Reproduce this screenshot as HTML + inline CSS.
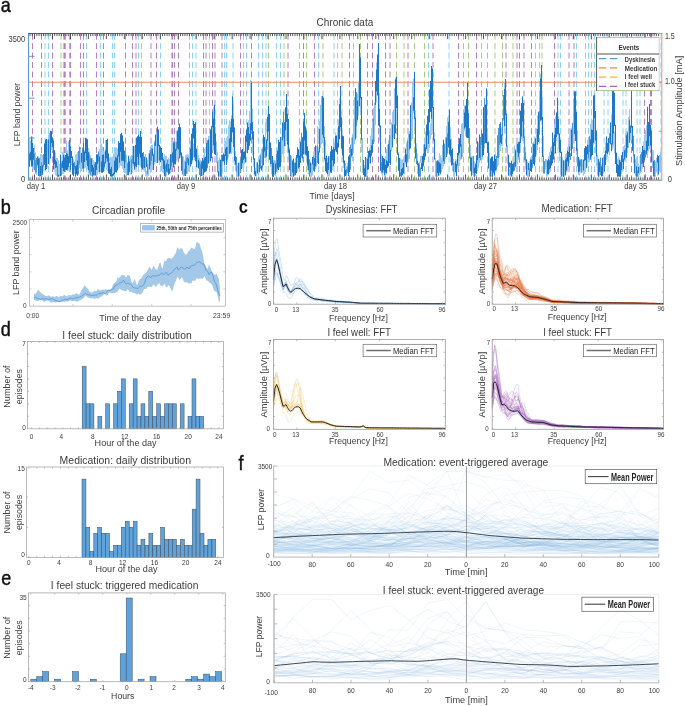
<!DOCTYPE html>
<html lang="en"><head><meta charset="utf-8"><title>Chronic data</title>
<style>
html,body{margin:0;padding:0;background:#fff}
body{width:685px;height:706px;overflow:hidden}
svg{display:block;font-family:"Liberation Sans",Arial,sans-serif;fill:#333}
svg line,svg polyline{stroke-linecap:butt}
</style></head><body>
<svg width="685" height="706" viewBox="0 0 685 706">
<rect width="685" height="706" fill="#fff"/>
<g id="panel-a">
<text transform="translate(0.7 12.3) scale(0.9 1)" font-size="20" fill="#111" stroke="#111" stroke-width="0.45">a</text>
<text transform="translate(344.9 25.5)" font-size="10.6" text-anchor="middle" fill="#3c3c3c" textLength="56.7" lengthAdjust="spacingAndGlyphs">Chronic data</text>
<path d="M61 33.7V180M69.5 33.7V180M189.5 33.7V180M268.5 33.7V180M284 33.7V180M299.5 33.7V180M306.5 33.7V180M323 33.7V180M342 33.7V180M360.5 33.7V180M396.5 33.7V180M404 33.7V180M414.5 33.7V180M424.5 33.7V180M463.5 33.7V180M468.5 33.7V180M481.5 33.7V180M487.5 33.7V180M495 33.7V180M502.5 33.7V180M513 33.7V180M542 33.7V180" stroke="#a9cd80" stroke-width="1" stroke-dasharray="6 3.45" fill="none"/>
<path d="M45 33.7V180M48.5 33.7V180M63.5 33.7V180M86.5 33.7V180M100.5 33.7V180M112.5 33.7V180M114.5 33.7V180M138.5 33.7V180M141.5 33.7V180M160.5 33.7V180M171.5 33.7V180M192.5 33.7V180M196 33.7V180M209.5 33.7V180M224.5 33.7V180M226.5 33.7V180M233 33.7V180M243.5 33.7V180M246.5 33.7V180M258.5 33.7V180M262.5 33.7V180M266 33.7V180M276.5 33.7V180M280.5 33.7V180M318.5 33.7V180M334 33.7V180M337.5 33.7V180M353.5 33.7V180M428.5 33.7V180M449 33.7V180M535.5 33.7V180M539.5 33.7V180M558 33.7V180M560.5 33.7V180M576.5 33.7V180M585.5 33.7V180M588.5 33.7V180M591.5 33.7V180M594.5 33.7V180M604 33.7V180M608 33.7V180M623 33.7V180M626 33.7V180M637 33.7V180M640 33.7V180M661 33.7V180" stroke="#8ed3f6" stroke-width="1" stroke-dasharray="6 3.45" fill="none"/>
<path d="M32.5 33.7V180M41.5 33.7V180M52.5 33.7V180M64.5 33.7V180M70.5 33.7V180M80.5 33.7V180M83.5 33.7V180M96.5 33.7V180M103.5 33.7V180M125.5 33.7V180M132.5 33.7V180M136 33.7V180M151 33.7V180M156.5 33.7V180M172.5 33.7V180M174.5 33.7V180M178.5 33.7V180M203.5 33.7V180M206 33.7V180M212.5 33.7V180M215 33.7V180M222 33.7V180M240.5 33.7V180M251.5 33.7V180M288 33.7V180M303.5 33.7V180M314.5 33.7V180M349.5 33.7V180M367.5 33.7V180M372.5 33.7V180M378.5 33.7V180M385.5 33.7V180M390 33.7V180M408 33.7V180M433 33.7V180M458.5 33.7V180M476.5 33.7V180M506 33.7V180M517 33.7V180M519.5 33.7V180M524 33.7V180M531.5 33.7V180M554.5 33.7V180M569 33.7V180M574 33.7V180M631.5 33.7V180M644.5 33.7V180M650.5 33.7V180M651.5 33.7V180" stroke="#b482c2" stroke-width="1" stroke-dasharray="6 3.45" fill="none"/>
<path d="M65.5 33.7V180" stroke="#e9b04a" stroke-width="1" stroke-dasharray="6 3.45" fill="none"/>
<line x1="28.5" y1="82.3" x2="661.8" y2="82.3" stroke="#ee8a66" stroke-width="1.1"/>
<path d="M29.5 138.7V162.5M30.5 140.4V161.4M31.5 139.4V162.1M32.5 136.6V169.3M33.5 149.4V169.5M34.5 144.8V162.7M35.5 152.2V173.9M36.5 159.5V174.9M37.5 155.9V167.7M38.5 156.5V175.3M39.5 157.5V176.7M40.5 154.1V175.8M41.5 154.2V174.3M42.5 155.1V165.3M43.5 155.6V171.3M44.5 155.2V163.1M45.5 148.9V163.4M46.5 145.5V163.8M47.5 139.8V167.5M48.5 134.6V157.6M49.5 143V165M50.5 143.6V151.8M51.5 131.2V149.7M52.5 137.7V150.7M53.5 138.2V165.9M54.5 157.6V171.4M55.5 152.5V175.2M56.5 158.1V176M57.5 157.9V174.4M58.5 160.2V176.7M59.5 163.7V172.2M60.5 158V175.5M61.5 161V175.5M62.5 151.7V174.1M63.5 152V173.7M64.5 153.8V168.2M65.5 160V167.2M66.5 140.6V166.1M67.5 150.2V170.9M68.5 141.2V170.6M69.5 140V159.2M70.5 142.2V170.4M71.5 152.1V165.1M72.5 158.6V171.1M73.5 159.3V176.1M74.5 164.7V173.9M75.5 154.8V176.6M76.5 154V167.1M77.5 151.9V174.6M78.5 152.1V172.9M79.5 148.4V167.9M80.5 149.3V172.5M81.5 152.7V171M82.5 150.7V168.7M83.5 151.2V165.1M84.5 150V168.3M85.5 137.8V167.8M86.5 146.5V165.4M87.5 146.8V169.5M88.5 148.1V173.7M89.5 151.3V174.5M90.5 155.6V175.9M91.5 157.7V176.3M92.5 158V171.6M93.5 159.9V176.6M94.5 161.8V172.1M95.5 162.1V175.9M96.5 166.5V175.5M97.5 156.7V174.7M98.5 154V172.3M99.5 148.8V173.8M100.5 144.3V165.8M101.5 143.4V166.8M102.5 146.6V155.4M103.5 150.7V171.1M104.5 151.5V170.9M105.5 140.1V157.2M106.5 140V169.8M107.5 151.5V171.3M108.5 154V171.9M109.5 157.4V172.1M110.5 156.7V176.1M111.5 157.3V172.7M112.5 156.9V175.9M113.5 153.5V174.9M114.5 150.3V166.1M115.5 147.6V171.3M116.5 147.5V169.4M117.5 148.5V169.9M118.5 141V168.5M119.5 145.8V167.4M120.5 134.2V165.4M121.5 144V165.9M122.5 153.8V168.4M123.5 158.1V171.9M124.5 157.9V173.1M125.5 157.7V173.6M126.5 154.9V176.4M127.5 162V175M128.5 156.2V173.8M129.5 159V172.2M130.5 156.3V174.7M131.5 155.3V172.2M132.5 145.6V172.7M133.5 156.4V166.2M134.5 146.3V166.5M135.5 146.1V168.1M136.5 136.9V167.8M137.5 142.2V165.1M138.5 145.5V160.3M139.5 147.9V165.8M140.5 131V166.6M141.5 138.2V167.2M142.5 156V168.9M143.5 154.8V170.4M144.5 160.4V171.8M145.5 162.7V175.9M146.5 170.6V176.8M147.5 159.7V176.8M148.5 153.6V174.3M149.5 149.9V167.2M150.5 146.5V172.7M151.5 145V171.2M152.5 144.4V169.8M153.5 153.4V165.6M154.5 140.8V164.8M155.5 144.8V162.5M156.5 136.1V160.5M157.5 134.2V154.7M158.5 129.6V161.5M159.5 153.1V165.3M160.5 152V163.1M161.5 151.2V171M162.5 154.4V172.2M163.5 156.9V173.4M164.5 154.1V176.7M165.5 156V176.8M166.5 156.2V176.5M167.5 160.4V170.5M168.5 157.6V171M169.5 158.7V168.7M170.5 165.9V173M171.5 143.2V167.2M172.5 139.5V168.2M173.5 140.7V163.3M174.5 143.9V165.3M175.5 141.8V162.5M176.5 131.1V161.5M177.5 133V160.6M178.5 141.9V157.6M179.5 123.7V155.4M180.5 143.7V157.8M181.5 154.7V169.3M182.5 156.3V171.7M183.5 156.6V176.5M184.5 160.6V171.1M185.5 155.3V175.9M186.5 154.4V174M187.5 154.5V173.8M188.5 154.4V171.3M189.5 149V166.6M190.5 140.6V163.6M191.5 141.4V163.6M192.5 130.5V159.9M193.5 143.4V157.4M194.5 138.5V160.1M195.5 122.3V159.8M196.5 148.4V162.8M197.5 145.7V168.1M198.5 154.9V164.9M199.5 157.9V174.7M200.5 159.9V176.8M201.5 162.8V173.1M202.5 160.9V176.3M203.5 154.4V170.5M204.5 148.8V166.9M205.5 155.5V169.8M206.5 149.8V169.4M207.5 140.2V158.3M208.5 136V149.9M209.5 135.6V161.7M210.5 148.9V159.2M211.5 127V158.6M212.5 123V150.2M213.5 106.8V150.5M214.5 104.8V143.5M215.5 126.8V149.7M216.5 141.6V160.9M217.5 151.7V169.3M218.5 160.1V175.5M219.5 167.1V173M220.5 163.7V172.6M221.5 163.9V172.3M222.5 157.1V173.5M223.5 152.4V162.1M224.5 144.1V166.8M225.5 141.1V160.6M226.5 139.1V164.7M227.5 135.7V162.1M228.5 125.6V157.5M229.5 120.1V152.3M230.5 121.4V153.9M231.5 115.3V154.1M232.5 93.6V130M233.5 104V132.7M234.5 131.4V164.7M235.5 151.3V171.1M236.5 163.7V176.8M237.5 165.8V175.9M238.5 167.3V174.2M239.5 167.1V176.5M240.5 158.4V170M241.5 151.2V167.9M242.5 149V168.3M243.5 137.3V168M244.5 151.2V164.1M245.5 140.5V159.3M246.5 132.4V152.6M247.5 126.9V147.5M248.5 120.6V145.1M249.5 111.1V144.9M250.5 80.1V140.2M251.5 82.6V113.9M252.5 108.5V155.6M253.5 151.6V166.9M254.5 159V176.8M255.5 168V176.5M256.5 162.2V176.8M257.5 163.7V174M258.5 165.5V174.5M259.5 154.9V169.9M260.5 153.4V169.2M261.5 148.6V164.2M262.5 147.6V166.3M263.5 143.9V163M264.5 144.3V158.1M265.5 122.1V147.2M266.5 118.9V131.7M267.5 114.4V149.8M268.5 106V157.3M269.5 136.8V158.5M270.5 148.1V167M271.5 150.5V174.3M272.5 158.7V176.8M273.5 159.8V176.4M274.5 160V175.2M275.5 160.4V176.3M276.5 151.1V164.7M277.5 147.6V172.7M278.5 153.1V169.8M279.5 151.6V167.8M280.5 142.8V164.9M281.5 136.8V162.6M282.5 133.6V153.9M283.5 135.7V156.7M284.5 126.8V146.8M285.5 122.4V146.2M286.5 95.4V141.1M287.5 107.4V151.9M288.5 132.7V160.7M289.5 147.3V159.9M290.5 158.6V168.1M291.5 156V176.8M292.5 163.6V176.8M293.5 167.4V175.3M294.5 162.3V176M295.5 157.6V173.5M296.5 157.3V173.3M297.5 151.3V171.7M298.5 150.7V160.7M299.5 143.8V164.4M300.5 140.6V159.1M301.5 146.5V157.9M302.5 139.7V160.9M303.5 123.8V146.2M304.5 116.5V154.8M305.5 125.1V155.1M306.5 138V162M307.5 157.6V169.8M308.5 159.4V174.3M309.5 163.2V174M310.5 161.6V176.8M311.5 165.8V176.8M312.5 161.3V175.6M313.5 151.6V166.5M314.5 151.3V171.8M315.5 150V168.9M316.5 146V154.5M317.5 126.1V162.4M318.5 127.7V143.4M319.5 121V144.1M320.5 122.1V144.2M321.5 122.4V144.1M322.5 109.2V143.1M323.5 97.8V146.4M324.5 126V161.6M325.5 140.2V166.5M326.5 158.7V168.9M327.5 158.1V176.8M328.5 161.9V176.5M329.5 156V176.8M330.5 155.7V163.9M331.5 158.3V173.1M332.5 152.1V170.4M333.5 138.9V165.4M334.5 142.6V163M335.5 132.5V151.4M336.5 135.1V152.6M337.5 128.4V140.8M338.5 119.5V144.3M339.5 98.3V138.3M340.5 86V131M341.5 110.8V131M342.5 129.7V159.2M343.5 137.9V167.9M344.5 161.5V176.8M345.5 163.1V172M346.5 166.4V176.8M347.5 163.1V173.1M348.5 156.4V172.3M349.5 154V171.4M350.5 151.6V163.8M351.5 137.5V157.7M352.5 133.8V160.9M353.5 124.2V150.6M354.5 123.7V141.6M355.5 125.6V140.4M356.5 100.2V137.8M357.5 94.1V122.1M358.5 86.1V114.3M359.5 44V87.4M360.5 74.6V114.6M361.5 113.3V152.2M362.5 141.8V169.9M363.5 163V172.7M364.5 165.1V176.8M365.5 158.6V176.8M366.5 157.8V176.8M367.5 154.5V174.5M368.5 155V170M369.5 147.9V163.4M370.5 135.8V158.4M371.5 127.9V156.6M372.5 121V148.9M373.5 108.3V143.2M374.5 105.5V142M375.5 90.9V125.2M376.5 62.3V102.4M377.5 54.9V95.9M378.5 42.9V125.7M379.5 93.3V140.6M380.5 131V155.5M381.5 154.2V174.3M382.5 169.6V176.8M383.5 164.3V173M384.5 167.3V176.8M385.5 156.4V175.4M386.5 149V171.5M387.5 144.6V167.2M388.5 140.3V166.2M389.5 140.4V154.9M390.5 134.3V152.9M391.5 122.3V151.3M392.5 111.5V147.9M393.5 110.4V137.9M394.5 88.2V125.7M395.5 77.4V126.4M396.5 79.5V125.6M397.5 119V153.4M398.5 152V165.9M399.5 157.6V176.7M400.5 158.4V176.8M401.5 159.5V176.8M402.5 159.4V172M403.5 158.8V173.8M404.5 154.8V174.2M405.5 147.7V164.4M406.5 142.5V166.8M407.5 149V163.4M408.5 136.9V159.6M409.5 130.9V159.1M410.5 129.3V148.2M411.5 106.9V141.1M412.5 81.6V108.2M413.5 78.5V113.3M414.5 72V128.7M415.5 110.3V144.6M416.5 143.3V161M417.5 153.4V173.4M418.5 163.2V175.1M419.5 161.6V176.8M420.5 156V162.9M421.5 155.7V168.7M422.5 155.6V168.8M423.5 144.6V166.9M424.5 139.9V158.3M425.5 131.7V148.4M426.5 125V150.7M427.5 127.4V152.9M428.5 130.5V151.1M429.5 130.3V147.9M430.5 123.3V139.4M431.5 94V135.1M432.5 68.5V130.7M433.5 114.1V141.6M434.5 132.4V160.1M435.5 158.8V174.2M436.5 170.8V176.8M437.5 160.3V176.8M438.5 159.8V173.2M439.5 153.2V175.8M440.5 155.4V174.7M441.5 157.5V165.7M442.5 154.9V169M443.5 146.3V166.2M444.5 148.2V163.7M445.5 141V158.1M446.5 125.9V142.3M447.5 117.4V154.8M448.5 115.3V144.7M449.5 109.4V138.6M450.5 127.2V162.6M451.5 138.4V163.8M452.5 153.4V171.3M453.5 159V176.8M454.5 164.3V176.8M455.5 159.2V171M456.5 159.4V173.6M457.5 159.5V168.7M458.5 155.6V168.9M459.5 152.2V165.9M460.5 145.9V160.3M461.5 123.9V147.2M462.5 123.1V152.6M463.5 116V128M464.5 105.5V131.1M465.5 105.8V136M466.5 103V138.2M467.5 82.6V128.6M468.5 120.1V136.9M469.5 132.6V152.7M470.5 144.8V172.1M471.5 156V176.7M472.5 156V175M473.5 162.7V176.8M474.5 161.4V176.8M475.5 166.6V176.1M476.5 155.8V173.9M477.5 147.9V171M478.5 148.1V168.3M479.5 153.2V162.9M480.5 140.3V154.5M481.5 137.7V163.2M482.5 136.6V159.4M483.5 128.1V152M484.5 111V148.7M485.5 111.3V140.9M486.5 88.4V139.6M487.5 130.7V148.3M488.5 140.9V162.4M489.5 152.5V176.4M490.5 166.9V176.8M491.5 157V176.8M492.5 158.5V176.8M493.5 164.3V174.3M494.5 157.1V175.8M495.5 153.2V171.6M496.5 156.9V171.3M497.5 152.4V167.5M498.5 134.8V165.6M499.5 141.6V157M500.5 136.4V151M501.5 127.5V146M502.5 119.7V146.2M503.5 98.7V121M504.5 82.5V133.4M505.5 79V126.7M506.5 114.2V151.6M507.5 148V164.3M508.5 158V173.1M509.5 168.8V176.8M510.5 169.4V176.8M511.5 167.5V176.8M512.5 167.5V175.7M513.5 156.3V168.8M514.5 145.3V170.5M515.5 149.1V167.8M516.5 141.8V165.7M517.5 151.6V164.2M518.5 141.6V159.7M519.5 138.1V157.3M520.5 115.5V152.4M521.5 120.4V138.9M522.5 96.6V141M523.5 107.5V143.1M524.5 129V148.1M525.5 146.8V169.7M526.5 163.4V172.5M527.5 167.4V176.8M528.5 162.9V176.8M529.5 160.9V175.7M530.5 157.3V165.4M531.5 156.2V169.9M532.5 143V168.2M533.5 141.6V154.7M534.5 136.5V153.5M535.5 145.9V157.5M536.5 128.3V155.6M537.5 115.6V149.9M538.5 111.2V140.3M539.5 92.6V112.5M540.5 73.8V122.1M541.5 65V118.9M542.5 96.8V137M543.5 135.7V171.7M544.5 165V173.8M545.5 159.9V169.6M546.5 160.8V176.8M547.5 160.3V176.6M548.5 156.2V174.7M549.5 152.3V173.1M550.5 147.2V171.9M551.5 146.3V157.8M552.5 142.7V163.7M553.5 137.9V154M554.5 123.9V154.5M555.5 116.5V140.7M556.5 112.7V140.9M557.5 97.8V132.9M558.5 116.2V148.9M559.5 136.2V161.2M560.5 156.4V174.7M561.5 159.8V176.3M562.5 165.7V176.8M563.5 163.3V176.8M564.5 161.6V176.8M565.5 154.2V175.4M566.5 152.9V172.6M567.5 147V171.4M568.5 143.6V157.7M569.5 134.3V162.5M570.5 128.6V150.6M571.5 127.7V155.3M572.5 132.5V145.3M573.5 115.7V139.1M574.5 115V136.7M575.5 94.2V136.7M576.5 132V155.2M577.5 130.4V164.7M578.5 162.5V175.3M579.5 158.5V175.4M580.5 165.5V172.6M581.5 160V171.4M582.5 159.6V172.2M583.5 164.7V175.8M584.5 149.1V173.9M585.5 157.3V172M586.5 151V168.5M587.5 139.6V165.7M588.5 137.1V159.8M589.5 135.8V161.9M590.5 124.1V158.5M591.5 119.4V147.1M592.5 119.8V149.7M593.5 117.2V144.6M594.5 97.8V142.7M595.5 127V153.3M596.5 134.6V166.1M597.5 154.7V166.6M598.5 159.4V176.8M599.5 160.9V176.8M600.5 163.4V172.5M601.5 164.5V173.9M602.5 165.7V171.5M603.5 162.1V173.4M604.5 161.3V171.5M605.5 142.7V163M606.5 139.5V160.1M607.5 144.5V157M608.5 137.8V152.7M609.5 142V154.9M610.5 122.8V143.3M611.5 114.5V149.3M612.5 116.5V149.6M613.5 89.6V147.4M614.5 131.7V153.6M615.5 134.8V153.5M616.5 152.2V168.6M617.5 158.7V174.6M618.5 156.3V165.6M619.5 158.2V168.5M620.5 159.7V175.7M621.5 155.7V174.1M622.5 154.4V171.2M623.5 146.2V169.4M624.5 145.2V161.4M625.5 133.6V160.8M626.5 131.1V156M627.5 130.7V152.8M628.5 116.9V147.5M629.5 109V140.3M630.5 125V140.5M631.5 88.4V139.9M632.5 138.6V150.6M633.5 147.1V163.6M634.5 161.9V168.7M635.5 159V170.2M636.5 157.6V173.7M637.5 156V176.8M638.5 163.4V176.7M639.5 165.8V175M640.5 160V173.5M641.5 161.6V171.7M642.5 149V168.7M643.5 141.5V163.7M644.5 135.1V157M645.5 130.2V158M646.5 125.4V155.5M647.5 128.3V158.1M648.5 125.5V151.4M649.5 104V149.5M650.5 129.1V150.3M651.5 128.3V162.5M652.5 149.5V167.9M653.5 150.3V165.6M654.5 164.3V176.8M655.5 162.4V176.8M656.5 163.5V172.6M657.5 157.9V176.2M658.5 158V171.3M659.5 157.3V171.3M660.5 152.1V172.7" stroke="#9ccbef" stroke-width="1.05" fill="none"/>
<path d="M47.5 144.2V151.7M49.5 132.9V163.8M59.5 167.9V176.4M80.5 153.9V169.1M100.5 153.3V167.3M126.5 160.3V176.2M130.5 158.7V168.4M145.5 154V169.9M148.5 168.3V175.7M156.5 132.3V163.2M183.5 165.2V173.3M189.5 146.9V162.9M197.5 152.7V162.7M209.5 145.3V158.5M216.5 148.8V163M219.5 157.5V176.8M228.5 138.5V154M237.5 165.5V176.8M239.5 162.5V175.5M256.5 163.7V172.5M258.5 164.4V175.5M274.5 160.7V173.3M281.5 139.3V161.6M291.5 157.4V176.8M311.5 163.3V176.8M316.5 149V166.7M320.5 104.7V148M321.5 96.1V122.5M329.5 159.1V166.3M353.5 124.2V150.6M354.5 97.1V144.2M358.5 82.6V115.4M362.5 138.1V173.3M366.5 164.8V176.8M374.5 102.7V119.8M391.5 132.5V151M393.5 109.6V125.9M404.5 156.3V174.4M408.5 132.9V158.8M411.5 102.3V112.1M412.5 103V139.1M435.5 157.9V176.8M441.5 160.6V172.1M442.5 145.1V161.9M445.5 137.3V159.5M454.5 162.5V169.6M462.5 148.6V156.8M463.5 127.1V152.2M472.5 156.6V169.6M478.5 142.6V165.6M489.5 160.3V165.5M507.5 145.2V162.7M516.5 150.4V161.9M527.5 161.8V176.8M536.5 134.5V152.8M545.5 159.1V168.5M546.5 159.4V166.8M562.5 157.4V175.4M564.5 160.6V174.9M573.5 98.4V124M582.5 163.1V168.6M597.5 155.3V175.4M603.5 156.2V173.2M628.5 141.5V147.8M635.5 159.7V176.3M639.5 167.1V172.5M652.5 152.6V167.6M655.5 161.5V171.1M656.5 157.7V171.7M659.5 155V170.7M660.5 152.5V165.3" stroke="#8ec4ec" stroke-width="1.05" fill="none"/>
<path d="M34.5 153.5V170.3M35.5 160.1V172.4M36.5 157.9V172.2M39.5 158.2V176.4M41.5 162.2V175.6M43.5 153.9V166.5M57.5 166.1V176.8M61.5 163.1V175.2M74.5 161.7V169.3M78.5 151V174.5M79.5 146.8V164.6M82.5 147.5V168.8M89.5 154.5V172.4M90.5 158.3V174.7M94.5 164V175.5M98.5 151.4V161.8M125.5 153.2V162.5M127.5 163.5V175M131.5 159.3V174.2M132.5 155.8V163.4M143.5 152.1V167.8M147.5 164V174M150.5 150.2V165.5M151.5 148.1V161.1M154.5 142.4V162M165.5 165.1V176.8M167.5 159.5V172.6M171.5 154.2V166.4M176.5 142V150.7M182.5 156.3V174.5M184.5 168.7V175.7M186.5 157.9V173.5M187.5 157.1V163.1M199.5 161.4V175M200.5 164.2V176.8M207.5 140.2V168.3M217.5 161.7V172.5M221.5 154.7V176.7M227.5 146.9V159.8M236.5 157.1V171.8M240.5 158.5V172.9M260.5 155.1V168.4M262.5 148.9V167.7M265.5 146.8V157.8M271.5 147.9V164M276.5 153.9V171.4M283.5 111.7V137.8M290.5 155.1V176.5M294.5 163.2V175.4M301.5 132.8V156.6M309.5 159.2V176.8M313.5 156.5V170.7M317.5 145.4V162.9M346.5 169.1V174.6M347.5 166.4V172.3M350.5 144.5V169.4M352.5 137.3V154.9M356.5 92.2V125.9M373.5 118.5V143.9M381.5 161.9V172.6M389.5 134.7V162.9M400.5 172.2V176M407.5 140.4V161.6M416.5 148.5V164M419.5 164.6V176.8M420.5 167.4V176.8M436.5 160.9V176.8M444.5 143.5V164.1M447.5 133.4V153.3M453.5 163.1V171.7M461.5 144.3V158.7M469.5 127.9V158.5M473.5 156V173M480.5 137V160.2M481.5 130V145.1M484.5 98.2V143.9M496.5 156.1V169.4M497.5 135.3V157.7M498.5 128V158.1M499.5 124.1V145.1M502.5 117.9V135.8M503.5 95.1V119.2M510.5 163.1V175.1M514.5 162V170.6M524.5 136.4V160.1M525.5 152.2V161.3M529.5 168.6V176.8M532.5 154.7V167.5M539.5 110.9V134.6M543.5 155.7V173.4M544.5 161V173.4M570.5 153.2V160.1M572.5 122.7V148.9M577.5 148.2V166.5M580.5 159.5V166.6M581.5 158.9V172.7M588.5 145.1V158.3M589.5 136.2V152M600.5 157.5V175M609.5 133.3V142.9M625.5 148.5V157M633.5 135.8V155.6M637.5 170.6V176.8M640.5 154.2V171.3M641.5 152.2V164.1M645.5 150.3V156.9M654.5 159.9V176.8" stroke="#4a96d6" stroke-width="1.05" fill="none"/>
<path d="M29.5 153.6V166.8M30.5 151.8V160M31.5 136.6V166.4M32.5 143V166.4M33.5 147.9V159.8M37.5 156.8V164.9M38.5 158.4V175.9M40.5 165.9V176.2M42.5 165.2V174.8M44.5 143.5V164.8M45.5 139.5V170.3M46.5 139.1V169M48.5 139.2V164M50.5 130.8V158.4M51.5 131.2V142.9M52.5 137.6V147.2M53.5 140.4V169.4M54.5 150.3V164.3M55.5 159.8V167.9M56.5 161.6V167.4M58.5 174.6V176.7M60.5 154.7V175.9M62.5 160.7V167.9M63.5 154.7V170.9M64.5 157.4V172.1M65.5 154.9V169.6M66.5 153.1V170.2M67.5 153.8V169.4M68.5 155.9V166.9M69.5 140V163.2M70.5 146.2V169.9M71.5 151.1V157.9M72.5 156.6V174.7M73.5 163V176.3M75.5 166.1V176.6M76.5 165.2V174.4M77.5 160.5V175.8M81.5 152.9V162.5M83.5 142.7V168.5M84.5 151.8V162M85.5 137.8V153.3M86.5 138.4V160.4M87.5 139.3V166.1M88.5 151.9V170.3M91.5 158.4V171.8M92.5 165V176.8M93.5 167.5V175.1M95.5 162.2V175.3M96.5 154.2V169.9M97.5 154.2V164.1M99.5 156.6V172M101.5 161.5V172.6M102.5 155.1V172.7M103.5 154.3V171.6M104.5 162.2V167.4M105.5 150.1V163.5M106.5 140V158.2M107.5 138.7V161.5M108.5 153.6V173.6M109.5 163V174.1M110.5 169.1V176.5M111.5 166.8V176.8M112.5 173.9V176.3M113.5 172.7V175.8M114.5 160.7V174.4M115.5 157.3V172.2M116.5 157.8V172.4M117.5 155.2V170.5M118.5 141.3V156.5M119.5 143V162.7M120.5 134.2V151.7M121.5 132.7V160.7M122.5 135.6V160.8M123.5 141.5V161.1M124.5 150.8V168.2M128.5 155.8V175.2M129.5 161.2V171.8M133.5 145.9V164.3M134.5 162V169.7M135.5 144.8V166.3M136.5 137.9V167.1M137.5 136.3V157.1M138.5 134.6V165.3M139.5 136.8V153.8M140.5 131V157.8M141.5 136.8V167.8M142.5 153.1V169.5M144.5 156.7V167.9M146.5 157.5V166.7M149.5 153.6V169.6M152.5 148.6V155.7M153.5 154.4V170.1M155.5 134.4V145.9M157.5 126.7V163.1M158.5 129.6V146M159.5 144.7V160.6M160.5 146.6V162M161.5 148V159.8M162.5 153V160.4M163.5 159.1V168.9M164.5 160.6V176.1M166.5 163.6V171.8M168.5 164.1V174.7M169.5 168.5V173.7M170.5 154.2V169.8M172.5 152.5V162.5M173.5 142.4V167.6M174.5 142.6V163.9M175.5 148.9V164.6M177.5 130.4V148.7M178.5 127.3V149.5M179.5 123.7V158.4M180.5 127.3V155.3M181.5 152.6V170.8M185.5 161.8V175.9M188.5 158.2V165.3M190.5 148.6V166.4M191.5 133.7V164.3M192.5 128.5V160.2M193.5 121V138.6M194.5 124V157.3M195.5 122.3V161.3M196.5 149.1V167.3M198.5 159.7V168.4M201.5 161.4V175.9M202.5 158V168.8M203.5 160.6V175.1M204.5 157.8V172.5M205.5 157.1V171.7M206.5 143.1V170.8M208.5 139.5V163.4M210.5 129.5V161.4M211.5 126.3V158M212.5 111.7V127.6M213.5 118.6V145.3M214.5 104.8V154.2M215.5 133.4V155.1M218.5 171.2V176.8M220.5 159.8V176.8M222.5 154.8V161.2M223.5 153.7V161M224.5 154.8V164.8M225.5 148.6V156.1M226.5 147V164.8M229.5 138.4V153.8M230.5 127.5V152.4M231.5 118.8V142M232.5 96.6V132.2M233.5 119.2V147M234.5 127.5V160.9M235.5 156.3V164.7M238.5 162.8V176.8M241.5 149.7V169.1M242.5 149.1V163.2M243.5 151.9V160.1M244.5 151.4V158.5M245.5 135.5V162.4M246.5 129.8V141.9M247.5 122.4V153.2M248.5 126.9V149.8M249.5 134.1V145.7M250.5 123.3V140.4M251.5 82.6V129.8M252.5 122.1V139.3M253.5 131.2V159.6M254.5 158.3V174.2M255.5 171.2V176.1M257.5 162.2V173.1M259.5 159.4V172.3M261.5 165.4V170.5M263.5 134.7V165.3M264.5 137V151.6M266.5 139.4V156.7M267.5 116.9V140.7M268.5 106V131.4M269.5 114.1V159.8M270.5 142.4V164.1M272.5 156V176.8M273.5 162.8V176.8M275.5 163.6V174.2M277.5 150.8V168.7M278.5 139.7V170M279.5 142.1V166.8M280.5 137.1V166.4M282.5 122.6V140.6M284.5 121.9V145.9M285.5 107.3V130.3M286.5 94.1V122.1M287.5 113.8V144.6M288.5 119.1V152.8M289.5 149.6V170.2M292.5 160.5V172.5M293.5 158.6V176.8M295.5 162.4V175.2M296.5 154.9V173M297.5 147.3V157.8M298.5 149.2V168.4M299.5 155.4V166.9M300.5 142.1V162.8M302.5 137.3V158.2M303.5 122V154.5M304.5 113.1V140.5M305.5 126.5V154.2M306.5 130.5V155.8M307.5 146.6V165.4M308.5 151V170.3M310.5 163V172.5M312.5 157V164.6M314.5 157.9V171.4M315.5 145.6V166.5M318.5 151.3V163.9M319.5 129.1V152.6M322.5 95.9V134.7M323.5 97.8V138M324.5 137.2V159.3M325.5 158.1V171.3M326.5 155.8V172.8M327.5 162.5V174M328.5 156.3V170.1M330.5 151.5V172.4M331.5 146.1V173.1M332.5 149.5V160.3M333.5 147.2V166.2M334.5 149V163.8M335.5 135.9V150.3M336.5 135.7V151.9M337.5 142.7V154.5M338.5 126.1V147.4M339.5 104.1V139.2M340.5 86V127.1M341.5 117.8V148.7M342.5 135.7V155.5M343.5 136.3V162.8M344.5 160.4V176.7M345.5 170V175.9M348.5 156.4V176.2M349.5 154.9V171.9M351.5 148.9V156.2M355.5 88.2V139M357.5 100.6V119.9M359.5 44V106.2M360.5 57.2V98.3M361.5 97V139.4M363.5 160V175.1M364.5 168.2V176.8M365.5 157V176.8M367.5 158.8V169.9M368.5 151V168.9M369.5 150.6V157.6M370.5 150.3V163.5M371.5 145.4V155.8M372.5 139.6V152.4M375.5 81.1V105.1M376.5 69.6V91.3M377.5 54.4V95.3M378.5 42.9V125.4M379.5 108.9V126.7M380.5 125.4V170.7M382.5 156V172.4M383.5 157.9V170.2M384.5 158.8V174.9M385.5 164.7V172.5M386.5 160.3V173.5M387.5 161.2V167.8M388.5 144.3V166.3M390.5 149.7V164.7M392.5 124.6V147.1M394.5 124.6V139M395.5 79.4V133.2M396.5 77V107.9M397.5 95.4V154.7M398.5 153.4V170.8M399.5 158V176.8M401.5 168.9V176.8M402.5 167.7V175.2M403.5 163V173.2M405.5 149.3V162.3M406.5 154.2V167.1M409.5 133.9V149.4M410.5 105.3V148.3M413.5 97.2V110.5M414.5 72V119.1M415.5 117.8V158.4M417.5 160.7V164.9M418.5 163.6V176.8M421.5 163.3V169M422.5 155.9V171M423.5 153.5V165.7M424.5 144.3V159.9M425.5 147.6V156.6M426.5 124.4V148.9M427.5 115.7V135.6M428.5 109.1V143.9M429.5 89.5V122.4M430.5 81.1V111.9M431.5 66.1V118.8M432.5 68.5V108M433.5 106.7V140.3M434.5 139V159.2M437.5 160.6V173M438.5 161.4V175.8M439.5 162.6V172.5M440.5 163.4V173.7M443.5 139.8V161.3M446.5 137.5V156.9M448.5 121.8V147.5M449.5 109.4V154.6M450.5 139.4V156.2M451.5 150.1V165.6M452.5 148.4V164.5M455.5 161.3V172.2M456.5 164.1V176.4M457.5 153V165.4M458.5 143.7V155.5M459.5 138.2V153.1M460.5 134.1V146.8M464.5 112.5V128.4M465.5 105.7V127.3M466.5 99.1V137M467.5 82.6V138M468.5 113.3V138.1M470.5 157.2V171.1M471.5 157.8V175.7M474.5 167.6V176.8M475.5 163.6V173M476.5 155.3V173.8M477.5 141.2V160.3M479.5 134.6V157.9M482.5 133.6V156.5M483.5 107.3V154.9M485.5 104.5V142.9M486.5 88.4V143.3M487.5 142.2V152.7M488.5 142.3V168.4M490.5 158.5V176.8M491.5 156.7V170.7M492.5 156.4V176.8M493.5 161.2V172.6M494.5 154.4V175.5M495.5 158.9V170.4M500.5 122.3V142.8M501.5 134.5V143.9M504.5 89.1V126.1M505.5 79V114.9M506.5 113.6V146.5M508.5 154.8V175.8M509.5 162.5V167.5M511.5 160.8V176.6M512.5 163.8V173.9M513.5 162.7V171.2M515.5 150.6V166.6M517.5 143.7V152.4M518.5 142.3V157.1M519.5 141.7V153.3M520.5 110.8V143M521.5 102.9V136.2M522.5 96.6V121.4M523.5 103V137.7M526.5 159.2V175.5M528.5 163.1V169.9M530.5 159.4V170.9M531.5 159.6V171.4M533.5 143.7V164M534.5 143.9V165.8M535.5 138.6V156.7M537.5 129V144.8M538.5 112.3V142M540.5 78.5V120.5M541.5 65V120.3M542.5 116.9V157M547.5 160.5V174.1M548.5 158.9V174.2M549.5 160.4V169.2M550.5 155.3V168.2M551.5 151.2V165.4M552.5 132.6V163.1M553.5 142.2V159.6M554.5 134.7V146M555.5 128.1V153.4M556.5 112.6V137M557.5 97.8V134.2M558.5 119.1V134.8M559.5 133.5V152.3M560.5 140.1V153.1M561.5 151.8V176.6M563.5 160.2V176.8M565.5 159.5V175.2M566.5 157.5V170.4M567.5 150.7V161.5M568.5 151.9V166.2M569.5 146.6V157.1M571.5 129.8V156M574.5 91.4V133.9M575.5 91.2V141.1M576.5 112.1V150.7M578.5 157.1V172.3M579.5 160.6V171.6M583.5 159.5V170.4M584.5 148.2V160.8M585.5 145.9V160.3M586.5 146.8V167.9M587.5 144.8V154.3M590.5 139.3V159.8M591.5 129.6V156.4M592.5 129.9V155M593.5 95.5V142.7M594.5 94.7V118.3M595.5 111V140.6M596.5 130.6V156.6M598.5 158.7V176.8M599.5 162.3V171.9M601.5 166.6V176.4M602.5 157.7V176.2M604.5 154.6V171.5M605.5 150.8V165M606.5 136.4V153.1M607.5 142.9V153.9M608.5 138V151.6M610.5 122.4V144.3M611.5 143.2V151.2M612.5 87.4V144.5M613.5 89.6V133.5M614.5 92.7V126.1M615.5 124.8V164.1M616.5 153V173M617.5 163.9V176.8M618.5 165V176.5M619.5 160V176.8M620.5 162V176.8M621.5 155.3V170.3M622.5 151.9V162.1M623.5 158.7V168.9M624.5 150.2V159.6M626.5 135.3V157.7M627.5 132.5V147.8M629.5 119.5V142.8M630.5 126.1V133M631.5 88.4V127.4M632.5 126.1V150.8M634.5 154.3V173.2M636.5 166.2V176.8M638.5 167V173M642.5 145.9V163.4M643.5 150.2V166.9M644.5 149.8V160.2M646.5 140.7V154.3M647.5 106.7V150.4M648.5 122.1V146.1M649.5 104V136.2M650.5 125V145.4M651.5 130.4V161.7M653.5 161.1V176.5M657.5 154.7V162.4M658.5 156V174.4" stroke="#1f78c6" stroke-width="1.05" fill="none"/>
<path d="M30 180v-2.6 M30 33.5v2.6M32.3 180v-2.6 M32.3 33.5v2.6M34.5 180v-5.6 M34.5 33.5v5.6M36.8 180v-2.6 M36.8 33.5v2.6M39 180v-2.6 M39 33.5v2.6M41.3 180v-2.6 M41.3 33.5v2.6M43.5 180v-2.6 M43.5 33.5v2.6M45.8 180v-2.6 M45.8 33.5v2.6M48 180v-2.6 M48 33.5v2.6M50.2 180v-2.6 M50.2 33.5v2.6M52.5 180v-5.6 M52.5 33.5v5.6M54.7 180v-2.6 M54.7 33.5v2.6M57 180v-2.6 M57 33.5v2.6M59.2 180v-2.6 M59.2 33.5v2.6M61.5 180v-2.6 M61.5 33.5v2.6M63.7 180v-2.6 M63.7 33.5v2.6M66 180v-2.6 M66 33.5v2.6M68.2 180v-2.6 M68.2 33.5v2.6M70.5 180v-5.6 M70.5 33.5v5.6M72.7 180v-2.6 M72.7 33.5v2.6M74.9 180v-2.6 M74.9 33.5v2.6M77.2 180v-2.6 M77.2 33.5v2.6M79.4 180v-2.6 M79.4 33.5v2.6M81.7 180v-2.6 M81.7 33.5v2.6M83.9 180v-2.6 M83.9 33.5v2.6M86.2 180v-2.6 M86.2 33.5v2.6M88.4 180v-5.6 M88.4 33.5v5.6M90.7 180v-2.6 M90.7 33.5v2.6M92.9 180v-2.6 M92.9 33.5v2.6M95.2 180v-2.6 M95.2 33.5v2.6M97.4 180v-2.6 M97.4 33.5v2.6M99.6 180v-2.6 M99.6 33.5v2.6M101.9 180v-2.6 M101.9 33.5v2.6M104.1 180v-2.6 M104.1 33.5v2.6M106.4 180v-5.6 M106.4 33.5v5.6M108.6 180v-2.6 M108.6 33.5v2.6M110.9 180v-2.6 M110.9 33.5v2.6M113.1 180v-2.6 M113.1 33.5v2.6M115.4 180v-2.6 M115.4 33.5v2.6M117.6 180v-2.6 M117.6 33.5v2.6M119.8 180v-2.6 M119.8 33.5v2.6M122.1 180v-2.6 M122.1 33.5v2.6M124.3 180v-5.6 M124.3 33.5v5.6M126.6 180v-2.6 M126.6 33.5v2.6M128.8 180v-2.6 M128.8 33.5v2.6M131.1 180v-2.6 M131.1 33.5v2.6M133.3 180v-2.6 M133.3 33.5v2.6M135.6 180v-2.6 M135.6 33.5v2.6M137.8 180v-2.6 M137.8 33.5v2.6M140.1 180v-2.6 M140.1 33.5v2.6M142.3 180v-5.6 M142.3 33.5v5.6M144.5 180v-2.6 M144.5 33.5v2.6M146.8 180v-2.6 M146.8 33.5v2.6M149 180v-2.6 M149 33.5v2.6M151.3 180v-2.6 M151.3 33.5v2.6M153.5 180v-2.6 M153.5 33.5v2.6M155.8 180v-2.6 M155.8 33.5v2.6M158 180v-2.6 M158 33.5v2.6M160.3 180v-5.6 M160.3 33.5v5.6M162.5 180v-2.6 M162.5 33.5v2.6M164.7 180v-2.6 M164.7 33.5v2.6M167 180v-2.6 M167 33.5v2.6M169.2 180v-2.6 M169.2 33.5v2.6M171.5 180v-2.6 M171.5 33.5v2.6M173.7 180v-2.6 M173.7 33.5v2.6M176 180v-2.6 M176 33.5v2.6M178.2 180v-5.6 M178.2 33.5v5.6M180.5 180v-2.6 M180.5 33.5v2.6M182.7 180v-2.6 M182.7 33.5v2.6M185 180v-2.6 M185 33.5v2.6M187.2 180v-2.6 M187.2 33.5v2.6M189.4 180v-2.6 M189.4 33.5v2.6M191.7 180v-2.6 M191.7 33.5v2.6M193.9 180v-2.6 M193.9 33.5v2.6M196.2 180v-5.6 M196.2 33.5v5.6M198.4 180v-2.6 M198.4 33.5v2.6M200.7 180v-2.6 M200.7 33.5v2.6M202.9 180v-2.6 M202.9 33.5v2.6M205.2 180v-2.6 M205.2 33.5v2.6M207.4 180v-2.6 M207.4 33.5v2.6M209.6 180v-2.6 M209.6 33.5v2.6M211.9 180v-2.6 M211.9 33.5v2.6M214.1 180v-5.6 M214.1 33.5v5.6M216.4 180v-2.6 M216.4 33.5v2.6M218.6 180v-2.6 M218.6 33.5v2.6M220.9 180v-2.6 M220.9 33.5v2.6M223.1 180v-2.6 M223.1 33.5v2.6M225.4 180v-2.6 M225.4 33.5v2.6M227.6 180v-2.6 M227.6 33.5v2.6M229.9 180v-2.6 M229.9 33.5v2.6M232.1 180v-5.6 M232.1 33.5v5.6M234.3 180v-2.6 M234.3 33.5v2.6M236.6 180v-2.6 M236.6 33.5v2.6M238.8 180v-2.6 M238.8 33.5v2.6M241.1 180v-2.6 M241.1 33.5v2.6M243.3 180v-2.6 M243.3 33.5v2.6M245.6 180v-2.6 M245.6 33.5v2.6M247.8 180v-2.6 M247.8 33.5v2.6M250.1 180v-5.6 M250.1 33.5v5.6M252.3 180v-2.6 M252.3 33.5v2.6M254.5 180v-2.6 M254.5 33.5v2.6M256.8 180v-2.6 M256.8 33.5v2.6M259 180v-2.6 M259 33.5v2.6M261.3 180v-2.6 M261.3 33.5v2.6M263.5 180v-2.6 M263.5 33.5v2.6M265.8 180v-2.6 M265.8 33.5v2.6M268 180v-5.6 M268 33.5v5.6M270.3 180v-2.6 M270.3 33.5v2.6M272.5 180v-2.6 M272.5 33.5v2.6M274.8 180v-2.6 M274.8 33.5v2.6M277 180v-2.6 M277 33.5v2.6M279.2 180v-2.6 M279.2 33.5v2.6M281.5 180v-2.6 M281.5 33.5v2.6M283.7 180v-2.6 M283.7 33.5v2.6M286 180v-5.6 M286 33.5v5.6M288.2 180v-2.6 M288.2 33.5v2.6M290.5 180v-2.6 M290.5 33.5v2.6M292.7 180v-2.6 M292.7 33.5v2.6M295 180v-2.6 M295 33.5v2.6M297.2 180v-2.6 M297.2 33.5v2.6M299.4 180v-2.6 M299.4 33.5v2.6M301.7 180v-2.6 M301.7 33.5v2.6M303.9 180v-5.6 M303.9 33.5v5.6M306.2 180v-2.6 M306.2 33.5v2.6M308.4 180v-2.6 M308.4 33.5v2.6M310.7 180v-2.6 M310.7 33.5v2.6M312.9 180v-2.6 M312.9 33.5v2.6M315.2 180v-2.6 M315.2 33.5v2.6M317.4 180v-2.6 M317.4 33.5v2.6M319.7 180v-2.6 M319.7 33.5v2.6M321.9 180v-5.6 M321.9 33.5v5.6M324.1 180v-2.6 M324.1 33.5v2.6M326.4 180v-2.6 M326.4 33.5v2.6M328.6 180v-2.6 M328.6 33.5v2.6M330.9 180v-2.6 M330.9 33.5v2.6M333.1 180v-2.6 M333.1 33.5v2.6M335.4 180v-2.6 M335.4 33.5v2.6M337.6 180v-2.6 M337.6 33.5v2.6M339.9 180v-5.6 M339.9 33.5v5.6M342.1 180v-2.6 M342.1 33.5v2.6M344.3 180v-2.6 M344.3 33.5v2.6M346.6 180v-2.6 M346.6 33.5v2.6M348.8 180v-2.6 M348.8 33.5v2.6M351.1 180v-2.6 M351.1 33.5v2.6M353.3 180v-2.6 M353.3 33.5v2.6M355.6 180v-2.6 M355.6 33.5v2.6M357.8 180v-5.6 M357.8 33.5v5.6M360.1 180v-2.6 M360.1 33.5v2.6M362.3 180v-2.6 M362.3 33.5v2.6M364.6 180v-2.6 M364.6 33.5v2.6M366.8 180v-2.6 M366.8 33.5v2.6M369 180v-2.6 M369 33.5v2.6M371.3 180v-2.6 M371.3 33.5v2.6M373.5 180v-2.6 M373.5 33.5v2.6M375.8 180v-5.6 M375.8 33.5v5.6M378 180v-2.6 M378 33.5v2.6M380.3 180v-2.6 M380.3 33.5v2.6M382.5 180v-2.6 M382.5 33.5v2.6M384.8 180v-2.6 M384.8 33.5v2.6M387 180v-2.6 M387 33.5v2.6M389.2 180v-2.6 M389.2 33.5v2.6M391.5 180v-2.6 M391.5 33.5v2.6M393.7 180v-5.6 M393.7 33.5v5.6M396 180v-2.6 M396 33.5v2.6M398.2 180v-2.6 M398.2 33.5v2.6M400.5 180v-2.6 M400.5 33.5v2.6M402.7 180v-2.6 M402.7 33.5v2.6M405 180v-2.6 M405 33.5v2.6M407.2 180v-2.6 M407.2 33.5v2.6M409.5 180v-2.6 M409.5 33.5v2.6M411.7 180v-5.6 M411.7 33.5v5.6M413.9 180v-2.6 M413.9 33.5v2.6M416.2 180v-2.6 M416.2 33.5v2.6M418.4 180v-2.6 M418.4 33.5v2.6M420.7 180v-2.6 M420.7 33.5v2.6M422.9 180v-2.6 M422.9 33.5v2.6M425.2 180v-2.6 M425.2 33.5v2.6M427.4 180v-2.6 M427.4 33.5v2.6M429.7 180v-5.6 M429.7 33.5v5.6M431.9 180v-2.6 M431.9 33.5v2.6M434.1 180v-2.6 M434.1 33.5v2.6M436.4 180v-2.6 M436.4 33.5v2.6M438.6 180v-2.6 M438.6 33.5v2.6M440.9 180v-2.6 M440.9 33.5v2.6M443.1 180v-2.6 M443.1 33.5v2.6M445.4 180v-2.6 M445.4 33.5v2.6M447.6 180v-5.6 M447.6 33.5v5.6M449.9 180v-2.6 M449.9 33.5v2.6M452.1 180v-2.6 M452.1 33.5v2.6M454.4 180v-2.6 M454.4 33.5v2.6M456.6 180v-2.6 M456.6 33.5v2.6M458.8 180v-2.6 M458.8 33.5v2.6M461.1 180v-2.6 M461.1 33.5v2.6M463.3 180v-2.6 M463.3 33.5v2.6M465.6 180v-5.6 M465.6 33.5v5.6M467.8 180v-2.6 M467.8 33.5v2.6M470.1 180v-2.6 M470.1 33.5v2.6M472.3 180v-2.6 M472.3 33.5v2.6M474.6 180v-2.6 M474.6 33.5v2.6M476.8 180v-2.6 M476.8 33.5v2.6M479 180v-2.6 M479 33.5v2.6M481.3 180v-2.6 M481.3 33.5v2.6M483.5 180v-5.6 M483.5 33.5v5.6M485.8 180v-2.6 M485.8 33.5v2.6M488 180v-2.6 M488 33.5v2.6M490.3 180v-2.6 M490.3 33.5v2.6M492.5 180v-2.6 M492.5 33.5v2.6M494.8 180v-2.6 M494.8 33.5v2.6M497 180v-2.6 M497 33.5v2.6M499.3 180v-2.6 M499.3 33.5v2.6M501.5 180v-5.6 M501.5 33.5v5.6M503.7 180v-2.6 M503.7 33.5v2.6M506 180v-2.6 M506 33.5v2.6M508.2 180v-2.6 M508.2 33.5v2.6M510.5 180v-2.6 M510.5 33.5v2.6M512.7 180v-2.6 M512.7 33.5v2.6M515 180v-2.6 M515 33.5v2.6M517.2 180v-2.6 M517.2 33.5v2.6M519.5 180v-5.6 M519.5 33.5v5.6M521.7 180v-2.6 M521.7 33.5v2.6M523.9 180v-2.6 M523.9 33.5v2.6M526.2 180v-2.6 M526.2 33.5v2.6M528.4 180v-2.6 M528.4 33.5v2.6M530.7 180v-2.6 M530.7 33.5v2.6M532.9 180v-2.6 M532.9 33.5v2.6M535.2 180v-2.6 M535.2 33.5v2.6M537.4 180v-5.6 M537.4 33.5v5.6M539.7 180v-2.6 M539.7 33.5v2.6M541.9 180v-2.6 M541.9 33.5v2.6M544.2 180v-2.6 M544.2 33.5v2.6M546.4 180v-2.6 M546.4 33.5v2.6M548.6 180v-2.6 M548.6 33.5v2.6M550.9 180v-2.6 M550.9 33.5v2.6M553.1 180v-2.6 M553.1 33.5v2.6M555.4 180v-5.6 M555.4 33.5v5.6M557.6 180v-2.6 M557.6 33.5v2.6M559.9 180v-2.6 M559.9 33.5v2.6M562.1 180v-2.6 M562.1 33.5v2.6M564.4 180v-2.6 M564.4 33.5v2.6M566.6 180v-2.6 M566.6 33.5v2.6M568.8 180v-2.6 M568.8 33.5v2.6M571.1 180v-2.6 M571.1 33.5v2.6M573.3 180v-5.6 M573.3 33.5v5.6M575.6 180v-2.6 M575.6 33.5v2.6M577.8 180v-2.6 M577.8 33.5v2.6M580.1 180v-2.6 M580.1 33.5v2.6M582.3 180v-2.6 M582.3 33.5v2.6M584.6 180v-2.6 M584.6 33.5v2.6M586.8 180v-2.6 M586.8 33.5v2.6M589.1 180v-2.6 M589.1 33.5v2.6M591.3 180v-5.6 M591.3 33.5v5.6M593.5 180v-2.6 M593.5 33.5v2.6M595.8 180v-2.6 M595.8 33.5v2.6M598 180v-2.6 M598 33.5v2.6M600.3 180v-2.6 M600.3 33.5v2.6M602.5 180v-2.6 M602.5 33.5v2.6M604.8 180v-2.6 M604.8 33.5v2.6M607 180v-2.6 M607 33.5v2.6M609.3 180v-5.6 M609.3 33.5v5.6M611.5 180v-2.6 M611.5 33.5v2.6M613.7 180v-2.6 M613.7 33.5v2.6M616 180v-2.6 M616 33.5v2.6M618.2 180v-2.6 M618.2 33.5v2.6M620.5 180v-2.6 M620.5 33.5v2.6M622.7 180v-2.6 M622.7 33.5v2.6M625 180v-2.6 M625 33.5v2.6M627.2 180v-5.6 M627.2 33.5v5.6M629.5 180v-2.6 M629.5 33.5v2.6M631.7 180v-2.6 M631.7 33.5v2.6M634 180v-2.6 M634 33.5v2.6M636.2 180v-2.6 M636.2 33.5v2.6M638.4 180v-2.6 M638.4 33.5v2.6M640.7 180v-2.6 M640.7 33.5v2.6M642.9 180v-2.6 M642.9 33.5v2.6M645.2 180v-5.6 M645.2 33.5v5.6M647.4 180v-2.6 M647.4 33.5v2.6M649.7 180v-2.6 M649.7 33.5v2.6M651.9 180v-2.6 M651.9 33.5v2.6M654.2 180v-2.6 M654.2 33.5v2.6M656.4 180v-2.6 M656.4 33.5v2.6M658.6 180v-2.6 M658.6 33.5v2.6" stroke="#3c3c3c" stroke-width="0.85" fill="none"/>
<line x1="28" y1="33.5" x2="662.3" y2="33.5" stroke="#4a4a4a" stroke-width="0.9"/>
<line x1="28" y1="180.2" x2="662.3" y2="180.2" stroke="#8a8a8a" stroke-width="1"/>
<line x1="28.5" y1="33.5" x2="28.5" y2="180" stroke="#5b9bd5" stroke-width="1.1"/>
<line x1="661.8" y1="33.5" x2="661.8" y2="180" stroke="#f29a78" stroke-width="1.1"/>
<line x1="28.5" y1="56.3" x2="34.5" y2="56.3" stroke="#5b9bd5" stroke-width="1"/>
<line x1="28.5" y1="98.1" x2="34.5" y2="98.1" stroke="#5b9bd5" stroke-width="1"/>
<line x1="28.5" y1="138" x2="34.5" y2="138" stroke="#5b9bd5" stroke-width="1"/>
<line x1="658.8" y1="82.3" x2="661.8" y2="82.3" stroke="#f08a66" stroke-width="1"/>
<line x1="658.8" y1="131.2" x2="661.8" y2="131.2" stroke="#f08a66" stroke-width="1"/>
<line x1="656.3" y1="33.5" x2="661.8" y2="33.5" stroke="#f08a66" stroke-width="1"/>
<text transform="translate(25.2 41.9)" font-size="9" text-anchor="end" fill="#3c3c3c" textLength="16.7" lengthAdjust="spacingAndGlyphs">3500</text>
<text transform="translate(25.2 182)" font-size="9" text-anchor="end" fill="#3c3c3c" textLength="4.2" lengthAdjust="spacingAndGlyphs">0</text>
<text transform="translate(664.9 38.8)" font-size="9" fill="#3c3c3c" textLength="9.9" lengthAdjust="spacingAndGlyphs">1.5</text>
<text transform="translate(664.9 83.7)" font-size="9" fill="#3c3c3c" textLength="9.9" lengthAdjust="spacingAndGlyphs">1.0</text>
<text transform="translate(667.7 181.7)" font-size="9" fill="#3c3c3c" textLength="4.2" lengthAdjust="spacingAndGlyphs">0</text>
<text transform="translate(36 189.3)" font-size="8.2" text-anchor="middle" fill="#3c3c3c" textLength="18.6" lengthAdjust="spacingAndGlyphs">day 1</text>
<text transform="translate(186 189.3)" font-size="8.2" text-anchor="middle" fill="#3c3c3c" textLength="18.6" lengthAdjust="spacingAndGlyphs">day 9</text>
<text transform="translate(335.5 189.3)" font-size="8.2" text-anchor="middle" fill="#3c3c3c" textLength="23" lengthAdjust="spacingAndGlyphs">day 18</text>
<text transform="translate(485.5 189.3)" font-size="8.2" text-anchor="middle" fill="#3c3c3c" textLength="23" lengthAdjust="spacingAndGlyphs">day 27</text>
<text transform="translate(635.7 189.3)" font-size="8.2" text-anchor="middle" fill="#3c3c3c" textLength="23" lengthAdjust="spacingAndGlyphs">day 35</text>
<text transform="translate(332.1 199)" font-size="9.2" text-anchor="middle" fill="#3c3c3c" textLength="45" lengthAdjust="spacingAndGlyphs">Time [days]</text>
<text transform="translate(20.1 114.5) rotate(-90)" font-size="9.2" text-anchor="middle" fill="#3c3c3c" textLength="63.5" lengthAdjust="spacingAndGlyphs">LFP band power</text>
<text transform="translate(681.7 110.9) rotate(-90)" font-size="9.2" text-anchor="middle" fill="#3c3c3c" textLength="110.2" lengthAdjust="spacingAndGlyphs">Stimulation Amplitude [mA]</text>
<rect x="596.6" y="37.4" width="62.6" height="53.2" fill="#fff"/>
<line x1="596.6" y1="37.4" x2="659.2" y2="37.4" stroke="#a3bf86" stroke-width="0.9"/>
<line x1="596.6" y1="90.6" x2="659.2" y2="90.6" stroke="#a3bf86" stroke-width="0.9"/>
<line x1="596.6" y1="37" x2="596.6" y2="91" stroke="#555a48" stroke-width="1"/>
<line x1="659.2" y1="37" x2="659.2" y2="91" stroke="#b9b9b9" stroke-width="0.7"/>
<line x1="596.6" y1="54" x2="659.2" y2="54" stroke="#8c8c8c" stroke-width="1.4"/>
<text transform="translate(628.9 50.3)" font-size="6.9" text-anchor="middle" font-weight="bold" fill="#2e2e2e" textLength="21" lengthAdjust="spacingAndGlyphs">Events</text>
<line x1="598.9" y1="58.7" x2="617.6" y2="58.7" stroke="#5b9bd5" stroke-width="1.2" stroke-dasharray="7.3 3.7"/>
<text transform="translate(624.8 62.3)" font-size="6.5" font-weight="bold" fill="#3a3a3a" textLength="30.1" lengthAdjust="spacingAndGlyphs">Dyskinesia</text>
<line x1="598.9" y1="67.9" x2="617.6" y2="67.9" stroke="#e9875c" stroke-width="1.2" stroke-dasharray="7.3 3.7"/>
<text transform="translate(624.8 70.6)" font-size="6.5" font-weight="bold" fill="#3a3a3a" textLength="32.5" lengthAdjust="spacingAndGlyphs">Medication</text>
<line x1="598.9" y1="77.2" x2="617.6" y2="77.2" stroke="#f2b53c" stroke-width="1.2" stroke-dasharray="7.3 3.7"/>
<text transform="translate(624.8 78.9)" font-size="6.5" font-weight="bold" fill="#3a3a3a" textLength="27.2" lengthAdjust="spacingAndGlyphs">I feel well</text>
<line x1="598.9" y1="86.4" x2="617.6" y2="86.4" stroke="#a463bb" stroke-width="1.2" stroke-dasharray="7.3 3.7"/>
<text transform="translate(624.8 87.2)" font-size="6.5" font-weight="bold" fill="#3a3a3a" textLength="30.6" lengthAdjust="spacingAndGlyphs">I feel stuck</text>
</g>
<g id="panel-b">
<text transform="translate(0.8 213.6) scale(0.9 1)" font-size="20" fill="#111" stroke="#111" stroke-width="0.45">b</text>
<text transform="translate(128.6 213.9)" font-size="10.6" text-anchor="middle" fill="#3c3c3c" textLength="73.2" lengthAdjust="spacingAndGlyphs">Circadian profile</text>
<polygon points="34,293.8 35.1,294.1 36.2,293.2 37.3,291.2 38.4,290.1 39.5,291 40.6,292.6 41.7,293.6 42.8,294.3 43.9,294.2 45,296 46.1,295.9 47.2,296 48.3,295.6 49.4,295.6 50.5,296.4 51.6,296.8 52.7,296.2 53.8,296.5 54.9,297 56,296.1 57.1,295.9 58.2,297.3 59.3,296.9 60.4,295.7 61.5,296.1 62.6,296.2 63.7,295.3 64.8,295 65.9,296.1 67,296.6 68.1,295.5 69.2,294.8 70.3,295.4 71.4,295.3 72.5,294.4 73.6,294.6 74.7,294.5 75.8,293.4 76.9,293.2 78,294.3 79.1,294.7 80.2,293.3 81.3,290.3 82.4,288.7 83.5,287.1 84.6,285.3 85.7,286.6 86.8,288.1 87.9,288.7 89,291.1 90.1,292.1 91.2,292.6 92.3,292.3 93.4,291.9 94.5,290.2 95.6,291.2 96.7,290.9 97.8,289 98.9,290 100,290.3 101.1,290.5 102.2,289.6 103.3,289.7 104.4,289.7 105.5,288.9 106.6,289.8 107.7,289.7 108.8,289.6 109.9,289.2 111,289.4 112.1,287.1 113.2,284.2 114.3,283.1 115.4,282.4 116.5,281 117.6,277.2 118.7,278 119.8,277.6 120.9,275.6 122,274.4 123.1,275.7 124.2,274.5 125.3,276.7 126.4,277.6 127.5,274.9 128.6,275.3 129.7,275.7 130.8,278.9 131.9,282.6 133,283 134.1,279 135.2,280.3 136.3,284.2 137.4,285.1 138.5,282.1 139.6,279.1 140.7,278.9 141.8,277.7 142.9,275.6 144,273.7 145.1,273.8 146.2,272.6 147.3,270.4 148.4,268.8 149.5,266.8 150.6,268 151.7,270 152.8,267.3 153.9,265.4 155,268.6 156.1,269.3 157.2,270 158.3,266.5 159.4,263.3 160.5,262.4 161.6,267.3 162.7,268.8 163.8,262.6 164.9,260.6 166,261.3 167.1,258.9 168.2,258.1 169.3,257.8 170.4,258.5 171.5,259 172.6,257.4 173.7,256.8 174.8,254.5 175.9,252.7 177,247.9 178.1,247.6 179.2,250.3 180.3,248.3 181.4,248.3 182.5,249 183.6,252.2 184.7,253.6 185.8,254.7 186.9,253.9 188,252.1 189.1,250.7 190.2,249.6 191.3,247.7 192.4,247.7 193.5,248.7 194.6,248.9 195.7,246 196.8,241.8 197.9,242.7 199,243 200.1,245.2 201.2,249.4 202.3,251.8 203.4,257.9 204.5,264.3 205.6,265.5 206.7,268.3 207.8,268.7 208.9,264.3 210,266.7 211.1,269.7 212.2,271.9 213.3,273.5 214.4,274.5 215.5,274.7 216.6,273.6 217.7,276.8 218.8,279 219.9,288 219.9,302.6 218.8,300.8 217.7,296.1 216.6,292 215.5,291.5 214.4,290.9 213.3,288.5 212.2,285.1 211.1,283.5 210,283.2 208.9,282.1 207.8,280.2 206.7,281.2 205.6,278.2 204.5,275.8 203.4,277.9 202.3,279 201.2,278.2 200.1,278.4 199,279.1 197.9,278.7 196.8,277.9 195.7,280 194.6,281.1 193.5,280.4 192.4,280.8 191.3,283.6 190.2,283.1 189.1,283.5 188,283.2 186.9,282 185.8,282.4 184.7,282.6 183.6,281.1 182.5,278 181.4,277.6 180.3,278.9 179.2,279.8 178.1,277.3 177,277.6 175.9,281 174.8,283 173.7,286 172.6,290.9 171.5,290.2 170.4,288.2 169.3,285.5 168.2,285.6 167.1,287.4 166,286.8 164.9,284.1 163.8,284.5 162.7,285.9 161.6,286 160.5,285.4 159.4,283 158.3,284.1 157.2,285 156.1,287.1 155,285.9 153.9,284.6 152.8,285.6 151.7,287.1 150.6,286.8 149.5,286.7 148.4,286.8 147.3,287.2 146.2,289 145.1,289.1 144,289.1 142.9,291.8 141.8,293.5 140.7,294.5 139.6,294.8 138.5,293.3 137.4,294.5 136.3,294.4 135.2,293.3 134.1,293 133,293.3 131.9,291.5 130.8,292.3 129.7,292 128.6,290.1 127.5,289.2 126.4,290.9 125.3,291.3 124.2,290.7 123.1,290.4 122,290.3 120.9,289.8 119.8,288.8 118.7,289.4 117.6,291.2 116.5,292.1 115.4,293.1 114.3,293.3 113.2,293 112.1,293.2 111,293.2 109.9,292.4 108.8,293.1 107.7,295 106.6,295.4 105.5,294.4 104.4,293.9 103.3,294.9 102.2,296.3 101.1,296.5 100,297.1 98.9,298.6 97.8,298.4 96.7,298.3 95.6,298.6 94.5,299 93.4,298.6 92.3,297.9 91.2,298.5 90.1,298.2 89,297.5 87.9,297.5 86.8,296.7 85.7,295.6 84.6,296.7 83.5,298.3 82.4,299 81.3,299.4 80.2,300.3 79.1,300.5 78,301.3 76.9,302 75.8,301.3 74.7,300.8 73.6,301.1 72.5,301.1 71.4,300.9 70.3,300.5 69.2,300.8 68.1,301.3 67,301.8 65.9,301.2 64.8,301.9 63.7,301.7 62.6,301.8 61.5,301.8 60.4,301.9 59.3,302.2 58.2,301.9 57.1,301.9 56,302.4 54.9,302.2 53.8,301.9 52.7,302.1 51.6,302.4 50.5,302.4 49.4,301.2 48.3,300.8 47.2,300.3 46.1,301.1 45,301.4 43.9,301.7 42.8,301 41.7,300.1 40.6,300 39.5,300.1 38.4,301.3 37.3,301.1 36.2,300.8 35.1,300.6 34,299.9" fill="#a3c8e8"/>
<polyline points="34,297.9 35.1,296.8 36.2,297.8 37.3,298.3 38.4,298.7 39.5,298.9 40.6,299.2 41.7,298.8 42.8,298.5 43.9,299 45,299 46.1,298.8 47.2,298.9 48.3,299.4 49.4,299.4 50.5,299 51.6,298.8 52.7,298.8 53.8,300 54.9,300.1 56,300.6 57.1,300.8 58.2,301.5 59.3,301.6 60.4,301.1 61.5,300.9 62.6,300.1 63.7,300.1 64.8,299.3 65.9,299.5 67,299.8 68.1,299.2 69.2,298.6 70.3,298.2 71.4,298.4 72.5,298.9 73.6,298.8 74.7,298.1 75.8,297.7 76.9,298 78,297.4 79.1,297.2 80.2,296.7 81.3,296.4 82.4,295.6 83.5,294.8 84.6,293.9 85.7,293.3 86.8,294.2 87.9,294.9 89,294.8 90.1,295.1 91.2,295.3 92.3,295.5 93.4,295.4 94.5,295.2 95.6,295 96.7,295 97.8,294 98.9,293.5 100,293.4 101.1,293.6 102.2,292.9 103.3,292.7 104.4,293.3 105.5,293.5 106.6,292.4 107.7,290.5 108.8,290.6 109.9,290.6 111,289.8 112.1,289.4 113.2,289.2 114.3,286.9 115.4,285.2 116.5,285.2 117.6,284.5 118.7,283.7 119.8,282.8 120.9,282.6 122,282 123.1,280.4 124.2,281.1 125.3,283.4 126.4,284 127.5,283.3 128.6,283.3 129.7,284 130.8,284.2 131.9,285.6 133,287.5 134.1,287.6 135.2,288.2 136.3,288.1 137.4,288.4 138.5,288.3 139.6,286.3 140.7,286.1 141.8,286.3 142.9,285.3 144,284.4 145.1,281.6 146.2,278.1 147.3,276.7 148.4,276.2 149.5,276.6 150.6,277.9 151.7,276.2 152.8,275.9 153.9,275.6 155,276.3 156.1,276.1 157.2,275.4 158.3,275.3 159.4,275.5 160.5,273.9 161.6,273.1 162.7,273.3 163.8,274.7 164.9,273.5 166,272.3 167.1,273.3 168.2,275.3 169.3,273.8 170.4,273.6 171.5,273.1 172.6,271.6 173.7,270 174.8,269.3 175.9,268 177,266.9 178.1,269.8 179.2,269.1 180.3,267.9 181.4,267.3 182.5,267.5 183.6,269 184.7,268.9 185.8,268.7 186.9,266.9 188,268 189.1,268.9 190.2,266.6 191.3,266 192.4,265.2 193.5,265.6 194.6,265.2 195.7,263.4 196.8,262.2 197.9,262.4 199,261.8 200.1,261.9 201.2,263.6 202.3,264.1 203.4,263.5 204.5,265.7 205.6,270 206.7,270.3 207.8,271.4 208.9,274.7 210,273.2 211.1,271.7 212.2,273.6 213.3,276.8 214.4,281.1 215.5,283.3 216.6,285 217.7,290.5 218.8,293.5 219.9,296" fill="none" stroke="#5b9bd5" stroke-width="0.9"/>
<rect x="29.4" y="219.6" width="196" height="86.6" fill="none" stroke="#b4b4b4" stroke-width="0.8"/>
<line x1="29.4" y1="237.6" x2="31.4" y2="237.6" stroke="#b4b4b4" stroke-width="0.7"/>
<line x1="223.4" y1="237.6" x2="225.4" y2="237.6" stroke="#b4b4b4" stroke-width="0.7"/>
<line x1="29.4" y1="254.7" x2="31.4" y2="254.7" stroke="#b4b4b4" stroke-width="0.7"/>
<line x1="223.4" y1="254.7" x2="225.4" y2="254.7" stroke="#b4b4b4" stroke-width="0.7"/>
<line x1="29.4" y1="271.8" x2="31.4" y2="271.8" stroke="#b4b4b4" stroke-width="0.7"/>
<line x1="223.4" y1="271.8" x2="225.4" y2="271.8" stroke="#b4b4b4" stroke-width="0.7"/>
<line x1="29.4" y1="288.9" x2="31.4" y2="288.9" stroke="#b4b4b4" stroke-width="0.7"/>
<line x1="223.4" y1="288.9" x2="225.4" y2="288.9" stroke="#b4b4b4" stroke-width="0.7"/>
<line x1="33.5" y1="306.2" x2="33.5" y2="304.2" stroke="#b4b4b4" stroke-width="0.7"/>
<line x1="33.5" y1="219.6" x2="33.5" y2="221.6" stroke="#b4b4b4" stroke-width="0.7"/>
<line x1="72.9" y1="306.2" x2="72.9" y2="304.2" stroke="#b4b4b4" stroke-width="0.7"/>
<line x1="72.9" y1="219.6" x2="72.9" y2="221.6" stroke="#b4b4b4" stroke-width="0.7"/>
<line x1="112.3" y1="306.2" x2="112.3" y2="304.2" stroke="#b4b4b4" stroke-width="0.7"/>
<line x1="112.3" y1="219.6" x2="112.3" y2="221.6" stroke="#b4b4b4" stroke-width="0.7"/>
<line x1="151.7" y1="306.2" x2="151.7" y2="304.2" stroke="#b4b4b4" stroke-width="0.7"/>
<line x1="151.7" y1="219.6" x2="151.7" y2="221.6" stroke="#b4b4b4" stroke-width="0.7"/>
<line x1="191.1" y1="306.2" x2="191.1" y2="304.2" stroke="#b4b4b4" stroke-width="0.7"/>
<line x1="191.1" y1="219.6" x2="191.1" y2="221.6" stroke="#b4b4b4" stroke-width="0.7"/>
<text transform="translate(27.2 224.9)" font-size="7.42" text-anchor="end" fill="#3c3c3c" textLength="14.6" lengthAdjust="spacingAndGlyphs">2500</text>
<text transform="translate(26.6 308.2)" font-size="7.42" text-anchor="end" fill="#3c3c3c" textLength="3.6" lengthAdjust="spacingAndGlyphs">0</text>
<text transform="translate(32.7 317.7)" font-size="7.3" text-anchor="middle" fill="#3c3c3c" textLength="12.9" lengthAdjust="spacingAndGlyphs">0:00</text>
<text transform="translate(221.6 317.7)" font-size="7.3" text-anchor="middle" fill="#3c3c3c" textLength="17.2" lengthAdjust="spacingAndGlyphs">23:59</text>
<text transform="translate(130.2 320.6)" font-size="9.2" text-anchor="middle" fill="#3c3c3c" textLength="62" lengthAdjust="spacingAndGlyphs">Time of the day</text>
<text transform="translate(18.6 262.6) rotate(-90)" font-size="9.2" text-anchor="middle" fill="#3c3c3c" textLength="64.6" lengthAdjust="spacingAndGlyphs">LFP band power</text>
<rect x="140.7" y="223.4" width="82.8" height="8.7" fill="#fff" stroke="#8a8a8a" stroke-width="0.6"/>
<rect x="142.1" y="225.1" width="12.6" height="5.3" fill="#9dc3e6"/>
<text transform="translate(156.4 230)" font-size="5.3" font-weight="bold" fill="#222" textLength="65.4" lengthAdjust="spacingAndGlyphs">25th, 50th and 75th percentiles</text>
</g>
<g id="panel-c">
<text transform="translate(238.8 212.9) scale(0.9 1)" font-size="18.4" font-weight="bold" fill="#111">c</text>
<g fill="none" stroke="#5b9bd5" stroke-width="0.7" stroke-opacity="0.38"><polyline points="273.4,273.7 274.6,260.8 275.9,251.1 277.1,249 278.3,254.2 279.6,262 280.8,272.8 282.1,282.2 283.3,287.4 284.5,283.6 285.8,279.6 287,282.5 288.2,287.3 289.5,290.1 290.7,291.6 292,290.5 293.2,290.1 294.4,289.4 295.7,288.1 296.9,286.9 298.1,286.1 299.4,284.2 300.6,284.4 301.8,284.2 303.1,284.4 304.3,284.8 305.6,287.1 306.8,288.9 308,290.5 309.3,292.9 310.5,294.9 311.7,296.7 313,297.6 314.2,298.7 315.4,299.1 316.7,299.2 317.9,299.2 319.2,299.3 320.4,299.8 321.6,300.1 322.9,300.3 324.1,300.4 325.3,300.5 326.6,300.4 327.8,300.6 329.1,300.7 330.3,300.5 331.5,300.8 332.8,300.9 334,301.5 335.2,301.7 336.5,301.8 337.7,301.8 338.9,301.8 340.2,302 341.4,302 342.7,301.8 343.9,302.1 345.1,302.1 346.4,302 347.6,302 348.8,302.1 350.1,302.4 351.3,302.6 352.5,302.5 353.8,302.6 355,302.9 356.3,303 357.5,303 358.7,302.9 360,303.4 361.2,303.3 362.4,303.3 363.7,303.4 364.9,303.3 366.2,303.4 367.4,303.5 368.6,303.4 369.9,303.4 371.1,303.5 372.3,303.3 373.6,303.4 374.8,303.4 376,303.2 377.3,303.5 378.5,303.5 379.8,303.5 381,303.4 382.2,303.3 383.5,303.5 384.7,303.5 385.9,303.3 387.2,303.6 388.4,303.5 389.6,303.6 390.9,303.4 392.1,303.5 393.4,303.6 394.6,303.6 395.8,303.7 397.1,303.7 398.3,303.6 399.5,303.6 400.8,303.6 402,303.5 403.3,303.5 404.5,303.6 405.7,303.7 407,303.7 408.2,303.6 409.4,303.6 410.7,303.6 411.9,303.6 413.1,303.7 414.4,303.8 415.6,303.6 416.9,303.7 418.1,303.7 419.3,303.7 420.6,303.6 421.8,303.6 423,303.6 424.3,303.8 425.5,303.7 426.7,303.8 428,303.8 429.2,303.8 430.5,303.8 431.7,303.8 432.9,303.7 434.2,303.8 435.4,303.9 436.6,303.9 437.9,303.9 439.1,303.8 440.4,303.8 441.6,303.8 442.8,303.6 444.1,303.9 445.3,303.8"/><polyline points="273.4,286.7 274.6,278 275.9,273.1 277.1,272.8 278.3,277.6 279.6,280.8 280.8,283.9 282.1,288.1 283.3,292.5 284.5,292.2 285.8,292.1 287,295.2 288.2,297.6 289.5,298.5 290.7,298.4 292,296.8 293.2,294.3 294.4,291.9 295.7,289.6 296.9,288.7 298.1,287.8 299.4,287.6 300.6,288.7 301.8,290.9 303.1,292.2 304.3,293.4 305.6,294.8 306.8,296.5 308,297.3 309.3,298.6 310.5,299.2 311.7,299.6 313,299.9 314.2,300.1 315.4,300.2 316.7,300.1 317.9,300.4 319.2,300.2 320.4,300.4 321.6,300.7 322.9,300.9 324.1,300.9 325.3,301.1 326.6,301.1 327.8,301.4 329.1,301.5 330.3,301.7 331.5,301.8 332.8,301.9 334,301.9 335.2,302.2 336.5,302.2 337.7,302.4 338.9,302.3 340.2,302.2 341.4,302.1 342.7,302.5 343.9,302.7 345.1,302.7 346.4,302.7 347.6,302.6 348.8,302.8 350.1,302.8 351.3,302.8 352.5,302.7 353.8,303 355,303 356.3,303.2 357.5,303.2 358.7,303.4 360,303.4 361.2,303.6 362.4,303.5 363.7,303.6 364.9,303.4 366.2,303.4 367.4,303.6 368.6,303.5 369.9,303.5 371.1,303.7 372.3,303.7 373.6,303.7 374.8,303.5 376,303.7 377.3,303.6 378.5,303.5 379.8,303.3 381,303.6 382.2,303.6 383.5,303.5 384.7,303.6 385.9,303.5 387.2,303.6 388.4,303.4 389.6,303.6 390.9,303.7 392.1,303.7 393.4,303.6 394.6,303.7 395.8,303.7 397.1,303.7 398.3,303.5 399.5,303.7 400.8,303.7 402,303.8 403.3,303.7 404.5,303.8 405.7,303.7 407,303.7 408.2,303.8 409.4,303.8 410.7,303.8 411.9,303.6 413.1,303.8 414.4,303.8 415.6,303.8 416.9,303.8 418.1,303.6 419.3,303.9 420.6,303.7 421.8,303.9 423,303.8 424.3,303.8 425.5,303.8 426.7,303.8 428,303.8 429.2,303.5 430.5,303.9 431.7,303.8 432.9,303.7 434.2,303.7 435.4,303.9 436.6,303.9 437.9,303.8 439.1,303.9 440.4,303.8 441.6,303.8 442.8,303.9 444.1,303.7 445.3,303.9"/><polyline points="273.4,272.4 274.6,257 275.9,252.1 277.1,256.7 278.3,264.9 279.6,268.3 280.8,274.9 282.1,280.9 283.3,286.7 284.5,284.9 285.8,283.8 287,287.3 288.2,290.3 289.5,291.8 290.7,292.1 292,289.9 293.2,286.9 294.4,282 295.7,278.2 296.9,277.3 298.1,278.7 299.4,281.4 300.6,284.3 301.8,286.6 303.1,289.2 304.3,292.3 305.6,294.6 306.8,295.3 308,295.6 309.3,296.2 310.5,297.1 311.7,298.5 313,299 314.2,299 315.4,298.9 316.7,299.1 317.9,299.7 319.2,299.8 320.4,300.3 321.6,300.3 322.9,300.3 324.1,300.5 325.3,300.6 326.6,300.9 327.8,301 329.1,301 330.3,301.1 331.5,301.2 332.8,301.4 334,301.6 335.2,301.7 336.5,301.7 337.7,301.7 338.9,302 340.2,302 341.4,301.9 342.7,301.9 343.9,302.1 345.1,301.8 346.4,302.4 347.6,302.3 348.8,302.3 350.1,302.3 351.3,302.6 352.5,302.7 353.8,302.7 355,302.8 356.3,303 357.5,303 358.7,303.3 360,303.4 361.2,303.3 362.4,303.5 363.7,303.2 364.9,303.5 366.2,303.5 367.4,303.5 368.6,303.5 369.9,303.3 371.1,303.4 372.3,303.4 373.6,303.5 374.8,303.5 376,303.5 377.3,303.5 378.5,303.4 379.8,303.5 381,303.4 382.2,303.6 383.5,303.6 384.7,303.5 385.9,303.5 387.2,303.4 388.4,303.4 389.6,303.4 390.9,303.7 392.1,303.6 393.4,303.6 394.6,303.6 395.8,303.4 397.1,303.6 398.3,303.5 399.5,303.6 400.8,303.5 402,303.6 403.3,303.7 404.5,303.6 405.7,303.6 407,303.7 408.2,303.7 409.4,303.5 410.7,303.7 411.9,303.6 413.1,303.5 414.4,303.5 415.6,303.5 416.9,303.8 418.1,303.8 419.3,303.7 420.6,303.6 421.8,303.6 423,303.8 424.3,303.6 425.5,303.8 426.7,303.5 428,303.9 429.2,303.9 430.5,303.7 431.7,303.9 432.9,303.8 434.2,303.9 435.4,303.7 436.6,303.9 437.9,303.8 439.1,303.8 440.4,303.9 441.6,303.9 442.8,303.8 444.1,303.9 445.3,304"/><polyline points="273.4,279.6 274.6,269.1 275.9,262.1 277.1,259.9 278.3,263.8 279.6,271.5 280.8,277.7 282.1,283.2 283.3,287.2 284.5,285.1 285.8,282.5 287,283.7 288.2,286.1 289.5,289.1 290.7,291.8 292,290.9 293.2,289.1 294.4,288.6 295.7,288.7 296.9,289.4 298.1,288.3 299.4,286.7 300.6,286.1 301.8,287 303.1,288.4 304.3,289.3 305.6,291 306.8,292 308,294.2 309.3,296 310.5,297.2 311.7,298.1 313,298.8 314.2,299.1 315.4,299 316.7,298.9 317.9,299.2 319.2,299.3 320.4,299.6 321.6,300.2 322.9,300.4 324.1,300.7 325.3,300.9 326.6,300.9 327.8,300.8 329.1,301 330.3,301 331.5,301 332.8,301 334,301.6 335.2,301.9 336.5,301.8 337.7,301.8 338.9,301.8 340.2,302 341.4,301.9 342.7,302 343.9,302 345.1,302 346.4,302.1 347.6,302.4 348.8,302.4 350.1,302.5 351.3,302.5 352.5,302.5 353.8,302.5 355,302.6 356.3,302.9 357.5,303.1 358.7,303.3 360,303.4 361.2,303.5 362.4,303.4 363.7,303.4 364.9,303.5 366.2,303.4 367.4,303.3 368.6,303.4 369.9,303.4 371.1,303.5 372.3,303.4 373.6,303.5 374.8,303.5 376,303.4 377.3,303.5 378.5,303.5 379.8,303.3 381,303.4 382.2,303.5 383.5,303.5 384.7,303.6 385.9,303.6 387.2,303.6 388.4,303.3 389.6,303.6 390.9,303.5 392.1,303.6 393.4,303.5 394.6,303.6 395.8,303.6 397.1,303.5 398.3,303.6 399.5,303.6 400.8,303.7 402,303.5 403.3,303.6 404.5,303.7 405.7,303.6 407,303.7 408.2,303.6 409.4,303.6 410.7,303.6 411.9,303.6 413.1,303.8 414.4,303.6 415.6,303.6 416.9,303.8 418.1,303.8 419.3,303.7 420.6,303.8 421.8,303.7 423,303.7 424.3,303.8 425.5,303.8 426.7,303.8 428,303.6 429.2,303.7 430.5,303.7 431.7,303.7 432.9,303.8 434.2,303.8 435.4,303.8 436.6,303.7 437.9,303.8 439.1,303.7 440.4,303.8 441.6,303.9 442.8,303.9 444.1,303.8 445.3,303.7"/><polyline points="273.4,287.9 274.6,280.8 275.9,276.4 277.1,273.5 278.3,276.1 279.6,279.8 280.8,284 282.1,286.5 283.3,290.1 284.5,287.8 285.8,286.4 287,289 288.2,291.8 289.5,293.4 290.7,294.8 292,294.3 293.2,293.2 294.4,292.4 295.7,291.7 296.9,290.9 298.1,289.7 299.4,288.8 300.6,289.5 301.8,290.8 303.1,292.2 304.3,293.5 305.6,294.5 306.8,295.4 308,296.1 309.3,297.1 310.5,298.1 311.7,298.6 313,298.9 314.2,299.7 315.4,300 316.7,299.9 317.9,299.8 319.2,300.1 320.4,300.3 321.6,300.9 322.9,301.1 324.1,301.2 325.3,300.7 326.6,301.1 327.8,301 329.1,301.3 330.3,301.2 331.5,301.4 332.8,301.5 334,301.6 335.2,301.6 336.5,301.8 337.7,301.8 338.9,301.9 340.2,302 341.4,302.3 342.7,302 343.9,302.2 345.1,302.3 346.4,302.4 347.6,302.4 348.8,302.5 350.1,302.5 351.3,302.7 352.5,302.8 353.8,303 355,303 356.3,302.9 357.5,303.1 358.7,303.2 360,303.4 361.2,303.5 362.4,303.5 363.7,303.4 364.9,303.1 366.2,303.3 367.4,303.4 368.6,303.4 369.9,303.5 371.1,303.5 372.3,303.4 373.6,303.3 374.8,303.6 376,303.5 377.3,303.6 378.5,303.5 379.8,303.5 381,303.4 382.2,303.5 383.5,303.6 384.7,303.5 385.9,303.6 387.2,303.7 388.4,303.5 389.6,303.5 390.9,303.4 392.1,303.7 393.4,303.5 394.6,303.5 395.8,303.6 397.1,303.6 398.3,303.8 399.5,303.8 400.8,303.8 402,303.6 403.3,303.7 404.5,303.7 405.7,303.8 407,303.7 408.2,303.8 409.4,303.7 410.7,303.8 411.9,303.7 413.1,303.8 414.4,303.8 415.6,303.6 416.9,303.8 418.1,303.8 419.3,303.8 420.6,303.7 421.8,303.7 423,303.8 424.3,303.6 425.5,303.8 426.7,303.7 428,303.8 429.2,303.8 430.5,303.8 431.7,303.8 432.9,303.8 434.2,303.8 435.4,303.8 436.6,303.9 437.9,303.9 439.1,303.9 440.4,303.9 441.6,303.7 442.8,303.9 444.1,303.9 445.3,303.9"/><polyline points="273.4,284.6 274.6,273.8 275.9,264 277.1,263.5 278.3,269.1 279.6,274 280.8,276.5 282.1,281.4 283.3,285.7 284.5,283.9 285.8,281.9 287,284.7 288.2,288.7 289.5,290.7 290.7,291.3 292,288.9 293.2,287.1 294.4,286.7 295.7,286.1 296.9,285 298.1,285 299.4,284.8 300.6,285 301.8,285.5 303.1,286.4 304.3,288.5 305.6,291.7 306.8,294.2 308,295.6 309.3,296.3 310.5,296.8 311.7,297.1 313,297.7 314.2,298.4 315.4,298.4 316.7,298.5 317.9,298.9 319.2,299.4 320.4,299.3 321.6,299.1 322.9,299.5 324.1,299.8 325.3,300 326.6,300.5 327.8,300.5 329.1,300.8 330.3,300.9 331.5,300.9 332.8,300.8 334,301 335.2,301.1 336.5,301.2 337.7,301.3 338.9,301.5 340.2,301.5 341.4,301.7 342.7,301.7 343.9,301.9 345.1,302 346.4,302.1 347.6,302 348.8,302 350.1,302.2 351.3,302.4 352.5,302.4 353.8,302.6 355,302.7 356.3,302.9 357.5,302.9 358.7,303.1 360,303.1 361.2,303.3 362.4,303.3 363.7,303.2 364.9,303.2 366.2,303.3 367.4,303.3 368.6,303.2 369.9,303.3 371.1,303.4 372.3,303.4 373.6,303.3 374.8,303.5 376,303.3 377.3,303.1 378.5,303.2 379.8,303.3 381,303.5 382.2,303.4 383.5,303.5 384.7,303.5 385.9,303.3 387.2,303.4 388.4,303.4 389.6,303.5 390.9,303.6 392.1,303.4 393.4,303.4 394.6,303.6 395.8,303.3 397.1,303.5 398.3,303.5 399.5,303.4 400.8,303.4 402,303.6 403.3,303.5 404.5,303.5 405.7,303.6 407,303.4 408.2,303.5 409.4,303.6 410.7,303.6 411.9,303.5 413.1,303.6 414.4,303.7 415.6,303.5 416.9,303.7 418.1,303.7 419.3,303.6 420.6,303.7 421.8,303.7 423,303.8 424.3,303.8 425.5,303.5 426.7,303.7 428,303.8 429.2,303.7 430.5,303.5 431.7,303.7 432.9,303.7 434.2,303.5 435.4,303.7 436.6,303.7 437.9,303.7 439.1,303.8 440.4,303.5 441.6,303.9 442.8,303.8 444.1,303.7 445.3,303.9"/><polyline points="273.4,264.1 274.6,248.3 275.9,239.8 277.1,238.6 278.3,246.9 279.6,254.8 280.8,261.2 282.1,269.9 283.3,280.2 284.5,279.9 285.8,275.9 287,275.9 288.2,279.4 289.5,282.7 290.7,285.3 292,284.9 293.2,284.2 294.4,283.6 295.7,283.9 296.9,284.2 298.1,283.1 299.4,280.6 300.6,281.2 301.8,281.4 303.1,281.9 304.3,283.1 305.6,285.8 306.8,288.7 308,290.5 309.3,292.3 310.5,292.9 311.7,294.5 313,295.8 314.2,296.8 315.4,297.4 316.7,297.7 317.9,298.2 319.2,298.3 320.4,298.5 321.6,298.4 322.9,298.8 324.1,298.9 325.3,299.4 326.6,299.7 327.8,299.8 329.1,299.6 330.3,299.6 331.5,299.7 332.8,300.5 334,300.7 335.2,300.7 336.5,300.6 337.7,300.5 338.9,300.8 340.2,300.8 341.4,300.8 342.7,301.3 343.9,301.5 345.1,301.5 346.4,301.4 347.6,301.7 348.8,301.8 350.1,301.7 351.3,302 352.5,302.2 353.8,302.2 355,302.4 356.3,302.5 357.5,302.5 358.7,302.7 360,303 361.2,303.2 362.4,303.1 363.7,302.9 364.9,303.3 366.2,303.1 367.4,303.2 368.6,303.1 369.9,303.2 371.1,303.2 372.3,303.2 373.6,303.3 374.8,303.2 376,303.2 377.3,303.2 378.5,303.2 379.8,303.3 381,303.2 382.2,303 383.5,303.2 384.7,303.3 385.9,303.3 387.2,303.2 388.4,303.4 389.6,303.4 390.9,303.4 392.1,303.3 393.4,303.4 394.6,303.2 395.8,303.3 397.1,303.4 398.3,303.5 399.5,303.3 400.8,303.3 402,303.3 403.3,303.4 404.5,303.5 405.7,303.5 407,303.3 408.2,303.4 409.4,303.4 410.7,303.2 411.9,303.5 413.1,303.3 414.4,303.5 415.6,303.5 416.9,303.6 418.1,303.5 419.3,303.7 420.6,303.6 421.8,303.6 423,303.6 424.3,303.6 425.5,303.6 426.7,303.6 428,303.6 429.2,303.7 430.5,303.7 431.7,303.7 432.9,303.6 434.2,303.8 435.4,303.7 436.6,303.8 437.9,303.5 439.1,303.7 440.4,303.6 441.6,303.9 442.8,303.9 444.1,303.9 445.3,303.7"/><polyline points="273.4,277.7 274.6,265.4 275.9,258.6 277.1,258.9 278.3,265.2 279.6,272.4 280.8,279.4 282.1,284.3 283.3,289 284.5,287.1 285.8,285 287,287.1 288.2,290.1 289.5,291.9 290.7,292.4 292,290.8 293.2,289.4 294.4,287.3 295.7,283.5 296.9,282.7 298.1,281.9 299.4,279.5 300.6,278.6 301.8,280.3 303.1,283.2 304.3,285.8 305.6,289.1 306.8,292.1 308,294.8 309.3,297 310.5,297.2 311.7,296.9 313,297.4 314.2,298.6 315.4,299.4 316.7,299.7 317.9,299.7 319.2,299.7 320.4,299.6 321.6,299.9 322.9,300.4 324.1,300.4 325.3,300.4 326.6,300.5 327.8,300.5 329.1,300.7 330.3,300.9 331.5,300.9 332.8,301 334,301.4 335.2,301.4 336.5,301.7 337.7,301.8 338.9,301.6 340.2,301.4 341.4,301.8 342.7,301.8 343.9,301.7 345.1,301.9 346.4,302.2 347.6,302.3 348.8,302.5 350.1,302.5 351.3,302.4 352.5,302.4 353.8,302.7 355,302.9 356.3,302.8 357.5,303.1 358.7,303.2 360,303.2 361.2,303.2 362.4,303.4 363.7,303.4 364.9,303.5 366.2,303.4 367.4,303.3 368.6,303.3 369.9,303.4 371.1,303.3 372.3,303.4 373.6,303.4 374.8,303.3 376,303.5 377.3,303.4 378.5,303.5 379.8,303.5 381,303.5 382.2,303.6 383.5,303.6 384.7,303.4 385.9,303.3 387.2,303.4 388.4,303.5 389.6,303.5 390.9,303.5 392.1,303.4 393.4,303.6 394.6,303.4 395.8,303.6 397.1,303.5 398.3,303.5 399.5,303.6 400.8,303.6 402,303.6 403.3,303.6 404.5,303.5 405.7,303.7 407,303.7 408.2,303.7 409.4,303.7 410.7,303.6 411.9,303.7 413.1,303.4 414.4,303.7 415.6,303.6 416.9,303.7 418.1,303.7 419.3,303.6 420.6,303.6 421.8,303.6 423,303.7 424.3,303.7 425.5,303.7 426.7,303.8 428,303.7 429.2,303.8 430.5,303.7 431.7,303.7 432.9,303.8 434.2,303.9 435.4,303.8 436.6,303.7 437.9,303.8 439.1,303.9 440.4,303.8 441.6,303.9 442.8,303.9 444.1,303.9 445.3,303.9"/><polyline points="273.4,284.3 274.6,274.6 275.9,269.9 277.1,271.7 278.3,275.7 279.6,277.4 280.8,281.4 282.1,286.1 283.3,289.9 284.5,287.4 285.8,285.6 287,287.9 288.2,291.3 289.5,293.2 290.7,293.5 292,291.2 293.2,288.5 294.4,285.9 295.7,284.5 296.9,284.7 298.1,286.1 299.4,286.1 300.6,287.8 301.8,289.5 303.1,291.4 304.3,292.8 305.6,293.5 306.8,294.4 308,295.1 309.3,296.6 310.5,296.9 311.7,297.8 313,298.5 314.2,299.2 315.4,299.3 316.7,299.4 317.9,299.7 319.2,299.6 320.4,300.1 321.6,300.3 322.9,300.1 324.1,300.4 325.3,300.4 326.6,300.2 327.8,300.3 329.1,300.4 330.3,300.6 331.5,300.6 332.8,300.9 334,301.6 335.2,301.7 336.5,301.7 337.7,301.2 338.9,301.6 340.2,301.7 341.4,301.8 342.7,302.3 343.9,302.3 345.1,302.1 346.4,301.9 347.6,302 348.8,302.3 350.1,302.3 351.3,302.2 352.5,302.5 353.8,302.4 355,302.8 356.3,302.8 357.5,303.1 358.7,303.2 360,303.2 361.2,303.4 362.4,303.4 363.7,303.4 364.9,303.4 366.2,303.5 367.4,303.4 368.6,303.5 369.9,303.5 371.1,303.5 372.3,303.5 373.6,303.5 374.8,303.4 376,303.5 377.3,303.5 378.5,303.2 379.8,303.4 381,303.5 382.2,303.5 383.5,303.5 384.7,303.4 385.9,303.3 387.2,303.3 388.4,303.5 389.6,303.5 390.9,303.3 392.1,303.5 393.4,303.4 394.6,303.6 395.8,303.6 397.1,303.6 398.3,303.6 399.5,303.6 400.8,303.7 402,303.4 403.3,303.6 404.5,303.6 405.7,303.6 407,303.7 408.2,303.6 409.4,303.7 410.7,303.6 411.9,303.6 413.1,303.7 414.4,303.6 415.6,303.5 416.9,303.8 418.1,303.6 419.3,303.5 420.6,303.8 421.8,303.7 423,303.7 424.3,303.7 425.5,303.7 426.7,303.8 428,303.7 429.2,303.8 430.5,303.6 431.7,303.7 432.9,303.7 434.2,303.7 435.4,303.8 436.6,303.7 437.9,303.9 439.1,303.8 440.4,303.9 441.6,303.7 442.8,303.9 444.1,303.7 445.3,303.8"/></g>
<polyline points="273.4,279.3 275,264.3 276.6,259.7 278.1,264.2 279.7,271.7 281.3,279 282.9,286.4 284.4,286 286,283.9 287.6,287.6 289.2,290.5 290.7,292.4 292.3,291.3 293.9,289.8 295.5,288.4 297.1,288.3 298.6,288.3 300.2,288.7 301.8,290.1 303.4,291.4 304.9,292.8 306.5,294.1 308.1,295.5 309.7,296.8 311.2,297.5 312.8,298.2 314.4,298.9 316,299.2 317.6,299.3 319.1,299.5 320.7,299.7 322.3,299.9 323.9,300.1 325.4,300.3 327,300.5 328.6,300.6 330.2,300.8 331.8,301 333.3,301.2 334.9,301.3 336.5,301.5 338.1,301.6 339.6,301.6 341.2,301.7 342.8,301.8 344.4,301.9 345.9,302 347.5,302.1 349.1,302.1 350.7,302.3 352.3,302.4 353.8,302.5 355.4,302.7 357,302.8 358.6,303 360.1,303.1 361.7,303.2 363.3,303.2 364.9,303.2 366.4,303.2 368,303.2 369.6,303.2 371.2,303.2 372.8,303.2 374.3,303.2 375.9,303.3 377.5,303.3 379.1,303.3 380.6,303.3 382.2,303.3 383.8,303.3 385.4,303.3 386.9,303.3 388.5,303.3 390.1,303.3 391.7,303.3 393.3,303.4 394.8,303.4 396.4,303.4 398,303.4 399.6,303.4 401.1,303.4 402.7,303.4 404.3,303.4 405.9,303.4 407.5,303.4 409,303.4 410.6,303.5 412.2,303.5 413.8,303.5 415.3,303.5 416.9,303.5 418.5,303.5 420.1,303.5 421.6,303.5 423.2,303.5 424.8,303.5 426.4,303.5 428,303.6 429.5,303.6 431.1,303.6 432.7,303.6 434.3,303.6 435.8,303.6 437.4,303.6 439,303.6 440.6,303.6 442.1,303.6 443.7,303.6 445.3,303.7" fill="none" stroke="#1c2630" stroke-width="1" stroke-linejoin="round"/>
<rect x="273.4" y="218.2" width="171.9" height="86" fill="none" stroke="#9a9a9a" stroke-width="0.8"/>
<line x1="273.4" y1="291.9" x2="275.2" y2="291.9" stroke="#9a9a9a" stroke-width="0.6"/>
<line x1="443.5" y1="291.9" x2="445.3" y2="291.9" stroke="#9a9a9a" stroke-width="0.6"/>
<line x1="273.4" y1="279.6" x2="275.2" y2="279.6" stroke="#9a9a9a" stroke-width="0.6"/>
<line x1="443.5" y1="279.6" x2="445.3" y2="279.6" stroke="#9a9a9a" stroke-width="0.6"/>
<line x1="273.4" y1="267.3" x2="275.2" y2="267.3" stroke="#9a9a9a" stroke-width="0.6"/>
<line x1="443.5" y1="267.3" x2="445.3" y2="267.3" stroke="#9a9a9a" stroke-width="0.6"/>
<line x1="273.4" y1="255.1" x2="275.2" y2="255.1" stroke="#9a9a9a" stroke-width="0.6"/>
<line x1="443.5" y1="255.1" x2="445.3" y2="255.1" stroke="#9a9a9a" stroke-width="0.6"/>
<line x1="273.4" y1="242.8" x2="275.2" y2="242.8" stroke="#9a9a9a" stroke-width="0.6"/>
<line x1="443.5" y1="242.8" x2="445.3" y2="242.8" stroke="#9a9a9a" stroke-width="0.6"/>
<line x1="273.4" y1="230.5" x2="275.2" y2="230.5" stroke="#9a9a9a" stroke-width="0.6"/>
<line x1="443.5" y1="230.5" x2="445.3" y2="230.5" stroke="#9a9a9a" stroke-width="0.6"/>
<line x1="274" y1="304.2" x2="274" y2="302.4" stroke="#9a9a9a" stroke-width="0.6"/>
<line x1="274" y1="218.2" x2="274" y2="220" stroke="#9a9a9a" stroke-width="0.6"/>
<text transform="translate(276.5 311.9)" font-size="7.31" text-anchor="middle" fill="#3c3c3c" textLength="3.5" lengthAdjust="spacingAndGlyphs">0</text>
<line x1="296.8" y1="304.2" x2="296.8" y2="302.4" stroke="#9a9a9a" stroke-width="0.6"/>
<line x1="296.8" y1="218.2" x2="296.8" y2="220" stroke="#9a9a9a" stroke-width="0.6"/>
<text transform="translate(295.7 311.9)" font-size="7.31" text-anchor="middle" fill="#3c3c3c" textLength="7" lengthAdjust="spacingAndGlyphs">13</text>
<line x1="335.4" y1="304.2" x2="335.4" y2="302.4" stroke="#9a9a9a" stroke-width="0.6"/>
<line x1="335.4" y1="218.2" x2="335.4" y2="220" stroke="#9a9a9a" stroke-width="0.6"/>
<text transform="translate(334.9 311.9)" font-size="7.31" text-anchor="middle" fill="#3c3c3c" textLength="7" lengthAdjust="spacingAndGlyphs">35</text>
<line x1="379.3" y1="304.2" x2="379.3" y2="302.4" stroke="#9a9a9a" stroke-width="0.6"/>
<line x1="379.3" y1="218.2" x2="379.3" y2="220" stroke="#9a9a9a" stroke-width="0.6"/>
<text transform="translate(379.9 311.9)" font-size="7.31" text-anchor="middle" fill="#3c3c3c" textLength="7" lengthAdjust="spacingAndGlyphs">60</text>
<line x1="442.4" y1="304.2" x2="442.4" y2="302.4" stroke="#9a9a9a" stroke-width="0.6"/>
<line x1="442.4" y1="218.2" x2="442.4" y2="220" stroke="#9a9a9a" stroke-width="0.6"/>
<text transform="translate(442.1 311.9)" font-size="7.31" text-anchor="middle" fill="#3c3c3c" textLength="7" lengthAdjust="spacingAndGlyphs">96</text>
<text transform="translate(271.4 223.8)" font-size="7.31" text-anchor="end" fill="#3c3c3c" textLength="3.4" lengthAdjust="spacingAndGlyphs">7</text>
<text transform="translate(271.4 306.1)" font-size="7.31" text-anchor="end" fill="#3c3c3c" textLength="3.4" lengthAdjust="spacingAndGlyphs">0</text>
<text transform="translate(361.6 212.6)" font-size="10.6" text-anchor="middle" fill="#3c3c3c" textLength="71.8" lengthAdjust="spacingAndGlyphs">Dyskinesias: FFT</text>
<text transform="translate(358.4 321.2)" font-size="9.2" text-anchor="middle" fill="#3c3c3c" textLength="58.9" lengthAdjust="spacingAndGlyphs">Frequency [Hz]</text>
<text transform="translate(267.1 261.4) rotate(-90)" font-size="9.2" text-anchor="middle" fill="#3c3c3c" textLength="65.8" lengthAdjust="spacingAndGlyphs">Amplitude [µVp]</text>
<rect x="363.1" y="224.3" width="73.6" height="12.7" fill="#fff" stroke="#6a6a6a" stroke-width="0.7"/>
<line x1="366.3" y1="230.7" x2="390.7" y2="230.7" stroke="#6e6e6e" stroke-width="1.5"/>
<text transform="translate(392.9 234)" font-size="9.5" fill="#2a2a2a" textLength="41.4" lengthAdjust="spacingAndGlyphs">Median FFT</text>
<g fill="none" stroke="#e9703a" stroke-width="0.7" stroke-opacity="0.38"><polyline points="492.2,289.9 493.4,283.8 494.7,277.6 495.9,278.6 497.1,279 498.4,280.1 499.6,280.8 500.8,282.5 502.1,283.9 503.3,286.3 504.5,285.2 505.8,285 507,285 508.2,285.4 509.5,285.4 510.7,285.7 511.9,284.7 513.2,283.7 514.4,282.4 515.6,283.5 516.9,282.8 518.1,283.7 519.3,287.1 520.6,291.4 521.8,293.2 523,295 524.3,295.7 525.5,296.5 526.7,297.4 528,298.1 529.2,298.7 530.4,298.8 531.7,299.2 532.9,299.2 534.1,298.9 535.4,298.9 536.6,299.1 537.8,299 539.1,299 540.3,299 541.5,299.4 542.8,299.4 544,299.8 545.2,300.1 546.5,300.4 547.7,301 548.9,301.3 550.2,301.7 551.4,301.9 552.6,302.2 553.9,302.4 555.1,302.4 556.3,302.6 557.6,302.6 558.8,302.5 560,302.6 561.3,302.6 562.5,302.7 563.7,302.6 565,302.8 566.2,302.8 567.4,302.9 568.7,302.8 569.9,302.8 571.1,302.7 572.4,302.8 573.6,302.8 574.8,302.9 576.1,303 577.3,303 578.5,303.1 579.7,303 581,303.1 582.2,303.2 583.4,302.9 584.7,303.1 585.9,303.2 587.1,303.3 588.4,303.3 589.6,303.3 590.8,303 592.1,303.3 593.3,303.1 594.5,303.2 595.8,303.2 597,303.2 598.2,303.2 599.5,303.2 600.7,303.2 601.9,303.3 603.2,303.3 604.4,303.2 605.6,303.3 606.9,303.3 608.1,303.1 609.3,303.5 610.6,303.4 611.8,303.4 613,303.4 614.3,303.4 615.5,303.4 616.7,303.3 618,303.3 619.2,303.5 620.4,303.5 621.7,303.4 622.9,303.3 624.1,303.4 625.4,303.5 626.6,303.5 627.8,303.5 629.1,303.6 630.3,303.7 631.5,303.6 632.8,303.6 634,303.7 635.2,303.6 636.5,303.6 637.7,303.4 638.9,303.6 640.2,303.6 641.4,303.6 642.6,303.6 643.9,303.7 645.1,303.6 646.3,303.6 647.6,303.7 648.8,303.6 650,303.6 651.3,303.8 652.5,303.5 653.7,303.8 655,303.8 656.2,303.7 657.4,303.7 658.7,303.8 659.9,303.7 661.1,303.7 662.4,303.5 663.6,303.8"/><polyline points="492.2,281.3 493.4,273.9 494.7,263.7 495.9,262.3 497.1,262.9 498.4,268.6 499.6,272.2 500.8,275.2 502.1,279.2 503.3,282 504.5,278.4 505.8,274.9 507,275.4 508.2,278.7 509.5,280.7 510.7,280.1 511.9,280.7 513.2,281.7 514.4,281.2 515.6,281.3 516.9,282.3 518.1,284.7 519.3,285.4 520.6,286.3 521.8,287.6 523,289.5 524.3,290.7 525.5,291.7 526.7,293 528,293.8 529.2,295.3 530.4,295.7 531.7,295.8 532.9,295.8 534.1,295.5 535.4,295.5 536.6,296 537.8,296.5 539.1,296.6 540.3,296.3 541.5,296.8 542.8,297.5 544,297.8 545.2,298.2 546.5,299.1 547.7,299.8 548.9,300.4 550.2,300.5 551.4,300.9 552.6,301.2 553.9,301.2 555.1,301.2 556.3,301.3 557.6,301.3 558.8,301.3 560,301.3 561.3,301.3 562.5,301.2 563.7,301.4 565,301.7 566.2,302 567.4,302.2 568.7,302.2 569.9,302 571.1,301.9 572.4,301.9 573.6,302.2 574.8,302.3 576.1,302.3 577.3,302.6 578.5,302.6 579.7,302.6 581,302.5 582.2,302.6 583.4,302.7 584.7,302.4 585.9,302.6 587.1,302.6 588.4,302.8 589.6,302.7 590.8,302.7 592.1,302.7 593.3,302.7 594.5,302.5 595.8,302.8 597,302.8 598.2,302.9 599.5,303 600.7,302.9 601.9,302.9 603.2,302.9 604.4,302.8 605.6,302.7 606.9,302.8 608.1,302.9 609.3,303 610.6,302.8 611.8,302.8 613,302.9 614.3,302.8 615.5,303 616.7,302.9 618,303 619.2,303.1 620.4,303.2 621.7,303.2 622.9,303 624.1,303.1 625.4,302.8 626.6,303.1 627.8,303.2 629.1,303.3 630.3,303.1 631.5,303.3 632.8,303.3 634,303 635.2,303.1 636.5,303.4 637.7,303.3 638.9,303.2 640.2,303.3 641.4,303.1 642.6,303.4 643.9,303.4 645.1,303.5 646.3,303.4 647.6,303.5 648.8,303.5 650,303.2 651.3,303.6 652.5,303.4 653.7,303.6 655,303.5 656.2,303.4 657.4,303.6 658.7,303.6 659.9,303.6 661.1,303.6 662.4,303.4 663.6,303.7"/><polyline points="492.2,271.7 493.4,262.3 494.7,256.2 495.9,256.6 497.1,254 498.4,259.7 499.6,268.7 500.8,275.3 502.1,280.2 503.3,284.9 504.5,284.8 505.8,284 507,282.8 508.2,283.2 509.5,282.9 510.7,279.7 511.9,274.8 513.2,271.2 514.4,270.8 515.6,273.2 516.9,278 518.1,281.7 519.3,286.4 520.6,289 521.8,291.7 523,292.6 524.3,293.3 525.5,293.5 526.7,294.3 528,295.1 529.2,296.3 530.4,296.4 531.7,296.4 532.9,296.3 534.1,296.5 535.4,296.8 536.6,296.7 537.8,296.6 539.1,296.8 540.3,297.4 541.5,298.4 542.8,299 544,298.8 545.2,298.6 546.5,299.1 547.7,299.7 548.9,300.3 550.2,300.7 551.4,301 552.6,301.5 553.9,301.5 555.1,301.3 556.3,301.3 557.6,301.7 558.8,301.9 560,301.7 561.3,301.7 562.5,301.6 563.7,301.8 565,302 566.2,302.1 567.4,302 568.7,302.1 569.9,302.3 571.1,302.1 572.4,302.2 573.6,302.5 574.8,302.6 576.1,302.8 577.3,302.6 578.5,302.6 579.7,302.6 581,302.7 582.2,302.7 583.4,302.4 584.7,302.7 585.9,302.5 587.1,302.6 588.4,302.8 589.6,302.8 590.8,302.6 592.1,302.8 593.3,302.9 594.5,302.9 595.8,303 597,303 598.2,303 599.5,302.8 600.7,302.8 601.9,302.8 603.2,302.8 604.4,302.7 605.6,303 606.9,303 608.1,302.8 609.3,302.8 610.6,303.1 611.8,303.2 613,303 614.3,303.2 615.5,303 616.7,303 618,303.1 619.2,303.1 620.4,303.2 621.7,303 622.9,303.2 624.1,303.2 625.4,303.2 626.6,302.9 627.8,303.2 629.1,303.3 630.3,303.4 631.5,303.3 632.8,303.4 634,303.4 635.2,303.2 636.5,303.3 637.7,303.3 638.9,303.3 640.2,303.3 641.4,303.4 642.6,303.5 643.9,303.6 645.1,303.5 646.3,303.4 647.6,303.5 648.8,303.6 650,303.4 651.3,303.6 652.5,303.5 653.7,303.7 655,303.6 656.2,303.7 657.4,303.5 658.7,303.7 659.9,303.7 661.1,303.7 662.4,303.6 663.6,303.5"/><polyline points="492.2,283.8 493.4,276.3 494.7,268.4 495.9,268.5 497.1,270.3 498.4,275.7 499.6,280.2 500.8,282.4 502.1,285.8 503.3,289.8 504.5,290.6 505.8,289.8 507,289.7 508.2,290.4 509.5,292.2 510.7,292.5 511.9,292.3 513.2,291.2 514.4,291 515.6,290.8 516.9,290.2 518.1,291 519.3,293 520.6,294.6 521.8,294.7 523,295.5 524.3,296.3 525.5,297.5 526.7,298.1 528,298.3 529.2,298.8 530.4,299 531.7,299.3 532.9,299.1 534.1,299.1 535.4,299 536.6,299.1 537.8,299.1 539.1,299.5 540.3,299.7 541.5,299.8 542.8,300.1 544,300.2 545.2,300.7 546.5,301.1 547.7,301.6 548.9,301.7 550.2,301.8 551.4,302.1 552.6,302.4 553.9,302.4 555.1,302.4 556.3,302.5 557.6,302.5 558.8,302.4 560,302.3 561.3,302.5 562.5,302.6 563.7,302.6 565,302.8 566.2,302.7 567.4,302.8 568.7,302.8 569.9,302.9 571.1,302.9 572.4,302.7 573.6,302.9 574.8,302.8 576.1,303 577.3,303.1 578.5,303.1 579.7,303 581,303.1 582.2,303.1 583.4,303.1 584.7,303.2 585.9,303 587.1,303.1 588.4,303.1 589.6,303.2 590.8,303.1 592.1,303.2 593.3,303.2 594.5,303.1 595.8,303.3 597,303.2 598.2,303.3 599.5,303.4 600.7,303.3 601.9,303.4 603.2,303.5 604.4,303.5 605.6,303.4 606.9,303.3 608.1,303.4 609.3,303.3 610.6,303.5 611.8,303.3 613,303.3 614.3,303.3 615.5,303.4 616.7,303.4 618,303.5 619.2,303.5 620.4,303.4 621.7,303.4 622.9,303.6 624.1,303.6 625.4,303.6 626.6,303.3 627.8,303.4 629.1,303.6 630.3,303.4 631.5,303.4 632.8,303.5 634,303.6 635.2,303.4 636.5,303.7 637.7,303.5 638.9,303.5 640.2,303.5 641.4,303.5 642.6,303.5 643.9,303.8 645.1,303.8 646.3,303.8 647.6,303.6 648.8,303.7 650,303.8 651.3,303.7 652.5,303.8 653.7,303.6 655,303.7 656.2,303.8 657.4,303.8 658.7,303.9 659.9,303.8 661.1,303.6 662.4,303.7 663.6,303.8"/><polyline points="492.2,284.7 493.4,278.4 494.7,272.9 495.9,273.9 497.1,273.2 498.4,276.5 499.6,280 500.8,282.5 502.1,284.6 503.3,288 504.5,288.8 505.8,287.4 507,287.5 508.2,288.2 509.5,289.8 510.7,289.1 511.9,288.3 513.2,287.4 514.4,286.5 515.6,287.6 516.9,287.4 518.1,288.7 519.3,288.8 520.6,290 521.8,291.5 523,293 524.3,294.5 525.5,296.1 526.7,297 528,297.5 529.2,298.5 530.4,299.1 531.7,299.2 532.9,298.8 534.1,298.6 535.4,298.7 536.6,298.9 537.8,299 539.1,299.3 540.3,299.2 541.5,299.6 542.8,299.4 544,299.7 545.2,300.1 546.5,300.6 547.7,301 548.9,301.2 550.2,301.3 551.4,301.7 552.6,302.1 553.9,302.2 555.1,302.1 556.3,302.2 557.6,302.1 558.8,301.9 560,302.2 561.3,302.3 562.5,302.6 563.7,302.5 565,302.2 566.2,302.5 567.4,302.6 568.7,302.6 569.9,302.6 571.1,302.7 572.4,302.8 573.6,302.8 574.8,302.8 576.1,302.9 577.3,302.9 578.5,303 579.7,302.8 581,303 582.2,302.9 583.4,303.1 584.7,303 585.9,303 587.1,303 588.4,303.1 589.6,303.1 590.8,303.1 592.1,303.1 593.3,303.1 594.5,303.1 595.8,303.2 597,303.2 598.2,303.1 599.5,303.2 600.7,303.2 601.9,303.2 603.2,303.2 604.4,303.1 605.6,303.2 606.9,303.2 608.1,303.3 609.3,303.3 610.6,303.3 611.8,303.4 613,303.3 614.3,303.4 615.5,303.3 616.7,303.4 618,303.3 619.2,303.2 620.4,303.4 621.7,303.3 622.9,303.5 624.1,303.2 625.4,303.3 626.6,303.4 627.8,303.4 629.1,303.5 630.3,303.5 631.5,303.4 632.8,303.4 634,303.6 635.2,303.4 636.5,303.6 637.7,303.4 638.9,303.6 640.2,303.5 641.4,303.3 642.6,303.6 643.9,303.5 645.1,303.4 646.3,303.6 647.6,303.5 648.8,303.5 650,303.8 651.3,303.7 652.5,303.7 653.7,303.7 655,303.7 656.2,303.6 657.4,303.8 658.7,303.7 659.9,303.8 661.1,303.8 662.4,303.8 663.6,303.7"/><polyline points="492.2,282 493.4,273.1 494.7,267.4 495.9,268 497.1,268.8 498.4,270.7 499.6,273.6 500.8,274.6 502.1,275.5 503.3,275.3 504.5,270 505.8,265.5 507,265.1 508.2,265.8 509.5,267.7 510.7,269.8 511.9,271.4 513.2,270.7 514.4,269 515.6,270.3 516.9,271.9 518.1,276.6 519.3,280.5 520.6,284.8 521.8,287.9 523,290.7 524.3,291.1 525.5,291.6 526.7,291.7 528,293.3 529.2,295 530.4,295.7 531.7,296 532.9,295.9 534.1,296.5 535.4,296.6 536.6,296.3 537.8,296.6 539.1,296.8 540.3,297.3 541.5,297.4 542.8,297.7 544,298.4 545.2,298.8 546.5,299.3 547.7,299.9 548.9,300.1 550.2,300.3 551.4,300.6 552.6,301 553.9,301.5 555.1,301.6 556.3,301.5 557.6,301.4 558.8,301.2 560,301.2 561.3,301.3 562.5,301.6 563.7,301.7 565,301.9 566.2,302 567.4,301.7 568.7,301.9 569.9,301.9 571.1,302.1 572.4,302.2 573.6,302.2 574.8,302.4 576.1,302.3 577.3,302.3 578.5,302.5 579.7,302.5 581,302.6 582.2,302.4 583.4,302.4 584.7,302.5 585.9,302.6 587.1,302.5 588.4,302.7 589.6,302.5 590.8,302.7 592.1,302.6 593.3,302.7 594.5,302.7 595.8,302.6 597,302.8 598.2,302.8 599.5,303.1 600.7,302.9 601.9,302.8 603.2,302.6 604.4,302.7 605.6,302.9 606.9,302.8 608.1,302.8 609.3,302.5 610.6,302.8 611.8,303.1 613,303.1 614.3,303.1 615.5,302.9 616.7,303 618,303 619.2,303 620.4,302.8 621.7,303.1 622.9,303.1 624.1,303.2 625.4,303.1 626.6,303.1 627.8,303.2 629.1,303.1 630.3,303.3 631.5,303 632.8,303.2 634,303.3 635.2,303.2 636.5,303.3 637.7,303.3 638.9,303.4 640.2,303.4 641.4,303.3 642.6,303.4 643.9,303.4 645.1,303.3 646.3,303.3 647.6,303.5 648.8,303.5 650,303.5 651.3,303.6 652.5,303.5 653.7,303.6 655,303.5 656.2,303.5 657.4,303.6 658.7,303.5 659.9,303.6 661.1,303.6 662.4,303.6 663.6,303.7"/><polyline points="492.2,281.7 493.4,273.6 494.7,264.5 495.9,261.6 497.1,262 498.4,265.9 499.6,269.8 500.8,273.1 502.1,276.2 503.3,278.6 504.5,277.6 505.8,278.9 507,278.8 508.2,278.2 509.5,279.1 510.7,281 511.9,279.9 513.2,278.2 514.4,275.9 515.6,275.1 516.9,274.6 518.1,275.6 519.3,278.7 520.6,282.4 521.8,285.6 523,288.3 524.3,290.8 525.5,292.3 526.7,292.6 528,293.2 529.2,294.6 530.4,295.3 531.7,295.4 532.9,295.6 534.1,295.7 535.4,295.8 536.6,295.9 537.8,296.2 539.1,296.4 540.3,297.3 541.5,297.9 542.8,298.1 544,297.7 545.2,297.5 546.5,298 547.7,299 548.9,299.6 550.2,300.1 551.4,300.5 552.6,301.1 553.9,300.8 555.1,301 556.3,301 557.6,301.4 558.8,301.5 560,301.7 561.3,301.6 562.5,301.7 563.7,301.8 565,301.7 566.2,301.9 567.4,302.1 568.7,302.2 569.9,302.1 571.1,302.1 572.4,302.3 573.6,302 574.8,302.2 576.1,302.3 577.3,302.3 578.5,302 579.7,302.2 581,302.4 582.2,302.5 583.4,302.5 584.7,302.6 585.9,302.7 587.1,302.8 588.4,302.7 589.6,302.7 590.8,302.5 592.1,302.5 593.3,302.4 594.5,302.7 595.8,302.7 597,302.7 598.2,302.7 599.5,302.5 600.7,302.7 601.9,302.6 603.2,302.8 604.4,302.8 605.6,302.7 606.9,302.6 608.1,302.9 609.3,303 610.6,303 611.8,302.8 613,302.8 614.3,303 615.5,302.8 616.7,302.9 618,303 619.2,303 620.4,303.1 621.7,302.8 622.9,303 624.1,303.1 625.4,303.1 626.6,303.2 627.8,303.1 629.1,303.1 630.3,303.1 631.5,303.2 632.8,303.1 634,303.1 635.2,303.1 636.5,303.3 637.7,303.3 638.9,303.4 640.2,303.3 641.4,303.4 642.6,303.2 643.9,303.3 645.1,303.4 646.3,303.4 647.6,303.5 648.8,303.5 650,303.4 651.3,303.3 652.5,303.5 653.7,303.5 655,303.6 656.2,303.6 657.4,303.4 658.7,303.5 659.9,303.6 661.1,303.6 662.4,303.5 663.6,303.6"/><polyline points="492.2,280.4 493.4,272.8 494.7,264 495.9,263.9 497.1,265 498.4,271.6 499.6,278.2 500.8,283.2 502.1,285.4 503.3,287.2 504.5,286 505.8,284.9 507,283.8 508.2,284 509.5,285.3 510.7,285.5 511.9,285.8 513.2,285.5 514.4,286.8 515.6,288.1 516.9,288.5 518.1,289.2 519.3,290.9 520.6,293.1 521.8,295.1 523,295.2 524.3,295 525.5,295.7 526.7,296.5 528,296.4 529.2,297.1 530.4,297.8 531.7,298.1 532.9,298.1 534.1,298 535.4,297.8 536.6,298.2 537.8,298.9 539.1,299.6 540.3,299.6 541.5,299.2 542.8,299.5 544,299.9 545.2,300 546.5,300.4 547.7,300.7 548.9,301.2 550.2,301.6 551.4,301.6 552.6,301.9 553.9,301.9 555.1,302.2 556.3,302.1 557.6,302.2 558.8,302.1 560,302 561.3,302 562.5,302.1 563.7,302.5 565,302.6 566.2,302.5 567.4,302.4 568.7,302.6 569.9,302.6 571.1,302.6 572.4,302.6 573.6,302.8 574.8,302.8 576.1,302.7 577.3,302.8 578.5,302.6 579.7,302.7 581,302.8 582.2,303 583.4,303.2 584.7,303.1 585.9,302.9 587.1,303.1 588.4,302.9 589.6,303 590.8,303 592.1,303 593.3,302.9 594.5,302.9 595.8,303.2 597,303.2 598.2,303.1 599.5,303.1 600.7,303.1 601.9,303 603.2,303.1 604.4,303.1 605.6,303.2 606.9,303.2 608.1,303 609.3,303.2 610.6,303.1 611.8,303.1 613,303.2 614.3,303.3 615.5,303.2 616.7,303.4 618,303.3 619.2,303.4 620.4,303.4 621.7,303.4 622.9,303.4 624.1,303.5 625.4,303.1 626.6,303.3 627.8,303.4 629.1,303.5 630.3,303.4 631.5,303.4 632.8,303.6 634,303.6 635.2,303.5 636.5,303.3 637.7,303.5 638.9,303.4 640.2,303.5 641.4,303.5 642.6,303.5 643.9,303.6 645.1,303.6 646.3,303.6 647.6,303.4 648.8,303.6 650,303.7 651.3,303.7 652.5,303.3 653.7,303.5 655,303.7 656.2,303.6 657.4,303.7 658.7,303.7 659.9,303.7 661.1,303.8 662.4,303.8 663.6,303.8"/><polyline points="492.2,270.3 493.4,256.6 494.7,243.8 495.9,246.7 497.1,253.7 498.4,263.3 499.6,271.4 500.8,276.6 502.1,281 503.3,284.3 504.5,284.5 505.8,283.5 507,284 508.2,285.8 509.5,287.5 510.7,287.8 511.9,286.8 513.2,285.8 514.4,284.2 515.6,285.6 516.9,286 518.1,286 519.3,285.2 520.6,285.8 521.8,287 523,288.8 524.3,289.9 525.5,291.2 526.7,292.8 528,293.7 529.2,294.7 530.4,295.7 531.7,296.5 532.9,296.7 534.1,296.9 535.4,296.7 536.6,297.2 537.8,297.5 539.1,297.5 540.3,297.4 541.5,297.9 542.8,298.7 544,299.3 545.2,300 546.5,300.3 547.7,300.4 548.9,300.7 550.2,301.1 551.4,301.4 552.6,301.4 553.9,301.6 555.1,301.5 556.3,301.9 557.6,301.8 558.8,301.8 560,302 561.3,302.1 562.5,302 563.7,302.1 565,302 566.2,302.3 567.4,302.3 568.7,302.2 569.9,302.4 571.1,302.2 572.4,302.5 573.6,302.4 574.8,302.6 576.1,302.7 577.3,302.8 578.5,302.7 579.7,302.6 581,302.8 582.2,302.9 583.4,302.7 584.7,302.8 585.9,302.6 587.1,302.8 588.4,302.7 589.6,302.8 590.8,302.7 592.1,303 593.3,303 594.5,303 595.8,303 597,303.1 598.2,303.1 599.5,302.9 600.7,302.8 601.9,303 603.2,302.9 604.4,303.2 605.6,303.1 606.9,303.2 608.1,303.1 609.3,303.1 610.6,303.2 611.8,303.1 613,303.1 614.3,303.2 615.5,303.2 616.7,303.1 618,303.3 619.2,303 620.4,303.1 621.7,303.3 622.9,303.3 624.1,303.2 625.4,303.3 626.6,303.3 627.8,303.4 629.1,303.4 630.3,303.4 631.5,303.2 632.8,303.3 634,303 635.2,303.5 636.5,303.5 637.7,303.5 638.9,303.5 640.2,303.5 641.4,303.5 642.6,303.5 643.9,303.3 645.1,303.5 646.3,303.4 647.6,303.6 648.8,303.6 650,303.6 651.3,303.3 652.5,303.6 653.7,303.7 655,303.6 656.2,303.7 657.4,303.7 658.7,303.6 659.9,303.6 661.1,303.5 662.4,303.8 663.6,303.8"/><polyline points="492.2,268.7 493.4,259.8 494.7,250.6 495.9,249.9 497.1,248.6 498.4,252.7 499.6,260.8 500.8,267 502.1,274 503.3,277.3 504.5,274.9 505.8,272.9 507,272.5 508.2,272.7 509.5,274.8 510.7,277.1 511.9,280.1 513.2,279.2 514.4,278.4 515.6,279 516.9,280.6 518.1,282 519.3,282.1 520.6,281.3 521.8,282.9 523,286.2 524.3,288 525.5,288.8 526.7,289.5 528,290.4 529.2,291.9 530.4,293.6 531.7,294.5 532.9,294.2 534.1,294.7 535.4,295.4 536.6,295.9 537.8,295.9 539.1,296.5 540.3,296.6 541.5,296.6 542.8,296.9 544,297.8 545.2,298.2 546.5,298.7 547.7,299.2 548.9,299.5 550.2,300 551.4,300.5 552.6,300.9 553.9,301.2 555.1,301.1 556.3,300.9 557.6,301 558.8,301 560,301.3 561.3,301.4 562.5,301.3 563.7,301.6 565,301.7 566.2,301.6 567.4,301.4 568.7,301.4 569.9,301.9 571.1,302.2 572.4,301.8 573.6,301.7 574.8,302.3 576.1,302.3 577.3,302.2 578.5,302.2 579.7,302.3 581,302.3 582.2,302.5 583.4,302.4 584.7,302.2 585.9,302.3 587.1,302.5 588.4,302.4 589.6,302.6 590.8,302.6 592.1,302.6 593.3,302.5 594.5,302.6 595.8,302.6 597,302.6 598.2,302.7 599.5,302.7 600.7,302.7 601.9,302.6 603.2,302.6 604.4,302.5 605.6,302.7 606.9,302.8 608.1,302.8 609.3,302.8 610.6,302.9 611.8,302.8 613,302.7 614.3,302.7 615.5,302.8 616.7,302.9 618,303 619.2,302.7 620.4,303 621.7,302.9 622.9,302.9 624.1,303.1 625.4,302.9 626.6,303 627.8,303.1 629.1,303.2 630.3,303.2 631.5,303.2 632.8,303.1 634,303 635.2,303.2 636.5,303.2 637.7,303.1 638.9,303.3 640.2,303.2 641.4,303.2 642.6,303.3 643.9,303.3 645.1,303.1 646.3,303.4 647.6,303.4 648.8,303.4 650,303.4 651.3,303.4 652.5,303.3 653.7,303.3 655,303.6 656.2,303.5 657.4,303.6 658.7,303.6 659.9,303.5 661.1,303.5 662.4,303.5 663.6,303.7"/><polyline points="492.2,276 493.4,268.8 494.7,262.7 495.9,262.6 497.1,262.9 498.4,270.1 499.6,274.7 500.8,277.4 502.1,281.8 503.3,286.2 504.5,287.1 505.8,287.6 507,288.9 508.2,289.9 509.5,290 510.7,288.6 511.9,286.2 513.2,284.4 514.4,283.9 515.6,284 516.9,284.1 518.1,282.7 519.3,282.9 520.6,285 521.8,288.2 523,289.7 524.3,290.5 525.5,292.3 526.7,294.4 528,295.6 529.2,295.7 530.4,296 531.7,296.3 532.9,297.3 534.1,297.9 535.4,297.9 536.6,297.5 537.8,297.4 539.1,297.5 540.3,297.9 541.5,298.4 542.8,298.8 544,299.2 545.2,299.3 546.5,299.7 547.7,300.2 548.9,300.6 550.2,300.9 551.4,301.2 552.6,301.6 553.9,301.6 555.1,301.8 556.3,301.9 557.6,301.7 558.8,302.1 560,302 561.3,301.9 562.5,301.9 563.7,302.2 565,302.1 566.2,302.2 567.4,302.3 568.7,302.4 569.9,302.5 571.1,302.4 572.4,302.3 573.6,302.7 574.8,302.8 576.1,302.5 577.3,302.6 578.5,302.9 579.7,302.8 581,302.7 582.2,302.8 583.4,302.7 584.7,302.7 585.9,302.8 587.1,302.8 588.4,302.9 589.6,303 590.8,302.7 592.1,303.1 593.3,303 594.5,303 595.8,303 597,302.9 598.2,303 599.5,303 600.7,302.7 601.9,302.9 603.2,302.9 604.4,303 605.6,303.1 606.9,303 608.1,303 609.3,303 610.6,303.1 611.8,303 613,303.2 614.3,303.2 615.5,303.1 616.7,303.3 618,303.2 619.2,303.3 620.4,303.1 621.7,303.1 622.9,303.1 624.1,303.3 625.4,303.3 626.6,303.3 627.8,303.4 629.1,303.5 630.3,303.4 631.5,303.4 632.8,303.4 634,303.2 635.2,303.3 636.5,303.3 637.7,303.4 638.9,303.5 640.2,303.5 641.4,303.3 642.6,303.4 643.9,303.6 645.1,303.6 646.3,303.4 647.6,303.6 648.8,303.5 650,303.6 651.3,303.6 652.5,303.6 653.7,303.6 655,303.3 656.2,303.7 657.4,303.7 658.7,303.7 659.9,303.7 661.1,303.8 662.4,303.6 663.6,303.7"/><polyline points="492.2,265.5 493.4,253.9 494.7,239.7 495.9,238.9 497.1,237.7 498.4,249.8 499.6,258 500.8,261.7 502.1,268.2 503.3,275.1 504.5,273.4 505.8,268.2 507,267.4 508.2,271.4 509.5,275 510.7,274.9 511.9,273.3 513.2,272.5 514.4,276.8 515.6,279.5 516.9,279.5 518.1,278.6 519.3,281.4 520.6,283 521.8,284.6 523,285.9 524.3,288.4 525.5,289.9 526.7,289.9 528,289 529.2,290.2 530.4,290.8 531.7,291.5 532.9,292 534.1,292.8 535.4,293.2 536.6,293.1 537.8,293 539.1,294 540.3,294.7 541.5,295.5 542.8,295.8 544,297 545.2,297.4 546.5,297.6 547.7,298.2 548.9,298.8 550.2,299.3 551.4,300 552.6,300.9 553.9,300.8 555.1,300.7 556.3,300.6 557.6,300.6 558.8,300.7 560,300.8 561.3,301.1 562.5,301.1 563.7,301.2 565,301 566.2,301.1 567.4,301.4 568.7,301.2 569.9,301.3 571.1,301.5 572.4,301.4 573.6,301.8 574.8,301.7 576.1,301.9 577.3,302 578.5,302 579.7,302.2 581,302 582.2,302.1 583.4,302.1 584.7,302.1 585.9,302.2 587.1,302.2 588.4,302.3 589.6,302.4 590.8,302.4 592.1,302.4 593.3,302.3 594.5,302.4 595.8,302.6 597,302.5 598.2,302.4 599.5,302.4 600.7,302.4 601.9,302.5 603.2,302.4 604.4,302.5 605.6,302.3 606.9,302.3 608.1,302.8 609.3,302.6 610.6,302.6 611.8,302.5 613,302.6 614.3,302.6 615.5,302.2 616.7,302.3 618,302.7 619.2,302.6 620.4,302.7 621.7,302.7 622.9,302.7 624.1,302.9 625.4,302.9 626.6,302.7 627.8,302.9 629.1,302.9 630.3,302.9 631.5,302.9 632.8,303 634,303.1 635.2,303.1 636.5,303.2 637.7,302.9 638.9,303.1 640.2,303 641.4,303.1 642.6,303.1 643.9,302.9 645.1,303 646.3,303.2 647.6,303.3 648.8,303.3 650,303.2 651.3,303.2 652.5,303.3 653.7,303.4 655,303.5 656.2,303.6 657.4,303.5 658.7,303.5 659.9,303.5 661.1,303.5 662.4,303.5 663.6,303.4"/><polyline points="492.2,277.9 493.4,270.2 494.7,259.9 495.9,257.9 497.1,258.8 498.4,265.7 499.6,271 500.8,276.4 502.1,280.4 503.3,284.8 504.5,285.2 505.8,282.4 507,280.5 508.2,281.9 509.5,284.3 510.7,284.1 511.9,283.5 513.2,283.9 514.4,283.8 515.6,284 516.9,284.2 518.1,285 519.3,286.7 520.6,287.4 521.8,287 523,288.4 524.3,289.7 525.5,291.6 526.7,293.6 528,295 529.2,295.5 530.4,295.5 531.7,296.1 532.9,296.7 534.1,297.1 535.4,297.8 536.6,297.5 537.8,297.2 539.1,297.5 540.3,297.6 541.5,298 542.8,298.5 544,298.8 545.2,298.8 546.5,299.3 547.7,299.8 548.9,300.2 550.2,300.6 551.4,301.2 552.6,301.4 553.9,301.3 555.1,301.5 556.3,301.7 557.6,301.7 558.8,301.7 560,301.7 561.3,301.8 562.5,301.8 563.7,301.9 565,302.1 566.2,302 567.4,302.1 568.7,302.4 569.9,302.4 571.1,302.6 572.4,302.5 573.6,302.4 574.8,302.6 576.1,302.6 577.3,302.7 578.5,302.6 579.7,302.5 581,302.7 582.2,302.7 583.4,302.8 584.7,302.7 585.9,302.8 587.1,302.6 588.4,302.8 589.6,302.7 590.8,302.9 592.1,303 593.3,302.9 594.5,302.8 595.8,302.7 597,302.8 598.2,302.8 599.5,302.8 600.7,303 601.9,303.1 603.2,303 604.4,303.1 605.6,303 606.9,302.9 608.1,303 609.3,303.1 610.6,303.1 611.8,303 613,302.9 614.3,303.1 615.5,303.1 616.7,303.1 618,303.2 619.2,303 620.4,303 621.7,303.1 622.9,303 624.1,303.1 625.4,303 626.6,303.2 627.8,303.3 629.1,303.4 630.3,303.4 631.5,302.9 632.8,303.1 634,303.2 635.2,303.4 636.5,303.3 637.7,303.2 638.9,303.5 640.2,303.5 641.4,303.5 642.6,303.3 643.9,303.5 645.1,303.3 646.3,303.5 647.6,303.4 648.8,303.6 650,303.4 651.3,303.6 652.5,303.5 653.7,303.6 655,303.7 656.2,303.6 657.4,303.7 658.7,303.3 659.9,303.7 661.1,303.6 662.4,303.5 663.6,303.7"/><polyline points="492.2,270.1 493.4,258.1 494.7,250.2 495.9,251.9 497.1,250.9 498.4,256.9 499.6,265.4 500.8,271.3 502.1,276.7 503.3,279.5 504.5,278.3 505.8,277.5 507,279.5 508.2,279.9 509.5,280 510.7,279.4 511.9,279 513.2,281.3 514.4,281.8 515.6,282.7 516.9,281.8 518.1,285.1 519.3,287.4 520.6,287.9 521.8,288.2 523,289.9 524.3,291.5 525.5,292 526.7,293.7 528,294.7 529.2,294.9 530.4,294.5 531.7,294.8 532.9,295.6 534.1,295.9 535.4,295.8 536.6,295.5 537.8,295.6 539.1,296.2 540.3,296.8 541.5,297.1 542.8,297.6 544,298.1 545.2,298.7 546.5,299.2 547.7,299.8 548.9,300 550.2,300.3 551.4,300.7 552.6,301 553.9,301.3 555.1,301.4 556.3,301.5 557.6,301.3 558.8,301.5 560,301.5 561.3,301.6 562.5,301.6 563.7,301.6 565,301.6 566.2,302 567.4,302 568.7,302.2 569.9,301.9 571.1,302.1 572.4,302.2 573.6,302 574.8,302.3 576.1,302.3 577.3,302.4 578.5,302.5 579.7,302.4 581,302.4 582.2,302.2 583.4,302.3 584.7,302.6 585.9,302.6 587.1,302.5 588.4,302.7 589.6,302.6 590.8,302.7 592.1,302.7 593.3,302.7 594.5,302.7 595.8,302.7 597,302.7 598.2,302.7 599.5,302.9 600.7,302.8 601.9,302.5 603.2,302.6 604.4,302.7 605.6,302.8 606.9,302.8 608.1,302.8 609.3,302.9 610.6,302.7 611.8,302.8 613,302.8 614.3,303 615.5,303.1 616.7,303 618,303.1 619.2,303 620.4,302.8 621.7,303 622.9,303.1 624.1,303.2 625.4,303.3 626.6,303.2 627.8,303.1 629.1,303 630.3,303.1 631.5,302.9 632.8,303.3 634,303.3 635.2,303.3 636.5,303.2 637.7,303.1 638.9,303 640.2,303.3 641.4,303.1 642.6,303.4 643.9,303.3 645.1,303.4 646.3,303.3 647.6,303.5 648.8,303.5 650,303.4 651.3,303.3 652.5,303.5 653.7,303.3 655,303.3 656.2,303.6 657.4,303.5 658.7,303.5 659.9,303.5 661.1,303.6 662.4,303.5 663.6,303.6"/><polyline points="492.2,282.4 493.4,275.5 494.7,271.2 495.9,271.2 497.1,271.6 498.4,273.9 499.6,276.5 500.8,278.7 502.1,282.2 503.3,286.5 504.5,287.7 505.8,289 507,290.5 508.2,290.7 509.5,290 510.7,288.8 511.9,287.4 513.2,286.8 514.4,286.9 515.6,288.6 516.9,288.3 518.1,288.5 519.3,289.8 520.6,291.5 521.8,292.8 523,293.8 524.3,293.7 525.5,294.1 526.7,294.9 528,296.1 529.2,296.7 530.4,297.1 531.7,298 532.9,298.2 534.1,298.2 535.4,298.5 536.6,298.5 537.8,298.1 539.1,298.3 540.3,298.5 541.5,298.6 542.8,298.9 544,299.4 545.2,299.6 546.5,300.1 547.7,300.2 548.9,300.9 550.2,301 551.4,301.5 552.6,301.6 553.9,302 555.1,302.1 556.3,302.2 557.6,302.2 558.8,302 560,302.2 561.3,302.2 562.5,302.2 563.7,302.2 565,302.1 566.2,302.2 567.4,302.1 568.7,302.1 569.9,302.6 571.1,302.6 572.4,302.5 573.6,302.6 574.8,302.6 576.1,302.7 577.3,302.9 578.5,302.9 579.7,302.7 581,302.9 582.2,303 583.4,303 584.7,303 585.9,302.8 587.1,302.9 588.4,302.8 589.6,303.1 590.8,302.9 592.1,302.9 593.3,303 594.5,302.8 595.8,302.8 597,302.9 598.2,302.8 599.5,303 600.7,303 601.9,303.2 603.2,303.2 604.4,303.1 605.6,303.1 606.9,303.1 608.1,303.2 609.3,303.2 610.6,303.3 611.8,303.1 613,303.1 614.3,303.2 615.5,303 616.7,303.3 618,303.1 619.2,303.2 620.4,303.4 621.7,303.3 622.9,303.3 624.1,303.3 625.4,303.5 626.6,303.4 627.8,303.5 629.1,303.3 630.3,303.4 631.5,303.3 632.8,303.5 634,303.4 635.2,303.4 636.5,303.5 637.7,303.5 638.9,303.4 640.2,303.4 641.4,303.6 642.6,303.6 643.9,303.4 645.1,303.4 646.3,303.5 647.6,303.6 648.8,303.6 650,303.7 651.3,303.4 652.5,303.7 653.7,303.3 655,303.8 656.2,303.6 657.4,303.6 658.7,303.8 659.9,303.6 661.1,303.6 662.4,303.6 663.6,303.6"/><polyline points="492.2,270.3 493.4,260.2 494.7,250.7 495.9,253.2 497.1,256.5 498.4,262.2 499.6,268.5 500.8,273.7 502.1,279.4 503.3,282.7 504.5,282.5 505.8,282.1 507,283.7 508.2,284.7 509.5,284.6 510.7,283.4 511.9,282.8 513.2,281.8 514.4,281 515.6,281.2 516.9,282.3 518.1,284.1 519.3,287.2 520.6,290 521.8,293.3 523,294.7 524.3,295.6 525.5,295.8 526.7,296.2 528,296.6 529.2,297.4 530.4,297.2 531.7,296.9 532.9,297 534.1,297.6 535.4,297.8 536.6,298.3 537.8,298.2 539.1,298.5 540.3,298.8 541.5,299.1 542.8,299 544,299.3 545.2,299.8 546.5,300.3 547.7,300.3 548.9,300.7 550.2,301 551.4,301.5 552.6,301.7 553.9,301.6 555.1,302 556.3,302 557.6,301.8 558.8,301.9 560,302.1 561.3,302.2 562.5,302.3 563.7,302.3 565,302.3 566.2,302.3 567.4,302.3 568.7,302.2 569.9,302.3 571.1,302.3 572.4,302.4 573.6,302.6 574.8,302.6 576.1,302.6 577.3,302.6 578.5,302.8 579.7,302.9 581,302.9 582.2,302.8 583.4,302.9 584.7,302.9 585.9,303 587.1,303 588.4,302.9 589.6,302.6 590.8,303 592.1,303 593.3,302.7 594.5,302.7 595.8,303 597,303 598.2,303 599.5,302.9 600.7,303.1 601.9,302.9 603.2,303 604.4,303 605.6,303 606.9,303.1 608.1,303 609.3,303.2 610.6,303 611.8,303.1 613,303.1 614.3,302.8 615.5,303.1 616.7,303.2 618,303.1 619.2,303.3 620.4,303.1 621.7,303.2 622.9,303.3 624.1,303.2 625.4,303.3 626.6,303.1 627.8,303.3 629.1,303 630.3,303.3 631.5,303.4 632.8,303.3 634,303.3 635.2,303.5 636.5,303.5 637.7,303.1 638.9,303.4 640.2,303.4 641.4,303.2 642.6,303.5 643.9,303.5 645.1,303.5 646.3,303.4 647.6,303.3 648.8,303.6 650,303.6 651.3,303.6 652.5,303.6 653.7,303.7 655,303.5 656.2,303.6 657.4,303.7 658.7,303.6 659.9,303.6 661.1,303.7 662.4,303.8 663.6,303.7"/><polyline points="492.2,282.4 493.4,274.2 494.7,263.1 495.9,261.4 497.1,261.4 498.4,268.4 499.6,272.7 500.8,275.9 502.1,278.5 503.3,280.8 504.5,279.9 505.8,279.9 507,279.8 508.2,279.5 509.5,280.5 510.7,282.6 511.9,282.9 513.2,282.5 514.4,280.8 515.6,280 516.9,277.4 518.1,276.7 519.3,279.1 520.6,282.1 521.8,285.1 523,288.3 524.3,290.4 525.5,292.2 526.7,293.2 528,294.8 529.2,295.9 530.4,296.3 531.7,295.9 532.9,296.4 534.1,296.9 535.4,296.9 536.6,296.6 537.8,296.6 539.1,297.4 540.3,298.1 541.5,298.4 542.8,298.3 544,298.2 545.2,298.7 546.5,299 547.7,299.7 548.9,300.4 550.2,300.6 551.4,301 552.6,301.4 553.9,301.4 555.1,301.7 556.3,301.6 557.6,301.9 558.8,301.9 560,301.7 561.3,301.9 562.5,301.9 563.7,301.9 565,302 566.2,302 567.4,302.1 568.7,302.1 569.9,302.3 571.1,302.2 572.4,302.4 573.6,302.3 574.8,302.3 576.1,302.2 577.3,302.4 578.5,302.6 579.7,302.6 581,302.6 582.2,302.5 583.4,302.7 584.7,302.8 585.9,302.8 587.1,302.8 588.4,302.9 589.6,302.9 590.8,302.7 592.1,302.9 593.3,302.8 594.5,302.9 595.8,302.8 597,302.6 598.2,302.8 599.5,302.7 600.7,302.8 601.9,302.8 603.2,302.8 604.4,302.7 605.6,302.9 606.9,303.1 608.1,303 609.3,303 610.6,303.1 611.8,302.9 613,303 614.3,303.1 615.5,302.9 616.7,303 618,303 619.2,303 620.4,303.1 621.7,303.2 622.9,303.3 624.1,303.1 625.4,303.2 626.6,303.1 627.8,303.4 629.1,303.3 630.3,303.3 631.5,303.3 632.8,303.1 634,303.4 635.2,303.3 636.5,303.4 637.7,303.4 638.9,303.4 640.2,303.3 641.4,303.4 642.6,303.5 643.9,303.3 645.1,303.5 646.3,303.6 647.6,303.6 648.8,303.5 650,303.4 651.3,303.4 652.5,303.6 653.7,303.4 655,303.3 656.2,303.6 657.4,303.6 658.7,303.6 659.9,303.7 661.1,303.5 662.4,303.6 663.6,303.5"/><polyline points="492.2,284.2 493.4,280 494.7,274.5 495.9,273.9 497.1,269.5 498.4,273.5 499.6,278.3 500.8,282.6 502.1,284.5 503.3,286.5 504.5,286 505.8,285.7 507,286.6 508.2,286.8 509.5,287.7 510.7,287.5 511.9,287.6 513.2,287.1 514.4,286.9 515.6,287.2 516.9,286.1 518.1,285.7 519.3,286.7 520.6,287.6 521.8,289.3 523,290.1 524.3,291.6 525.5,293.4 526.7,295.6 528,296.9 529.2,297.9 530.4,298 531.7,297.7 532.9,297.5 534.1,297.3 535.4,297.8 536.6,298.4 537.8,298.7 539.1,298.3 540.3,298.6 541.5,299 542.8,299.7 544,299.7 545.2,300 546.5,300.5 547.7,300.9 548.9,301.3 550.2,301.2 551.4,301.7 552.6,302.1 553.9,302.1 555.1,302.2 556.3,302.1 557.6,302.2 558.8,302.2 560,302.3 561.3,302.3 562.5,302.4 563.7,302.3 565,302.5 566.2,302.3 567.4,302.7 568.7,302.7 569.9,302.7 571.1,302.7 572.4,302.6 573.6,302.8 574.8,302.7 576.1,302.8 577.3,302.8 578.5,302.9 579.7,303 581,303 582.2,303 583.4,303 584.7,303.2 585.9,303.3 587.1,303.2 588.4,302.9 589.6,302.9 590.8,302.8 592.1,303 593.3,302.9 594.5,303 595.8,303 597,303.2 598.2,303.1 599.5,303.2 600.7,303 601.9,303.3 603.2,303.1 604.4,303.2 605.6,303.2 606.9,303.1 608.1,303.4 609.3,303.3 610.6,303.1 611.8,303.2 613,303.4 614.3,303.3 615.5,303.1 616.7,303.3 618,303.1 619.2,303.2 620.4,303.2 621.7,303.4 622.9,303.5 624.1,303.5 625.4,303.5 626.6,303.3 627.8,303.3 629.1,303.4 630.3,303.3 631.5,303.5 632.8,303.6 634,303.5 635.2,303.4 636.5,303.6 637.7,303.4 638.9,303.6 640.2,303.6 641.4,303.7 642.6,303.6 643.9,303.6 645.1,303.6 646.3,303.6 647.6,303.6 648.8,303.5 650,303.7 651.3,303.6 652.5,303.6 653.7,303.7 655,303.8 656.2,303.5 657.4,303.6 658.7,303.8 659.9,303.7 661.1,303.7 662.4,303.8 663.6,303.7"/><polyline points="492.2,281.7 493.4,273.2 494.7,264.1 495.9,264 497.1,266.6 498.4,273.8 499.6,277.5 500.8,279.6 502.1,281.9 503.3,284.2 504.5,283 505.8,281.2 507,282.4 508.2,284.4 509.5,285.1 510.7,285 511.9,286.1 513.2,287.2 514.4,287.3 515.6,287.8 516.9,288.1 518.1,288.3 519.3,289.4 520.6,291.3 521.8,293 523,294.2 524.3,294.7 525.5,295.5 526.7,296.4 528,297.3 529.2,297.9 530.4,298.7 531.7,298.7 532.9,298.7 534.1,298.5 535.4,298.1 536.6,298.2 537.8,298.2 539.1,298.4 540.3,298.6 541.5,298.5 542.8,299 544,299.5 545.2,300.2 546.5,300.6 547.7,300.9 548.9,301.3 550.2,301.6 551.4,302.1 552.6,302.2 553.9,302.2 555.1,302.2 556.3,302.2 557.6,302.2 558.8,302.1 560,302 561.3,302.2 562.5,302.3 563.7,302.4 565,302.5 566.2,302.5 567.4,302.5 568.7,302.5 569.9,302.7 571.1,302.8 572.4,302.8 573.6,302.6 574.8,302.8 576.1,302.8 577.3,302.8 578.5,302.7 579.7,302.9 581,303 582.2,303 583.4,303 584.7,303 585.9,303 587.1,303.1 588.4,302.8 589.6,303.1 590.8,303 592.1,303.1 593.3,303.1 594.5,303 595.8,303 597,303.1 598.2,303.2 599.5,303.1 600.7,303.2 601.9,303.3 603.2,303.2 604.4,303.2 605.6,303.2 606.9,303.1 608.1,303.2 609.3,303.2 610.6,303.3 611.8,303.3 613,303.3 614.3,303.1 615.5,303.4 616.7,303.4 618,303.4 619.2,303.4 620.4,303.4 621.7,303.2 622.9,303.5 624.1,303.2 625.4,303.4 626.6,303.4 627.8,303.4 629.1,303.3 630.3,303.4 631.5,303.5 632.8,303.6 634,303.4 635.2,303.4 636.5,303.5 637.7,303.5 638.9,303.4 640.2,303.5 641.4,303.6 642.6,303.5 643.9,303.5 645.1,303.7 646.3,303.6 647.6,303.7 648.8,303.6 650,303.7 651.3,303.8 652.5,303.7 653.7,303.8 655,303.7 656.2,303.5 657.4,303.8 658.7,303.8 659.9,303.7 661.1,303.8 662.4,303.8 663.6,303.7"/><polyline points="492.2,273.1 493.4,265 494.7,258.2 495.9,256.2 497.1,255.5 498.4,263.6 499.6,269.6 500.8,273.7 502.1,277.5 503.3,281.5 504.5,277.9 505.8,274.2 507,274.2 508.2,277.8 509.5,280 510.7,280.8 511.9,279.5 513.2,277.6 514.4,276.3 515.6,278.2 516.9,280.1 518.1,283.6 519.3,286.9 520.6,289.6 521.8,291.1 523,293.1 524.3,294.1 525.5,295.4 526.7,295.8 528,296.3 529.2,297 530.4,296.9 531.7,296.8 532.9,296.6 534.1,296.5 535.4,296.4 536.6,296.6 537.8,297.6 539.1,297.9 540.3,298 541.5,297.9 542.8,298.6 544,299.1 545.2,299.3 546.5,299.4 547.7,299.8 548.9,300.1 550.2,300.6 551.4,301.1 552.6,301.2 553.9,301.5 555.1,301.6 556.3,301.9 557.6,302.1 558.8,301.9 560,301.8 561.3,301.7 562.5,301.9 563.7,301.9 565,302 566.2,302.3 567.4,302.4 568.7,302.2 569.9,302.2 571.1,302.1 572.4,302.3 573.6,302.2 574.8,302.6 576.1,302.5 577.3,302.6 578.5,302.6 579.7,302.7 581,302.7 582.2,302.8 583.4,302.9 584.7,302.9 585.9,302.8 587.1,302.9 588.4,302.9 589.6,303 590.8,302.6 592.1,302.8 593.3,302.9 594.5,302.9 595.8,302.6 597,302.8 598.2,303 599.5,303 600.7,302.8 601.9,302.9 603.2,302.9 604.4,302.9 605.6,303 606.9,303 608.1,303.1 609.3,303 610.6,303.1 611.8,303 613,303.1 614.3,303.1 615.5,303.1 616.7,303.1 618,303.1 619.2,303.1 620.4,303.1 621.7,303.1 622.9,303.2 624.1,303.3 625.4,303 626.6,303.4 627.8,303.3 629.1,303.4 630.3,303.3 631.5,303.3 632.8,303.3 634,303.3 635.2,303.5 636.5,303.4 637.7,303.5 638.9,303.2 640.2,303.5 641.4,303.5 642.6,303.4 643.9,303.5 645.1,303.4 646.3,303.5 647.6,303.5 648.8,303.6 650,303.4 651.3,303.6 652.5,303.7 653.7,303.7 655,303.5 656.2,303.5 657.4,303.6 658.7,303.6 659.9,303.7 661.1,303.6 662.4,303.6 663.6,303.7"/><polyline points="492.2,276 493.4,266.7 494.7,258.8 495.9,262.1 497.1,261.5 498.4,268.2 499.6,271.7 500.8,275.4 502.1,277.9 503.3,280.5 504.5,279.4 505.8,278.4 507,281.5 508.2,284.5 509.5,285.8 510.7,284.4 511.9,281.7 513.2,280.5 514.4,279.9 515.6,279 516.9,278.5 518.1,279.2 519.3,280.4 520.6,281.6 521.8,283.6 523,287.6 524.3,289.9 525.5,292.6 526.7,293.7 528,294.5 529.2,295.4 530.4,296.2 531.7,296.3 532.9,296.1 534.1,295.9 535.4,296 536.6,296 537.8,296.3 539.1,296.9 540.3,297.3 541.5,297.2 542.8,297.1 544,297.7 545.2,298.3 546.5,299.1 547.7,299 548.9,299.5 550.2,300 551.4,301.1 552.6,301.2 553.9,301.2 555.1,301.2 556.3,301.2 557.6,301.1 558.8,301.2 560,301.1 561.3,301.5 562.5,301.6 563.7,301.5 565,301.5 566.2,301.9 567.4,301.7 568.7,301.8 569.9,302 571.1,302 572.4,302.1 573.6,302 574.8,301.9 576.1,302.2 577.3,302.3 578.5,302.3 579.7,302.4 581,302.4 582.2,302.5 583.4,302.5 584.7,302.3 585.9,302.3 587.1,302.3 588.4,302.2 589.6,302.2 590.8,302.5 592.1,302.5 593.3,302.6 594.5,302.7 595.8,302.5 597,302.8 598.2,302.7 599.5,302.7 600.7,302.5 601.9,302.7 603.2,302.8 604.4,302.5 605.6,302.7 606.9,302.8 608.1,302.7 609.3,302.8 610.6,302.8 611.8,302.7 613,303 614.3,303 615.5,303 616.7,302.8 618,302.9 619.2,302.9 620.4,303.1 621.7,303 622.9,302.9 624.1,303.1 625.4,303.2 626.6,303.2 627.8,303.1 629.1,303.2 630.3,303.2 631.5,303.2 632.8,303.2 634,303.1 635.2,303.2 636.5,303.3 637.7,303.2 638.9,303.4 640.2,303.3 641.4,303.3 642.6,303.5 643.9,303.3 645.1,303.3 646.3,303.4 647.6,303.5 648.8,303.4 650,303.6 651.3,303.5 652.5,303.3 653.7,303.3 655,303.6 656.2,303.5 657.4,303.6 658.7,303.7 659.9,303.5 661.1,303.5 662.4,303.7 663.6,303.6"/><polyline points="492.2,286.9 493.4,280 494.7,275 495.9,277.2 497.1,279 498.4,282.9 499.6,286.6 500.8,287.7 502.1,288.4 503.3,289.3 504.5,288.2 505.8,287.6 507,287.4 508.2,287.6 509.5,288.1 510.7,289.6 511.9,289.9 513.2,290.6 514.4,291.3 515.6,293 516.9,293.5 518.1,294.4 519.3,295.1 520.6,295.8 521.8,296.8 523,297.9 524.3,298.5 525.5,298.9 526.7,299.2 528,299.2 529.2,299.4 530.4,299.3 531.7,299.4 532.9,299.2 534.1,299.3 535.4,299.7 536.6,299.8 537.8,300.1 539.1,299.9 540.3,300.3 541.5,300.5 542.8,300.8 544,301.1 545.2,301.1 546.5,301.4 547.7,301.7 548.9,302 550.2,302.1 551.4,302.4 552.6,302.5 553.9,302.5 555.1,302.5 556.3,302.4 557.6,302.7 558.8,302.7 560,302.7 561.3,302.8 562.5,302.8 563.7,302.8 565,302.9 566.2,302.8 567.4,302.6 568.7,302.7 569.9,302.9 571.1,302.9 572.4,303 573.6,303.2 574.8,303.2 576.1,303.3 577.3,303.2 578.5,303.3 579.7,303.2 581,303.2 582.2,303.2 583.4,303.1 584.7,303.2 585.9,303.3 587.1,303.3 588.4,303.3 589.6,303.3 590.8,303.2 592.1,303.3 593.3,303.1 594.5,303.2 595.8,303.3 597,303.3 598.2,303.4 599.5,303.4 600.7,303.5 601.9,303.4 603.2,303.5 604.4,303.2 605.6,303.5 606.9,303.5 608.1,303.4 609.3,303.4 610.6,303.5 611.8,303.2 613,303.4 614.3,303.5 615.5,303.5 616.7,303.4 618,303.6 619.2,303.5 620.4,303.6 621.7,303.6 622.9,303.6 624.1,303.5 625.4,303.6 626.6,303.6 627.8,303.6 629.1,303.7 630.3,303.4 631.5,303.4 632.8,303.6 634,303.7 635.2,303.6 636.5,303.6 637.7,303.7 638.9,303.6 640.2,303.7 641.4,303.6 642.6,303.6 643.9,303.6 645.1,303.7 646.3,303.7 647.6,303.8 648.8,303.8 650,303.7 651.3,303.7 652.5,303.7 653.7,303.7 655,303.8 656.2,303.9 657.4,303.8 658.7,303.9 659.9,303.9 661.1,303.6 662.4,303.9 663.6,303.9"/><polyline points="492.2,288.5 493.4,283.3 494.7,278.3 495.9,279.6 497.1,280.4 498.4,283 499.6,285.9 500.8,287.8 502.1,289.8 503.3,292.8 504.5,293.5 505.8,293.8 507,294.3 508.2,295.5 509.5,294.7 510.7,293 511.9,292 513.2,292.5 514.4,291.7 515.6,291.1 516.9,290.7 518.1,290.8 519.3,291.2 520.6,292.3 521.8,293.9 523,295 524.3,296.2 525.5,296.9 526.7,297.7 528,298.1 529.2,298.5 530.4,298.8 531.7,299.1 532.9,299.3 534.1,299.2 535.4,299.6 536.6,299.8 537.8,299.9 539.1,299.8 540.3,300.3 541.5,300.5 542.8,300.6 544,300.8 545.2,301.1 546.5,301.3 547.7,301.4 548.9,301.7 550.2,302.2 551.4,302.4 552.6,302.5 553.9,302.4 555.1,302.5 556.3,302.7 557.6,302.6 558.8,302.4 560,302.5 561.3,302.7 562.5,302.8 563.7,303 565,303 566.2,303 567.4,302.8 568.7,302.6 569.9,303 571.1,303.1 572.4,303.1 573.6,303.1 574.8,303.1 576.1,303.1 577.3,303.2 578.5,303.2 579.7,303.3 581,303.1 582.2,303 583.4,303.2 584.7,303.2 585.9,303.1 587.1,303.1 588.4,303.3 589.6,303.3 590.8,303.3 592.1,303.4 593.3,303.4 594.5,303.3 595.8,303.4 597,303.2 598.2,303.4 599.5,303.3 600.7,303.3 601.9,303.3 603.2,303.4 604.4,303.5 605.6,303.4 606.9,303.5 608.1,303.4 609.3,303.5 610.6,303.4 611.8,303.2 613,303.4 614.3,303.5 615.5,303.4 616.7,303.5 618,303.5 619.2,303.5 620.4,303.4 621.7,303.5 622.9,303.5 624.1,303.5 625.4,303.6 626.6,303.6 627.8,303.5 629.1,303.6 630.3,303.7 631.5,303.6 632.8,303.6 634,303.6 635.2,303.7 636.5,303.7 637.7,303.4 638.9,303.6 640.2,303.5 641.4,303.7 642.6,303.6 643.9,303.7 645.1,303.8 646.3,303.7 647.6,303.7 648.8,303.6 650,303.6 651.3,303.7 652.5,303.8 653.7,303.8 655,303.9 656.2,303.8 657.4,303.9 658.7,303.7 659.9,303.9 661.1,303.8 662.4,303.7 663.6,303.9"/><polyline points="492.2,277 493.4,267.3 494.7,258.5 495.9,259.6 497.1,259.5 498.4,265.6 499.6,272.9 500.8,277.4 502.1,280.6 503.3,284.7 504.5,286.8 505.8,287.3 507,287.6 508.2,287.7 509.5,288.2 510.7,287.8 511.9,287.5 513.2,286.5 514.4,286.7 515.6,285.9 516.9,286 518.1,286.9 519.3,288.8 520.6,289.9 521.8,291 523,291.7 524.3,292.7 525.5,293.7 526.7,294.6 528,295.2 529.2,296.4 530.4,296.8 531.7,297 532.9,297 534.1,297.3 535.4,297.2 536.6,297.6 537.8,298 539.1,298.3 540.3,298.6 541.5,298.7 542.8,299.4 544,299.5 545.2,299.4 546.5,299.7 547.7,299.7 548.9,300.3 550.2,300.4 551.4,301.1 552.6,301.6 553.9,301.9 555.1,301.9 556.3,302 557.6,302 558.8,302 560,301.9 561.3,302.1 562.5,301.9 563.7,302.3 565,302.3 566.2,302.3 567.4,302.3 568.7,302.5 569.9,302.5 571.1,302.5 572.4,302.6 573.6,302.7 574.8,302.7 576.1,302.8 577.3,302.8 578.5,302.8 579.7,303 581,303 582.2,302.9 583.4,302.8 584.7,302.9 585.9,302.9 587.1,302.8 588.4,302.9 589.6,303 590.8,302.9 592.1,302.9 593.3,302.8 594.5,302.8 595.8,303 597,302.9 598.2,303 599.5,302.9 600.7,303.1 601.9,303.1 603.2,303.1 604.4,303.1 605.6,303 606.9,303.1 608.1,303 609.3,303 610.6,303 611.8,303.1 613,303.3 614.3,303.3 615.5,303.2 616.7,303.2 618,303.3 619.2,303.3 620.4,303.3 621.7,303.1 622.9,303.2 624.1,303.4 625.4,303.4 626.6,303.4 627.8,303.4 629.1,303.4 630.3,303.3 631.5,303.5 632.8,303.4 634,303.4 635.2,303.4 636.5,303.5 637.7,303.5 638.9,303.4 640.2,303.3 641.4,303.4 642.6,303.5 643.9,303.5 645.1,303.6 646.3,303.5 647.6,303.6 648.8,303.6 650,303.5 651.3,303.6 652.5,303.5 653.7,303.6 655,303.7 656.2,303.7 657.4,303.7 658.7,303.8 659.9,303.7 661.1,303.7 662.4,303.7 663.6,303.5"/><polyline points="492.2,280 493.4,270.7 494.7,259.7 495.9,262.6 497.1,266.9 498.4,273.5 499.6,275 500.8,276.3 502.1,279.9 503.3,284.3 504.5,285.1 505.8,285.5 507,286.3 508.2,286.9 509.5,286.7 510.7,285.6 511.9,283.5 513.2,280.8 514.4,278.6 515.6,278.5 516.9,280.2 518.1,282.5 519.3,286.2 520.6,287.5 521.8,290.2 523,292.4 524.3,293.9 525.5,294.8 526.7,295.9 528,296.4 529.2,296.5 530.4,296.9 531.7,297.3 532.9,297.6 534.1,297.5 535.4,297.1 536.6,297.5 537.8,297.9 539.1,297.9 540.3,298 541.5,298.3 542.8,298.9 544,298.8 545.2,299.2 546.5,299 547.7,300.1 548.9,300.4 550.2,300.6 551.4,301.2 552.6,301.4 553.9,301.6 555.1,301.7 556.3,301.6 557.6,301.3 558.8,301.4 560,301.9 561.3,301.9 562.5,302 563.7,302 565,302.1 566.2,302.3 567.4,302.2 568.7,302.4 569.9,302.4 571.1,302.2 572.4,302.4 573.6,302.4 574.8,302.6 576.1,302.7 577.3,302.7 578.5,302.6 579.7,302.7 581,302.7 582.2,302.8 583.4,302.7 584.7,302.7 585.9,302.5 587.1,302.6 588.4,302.7 589.6,302.7 590.8,302.7 592.1,302.7 593.3,302.8 594.5,302.8 595.8,302.6 597,303.1 598.2,302.9 599.5,303.1 600.7,303 601.9,302.9 603.2,302.8 604.4,302.8 605.6,303.1 606.9,303.1 608.1,303.2 609.3,302.7 610.6,303.1 611.8,303 613,303.1 614.3,303.3 615.5,303.1 616.7,303 618,303.1 619.2,303.4 620.4,303.1 621.7,303.2 622.9,303.2 624.1,303.3 625.4,303.3 626.6,303.3 627.8,303.3 629.1,303.4 630.3,303.5 631.5,303.4 632.8,303.4 634,303.4 635.2,303.4 636.5,303.4 637.7,303.2 638.9,303.6 640.2,303.4 641.4,303.5 642.6,303.5 643.9,303.4 645.1,303.4 646.3,303.5 647.6,303.6 648.8,303.5 650,303.5 651.3,303.6 652.5,303.5 653.7,303.5 655,303.7 656.2,303.6 657.4,303.7 658.7,303.7 659.9,303.7 661.1,303.6 662.4,303.6 663.6,303.8"/><polyline points="492.2,271 493.4,257.8 494.7,245.9 495.9,249 497.1,252.4 498.4,262.5 499.6,269.6 500.8,275.7 502.1,278.3 503.3,282.3 504.5,279.9 505.8,278.4 507,278.5 508.2,279.4 509.5,279.1 510.7,278.7 511.9,280.1 513.2,281.1 514.4,281.5 515.6,282.9 516.9,284.9 518.1,286.4 519.3,287.7 520.6,289.6 521.8,292.3 523,293.5 524.3,294.2 525.5,294.6 526.7,295.3 528,296 529.2,296.9 530.4,297 531.7,296.6 532.9,296.5 534.1,296.5 535.4,296.8 536.6,297.1 537.8,297.5 539.1,298.1 540.3,298.6 541.5,299 542.8,298.9 544,299.1 545.2,299.2 546.5,299.7 547.7,300.2 548.9,300.7 550.2,301.1 551.4,301.4 552.6,301.7 553.9,301.7 555.1,301.8 556.3,301.6 557.6,301.8 558.8,301.8 560,302.1 561.3,302.1 562.5,302.1 563.7,302.2 565,302 566.2,302.1 567.4,302.2 568.7,302.3 569.9,302.3 571.1,302.4 572.4,302.3 573.6,302.6 574.8,302.8 576.1,302.7 577.3,302.7 578.5,302.7 579.7,302.8 581,302.6 582.2,302.7 583.4,302.5 584.7,302.8 585.9,302.9 587.1,302.7 588.4,302.7 589.6,302.8 590.8,302.7 592.1,302.7 593.3,302.8 594.5,302.8 595.8,302.8 597,302.9 598.2,302.9 599.5,302.9 600.7,303 601.9,302.9 603.2,303 604.4,303.1 605.6,303 606.9,303 608.1,303 609.3,303.1 610.6,303.2 611.8,303 613,303.1 614.3,303 615.5,303.1 616.7,303.1 618,303.2 619.2,303.1 620.4,303.1 621.7,303.1 622.9,303 624.1,303.3 625.4,303.3 626.6,303.3 627.8,303.3 629.1,303.2 630.3,303.4 631.5,303.2 632.8,303.4 634,303.5 635.2,303.3 636.5,303.2 637.7,303.5 638.9,303.3 640.2,303.4 641.4,303.6 642.6,303.4 643.9,303.5 645.1,303.5 646.3,303.7 647.6,303.7 648.8,303.5 650,303.6 651.3,303.4 652.5,303.6 653.7,303.6 655,303.6 656.2,303.4 657.4,303.7 658.7,303.6 659.9,303.7 661.1,303.6 662.4,303.7 663.6,303.7"/><polyline points="492.2,284.4 493.4,277.8 494.7,270.7 495.9,269.7 497.1,269.3 498.4,272.7 499.6,277.7 500.8,279.6 502.1,282.9 503.3,284 504.5,282.1 505.8,276 507,274.4 508.2,274.9 509.5,277.9 510.7,279.7 511.9,280.9 513.2,281.9 514.4,282.8 515.6,284.8 516.9,287.1 518.1,289.5 519.3,290.8 520.6,291.6 521.8,293 523,294.6 524.3,295.6 525.5,296.2 526.7,296.5 528,296.6 529.2,297.2 530.4,298.1 531.7,297.8 532.9,297.5 534.1,297.8 535.4,297.7 536.6,297.9 537.8,297.5 539.1,297.7 540.3,298.3 541.5,298.8 542.8,299.2 544,299.7 545.2,300.1 546.5,300.3 547.7,300.5 548.9,300.8 550.2,301.3 551.4,301.7 552.6,301.5 553.9,301.8 555.1,301.7 556.3,301.8 557.6,301.9 558.8,302.1 560,302 561.3,301.9 562.5,302 563.7,301.9 565,302.1 566.2,302.3 567.4,302.3 568.7,302.2 569.9,302.5 571.1,302.6 572.4,302.7 573.6,302.7 574.8,302.6 576.1,302.7 577.3,302.6 578.5,302.7 579.7,302.8 581,302.9 582.2,303 583.4,302.9 584.7,302.9 585.9,302.9 587.1,302.9 588.4,302.9 589.6,302.8 590.8,303.1 592.1,303 593.3,302.9 594.5,303 595.8,303.1 597,303 598.2,303.1 599.5,302.8 600.7,303.1 601.9,303.1 603.2,303.2 604.4,302.9 605.6,303.1 606.9,303 608.1,303.1 609.3,303.1 610.6,303.2 611.8,303 613,303.1 614.3,303.1 615.5,303.1 616.7,303.1 618,303.3 619.2,303.1 620.4,303.1 621.7,303.3 622.9,303.3 624.1,303.4 625.4,303.4 626.6,303.5 627.8,303.3 629.1,303.2 630.3,303.4 631.5,303.3 632.8,303.4 634,303.3 635.2,303.2 636.5,303.5 637.7,303.3 638.9,303.5 640.2,303.5 641.4,303.5 642.6,303.6 643.9,303.6 645.1,303.5 646.3,303.5 647.6,303.5 648.8,303.6 650,303.5 651.3,303.4 652.5,303.6 653.7,303.5 655,303.6 656.2,303.4 657.4,303.7 658.7,303.7 659.9,303.8 661.1,303.8 662.4,303.8 663.6,303.8"/><polyline points="492.2,274.7 493.4,265.2 494.7,253.2 495.9,255.5 497.1,257.5 498.4,265.5 499.6,269 500.8,272.7 502.1,276.5 503.3,279.7 504.5,278.7 505.8,277 507,276.1 508.2,273.4 509.5,271.6 510.7,272.1 511.9,272.1 513.2,270.4 514.4,267.9 515.6,268.8 516.9,272.7 518.1,277.8 519.3,282.7 520.6,286.3 521.8,289.5 523,291.8 524.3,293 525.5,294.4 526.7,295.1 528,295.4 529.2,296.1 530.4,296.5 531.7,296.1 532.9,295.7 534.1,295.9 535.4,296.2 536.6,296.7 537.8,297.5 539.1,298.2 540.3,298 541.5,297.9 542.8,297.9 544,298.5 545.2,299.2 546.5,299.9 547.7,300.3 548.9,300.5 550.2,300.6 551.4,301.2 552.6,301.3 553.9,301.2 555.1,301.4 556.3,301.7 557.6,301.5 558.8,301.6 560,301.4 561.3,301.6 562.5,301.7 563.7,301.8 565,301.8 566.2,302.1 567.4,302.2 568.7,302.1 569.9,302.2 571.1,302.2 572.4,302.3 573.6,302.4 574.8,302.4 576.1,302.5 577.3,302.5 578.5,302.5 579.7,302.4 581,302.5 582.2,302.6 583.4,302.7 584.7,302.8 585.9,302.8 587.1,302.8 588.4,302.8 589.6,302.7 590.8,302.7 592.1,302.6 593.3,302.7 594.5,302.7 595.8,302.9 597,302.8 598.2,302.8 599.5,302.8 600.7,302.8 601.9,302.8 603.2,303 604.4,303 605.6,302.9 606.9,302.9 608.1,303 609.3,303 610.6,302.9 611.8,303 613,303.2 614.3,303.2 615.5,303.2 616.7,303.2 618,303.2 619.2,303.2 620.4,303 621.7,303.2 622.9,303.1 624.1,303.2 625.4,303.3 626.6,303.4 627.8,303.3 629.1,303.2 630.3,302.9 631.5,303.3 632.8,303.2 634,303.3 635.2,303.2 636.5,303.4 637.7,303.4 638.9,303.4 640.2,303.5 641.4,303.5 642.6,303.4 643.9,303.3 645.1,303.4 646.3,303.3 647.6,303.6 648.8,303.4 650,303.5 651.3,303.5 652.5,303.6 653.7,303.6 655,303.6 656.2,303.4 657.4,303.6 658.7,303.6 659.9,303.7 661.1,303.8 662.4,303.7 663.6,303.7"/><polyline points="492.2,277.9 493.4,269.8 494.7,262.9 495.9,263.3 497.1,262.9 498.4,269 499.6,271.4 500.8,273.6 502.1,274.8 503.3,279.4 504.5,278.3 505.8,277.5 507,278.1 508.2,280.8 509.5,282 510.7,281.9 511.9,281 513.2,280.7 514.4,281.5 515.6,281.2 516.9,278.9 518.1,277.5 519.3,279.4 520.6,282.1 521.8,284.2 523,286.6 524.3,288.9 525.5,291.6 526.7,293.2 528,294.2 529.2,295 530.4,295 531.7,295.1 532.9,295.1 534.1,295.2 535.4,295.5 536.6,295.9 537.8,296.9 539.1,296.9 540.3,296.9 541.5,296.9 542.8,297.8 544,298.3 545.2,298.5 546.5,298.9 547.7,299.4 548.9,299.9 550.2,300.5 551.4,300.7 552.6,300.9 553.9,301.1 555.1,301.4 556.3,301.4 557.6,301.5 558.8,301.1 560,301.3 561.3,301.5 562.5,301.6 563.7,301.7 565,301.7 566.2,302 567.4,302.3 568.7,302.1 569.9,302.1 571.1,302.1 572.4,302.3 573.6,302.5 574.8,302.5 576.1,302.6 577.3,302.6 578.5,302.7 579.7,302.6 581,302.4 582.2,302.5 583.4,302.4 584.7,302.6 585.9,302.7 587.1,302.6 588.4,302.6 589.6,302.6 590.8,302.8 592.1,302.7 593.3,302.8 594.5,302.7 595.8,302.6 597,302.5 598.2,302.9 599.5,302.9 600.7,302.9 601.9,302.9 603.2,302.8 604.4,302.9 605.6,302.9 606.9,302.9 608.1,303 609.3,302.9 610.6,302.9 611.8,303 613,303 614.3,302.8 615.5,303 616.7,303 618,303 619.2,303.1 620.4,302.8 621.7,303.1 622.9,303.1 624.1,302.9 625.4,303.1 626.6,303.1 627.8,303.2 629.1,303.1 630.3,303.1 631.5,303.2 632.8,303.3 634,303.3 635.2,303.3 636.5,303.2 637.7,303.4 638.9,303.2 640.2,303.2 641.4,303.4 642.6,303.2 643.9,303.4 645.1,303.3 646.3,303.3 647.6,303.5 648.8,303.3 650,303.5 651.3,303.6 652.5,303.4 653.7,303.4 655,303.6 656.2,303.5 657.4,303.5 658.7,303.6 659.9,303.6 661.1,303.7 662.4,303.5 663.6,303.6"/><polyline points="492.2,285.2 493.4,279 494.7,274.9 495.9,276.5 497.1,273.5 498.4,274.4 499.6,277.1 500.8,279.1 502.1,281.6 503.3,285.2 504.5,285.7 505.8,284.4 507,283.5 508.2,285.5 509.5,286.9 510.7,286.8 511.9,285.6 513.2,285.7 514.4,285.5 515.6,285 516.9,283.9 518.1,283.9 519.3,284.2 520.6,283.9 521.8,285.5 523,286.7 524.3,287 525.5,287.3 526.7,290.1 528,293.5 529.2,295.4 530.4,296.2 531.7,296.6 532.9,297.6 534.1,297.5 535.4,297.3 536.6,297.1 537.8,297.4 539.1,298.3 540.3,298.4 541.5,298.7 542.8,298.8 544,299.3 545.2,299.4 546.5,299.6 547.7,299.8 548.9,300.6 550.2,301.3 551.4,301.4 552.6,301.7 553.9,301.4 555.1,301.4 556.3,301.8 557.6,302 558.8,301.8 560,301.8 561.3,302.2 562.5,302.2 563.7,301.9 565,302.1 566.2,302.3 567.4,302.4 568.7,302.3 569.9,302.4 571.1,302.4 572.4,302.5 573.6,302.6 574.8,302.7 576.1,302.6 577.3,302.7 578.5,302.7 579.7,303 581,302.8 582.2,302.8 583.4,302.7 584.7,302.7 585.9,302.9 587.1,303 588.4,303 589.6,302.9 590.8,302.8 592.1,302.8 593.3,303 594.5,302.9 595.8,303 597,303.1 598.2,302.8 599.5,302.9 600.7,303 601.9,303 603.2,303.1 604.4,303.2 605.6,303 606.9,303 608.1,303.2 609.3,303 610.6,303.2 611.8,303.2 613,303.2 614.3,303.2 615.5,303.1 616.7,303.2 618,303.2 619.2,303.1 620.4,303.2 621.7,303.3 622.9,303.2 624.1,303.3 625.4,303.4 626.6,303.5 627.8,303.5 629.1,303.3 630.3,303.4 631.5,303.4 632.8,303.3 634,303.4 635.2,303.5 636.5,303.5 637.7,303.6 638.9,303.6 640.2,303.5 641.4,303.5 642.6,303.4 643.9,303.5 645.1,303.4 646.3,303.5 647.6,303.6 648.8,303.5 650,303.7 651.3,303.6 652.5,303.6 653.7,303.6 655,303.7 656.2,303.7 657.4,303.7 658.7,303.7 659.9,303.7 661.1,303.7 662.4,303.8 663.6,303.8"/><polyline points="492.2,282.7 493.4,276 494.7,271.4 495.9,271.6 497.1,271.9 498.4,274.8 499.6,278.8 500.8,282.8 502.1,285.3 503.3,288.5 504.5,290.1 505.8,293.1 507,294.8 508.2,295 509.5,292.4 510.7,287.5 511.9,282.4 513.2,278.5 514.4,273.1 515.6,271.2 516.9,271.4 518.1,275.3 519.3,279.7 520.6,284.8 521.8,288.7 523,291.1 524.3,293.2 525.5,294.7 526.7,296 528,296.5 529.2,297.6 530.4,297.8 531.7,297.5 532.9,297.5 534.1,297.6 535.4,297.7 536.6,297.5 537.8,298.2 539.1,298.6 540.3,298.7 541.5,298.7 542.8,298.9 544,299.3 545.2,299.6 546.5,300 547.7,300.2 548.9,300.6 550.2,301.2 551.4,301.6 552.6,301.5 553.9,301.4 555.1,301.6 556.3,301.8 557.6,302 558.8,302.3 560,302.3 561.3,301.9 562.5,302.1 563.7,302.2 565,302.2 566.2,302.4 567.4,302.4 568.7,302.4 569.9,302.6 571.1,302.6 572.4,302.7 573.6,302.6 574.8,302.7 576.1,302.5 577.3,302.7 578.5,302.5 579.7,302.6 581,302.8 582.2,302.9 583.4,302.9 584.7,302.9 585.9,303 587.1,303 588.4,303 589.6,303.1 590.8,302.8 592.1,302.9 593.3,303 594.5,303.1 595.8,303 597,303 598.2,303.1 599.5,303.2 600.7,303 601.9,303.1 603.2,303 604.4,303.1 605.6,303.1 606.9,303.1 608.1,303.1 609.3,303.1 610.6,303.2 611.8,303.2 613,303 614.3,303.2 615.5,303.2 616.7,303.2 618,303.1 619.2,303.3 620.4,303.2 621.7,303.4 622.9,303.3 624.1,303.3 625.4,303.4 626.6,303.4 627.8,303.4 629.1,303.4 630.3,303.5 631.5,303.5 632.8,303.4 634,303.4 635.2,303.5 636.5,303.3 637.7,303.5 638.9,303.5 640.2,303.4 641.4,303.6 642.6,303.5 643.9,303.6 645.1,303.4 646.3,303.5 647.6,303.5 648.8,303.7 650,303.7 651.3,303.5 652.5,303.6 653.7,303.6 655,303.5 656.2,303.7 657.4,303.7 658.7,303.7 659.9,303.8 661.1,303.8 662.4,303.8 663.6,303.8"/><polyline points="492.2,278.8 493.4,271.6 494.7,266.4 495.9,267.8 497.1,265.4 498.4,269.2 499.6,274.6 500.8,279.6 502.1,281.6 503.3,285.7 504.5,287.3 505.8,289.4 507,290.2 508.2,290.4 509.5,289.9 510.7,289.1 511.9,288.3 513.2,287.7 514.4,286.3 515.6,286.4 516.9,285.3 518.1,283.7 519.3,282.5 520.6,284.1 521.8,286.5 523,287.9 524.3,289.3 525.5,291.4 526.7,293.2 528,294.3 529.2,295.8 530.4,296 531.7,296.4 532.9,297 534.1,297.6 535.4,297.2 536.6,297.4 537.8,297.7 539.1,298.1 540.3,297.9 541.5,298.1 542.8,298.4 544,298.9 545.2,299.2 546.5,299.6 547.7,299.8 548.9,299.9 550.2,300.6 551.4,301.1 552.6,301.6 553.9,301.4 555.1,301.6 556.3,301.7 557.6,301.7 558.8,301.5 560,301.6 561.3,301.9 562.5,301.9 563.7,302 565,302 566.2,302.2 567.4,302.1 568.7,302.2 569.9,302.4 571.1,302.4 572.4,302.5 573.6,302.3 574.8,302.6 576.1,302.5 577.3,302.5 578.5,302.6 579.7,302.7 581,302.7 582.2,302.7 583.4,302.6 584.7,302.8 585.9,302.7 587.1,302.6 588.4,302.8 589.6,302.8 590.8,302.7 592.1,302.8 593.3,303 594.5,302.8 595.8,303 597,303.1 598.2,302.9 599.5,303 600.7,303 601.9,303.1 603.2,303.1 604.4,303 605.6,302.9 606.9,303 608.1,303 609.3,303 610.6,303.2 611.8,302.9 613,303.3 614.3,303.1 615.5,303.2 616.7,303 618,303.1 619.2,303.3 620.4,303.3 621.7,303.2 622.9,303.1 624.1,303.2 625.4,303.1 626.6,303.4 627.8,303.5 629.1,303.3 630.3,303.4 631.5,303.4 632.8,303.4 634,303.5 635.2,303.6 636.5,303.5 637.7,303.4 638.9,303.3 640.2,303.4 641.4,303.3 642.6,303.5 643.9,303.4 645.1,303.6 646.3,303.5 647.6,303.5 648.8,303.4 650,303.4 651.3,303.6 652.5,303.4 653.7,303.7 655,303.6 656.2,303.5 657.4,303.7 658.7,303.6 659.9,303.6 661.1,303.5 662.4,303.5 663.6,303.7"/><polyline points="492.2,278.3 493.4,270.9 494.7,261.9 495.9,261.2 497.1,262.4 498.4,268.9 499.6,275.1 500.8,277.1 502.1,279.2 503.3,282.1 504.5,283.9 505.8,283.8 507,284.1 508.2,285.9 509.5,288.2 510.7,289.3 511.9,288 513.2,286.9 514.4,285.9 515.6,287 516.9,288.1 518.1,289.3 519.3,290.4 520.6,291.5 521.8,292.6 523,294.1 524.3,294.7 525.5,295.5 526.7,295.4 528,296.2 529.2,297.2 530.4,298 531.7,298.4 532.9,297.6 534.1,296.6 535.4,296.9 536.6,297.8 537.8,298.4 539.1,298.4 540.3,298.3 541.5,298.7 542.8,298.9 544,299.7 545.2,300.1 546.5,300.4 547.7,300.3 548.9,300.9 550.2,301.3 551.4,301.4 552.6,301.9 553.9,301.9 555.1,301.9 556.3,301.8 557.6,301.9 558.8,301.9 560,301.8 561.3,302.1 562.5,302.3 563.7,302.1 565,302.3 566.2,302.1 567.4,302.3 568.7,302.3 569.9,302.5 571.1,302.3 572.4,302.5 573.6,302.5 574.8,302.8 576.1,302.8 577.3,302.9 578.5,302.6 579.7,302.8 581,302.7 582.2,302.8 583.4,302.9 584.7,302.6 585.9,302.4 587.1,302.7 588.4,302.8 589.6,302.8 590.8,302.8 592.1,302.8 593.3,302.8 594.5,302.8 595.8,302.9 597,303 598.2,302.9 599.5,303.1 600.7,303.2 601.9,303.1 603.2,303 604.4,303.1 605.6,303.1 606.9,303.1 608.1,303.1 609.3,303.2 610.6,303.1 611.8,303.2 613,303.3 614.3,303.3 615.5,303.2 616.7,303.1 618,303.2 619.2,303.3 620.4,303.3 621.7,303.3 622.9,303.3 624.1,303.2 625.4,303 626.6,303.3 627.8,303.2 629.1,303.4 630.3,303.4 631.5,303.2 632.8,303.2 634,303.4 635.2,303.4 636.5,303.5 637.7,303.5 638.9,303.3 640.2,303.6 641.4,303.4 642.6,303.5 643.9,303.5 645.1,303.6 646.3,303.5 647.6,303.6 648.8,303.6 650,303.5 651.3,303.7 652.5,303.7 653.7,303.7 655,303.6 656.2,303.7 657.4,303.7 658.7,303.7 659.9,303.7 661.1,303.8 662.4,303.8 663.6,303.8"/><polyline points="492.2,265.2 493.4,252.8 494.7,239.1 495.9,233.8 497.1,235.9 498.4,247.4 499.6,255.6 500.8,257.4 502.1,263.1 503.3,272.1 504.5,273.9 505.8,275 507,277.4 508.2,281.3 509.5,281.5 510.7,278.9 511.9,277.5 513.2,278 514.4,277.9 515.6,276 516.9,274.8 518.1,276.5 519.3,278.9 520.6,280.3 521.8,280.8 523,284.3 524.3,286.6 525.5,289.4 526.7,290.4 528,291.8 529.2,292.5 530.4,291.9 531.7,291.9 532.9,292.6 534.1,292.8 535.4,292.4 536.6,292.3 537.8,292.9 539.1,293.5 540.3,294.7 541.5,295.4 542.8,296.1 544,296.3 545.2,296.5 546.5,297.1 547.7,297.4 548.9,298.3 550.2,298.7 551.4,299.4 552.6,299.7 553.9,299.9 555.1,300 556.3,300.2 557.6,300 558.8,299.7 560,300.3 561.3,300.7 562.5,300.9 563.7,300.9 565,301 566.2,301.1 567.4,301.1 568.7,301.2 569.9,301.2 571.1,301.2 572.4,301.3 573.6,301.3 574.8,301.4 576.1,301.5 577.3,301.5 578.5,301.7 579.7,301.9 581,301.7 582.2,301.6 583.4,301.8 584.7,302.1 585.9,302.2 587.1,302.1 588.4,302.1 589.6,302 590.8,302 592.1,301.9 593.3,302 594.5,302.2 595.8,302.1 597,302 598.2,301.9 599.5,302.1 600.7,302.4 601.9,302.2 603.2,302.2 604.4,302.1 605.6,302.1 606.9,302.1 608.1,302.4 609.3,302.5 610.6,302.4 611.8,302.5 613,302.5 614.3,302.5 615.5,302.4 616.7,302.7 618,302.7 619.2,302.6 620.4,302.5 621.7,302.7 622.9,302.7 624.1,302.7 625.4,302.7 626.6,302.8 627.8,302.7 629.1,302.7 630.3,302.8 631.5,302.9 632.8,302.7 634,302.8 635.2,302.8 636.5,302.9 637.7,303.1 638.9,303.2 640.2,302.7 641.4,303.1 642.6,303 643.9,303 645.1,303.2 646.3,303.1 647.6,303.2 648.8,303.3 650,303.2 651.3,303.2 652.5,303.2 653.7,303.3 655,303.3 656.2,303.4 657.4,303.5 658.7,303.4 659.9,303.4 661.1,303.5 662.4,303.5 663.6,303.3"/><polyline points="492.2,278.1 493.4,268.9 494.7,260.3 495.9,261.4 497.1,263.5 498.4,270.1 499.6,274.4 500.8,276.3 502.1,277.8 503.3,281.3 504.5,280.8 505.8,280.2 507,279.1 508.2,279.7 509.5,281.6 510.7,282.8 511.9,282.3 513.2,280 514.4,278.2 515.6,277.8 516.9,279.4 518.1,281.4 519.3,284.2 520.6,287.2 521.8,290.1 523,291.4 524.3,291.4 525.5,291.9 526.7,293.3 528,294.6 529.2,295.5 530.4,296.2 531.7,296.5 532.9,296.4 534.1,296 535.4,295.5 536.6,296 537.8,296.8 539.1,297.3 540.3,297.5 541.5,297.3 542.8,297.6 544,297.7 545.2,298.3 546.5,298.8 547.7,299.2 548.9,299.7 550.2,300.2 551.4,301 552.6,301 553.9,300.9 555.1,301.1 556.3,301.4 557.6,301.5 558.8,301.4 560,301.6 561.3,301.5 562.5,301.5 563.7,301.5 565,301.5 566.2,301.4 567.4,301.5 568.7,301.8 569.9,301.9 571.1,301.8 572.4,302 573.6,302.1 574.8,302.1 576.1,302.1 577.3,302.4 578.5,302.3 579.7,302.5 581,302.5 582.2,302.5 583.4,302.6 584.7,302.5 585.9,302.6 587.1,302.5 588.4,302.7 589.6,302.5 590.8,302.5 592.1,302.6 593.3,302.5 594.5,302.7 595.8,302.8 597,302.8 598.2,302.7 599.5,302.8 600.7,302.8 601.9,302.9 603.2,302.9 604.4,303 605.6,303 606.9,303 608.1,302.7 609.3,302.8 610.6,302.6 611.8,302.8 613,302.8 614.3,302.8 615.5,303 616.7,303 618,303 619.2,303.1 620.4,303 621.7,302.9 622.9,303.1 624.1,303.1 625.4,303 626.6,303.1 627.8,303.2 629.1,303 630.3,303.2 631.5,303.2 632.8,303.2 634,302.9 635.2,303.2 636.5,303.2 637.7,303.3 638.9,303.4 640.2,303.4 641.4,303.4 642.6,303.3 643.9,303.3 645.1,303.4 646.3,303.5 647.6,303.4 648.8,303.5 650,303.3 651.3,303.6 652.5,303.5 653.7,303.6 655,303.4 656.2,303.6 657.4,303.6 658.7,303.6 659.9,303.6 661.1,303.6 662.4,303.4 663.6,303.6"/><polyline points="492.2,281.5 493.4,276 494.7,267.7 495.9,266.4 497.1,264.2 498.4,271 499.6,275.9 500.8,279 502.1,281 503.3,283.8 504.5,283.7 505.8,282.6 507,282.8 508.2,283.3 509.5,284.5 510.7,284.8 511.9,284.8 513.2,285.7 514.4,285.5 515.6,286.2 516.9,286 518.1,288 519.3,288.8 520.6,290.8 521.8,292.1 523,293.8 524.3,295.1 525.5,295.8 526.7,296.1 528,296.2 529.2,296.7 530.4,297.1 531.7,297.5 532.9,298.1 534.1,298.3 535.4,298.3 536.6,298 537.8,297.8 539.1,298 540.3,297.9 541.5,298.3 542.8,298.5 544,299 545.2,299.5 546.5,299.7 547.7,300 548.9,300.1 550.2,300.9 551.4,301.5 552.6,302 553.9,302 555.1,302 556.3,301.9 557.6,301.9 558.8,301.9 560,301.9 561.3,302 562.5,302.2 563.7,302 565,301.9 566.2,302.1 567.4,302.2 568.7,302.1 569.9,302.4 571.1,302.5 572.4,302.5 573.6,302.5 574.8,302.6 576.1,302.5 577.3,302.6 578.5,302.5 579.7,302.7 581,302.8 582.2,302.9 583.4,302.7 584.7,302.9 585.9,302.9 587.1,302.9 588.4,302.9 589.6,303 590.8,302.9 592.1,302.9 593.3,302.6 594.5,302.9 595.8,302.8 597,302.6 598.2,302.6 599.5,302.9 600.7,302.9 601.9,303 603.2,302.9 604.4,303 605.6,302.9 606.9,303.2 608.1,303.2 609.3,303.1 610.6,303.1 611.8,302.9 613,302.9 614.3,303.1 615.5,303.1 616.7,303.2 618,303.2 619.2,303.2 620.4,303.1 621.7,303.3 622.9,303.2 624.1,303.2 625.4,303.4 626.6,303.3 627.8,303.4 629.1,303.1 630.3,303.5 631.5,303.4 632.8,303.6 634,303.5 635.2,303.2 636.5,303.3 637.7,303.4 638.9,303.5 640.2,303.3 641.4,303.5 642.6,303.5 643.9,303.5 645.1,303.4 646.3,303.5 647.6,303.4 648.8,303.5 650,303.6 651.3,303.5 652.5,303.4 653.7,303.3 655,303.5 656.2,303.6 657.4,303.4 658.7,303.7 659.9,303.6 661.1,303.7 662.4,303.7 663.6,303.8"/><polyline points="492.2,259.8 493.4,248 494.7,243.7 495.9,250.1 497.1,250 498.4,256.6 499.6,263 500.8,265.5 502.1,268.7 503.3,274.2 504.5,275 505.8,273.7 507,274.8 508.2,276 509.5,276.4 510.7,271.2 511.9,268.8 513.2,268.5 514.4,269.9 515.6,269.6 516.9,270.8 518.1,273.1 519.3,276.5 520.6,282.1 521.8,286.8 523,290.3 524.3,291.2 525.5,292.2 526.7,292.7 528,292.9 529.2,293.7 530.4,294 531.7,294.3 532.9,294 534.1,294.3 535.4,294.9 536.6,295.5 537.8,295.2 539.1,295.3 540.3,295.6 541.5,296.6 542.8,297.2 544,297.6 545.2,297.7 546.5,297.9 547.7,298.4 548.9,299 550.2,299.6 551.4,300.3 552.6,300.7 553.9,300.3 555.1,300.5 556.3,300.6 557.6,301.2 558.8,301 560,301.1 561.3,301.4 562.5,301.6 563.7,301.5 565,301.5 566.2,301.7 567.4,301.7 568.7,301.8 569.9,301.6 571.1,301.6 572.4,301.8 573.6,301.9 574.8,301.9 576.1,302.2 577.3,302.4 578.5,302.3 579.7,302.4 581,302.4 582.2,302.3 583.4,302.2 584.7,302.4 585.9,302.3 587.1,302.4 588.4,302.6 589.6,302.6 590.8,302.4 592.1,302.4 593.3,302.6 594.5,302.7 595.8,302.6 597,302.3 598.2,302.5 599.5,302.7 600.7,302.5 601.9,302.4 603.2,302.7 604.4,302.7 605.6,302.6 606.9,302.6 608.1,302.8 609.3,302.8 610.6,302.9 611.8,302.7 613,302.8 614.3,302.9 615.5,302.7 616.7,302.8 618,302.7 619.2,302.8 620.4,302.8 621.7,302.8 622.9,302.8 624.1,302.8 625.4,302.9 626.6,302.9 627.8,303 629.1,303 630.3,303.1 631.5,303 632.8,302.9 634,302.9 635.2,303 636.5,302.9 637.7,303.1 638.9,303.2 640.2,303.2 641.4,303 642.6,303.1 643.9,303.3 645.1,303.3 646.3,302.9 647.6,303.2 648.8,303.4 650,303.4 651.3,303.6 652.5,303.6 653.7,303.5 655,303.5 656.2,303.6 657.4,303.6 658.7,303.5 659.9,303.6 661.1,303.6 662.4,303.7 663.6,303.6"/><polyline points="492.2,286.4 493.4,280.3 494.7,274.1 495.9,274.6 497.1,272.9 498.4,276.4 499.6,278.8 500.8,280.3 502.1,279.2 503.3,279.3 504.5,272.9 505.8,267.1 507,266 508.2,268.8 509.5,271.7 510.7,272.5 511.9,275 513.2,278.3 514.4,282.1 515.6,284.2 516.9,285.3 518.1,286.6 519.3,288.3 520.6,290.4 521.8,292.4 523,294.1 524.3,294.3 525.5,295 526.7,295.5 528,297 529.2,297.3 530.4,297.5 531.7,296.9 532.9,297.1 534.1,297.6 535.4,298.4 536.6,298.8 537.8,298.7 539.1,298.8 540.3,298.7 541.5,298.6 542.8,299 544,299.7 545.2,300.4 546.5,300.5 547.7,300.6 548.9,300.7 550.2,301.2 551.4,301.1 552.6,301.4 553.9,301.6 555.1,301.7 556.3,302.1 557.6,302.1 558.8,302 560,301.9 561.3,302 562.5,302.2 563.7,301.9 565,302.3 566.2,302.3 567.4,302.3 568.7,302.2 569.9,302.4 571.1,302.6 572.4,302.8 573.6,302.8 574.8,302.7 576.1,302.5 577.3,302.7 578.5,302.9 579.7,302.9 581,303 582.2,302.7 583.4,302.9 584.7,302.8 585.9,302.8 587.1,302.8 588.4,302.9 589.6,303 590.8,302.9 592.1,303 593.3,302.9 594.5,303.1 595.8,303 597,303.1 598.2,303.1 599.5,303.1 600.7,303.1 601.9,303 603.2,303.1 604.4,303 605.6,303.1 606.9,303.2 608.1,303.2 609.3,303.2 610.6,303.1 611.8,302.9 613,303.1 614.3,303.2 615.5,303.2 616.7,303.3 618,303.3 619.2,303.3 620.4,303.3 621.7,303.3 622.9,303.4 624.1,303.2 625.4,303.4 626.6,303.1 627.8,303.2 629.1,303.3 630.3,303.4 631.5,303.5 632.8,303.3 634,303.4 635.2,303.3 636.5,303.4 637.7,303.5 638.9,303.5 640.2,303.5 641.4,303.6 642.6,303.4 643.9,303.7 645.1,303.7 646.3,303.6 647.6,303.7 648.8,303.6 650,303.5 651.3,303.4 652.5,303.4 653.7,303.6 655,303.4 656.2,303.6 657.4,303.7 658.7,303.7 659.9,303.4 661.1,303.7 662.4,303.7 663.6,303.8"/><polyline points="492.2,276.2 493.4,265.6 494.7,257.9 495.9,261.3 497.1,264.8 498.4,270.5 499.6,276.1 500.8,280.4 502.1,285.2 503.3,288.9 504.5,288 505.8,286.2 507,285.4 508.2,286.9 509.5,287.9 510.7,288.2 511.9,288.2 513.2,288.3 514.4,288 515.6,287.7 516.9,287.4 518.1,288 519.3,290.2 520.6,293.2 521.8,295 523,295.8 524.3,296.1 525.5,296.7 526.7,297.7 528,298.7 529.2,299.5 530.4,299.1 531.7,299.1 532.9,299.1 534.1,299.4 535.4,299.4 536.6,299.1 537.8,299.5 539.1,300 540.3,300.4 541.5,300.3 542.8,300.8 544,301 545.2,301.3 546.5,301.3 547.7,301.2 548.9,301.7 550.2,302 551.4,302 552.6,302.4 553.9,302.5 555.1,302.5 556.3,302.7 557.6,302.6 558.8,302.8 560,302.7 561.3,302.4 562.5,302.6 563.7,302.6 565,302.8 566.2,302.7 567.4,302.8 568.7,302.9 569.9,303 571.1,303 572.4,303 573.6,303.1 574.8,303 576.1,302.9 577.3,302.9 578.5,302.9 579.7,303.2 581,303.1 582.2,303.3 583.4,303.1 584.7,303.3 585.9,303 587.1,303.3 588.4,303.2 589.6,303.2 590.8,303.1 592.1,303.2 593.3,303.2 594.5,303.3 595.8,303.3 597,303.4 598.2,303.5 599.5,303.4 600.7,303.3 601.9,303.1 603.2,303.4 604.4,303.3 605.6,303.4 606.9,303.4 608.1,303.3 609.3,303.5 610.6,303.4 611.8,303.4 613,303.5 614.3,303.5 615.5,303.4 616.7,303.3 618,303.2 619.2,303.6 620.4,303.6 621.7,303.2 622.9,303.6 624.1,303.5 625.4,303.5 626.6,303.6 627.8,303.5 629.1,303.5 630.3,303.6 631.5,303.6 632.8,303.6 634,303.2 635.2,303.7 636.5,303.7 637.7,303.6 638.9,303.5 640.2,303.6 641.4,303.6 642.6,303.6 643.9,303.8 645.1,303.5 646.3,303.6 647.6,303.8 648.8,303.8 650,303.6 651.3,303.7 652.5,303.8 653.7,303.7 655,303.5 656.2,303.8 657.4,303.7 658.7,303.8 659.9,303.6 661.1,303.9 662.4,303.9 663.6,303.9"/><polyline points="492.2,273.3 493.4,263.4 494.7,255.2 495.9,252.7 497.1,252.6 498.4,259.3 499.6,269 500.8,274.2 502.1,278.8 503.3,281.9 504.5,281.1 505.8,278.5 507,278.7 508.2,280.1 509.5,284.1 510.7,284.7 511.9,284.7 513.2,283.1 514.4,283.5 515.6,282.2 516.9,282.4 518.1,281.6 519.3,282.4 520.6,283.6 521.8,287.2 523,289.6 524.3,291.6 525.5,293.4 526.7,294.3 528,294.9 529.2,295.4 530.4,296.7 531.7,296.9 532.9,297 534.1,296.9 535.4,297.3 536.6,297.2 537.8,297.1 539.1,297.3 540.3,298.3 541.5,298.7 542.8,298.7 544,298.6 545.2,298.9 546.5,299.4 547.7,299.9 548.9,300.5 550.2,301 551.4,301.3 552.6,301.6 553.9,301.7 555.1,301.5 556.3,301.5 557.6,301.5 558.8,301.8 560,301.7 561.3,301.8 562.5,301.8 563.7,301.8 565,302.1 566.2,302.1 567.4,301.9 568.7,302.2 569.9,302.4 571.1,302.3 572.4,302.5 573.6,302.5 574.8,302.6 576.1,302.5 577.3,302.6 578.5,302.7 579.7,302.8 581,302.9 582.2,302.6 583.4,302.6 584.7,302.5 585.9,302.7 587.1,302.7 588.4,302.8 589.6,302.9 590.8,302.8 592.1,302.8 593.3,302.9 594.5,302.8 595.8,303 597,302.9 598.2,302.8 599.5,303 600.7,302.9 601.9,302.9 603.2,302.5 604.4,302.5 605.6,302.9 606.9,303 608.1,303.1 609.3,303.1 610.6,303.2 611.8,303.1 613,303 614.3,302.8 615.5,302.9 616.7,303 618,303.1 619.2,303.3 620.4,303.3 621.7,303.3 622.9,303.1 624.1,303 625.4,303 626.6,303.3 627.8,303.2 629.1,303.2 630.3,303.1 631.5,303.3 632.8,303.2 634,303.3 635.2,303.3 636.5,303.4 637.7,303.4 638.9,303.4 640.2,303.5 641.4,303.4 642.6,303.5 643.9,303.4 645.1,303.3 646.3,303.5 647.6,303.6 648.8,303.6 650,303.4 651.3,303.7 652.5,303.4 653.7,303.6 655,303.5 656.2,303.6 657.4,303.7 658.7,303.7 659.9,303.8 661.1,303.7 662.4,303.6 663.6,303.7"/><polyline points="492.2,289.3 493.4,284.8 494.7,279.1 495.9,277 497.1,273.2 498.4,276.7 499.6,280.8 500.8,283.9 502.1,285.5 503.3,287.3 504.5,285.7 505.8,283.2 507,282.3 508.2,283.5 509.5,286.2 510.7,287.5 511.9,287.4 513.2,285.9 514.4,284.2 515.6,283.6 516.9,284.6 518.1,285.4 519.3,287.7 520.6,290 521.8,292.9 523,294.4 524.3,295.5 525.5,296.4 526.7,296.9 528,297.9 529.2,298.5 530.4,298.9 531.7,298.5 532.9,298.5 534.1,298.9 535.4,298.9 536.6,298.4 537.8,298.4 539.1,298.9 540.3,299.2 541.5,299.4 542.8,299.6 544,300.4 545.2,300.7 546.5,301.1 547.7,301.5 548.9,301.4 550.2,301.7 551.4,301.8 552.6,302.1 553.9,302.1 555.1,302.2 556.3,302.3 557.6,302.4 558.8,302.3 560,302.5 561.3,302.3 562.5,302.4 563.7,302.4 565,302.7 566.2,302.7 567.4,302.6 568.7,302.7 569.9,303 571.1,302.9 572.4,302.9 573.6,302.9 574.8,303 576.1,303 577.3,302.8 578.5,302.9 579.7,303 581,303.1 582.2,303.1 583.4,303 584.7,303.1 585.9,303 587.1,303.2 588.4,303.2 589.6,303 590.8,303.1 592.1,303.3 593.3,303 594.5,303.2 595.8,303 597,303.2 598.2,303.2 599.5,303.1 600.7,303.2 601.9,303 603.2,303.2 604.4,303.3 605.6,303.4 606.9,303.1 608.1,303.2 609.3,303.1 610.6,303.2 611.8,303.2 613,303.5 614.3,303.3 615.5,303.3 616.7,303.4 618,303.1 619.2,303.4 620.4,303.5 621.7,303.5 622.9,303.5 624.1,303.6 625.4,303.4 626.6,303.4 627.8,303.4 629.1,303.6 630.3,303.6 631.5,303.6 632.8,303.5 634,303.5 635.2,303.5 636.5,303.5 637.7,303.5 638.9,303.6 640.2,303.7 641.4,303.5 642.6,303.7 643.9,303.6 645.1,303.4 646.3,303.5 647.6,303.7 648.8,303.7 650,303.6 651.3,303.8 652.5,303.7 653.7,303.6 655,303.8 656.2,303.8 657.4,303.6 658.7,303.8 659.9,303.8 661.1,303.8 662.4,303.9 663.6,303.7"/><polyline points="492.2,287 493.4,280.8 494.7,274 495.9,274.8 497.1,276.4 498.4,277.4 499.6,278.1 500.8,279.9 502.1,284.4 503.3,289.4 504.5,291.7 505.8,294.6 507,297.2 508.2,297.9 509.5,295.9 510.7,292.6 511.9,287.9 513.2,283.8 514.4,281.4 515.6,279.5 516.9,278.7 518.1,279 519.3,282.4 520.6,285.5 521.8,288.9 523,292 524.3,293 525.5,293.8 526.7,295.1 528,296.1 529.2,296.9 530.4,297.1 531.7,297.2 532.9,297.1 534.1,297.4 535.4,297.3 536.6,297.6 537.8,297.8 539.1,298 540.3,298 541.5,298.1 542.8,298.5 544,298.7 545.2,299.1 546.5,299.3 547.7,299.7 548.9,300.1 550.2,300.8 551.4,301.3 552.6,301.7 553.9,301.8 555.1,301.7 556.3,301.8 557.6,301.8 558.8,301.8 560,302.1 561.3,301.9 562.5,302 563.7,302.1 565,302.2 566.2,302.3 567.4,302.3 568.7,302.4 569.9,302.6 571.1,302.6 572.4,302.6 573.6,302.2 574.8,302.7 576.1,302.5 577.3,302.8 578.5,302.9 579.7,302.8 581,303 582.2,302.9 583.4,302.7 584.7,302.7 585.9,302.9 587.1,302.9 588.4,302.8 589.6,302.8 590.8,302.6 592.1,302.9 593.3,302.8 594.5,303 595.8,303 597,302.9 598.2,303.1 599.5,302.9 600.7,303.2 601.9,303.1 603.2,303 604.4,302.9 605.6,302.9 606.9,303 608.1,302.8 609.3,302.9 610.6,303.1 611.8,303.1 613,303 614.3,303.1 615.5,302.9 616.7,303 618,302.9 619.2,303.1 620.4,303.4 621.7,303.1 622.9,303.2 624.1,303.3 625.4,303.4 626.6,303.3 627.8,303.4 629.1,303.3 630.3,303.3 631.5,303.2 632.8,303.2 634,303.3 635.2,303.4 636.5,303.5 637.7,303.6 638.9,303.6 640.2,303.5 641.4,303.6 642.6,303.5 643.9,303.6 645.1,303.6 646.3,303.5 647.6,303.4 648.8,303.5 650,303.5 651.3,303.6 652.5,303.6 653.7,303.7 655,303.7 656.2,303.7 657.4,303.7 658.7,303.6 659.9,303.8 661.1,303.7 662.4,303.6 663.6,303.6"/><polyline points="492.2,279.4 493.4,271.5 494.7,265.5 495.9,267.8 497.1,269 498.4,273.6 499.6,278.1 500.8,281.6 502.1,284.7 503.3,288.3 504.5,289.3 505.8,289.5 507,290.1 508.2,290.8 509.5,291.8 510.7,291.5 511.9,289.8 513.2,287.5 514.4,286.7 515.6,287.2 516.9,287.3 518.1,287.4 519.3,287.9 520.6,288.5 521.8,290.4 523,291.5 524.3,292.4 525.5,294.2 526.7,295.8 528,297 529.2,297.9 530.4,298.4 531.7,298.4 532.9,298.6 534.1,298.6 535.4,298.3 536.6,298.5 537.8,298.6 539.1,299 540.3,299.4 541.5,299.8 542.8,299.7 544,300.3 545.2,300.5 546.5,300.5 547.7,300.8 548.9,301 550.2,301.4 551.4,301.7 552.6,302.1 553.9,302.1 555.1,301.9 556.3,301.9 557.6,301.9 558.8,302.2 560,302.2 561.3,302.3 562.5,302.1 563.7,302 565,302.5 566.2,302.6 567.4,302.6 568.7,302.6 569.9,302.7 571.1,302.7 572.4,302.7 573.6,302.8 574.8,302.8 576.1,302.6 577.3,302.9 578.5,303 579.7,303.1 581,303.1 582.2,303.2 583.4,303.2 584.7,303 585.9,302.9 587.1,302.9 588.4,302.9 589.6,302.9 590.8,303 592.1,302.9 593.3,303.1 594.5,303.2 595.8,303.2 597,303.1 598.2,303.1 599.5,303.3 600.7,303.1 601.9,303.3 603.2,303.1 604.4,303.3 605.6,303.3 606.9,303 608.1,303.1 609.3,303.2 610.6,303.2 611.8,303.3 613,303.3 614.3,303.2 615.5,303.1 616.7,303.4 618,303.3 619.2,303.3 620.4,303.3 621.7,303.3 622.9,303.5 624.1,303.2 625.4,303.2 626.6,303.3 627.8,303.4 629.1,303.5 630.3,303.4 631.5,303.4 632.8,303.5 634,303.5 635.2,303.6 636.5,303.5 637.7,303.5 638.9,303.5 640.2,303.5 641.4,303.6 642.6,303.6 643.9,303.7 645.1,303.7 646.3,303.7 647.6,303.7 648.8,303.7 650,303.6 651.3,303.6 652.5,303.4 653.7,303.7 655,303.6 656.2,303.7 657.4,303.8 658.7,303.8 659.9,303.7 661.1,303.8 662.4,303.8 663.6,303.6"/><polyline points="492.2,278.8 493.4,269.3 494.7,260.7 495.9,262.8 497.1,263.4 498.4,267.5 499.6,272.1 500.8,275.3 502.1,278.5 503.3,283 504.5,284.3 505.8,284.5 507,285.5 508.2,286.5 509.5,287.5 510.7,288.5 511.9,288.8 513.2,287.7 514.4,285.1 515.6,284.7 516.9,283.9 518.1,285.3 519.3,287.3 520.6,290.6 521.8,292.2 523,293.1 524.3,294 525.5,295 526.7,296.1 528,296.2 529.2,296.6 530.4,296.3 531.7,295.8 532.9,296.7 534.1,297.2 535.4,297.7 536.6,297.2 537.8,297.6 539.1,297.8 540.3,297.9 541.5,297.9 542.8,298.6 544,299.1 545.2,299.2 546.5,299.5 547.7,299.9 548.9,300.4 550.2,300.9 551.4,301.4 552.6,301.6 553.9,301.6 555.1,301.7 556.3,301.8 557.6,301.8 558.8,301.9 560,301.8 561.3,301.8 562.5,301.8 563.7,302.1 565,302.1 566.2,301.9 567.4,302.2 568.7,302.3 569.9,302.4 571.1,302.6 572.4,302.4 573.6,302.3 574.8,302.5 576.1,302.6 577.3,302.6 578.5,302.4 579.7,302.7 581,302.4 582.2,302.8 583.4,302.7 584.7,302.7 585.9,302.6 587.1,302.7 588.4,302.7 589.6,302.9 590.8,302.9 592.1,302.8 593.3,302.8 594.5,302.9 595.8,302.8 597,303 598.2,302.9 599.5,302.9 600.7,302.7 601.9,303.1 603.2,303.1 604.4,303.1 605.6,302.8 606.9,303 608.1,303.1 609.3,303.1 610.6,303.1 611.8,303 613,303.1 614.3,303.1 615.5,303.2 616.7,303.2 618,303.1 619.2,303.1 620.4,303.1 621.7,302.9 622.9,303.2 624.1,303.2 625.4,303 626.6,303.2 627.8,303.2 629.1,303 630.3,303.4 631.5,303.3 632.8,303.3 634,303.3 635.2,303.4 636.5,303.2 637.7,303.2 638.9,303.5 640.2,303.4 641.4,303.4 642.6,303.4 643.9,303.3 645.1,303.5 646.3,303.5 647.6,303.7 648.8,303.5 650,303.7 651.3,303.6 652.5,303.6 653.7,303.6 655,303.5 656.2,303.4 657.4,303.7 658.7,303.7 659.9,303.8 661.1,303.8 662.4,303.8 663.6,303.8"/></g>
<polyline points="492.2,279.3 493.8,268.9 495.3,263.5 496.9,263.9 498.5,269.6 500.1,276 501.6,279.7 503.2,283.4 504.8,282.8 506.4,281.9 507.9,283.6 509.5,285.3 511.1,285.5 512.6,285.5 514.2,285.6 515.8,286.4 517.4,287.3 518.9,289.1 520.5,290.8 522.1,292.6 523.6,293.8 525.2,294.6 526.8,295.4 528.4,296.2 529.9,296.8 531.5,296.9 533.1,297.1 534.7,297.2 536.2,297.3 537.8,297.5 539.4,297.8 540.9,298.2 542.5,298.6 544.1,299 545.7,299.5 547.2,299.9 548.8,300.4 550.4,300.9 552,301.3 553.5,301.5 555.1,301.6 556.7,301.6 558.2,301.7 559.8,301.8 561.4,301.8 563,301.9 564.5,302 566.1,302 567.7,302.1 569.3,302.2 570.8,302.2 572.4,302.3 574,302.4 575.5,302.4 577.1,302.5 578.7,302.5 580.3,302.6 581.8,302.6 583.4,302.6 585,302.6 586.5,302.6 588.1,302.7 589.7,302.7 591.3,302.7 592.8,302.7 594.4,302.7 596,302.7 597.6,302.8 599.1,302.8 600.7,302.8 602.3,302.8 603.8,302.8 605.4,302.9 607,302.9 608.6,302.9 610.1,302.9 611.7,302.9 613.3,302.9 614.9,303 616.4,303 618,303 619.6,303 621.1,303 622.7,303.1 624.3,303.1 625.9,303.1 627.4,303.1 629,303.1 630.6,303.1 632.2,303.2 633.7,303.2 635.3,303.2 636.9,303.2 638.4,303.2 640,303.3 641.6,303.3 643.2,303.3 644.7,303.3 646.3,303.3 647.9,303.3 649.4,303.4 651,303.4 652.6,303.4 654.2,303.4 655.7,303.4 657.3,303.5 658.9,303.5 660.5,303.5 662,303.5 663.6,303.5" fill="none" stroke="#1c2630" stroke-width="1" stroke-linejoin="round"/>
<rect x="492.2" y="218.2" width="171.4" height="86" fill="none" stroke="#9a9a9a" stroke-width="0.8"/>
<line x1="492.2" y1="291.9" x2="494" y2="291.9" stroke="#9a9a9a" stroke-width="0.6"/>
<line x1="661.8" y1="291.9" x2="663.6" y2="291.9" stroke="#9a9a9a" stroke-width="0.6"/>
<line x1="492.2" y1="279.6" x2="494" y2="279.6" stroke="#9a9a9a" stroke-width="0.6"/>
<line x1="661.8" y1="279.6" x2="663.6" y2="279.6" stroke="#9a9a9a" stroke-width="0.6"/>
<line x1="492.2" y1="267.3" x2="494" y2="267.3" stroke="#9a9a9a" stroke-width="0.6"/>
<line x1="661.8" y1="267.3" x2="663.6" y2="267.3" stroke="#9a9a9a" stroke-width="0.6"/>
<line x1="492.2" y1="255.1" x2="494" y2="255.1" stroke="#9a9a9a" stroke-width="0.6"/>
<line x1="661.8" y1="255.1" x2="663.6" y2="255.1" stroke="#9a9a9a" stroke-width="0.6"/>
<line x1="492.2" y1="242.8" x2="494" y2="242.8" stroke="#9a9a9a" stroke-width="0.6"/>
<line x1="661.8" y1="242.8" x2="663.6" y2="242.8" stroke="#9a9a9a" stroke-width="0.6"/>
<line x1="492.2" y1="230.5" x2="494" y2="230.5" stroke="#9a9a9a" stroke-width="0.6"/>
<line x1="661.8" y1="230.5" x2="663.6" y2="230.5" stroke="#9a9a9a" stroke-width="0.6"/>
<line x1="492.8" y1="304.2" x2="492.8" y2="302.4" stroke="#9a9a9a" stroke-width="0.6"/>
<line x1="492.8" y1="218.2" x2="492.8" y2="220" stroke="#9a9a9a" stroke-width="0.6"/>
<text transform="translate(494.2 311.4)" font-size="7.31" text-anchor="middle" fill="#3c3c3c" textLength="3.5" lengthAdjust="spacingAndGlyphs">0</text>
<line x1="515.6" y1="304.2" x2="515.6" y2="302.4" stroke="#9a9a9a" stroke-width="0.6"/>
<line x1="515.6" y1="218.2" x2="515.6" y2="220" stroke="#9a9a9a" stroke-width="0.6"/>
<text transform="translate(514.5 311.4)" font-size="7.31" text-anchor="middle" fill="#3c3c3c" textLength="7" lengthAdjust="spacingAndGlyphs">13</text>
<line x1="554.2" y1="304.2" x2="554.2" y2="302.4" stroke="#9a9a9a" stroke-width="0.6"/>
<line x1="554.2" y1="218.2" x2="554.2" y2="220" stroke="#9a9a9a" stroke-width="0.6"/>
<text transform="translate(553.7 311.4)" font-size="7.31" text-anchor="middle" fill="#3c3c3c" textLength="7" lengthAdjust="spacingAndGlyphs">35</text>
<line x1="598.1" y1="304.2" x2="598.1" y2="302.4" stroke="#9a9a9a" stroke-width="0.6"/>
<line x1="598.1" y1="218.2" x2="598.1" y2="220" stroke="#9a9a9a" stroke-width="0.6"/>
<text transform="translate(598.7 311.4)" font-size="7.31" text-anchor="middle" fill="#3c3c3c" textLength="7" lengthAdjust="spacingAndGlyphs">60</text>
<line x1="661.2" y1="304.2" x2="661.2" y2="302.4" stroke="#9a9a9a" stroke-width="0.6"/>
<line x1="661.2" y1="218.2" x2="661.2" y2="220" stroke="#9a9a9a" stroke-width="0.6"/>
<text transform="translate(660.9 311.4)" font-size="7.31" text-anchor="middle" fill="#3c3c3c" textLength="7" lengthAdjust="spacingAndGlyphs">96</text>
<text transform="translate(490.2 223.8)" font-size="7.31" text-anchor="end" fill="#3c3c3c" textLength="3.4" lengthAdjust="spacingAndGlyphs">7</text>
<text transform="translate(490.2 306.1)" font-size="7.31" text-anchor="end" fill="#3c3c3c" textLength="3.4" lengthAdjust="spacingAndGlyphs">0</text>
<text transform="translate(577.2 211.8)" font-size="10.6" text-anchor="middle" fill="#3c3c3c" textLength="71.2" lengthAdjust="spacingAndGlyphs">Medication: FFT</text>
<text transform="translate(577.2 319.8)" font-size="9.2" text-anchor="middle" fill="#3c3c3c" textLength="58.9" lengthAdjust="spacingAndGlyphs">Frequency [Hz]</text>
<text transform="translate(485.1 261.4) rotate(-90)" font-size="9.2" text-anchor="middle" fill="#3c3c3c" textLength="65.8" lengthAdjust="spacingAndGlyphs">Amplitude [µVp]</text>
<rect x="583.4" y="224.3" width="73.2" height="12.7" fill="#fff" stroke="#6a6a6a" stroke-width="0.7"/>
<line x1="586.6" y1="230.7" x2="611" y2="230.7" stroke="#6e6e6e" stroke-width="1.5"/>
<text transform="translate(613.2 234)" font-size="9.5" fill="#2a2a2a" textLength="41.4" lengthAdjust="spacingAndGlyphs">Median FFT</text>
<g fill="none" stroke="#f2b53c" stroke-width="0.7" stroke-opacity="0.38"><polyline points="273.4,399.8 274.6,386.8 275.9,374.6 277.1,375.6 278.3,381.1 279.6,388.3 280.8,395.2 282.1,399.4 283.3,403.6 284.5,402 285.8,401.9 287,403.6 288.2,406.2 289.5,406.8 290.7,407.8 292,407.2 293.2,407.1 294.4,406.1 295.7,405.6 296.9,405.7 298.1,404.8 299.4,404 300.6,407 301.8,409.1 303.1,411.5 304.3,415 305.6,418.2 306.8,418.2 308,418 309.3,419.1 310.5,420.6 311.7,421.5 313,421.4 314.2,422.1 315.4,422 316.7,421.8 317.9,421.5 319.2,421.6 320.4,421 321.6,420.6 322.9,421 324.1,421.8 325.3,422.4 326.6,422.8 327.8,423.2 329.1,424.2 330.3,424.5 331.5,425.2 332.8,425.7 334,426 335.2,426 336.5,426.1 337.7,426 338.9,425.9 340.2,426.1 341.4,426 342.7,426.3 343.9,426.5 345.1,426.5 346.4,426.3 347.6,426 348.8,426.3 350.1,426.5 351.3,426.8 352.5,427 353.8,427.4 355,426.9 356.3,427 357.5,427 358.7,427.3 360,427.1 361.2,426.6 362.4,426 363.7,426.3 364.9,427 366.2,427.8 367.4,427.8 368.6,428 369.9,427.9 371.1,427.8 372.3,427.9 373.6,427.9 374.8,427.8 376,427.7 377.3,427.8 378.5,427.9 379.8,427.9 381,428 382.2,428 383.5,428.1 384.7,428.1 385.9,428.1 387.2,428.1 388.4,428 389.6,428.1 390.9,428.1 392.1,428.1 393.4,428.1 394.6,428 395.8,428.1 397.1,428 398.3,427.9 399.5,428.2 400.8,428 402,428.2 403.3,428 404.5,428.1 405.7,428.1 407,428.2 408.2,428.1 409.4,428.1 410.7,428.2 411.9,428.3 413.1,428.2 414.4,428.1 415.6,427.9 416.9,428.1 418.1,428.2 419.3,428.4 420.6,428.2 421.8,428.3 423,428.1 424.3,428.2 425.5,428.3 426.7,428.2 428,428.3 429.2,428.2 430.5,428.3 431.7,428.5 432.9,428.4 434.2,428.3 435.4,428.3 436.6,428.3 437.9,428.5 439.1,428.4 440.4,428.3 441.6,428.6 442.8,428.4 444.1,428.4 445.3,428.5"/><polyline points="273.4,409.3 274.6,401.1 275.9,393.3 277.1,393.1 278.3,396.6 279.6,398.1 280.8,399.8 282.1,404.7 283.3,408 284.5,406.4 285.8,404.7 287,407.4 288.2,407.9 289.5,406.8 290.7,407.9 292,409 293.2,409.5 294.4,408.4 295.7,407.4 296.9,407.3 298.1,408.1 299.4,409.2 300.6,411.8 301.8,415.4 303.1,417.3 304.3,418.4 305.6,419.1 306.8,420.2 308,421.1 309.3,422 310.5,422.7 311.7,422.8 313,422.9 314.2,423.1 315.4,423 316.7,422.7 317.9,422.7 319.2,422.8 320.4,422.7 321.6,422.6 322.9,422.4 324.1,422.6 325.3,423.2 326.6,423.8 327.8,424.1 329.1,424.6 330.3,425.4 331.5,426 332.8,426.2 334,426.3 335.2,426.5 336.5,426.7 337.7,426.8 338.9,426.7 340.2,426.7 341.4,426.6 342.7,426.9 343.9,427 345.1,427 346.4,427.3 347.6,427.2 348.8,427.1 350.1,427 351.3,427 352.5,427.2 353.8,427.4 355,427.3 356.3,427.1 357.5,427.1 358.7,427.2 360,427.4 361.2,427.1 362.4,426.7 363.7,426.9 364.9,427.7 366.2,428.2 367.4,427.7 368.6,427.9 369.9,428.1 371.1,428.2 372.3,428.2 373.6,428.1 374.8,428.1 376,428.2 377.3,428.1 378.5,428.3 379.8,428.1 381,428.2 382.2,428.2 383.5,428.2 384.7,428.2 385.9,428.3 387.2,428.2 388.4,428.1 389.6,428.2 390.9,428.2 392.1,428.2 393.4,428.3 394.6,428.3 395.8,428.4 397.1,428.4 398.3,428.3 399.5,428.3 400.8,428.3 402,427.9 403.3,428.2 404.5,428.2 405.7,428.4 407,428.3 408.2,428.4 409.4,428.4 410.7,428.4 411.9,428.5 413.1,428.4 414.4,428.2 415.6,428.5 416.9,428.5 418.1,428.5 419.3,428.4 420.6,428.3 421.8,428.5 423,428.6 424.3,428.5 425.5,428.5 426.7,428.3 428,428.4 429.2,428.5 430.5,428.4 431.7,428.5 432.9,428.5 434.2,428.5 435.4,428.5 436.6,428.6 437.9,428.7 439.1,428.7 440.4,428.6 441.6,428.6 442.8,428.6 444.1,428.5 445.3,428.7"/><polyline points="273.4,410.4 274.6,403 275.9,398.9 277.1,399 278.3,398.7 279.6,399.8 280.8,403.6 282.1,406.5 283.3,407.5 284.5,403.5 285.8,400.8 287,402.8 288.2,404.3 289.5,404.7 290.7,406.9 292,408.3 293.2,407.7 294.4,405 295.7,403.1 296.9,404.5 298.1,404.3 299.4,404.1 300.6,406 301.8,410.5 303.1,414.1 304.3,417.1 305.6,418.7 306.8,419.5 308,420.3 309.3,421.2 310.5,422 311.7,422 313,421.7 314.2,421.4 315.4,421.2 316.7,421.5 317.9,422.2 319.2,422.5 320.4,422.3 321.6,421.9 322.9,421.6 324.1,422.3 325.3,423 326.6,423.2 327.8,423.5 329.1,423.7 330.3,424.4 331.5,424.8 332.8,424.9 334,425.5 335.2,426.3 336.5,426.5 337.7,426.5 338.9,426.5 340.2,426.4 341.4,426.5 342.7,426.8 343.9,426.6 345.1,426.8 346.4,426.8 347.6,426.8 348.8,426.6 350.1,426.9 351.3,426.7 352.5,426.4 353.8,426.7 355,427 356.3,427.2 357.5,427 358.7,427 360,426.8 361.2,426.7 362.4,425.9 363.7,426.3 364.9,427.3 366.2,427.8 367.4,427.6 368.6,427.9 369.9,427.8 371.1,427.7 372.3,428 373.6,428 374.8,428 376,427.9 377.3,427.8 378.5,427.9 379.8,428 381,428 382.2,428.1 383.5,428 384.7,428.2 385.9,428.2 387.2,427.7 388.4,428 389.6,428.1 390.9,428.1 392.1,428.2 393.4,428.3 394.6,428.3 395.8,428.3 397.1,428.4 398.3,428.2 399.5,428.2 400.8,427.9 402,428 403.3,428.2 404.5,428.2 405.7,428.2 407,428.1 408.2,428.2 409.4,428.3 410.7,428.3 411.9,428.3 413.1,428.2 414.4,428.3 415.6,428.4 416.9,428.2 418.1,428.3 419.3,428.2 420.6,428.3 421.8,428.3 423,428.3 424.3,428.3 425.5,428.3 426.7,428.3 428,428.4 429.2,428.2 430.5,428.5 431.7,428.5 432.9,428.3 434.2,428.3 435.4,428.4 436.6,428.5 437.9,428.6 439.1,428.6 440.4,428.5 441.6,428.6 442.8,428.5 444.1,428.6 445.3,428.3"/><polyline points="273.4,404.6 274.6,395.7 275.9,390 277.1,388.1 278.3,391.4 279.6,394.2 280.8,400.5 282.1,405 283.3,408 284.5,403.3 285.8,399.2 287,399.7 288.2,401.2 289.5,402.4 290.7,404.3 292,403 293.2,400.5 294.4,400.8 295.7,402 296.9,402.6 298.1,400.1 299.4,399.8 300.6,403.3 301.8,408.4 303.1,412 304.3,415.4 305.6,417.9 306.8,419.6 308,420.8 309.3,422 310.5,422.8 311.7,422.4 313,421.8 314.2,421.5 315.4,421.9 316.7,422.7 317.9,422.5 319.2,422.8 320.4,422.7 321.6,423.2 322.9,423.1 324.1,423 325.3,423.1 326.6,423.5 327.8,424.3 329.1,424.7 330.3,424.9 331.5,425.1 332.8,425.7 334,426.2 335.2,426.6 336.5,426.5 337.7,426.3 338.9,426.5 340.2,426.6 341.4,426.6 342.7,426.4 343.9,426.6 345.1,426.9 346.4,426.8 347.6,426.8 348.8,426.8 350.1,426.6 351.3,427 352.5,427.1 353.8,426.8 355,427.1 356.3,427.1 357.5,427.2 358.7,427.2 360,427.4 361.2,427 362.4,426 363.7,426.4 364.9,427.2 366.2,427.9 367.4,427.9 368.6,427.9 369.9,427.8 371.1,428 372.3,428.2 373.6,428.2 374.8,428.2 376,428.2 377.3,428.1 378.5,428.1 379.8,428.3 381,428 382.2,428.2 383.5,427.9 384.7,428.2 385.9,428 387.2,428.1 388.4,428.1 389.6,428 390.9,428.2 392.1,428.1 393.4,428.3 394.6,428.1 395.8,428.2 397.1,428.3 398.3,428.3 399.5,428.2 400.8,428.3 402,428.2 403.3,428.2 404.5,428.4 405.7,428.3 407,428.4 408.2,428.3 409.4,428.3 410.7,428.4 411.9,428.3 413.1,428.2 414.4,428.4 415.6,428.2 416.9,428.2 418.1,428.2 419.3,428.4 420.6,428.4 421.8,428.4 423,428.5 424.3,428.5 425.5,428.4 426.7,428.4 428,428.4 429.2,428.5 430.5,428.5 431.7,428.4 432.9,428.5 434.2,428.5 435.4,428.5 436.6,428.6 437.9,428.5 439.1,428.5 440.4,428.4 441.6,428.6 442.8,428.6 444.1,428.7 445.3,428.6"/><polyline points="273.4,404.4 274.6,395.4 275.9,389.6 277.1,392.4 278.3,396.7 279.6,398.7 280.8,402.5 282.1,407.6 283.3,413.2 284.5,413.8 285.8,415.2 287,418.6 288.2,421.5 289.5,422.2 290.7,421.2 292,418.5 293.2,416.2 294.4,414.4 295.7,413.6 296.9,413.1 298.1,412.4 299.4,411.1 300.6,412.3 301.8,413.9 303.1,415.1 304.3,415.7 305.6,417.7 306.8,419.7 308,421.8 309.3,423 310.5,423.4 311.7,423.3 313,423.3 314.2,423.4 315.4,423.9 316.7,423.8 317.9,423.6 319.2,423.7 320.4,423.8 321.6,423.9 322.9,423.9 324.1,424.4 325.3,424.4 326.6,425 327.8,424.5 329.1,424.8 330.3,425.1 331.5,425.6 332.8,426.1 334,426.2 335.2,426.6 336.5,427 337.7,427 338.9,427.2 340.2,427.1 341.4,427 342.7,427.1 343.9,426.8 345.1,427.1 346.4,427 347.6,427 348.8,427 350.1,427.3 351.3,427.2 352.5,427.2 353.8,427.2 355,427.5 356.3,427.4 357.5,427.4 358.7,427.1 360,427.1 361.2,427 362.4,426.7 363.7,426.8 364.9,427.6 366.2,428.1 367.4,428.1 368.6,428 369.9,428 371.1,428.1 372.3,428.2 373.6,427.8 374.8,428.1 376,428.2 377.3,428.2 378.5,428.2 379.8,428.2 381,428.1 382.2,427.9 383.5,428.2 384.7,428.3 385.9,428.3 387.2,428.4 388.4,428 389.6,428.3 390.9,428.3 392.1,428.3 393.4,428.1 394.6,428.1 395.8,428.4 397.1,428.4 398.3,428.5 399.5,428.5 400.8,428.5 402,428.4 403.3,428.4 404.5,428.4 405.7,428.5 407,428.5 408.2,428.4 409.4,428.4 410.7,428.4 411.9,428.5 413.1,428.4 414.4,428.4 415.6,428.6 416.9,428.5 418.1,428.5 419.3,428.5 420.6,428.4 421.8,428.6 423,428.6 424.3,428.4 425.5,428.4 426.7,428.3 428,428.6 429.2,428.4 430.5,428.4 431.7,428.6 432.9,428.5 434.2,428.5 435.4,428.6 436.6,428.7 437.9,428.7 439.1,428.4 440.4,428.6 441.6,428.5 442.8,428.6 444.1,428.5 445.3,428.7"/><polyline points="273.4,395 274.6,383 275.9,372.8 277.1,373.2 278.3,379.4 279.6,389.3 280.8,395.9 282.1,400.8 283.3,406.6 284.5,407 285.8,407 287,409.1 288.2,412.9 289.5,413.9 290.7,414.7 292,412.7 293.2,410.1 294.4,406.7 295.7,404.8 296.9,404.6 298.1,405.5 299.4,407 300.6,409.5 301.8,413.1 303.1,414.9 304.3,415.7 305.6,417.6 306.8,419.6 308,420.8 309.3,421 310.5,421.6 311.7,422.1 313,422.4 314.2,422.6 315.4,422.3 316.7,422.5 317.9,422.4 319.2,422.2 320.4,422.3 321.6,421.9 322.9,421.8 324.1,422.3 325.3,422.9 326.6,423.2 327.8,423.5 329.1,424.1 330.3,424.8 331.5,424.9 332.8,425.5 334,425.8 335.2,426.2 336.5,426.4 337.7,426.6 338.9,426.6 340.2,426.4 341.4,426.5 342.7,426.5 343.9,426.8 345.1,426.8 346.4,426.7 347.6,426.5 348.8,426.8 350.1,426.6 351.3,426.5 352.5,426.7 353.8,426.6 355,426.8 356.3,426.8 357.5,426.8 358.7,426.9 360,426.9 361.2,426.9 362.4,426.3 363.7,426.3 364.9,427.3 366.2,428 367.4,427.9 368.6,428 369.9,427.6 371.1,427.8 372.3,427.9 373.6,427.9 374.8,428 376,428.1 377.3,428.1 378.5,427.8 379.8,427.9 381,428.1 382.2,428.1 383.5,428.2 384.7,428 385.9,428 387.2,428 388.4,428.1 389.6,428 390.9,428 392.1,428.1 393.4,428.1 394.6,428.1 395.8,428.1 397.1,428.2 398.3,428.3 399.5,428.3 400.8,428.2 402,428.2 403.3,428.2 404.5,428 405.7,428.1 407,428.1 408.2,428.3 409.4,428.4 410.7,428.3 411.9,428.3 413.1,428.4 414.4,428 415.6,428.2 416.9,428.2 418.1,428.3 419.3,428.4 420.6,428.2 421.8,428.4 423,428.4 424.3,428.4 425.5,428.5 426.7,428.4 428,428.4 429.2,428.4 430.5,428.5 431.7,428.6 432.9,428.3 434.2,428.4 435.4,428.5 436.6,428.5 437.9,428.2 439.1,428.2 440.4,428.3 441.6,428.6 442.8,428.5 444.1,428.4 445.3,428.5"/><polyline points="273.4,401.9 274.6,390.9 275.9,384.3 277.1,387.5 278.3,394 279.6,397.7 280.8,399.1 282.1,402.1 283.3,406.9 284.5,407.5 285.8,406.8 287,409.3 288.2,411 289.5,411.3 290.7,409.4 292,405.3 293.2,399.2 294.4,392.5 295.7,386.5 296.9,384.4 298.1,383.8 299.4,382.6 300.6,390.8 301.8,401.2 303.1,408.6 304.3,412.4 305.6,416.4 306.8,419.6 308,420.8 309.3,421.5 310.5,421.7 311.7,422 313,422.2 314.2,422.4 315.4,422.7 316.7,422.5 317.9,421.7 319.2,421.8 320.4,422.3 321.6,422.6 322.9,422.6 324.1,423.2 325.3,423.5 326.6,423.4 327.8,423.6 329.1,424.3 330.3,424.8 331.5,425.3 332.8,425.8 334,426.2 335.2,426.2 336.5,426.2 337.7,426.5 338.9,426.4 340.2,426.5 341.4,426.4 342.7,426.5 343.9,426.7 345.1,426.7 346.4,426.6 347.6,426.8 348.8,427 350.1,427 351.3,427.1 352.5,427 353.8,427.2 355,427.2 356.3,427.3 357.5,427.2 358.7,426.9 360,427 361.2,426.7 362.4,426.1 363.7,426.3 364.9,427.3 366.2,428 367.4,428 368.6,428.1 369.9,428.1 371.1,427.7 372.3,427.9 373.6,428 374.8,428.1 376,427.9 377.3,427.9 378.5,427.9 379.8,428.1 381,428.2 382.2,428 383.5,428.1 384.7,428 385.9,428.1 387.2,428.2 388.4,428.1 389.6,428.1 390.9,428.1 392.1,428 393.4,428.1 394.6,428.2 395.8,428.1 397.1,428.3 398.3,428.1 399.5,428.2 400.8,428.2 402,428.4 403.3,428.1 404.5,428.3 405.7,428.2 407,428.3 408.2,428.3 409.4,428.3 410.7,428.3 411.9,428.2 413.1,428.3 414.4,428.1 415.6,428.3 416.9,428.4 418.1,428.3 419.3,428.4 420.6,428.4 421.8,428.3 423,428.4 424.3,428.5 425.5,428.4 426.7,428.4 428,428.4 429.2,428.5 430.5,428.6 431.7,428.4 432.9,428.6 434.2,428.5 435.4,428.5 436.6,428.5 437.9,428.5 439.1,428.4 440.4,428.5 441.6,428.4 442.8,428.4 444.1,428.5 445.3,428.7"/><polyline points="273.4,394.2 274.6,379.7 275.9,375.5 277.1,378.2 278.3,385.3 279.6,388.1 280.8,394 282.1,397 283.3,400.9 284.5,399.2 285.8,398.5 287,403 288.2,405.3 289.5,408.1 290.7,408.3 292,406.6 293.2,404 294.4,403.3 295.7,403.8 296.9,402.8 298.1,397.9 299.4,390.2 300.6,388.1 301.8,391.3 303.1,396.1 304.3,401.7 305.6,408.1 306.8,412.7 308,416.6 309.3,418.9 310.5,420.1 311.7,420.1 313,420.2 314.2,420.6 315.4,421.1 316.7,421.4 317.9,421.2 319.2,420.8 320.4,420.9 321.6,421.1 322.9,421.5 324.1,421.7 325.3,421.8 326.6,422.1 327.8,422.9 329.1,423.6 330.3,424.3 331.5,424.3 332.8,424.8 334,425.1 335.2,425.5 336.5,425.5 337.7,425.9 338.9,426 340.2,426.1 341.4,425.8 342.7,426 343.9,426.3 345.1,426.6 346.4,426.4 347.6,426.3 348.8,426.4 350.1,426.2 351.3,426.3 352.5,426.4 353.8,426.6 355,426.3 356.3,426.1 357.5,426.5 358.7,426.5 360,426.6 361.2,426.2 362.4,425.8 363.7,426.2 364.9,427.1 366.2,427.6 367.4,427.4 368.6,427.7 369.9,427.6 371.1,427.7 372.3,427.8 373.6,427.9 374.8,427.8 376,428 377.3,427.8 378.5,427.8 379.8,427.9 381,427.8 382.2,427.8 383.5,427.9 384.7,427.8 385.9,428 387.2,428 388.4,427.9 389.6,427.9 390.9,427.8 392.1,427.6 393.4,427.9 394.6,428 395.8,428 397.1,427.7 398.3,428 399.5,428 400.8,427.9 402,428 403.3,428 404.5,428 405.7,428 407,428 408.2,428.1 409.4,428.2 410.7,428.3 411.9,428.2 413.1,428.2 414.4,428.2 415.6,428.1 416.9,428.3 418.1,428.2 419.3,428.3 420.6,428.4 421.8,428.2 423,428.3 424.3,428.3 425.5,428.2 426.7,428.2 428,428.4 429.2,428.2 430.5,428.3 431.7,428.2 432.9,428.4 434.2,428.4 435.4,428.3 436.6,428.3 437.9,428.2 439.1,428.4 440.4,428.5 441.6,428.4 442.8,428.4 444.1,428.4 445.3,428.5"/><polyline points="273.4,403.6 274.6,396.8 275.9,390.8 277.1,385 278.3,385.4 279.6,391.2 280.8,398.7 282.1,404.7 283.3,408.4 284.5,406.7 285.8,402.9 287,402.8 288.2,404.8 289.5,405.1 290.7,406.6 292,406.1 293.2,406.5 294.4,406.4 295.7,406.3 296.9,406.7 298.1,404.8 299.4,403.9 300.6,407.4 301.8,411.4 303.1,413.2 304.3,415 305.6,417.2 306.8,418.4 308,419.4 309.3,420.1 310.5,421.2 311.7,421.9 313,422 314.2,422 315.4,422.3 316.7,422.8 317.9,422.3 319.2,421.7 320.4,421.7 321.6,422.1 322.9,421.8 324.1,421.6 325.3,421.6 326.6,422.5 327.8,423.5 329.1,424.1 330.3,424.1 331.5,424.5 332.8,424.7 334,425 335.2,425.9 336.5,426.3 337.7,426.4 338.9,426.4 340.2,426.4 341.4,426.4 342.7,426.5 343.9,426.6 345.1,426.6 346.4,426.4 347.6,426.5 348.8,426.3 350.1,426.6 351.3,426.7 352.5,426.5 353.8,426.6 355,426.8 356.3,426.8 357.5,426.6 358.7,426.9 360,426.8 361.2,426.6 362.4,426.1 363.7,426.2 364.9,427 366.2,427.8 367.4,428 368.6,427.9 369.9,427.9 371.1,428.1 372.3,427.8 373.6,427.9 374.8,427.7 376,428 377.3,427.8 378.5,427.8 379.8,427.9 381,427.8 382.2,427.9 383.5,428 384.7,427.8 385.9,427.9 387.2,427.8 388.4,427.9 389.6,427.8 390.9,427.8 392.1,428 393.4,428 394.6,427.9 395.8,428 397.1,428.1 398.3,428.1 399.5,427.8 400.8,428.1 402,428.2 403.3,428 404.5,428 405.7,428 407,428.2 408.2,428 409.4,428 410.7,428.3 411.9,428.3 413.1,428.2 414.4,428 415.6,428.2 416.9,428.3 418.1,428.3 419.3,428.1 420.6,428.4 421.8,428.3 423,428 424.3,428.2 425.5,428.2 426.7,428.1 428,428.3 429.2,428.4 430.5,428.2 431.7,428.4 432.9,428.5 434.2,428.4 435.4,428.3 436.6,428.4 437.9,428.5 439.1,428.4 440.4,428.4 441.6,428.4 442.8,428.6 444.1,428.6 445.3,428.5"/><polyline points="273.4,400.7 274.6,390.8 275.9,383.7 277.1,384 278.3,387.2 279.6,391.9 280.8,396.4 282.1,401.4 283.3,405.8 284.5,403.3 285.8,402.2 287,404.1 288.2,406.1 289.5,403.5 290.7,401.3 292,396 293.2,390.6 294.4,384.2 295.7,383.5 296.9,387.4 298.1,391.4 299.4,393 300.6,399.9 301.8,406.7 303.1,411.6 304.3,415.7 305.6,418.4 306.8,419.4 308,419.5 309.3,420.9 310.5,421.7 311.7,421.9 313,421.5 314.2,421.8 315.4,421.8 316.7,421.3 317.9,421.4 319.2,421 320.4,420.9 321.6,420.5 322.9,421 324.1,421.7 325.3,423 326.6,423.6 327.8,423.8 329.1,424.3 330.3,424.7 331.5,425.4 332.8,425.3 334,425.4 335.2,425.9 336.5,426.2 337.7,426.2 338.9,426.6 340.2,426.5 341.4,426.6 342.7,426.4 343.9,426.6 345.1,426.9 346.4,426.7 347.6,426.6 348.8,426.4 350.1,426.7 351.3,426.9 352.5,427.3 353.8,426.8 355,426.8 356.3,426.8 357.5,427.2 358.7,427.1 360,427.2 361.2,426.7 362.4,425.9 363.7,426.2 364.9,427 366.2,427.9 367.4,427.9 368.6,427.8 369.9,428 371.1,427.9 372.3,427.9 373.6,427.7 374.8,427.9 376,427.9 377.3,428 378.5,427.8 379.8,428.1 381,428 382.2,427.9 383.5,428 384.7,428 385.9,427.8 387.2,427.9 388.4,427.9 389.6,428 390.9,428 392.1,428.1 393.4,428.1 394.6,428 395.8,428 397.1,428.2 398.3,428.1 399.5,428 400.8,427.9 402,428.1 403.3,428.2 404.5,427.8 405.7,428.2 407,428.3 408.2,428.4 409.4,428.2 410.7,428 411.9,428.2 413.1,428.2 414.4,428.2 415.6,428.2 416.9,428.3 418.1,428.2 419.3,428.3 420.6,428.3 421.8,428.3 423,428.2 424.3,428.2 425.5,428.1 426.7,428.2 428,428.3 429.2,428.4 430.5,428.5 431.7,428.5 432.9,428.5 434.2,428.5 435.4,428.4 436.6,428.4 437.9,428.6 439.1,428.4 440.4,428.3 441.6,428.5 442.8,428.4 444.1,428.5 445.3,428.4"/><polyline points="273.4,395.6 274.6,382.7 275.9,372.5 277.1,372.8 278.3,382 279.6,386.4 280.8,392.4 282.1,399.5 283.3,407 284.5,407.1 285.8,408.1 287,411.2 288.2,412.2 289.5,410.8 290.7,406.9 292,399.3 293.2,392.4 294.4,386.3 295.7,381.6 296.9,378.5 298.1,383.1 299.4,388.5 300.6,398.9 301.8,405.2 303.1,411.9 304.3,415.8 305.6,418.5 306.8,419.6 308,420.4 309.3,420.3 310.5,421.1 311.7,421.3 313,421.6 314.2,421.3 315.4,421.9 316.7,422.1 317.9,421.4 319.2,421.3 320.4,421.4 321.6,421.8 322.9,421.8 324.1,422.1 325.3,422.5 326.6,422.5 327.8,423.2 329.1,423.9 330.3,424.5 331.5,424.8 332.8,425.6 334,425.9 335.2,426.4 336.5,426.1 337.7,426 338.9,426 340.2,426.1 341.4,426.1 342.7,426.2 343.9,426.5 345.1,426.6 346.4,426.5 347.6,426.4 348.8,426.5 350.1,426.3 351.3,426.4 352.5,426.6 353.8,426.7 355,426.8 356.3,426.8 357.5,426.8 358.7,426.9 360,427.1 361.2,426.7 362.4,426.4 363.7,426.3 364.9,427.3 366.2,427.6 367.4,427.8 368.6,427.9 369.9,428.1 371.1,427.8 372.3,427.8 373.6,427.8 374.8,427.7 376,427.7 377.3,427.8 378.5,427.7 379.8,427.8 381,428 382.2,428.2 383.5,427.9 384.7,427.8 385.9,428.1 387.2,428 388.4,427.8 389.6,428 390.9,428 392.1,427.9 393.4,427.9 394.6,427.9 395.8,427.9 397.1,427.9 398.3,428.1 399.5,428.3 400.8,428.2 402,428.2 403.3,428.2 404.5,428 405.7,428.2 407,428.2 408.2,428.2 409.4,428.2 410.7,428.1 411.9,428.1 413.1,428.2 414.4,428.2 415.6,428.3 416.9,428.2 418.1,428.3 419.3,428.1 420.6,428.2 421.8,428.3 423,428.3 424.3,428.3 425.5,428.4 426.7,428.3 428,428.4 429.2,428.4 430.5,428.4 431.7,428.5 432.9,428.3 434.2,428.3 435.4,428.2 436.6,428.2 437.9,428.3 439.1,428.5 440.4,428.4 441.6,428.3 442.8,428.5 444.1,428.4 445.3,428.5"/><polyline points="273.4,402.6 274.6,392.3 275.9,387 277.1,387.5 278.3,390.8 279.6,394.9 280.8,399.2 282.1,403.9 283.3,406.8 284.5,405.1 285.8,401.7 287,403.5 288.2,406.4 289.5,408.7 290.7,409 292,406.5 293.2,403.1 294.4,399.5 295.7,395.8 296.9,394.8 298.1,395 299.4,395.4 300.6,401.6 301.8,407.5 303.1,411.8 304.3,414.7 305.6,418.1 306.8,419.9 308,420.8 309.3,421.7 310.5,422.8 311.7,423.1 313,423 314.2,422.9 315.4,423 316.7,423.1 317.9,422.9 319.2,422.9 320.4,423.1 321.6,423.5 322.9,423.3 324.1,423.4 325.3,423.9 326.6,423.8 327.8,424.3 329.1,424.4 330.3,425.1 331.5,425.3 332.8,425.8 334,426.2 335.2,426.6 336.5,426.5 337.7,426.6 338.9,426.7 340.2,427 341.4,427.1 342.7,427.2 343.9,427.2 345.1,427 346.4,427.1 347.6,427.3 348.8,427.2 350.1,426.9 351.3,427 352.5,427.1 353.8,427.2 355,427.3 356.3,427.1 357.5,427.2 358.7,427.3 360,427.3 361.2,427.1 362.4,426.3 363.7,426.5 364.9,427.2 366.2,428.1 367.4,428 368.6,428 369.9,428 371.1,427.8 372.3,428.1 373.6,428 374.8,428.1 376,428.2 377.3,428.2 378.5,428.1 379.8,428 381,428 382.2,428 383.5,428.1 384.7,427.9 385.9,427.9 387.2,428.1 388.4,428.1 389.6,428.2 390.9,428.3 392.1,428.2 393.4,428.4 394.6,428.1 395.8,428.4 397.1,428.2 398.3,428.2 399.5,428.4 400.8,428.2 402,428.2 403.3,428.1 404.5,428.3 405.7,428.4 407,428.4 408.2,428.5 409.4,428.4 410.7,428.5 411.9,428.4 413.1,428.4 414.4,428.2 415.6,428.4 416.9,428.5 418.1,428.4 419.3,428.2 420.6,428.4 421.8,428.5 423,428.5 424.3,428.5 425.5,428.4 426.7,428.5 428,428.5 429.2,428.4 430.5,428.4 431.7,428.5 432.9,428.5 434.2,428.5 435.4,428.6 436.6,428.5 437.9,428.5 439.1,428.5 440.4,428.7 441.6,428.7 442.8,428.4 444.1,428.5 445.3,428.5"/></g>
<polyline points="273.4,401.5 275,388.2 276.6,384.5 278.1,388 279.7,393.5 281.3,399.7 282.9,405.9 284.4,405.9 286,404.5 287.6,407.8 289.2,410.2 290.7,411.3 292.3,410 293.9,408.5 295.5,406.9 297.1,406.8 298.6,406.8 300.2,408 301.8,411.6 303.4,414.5 304.9,416.8 306.5,418.8 308.1,419.8 309.7,420.9 311.2,421.9 312.8,421.9 314.4,421.9 316,421.9 317.6,421.9 319.1,421.9 320.7,421.9 322.3,421.9 323.9,422.1 325.4,422.7 327,423.3 328.6,423.9 330.2,424.6 331.8,425.1 333.3,425.5 334.9,425.9 336.5,426.2 338.1,426.2 339.6,426.3 341.2,426.3 342.8,426.4 344.4,426.4 345.9,426.5 347.5,426.5 349.1,426.6 350.7,426.6 352.3,426.7 353.8,426.7 355.4,426.8 357,426.8 358.6,426.9 360.1,426.9 361.7,426.4 363.3,425.9 364.9,427.1 366.4,427.7 368,427.7 369.6,427.7 371.2,427.8 372.8,427.8 374.3,427.8 375.9,427.8 377.5,427.8 379.1,427.8 380.6,427.8 382.2,427.9 383.8,427.9 385.4,427.9 386.9,427.9 388.5,427.9 390.1,427.9 391.7,427.9 393.3,427.9 394.8,428 396.4,428 398,428 399.6,428 401.1,428 402.7,428 404.3,428 405.9,428 407.5,428.1 409,428.1 410.6,428.1 412.2,428.1 413.8,428.1 415.3,428.1 416.9,428.1 418.5,428.1 420.1,428.2 421.6,428.2 423.2,428.2 424.8,428.2 426.4,428.2 428,428.2 429.5,428.2 431.1,428.2 432.7,428.3 434.3,428.3 435.8,428.3 437.4,428.3 439,428.3 440.6,428.3 442.1,428.3 443.7,428.3 445.3,428.4" fill="none" stroke="#1c2630" stroke-width="1" stroke-linejoin="round"/>
<rect x="273.4" y="339.5" width="171.9" height="89.8" fill="none" stroke="#9a9a9a" stroke-width="0.8"/>
<line x1="273.4" y1="416.5" x2="275.2" y2="416.5" stroke="#9a9a9a" stroke-width="0.6"/>
<line x1="443.5" y1="416.5" x2="445.3" y2="416.5" stroke="#9a9a9a" stroke-width="0.6"/>
<line x1="273.4" y1="403.6" x2="275.2" y2="403.6" stroke="#9a9a9a" stroke-width="0.6"/>
<line x1="443.5" y1="403.6" x2="445.3" y2="403.6" stroke="#9a9a9a" stroke-width="0.6"/>
<line x1="273.4" y1="390.8" x2="275.2" y2="390.8" stroke="#9a9a9a" stroke-width="0.6"/>
<line x1="443.5" y1="390.8" x2="445.3" y2="390.8" stroke="#9a9a9a" stroke-width="0.6"/>
<line x1="273.4" y1="378" x2="275.2" y2="378" stroke="#9a9a9a" stroke-width="0.6"/>
<line x1="443.5" y1="378" x2="445.3" y2="378" stroke="#9a9a9a" stroke-width="0.6"/>
<line x1="273.4" y1="365.2" x2="275.2" y2="365.2" stroke="#9a9a9a" stroke-width="0.6"/>
<line x1="443.5" y1="365.2" x2="445.3" y2="365.2" stroke="#9a9a9a" stroke-width="0.6"/>
<line x1="273.4" y1="352.3" x2="275.2" y2="352.3" stroke="#9a9a9a" stroke-width="0.6"/>
<line x1="443.5" y1="352.3" x2="445.3" y2="352.3" stroke="#9a9a9a" stroke-width="0.6"/>
<line x1="274" y1="429.3" x2="274" y2="427.5" stroke="#9a9a9a" stroke-width="0.6"/>
<line x1="274" y1="339.5" x2="274" y2="341.3" stroke="#9a9a9a" stroke-width="0.6"/>
<text transform="translate(274.7 437.4)" font-size="7.31" text-anchor="middle" fill="#3c3c3c" textLength="3.5" lengthAdjust="spacingAndGlyphs">0</text>
<line x1="296.8" y1="429.3" x2="296.8" y2="427.5" stroke="#9a9a9a" stroke-width="0.6"/>
<line x1="296.8" y1="339.5" x2="296.8" y2="341.3" stroke="#9a9a9a" stroke-width="0.6"/>
<text transform="translate(295.7 437.4)" font-size="7.31" text-anchor="middle" fill="#3c3c3c" textLength="7" lengthAdjust="spacingAndGlyphs">13</text>
<line x1="335.4" y1="429.3" x2="335.4" y2="427.5" stroke="#9a9a9a" stroke-width="0.6"/>
<line x1="335.4" y1="339.5" x2="335.4" y2="341.3" stroke="#9a9a9a" stroke-width="0.6"/>
<text transform="translate(334.9 437.4)" font-size="7.31" text-anchor="middle" fill="#3c3c3c" textLength="7" lengthAdjust="spacingAndGlyphs">35</text>
<line x1="379.3" y1="429.3" x2="379.3" y2="427.5" stroke="#9a9a9a" stroke-width="0.6"/>
<line x1="379.3" y1="339.5" x2="379.3" y2="341.3" stroke="#9a9a9a" stroke-width="0.6"/>
<text transform="translate(379.9 437.4)" font-size="7.31" text-anchor="middle" fill="#3c3c3c" textLength="7" lengthAdjust="spacingAndGlyphs">60</text>
<line x1="442.4" y1="429.3" x2="442.4" y2="427.5" stroke="#9a9a9a" stroke-width="0.6"/>
<line x1="442.4" y1="339.5" x2="442.4" y2="341.3" stroke="#9a9a9a" stroke-width="0.6"/>
<text transform="translate(442.1 437.4)" font-size="7.31" text-anchor="middle" fill="#3c3c3c" textLength="7" lengthAdjust="spacingAndGlyphs">96</text>
<text transform="translate(271.4 345.1)" font-size="7.31" text-anchor="end" fill="#3c3c3c" textLength="3.4" lengthAdjust="spacingAndGlyphs">7</text>
<text transform="translate(269.8 431.2)" font-size="7.31" text-anchor="end" fill="#3c3c3c" textLength="3.4" lengthAdjust="spacingAndGlyphs">0</text>
<text transform="translate(359.2 336)" font-size="10.6" text-anchor="middle" fill="#3c3c3c" textLength="63.6" lengthAdjust="spacingAndGlyphs">I feel well: FFT</text>
<text transform="translate(358.4 443.6)" font-size="9.2" text-anchor="middle" fill="#3c3c3c" textLength="58.9" lengthAdjust="spacingAndGlyphs">Frequency [Hz]</text>
<text transform="translate(267.1 384.6) rotate(-90)" font-size="9.2" text-anchor="middle" fill="#3c3c3c" textLength="65.8" lengthAdjust="spacingAndGlyphs">Amplitude [µVp]</text>
<rect x="363.1" y="344.3" width="73.6" height="12.4" fill="#fff" stroke="#6a6a6a" stroke-width="0.7"/>
<line x1="366.3" y1="350.5" x2="390.7" y2="350.5" stroke="#6e6e6e" stroke-width="1.5"/>
<text transform="translate(392.9 353.8)" font-size="9.5" fill="#2a2a2a" textLength="41.4" lengthAdjust="spacingAndGlyphs">Median FFT</text>
<g fill="none" stroke="#a463bb" stroke-width="0.7" stroke-opacity="0.38"><polyline points="492.2,386 493.4,372.5 494.7,366 495.9,368.5 497.1,373.2 498.4,380.4 499.6,384.7 500.8,392.1 502.1,396.5 503.3,396.9 504.5,398.6 505.8,402.1 507,405 508.2,406.1 509.5,407.1 510.7,405.5 511.9,405.5 513.2,402.2 514.4,399 515.6,393 516.9,391.9 518.1,394.2 519.3,401.5 520.6,405.5 521.8,406.4 523,408.8 524.3,411.8 525.5,415.7 526.7,417.9 528,419.1 529.2,419 530.4,419.6 531.7,420.1 532.9,419.9 534.1,420.2 535.4,420 536.6,421.1 537.8,421.2 539.1,420.9 540.3,420.3 541.5,420.7 542.8,421.7 544,422.3 545.2,421.7 546.5,421.8 547.7,422.5 548.9,423.2 550.2,423.8 551.4,424.9 552.6,425 553.9,424.8 555.1,424.6 556.3,425 557.6,425.4 558.8,425.5 560,425.6 561.3,425.5 562.5,425.2 563.7,425.2 565,425.6 566.2,425.7 567.4,425.7 568.7,425.7 569.9,425.9 571.1,426 572.4,426 573.6,425.6 574.8,426 576.1,426.4 577.3,426.5 578.5,426.2 579.7,426.2 581,425.9 582.2,426.5 583.4,426.7 584.7,427 585.9,426.8 587.1,426.8 588.4,426.7 589.6,426.8 590.8,426.5 592.1,426.7 593.3,426.7 594.5,426.9 595.8,426.9 597,426.9 598.2,427 599.5,426.8 600.7,427.1 601.9,427 603.2,427.2 604.4,427 605.6,427.2 606.9,427.1 608.1,427.1 609.3,427.1 610.6,427.4 611.8,427.4 613,427.4 614.3,427.1 615.5,427.2 616.7,427.1 618,427.5 619.2,427 620.4,427.2 621.7,427.3 622.9,427.4 624.1,427.3 625.4,427.3 626.6,427.6 627.8,427.5 629.1,427.5 630.3,427.5 631.5,427.6 632.8,427.7 634,427.8 635.2,427.9 636.5,427.7 637.7,427.6 638.9,427.7 640.2,427.8 641.4,427.8 642.6,427.8 643.9,427.8 645.1,428 646.3,428.1 647.6,428 648.8,428.1 650,428.1 651.3,428.1 652.5,428.1 653.7,428.1 655,428.2 656.2,428.3 657.4,428.3 658.7,428 659.9,428.4 661.1,428.5 662.4,428.3 663.6,428.4"/><polyline points="492.2,406.9 493.4,398.7 494.7,395.3 495.9,396.5 497.1,401 498.4,403 499.6,404.5 500.8,408 502.1,410.6 503.3,409.7 504.5,409 505.8,408.9 507,410.6 508.2,413 509.5,414 510.7,414.3 511.9,413.5 513.2,412.5 514.4,411.8 515.6,411.2 516.9,409.9 518.1,408.2 519.3,410 520.6,413.3 521.8,415.8 523,418.1 524.3,419.4 525.5,420.8 526.7,421.5 528,422 529.2,423.2 530.4,423.4 531.7,423.6 532.9,423.5 534.1,423.7 535.4,424 536.6,423.8 537.8,424 539.1,424.4 540.3,424.3 541.5,424.2 542.8,424.2 544,424.5 545.2,424.6 546.5,424.7 547.7,425 548.9,425.2 550.2,425.6 551.4,425.8 552.6,425.9 553.9,426.1 555.1,426.2 556.3,426.4 557.6,426.6 558.8,427 560,427.1 561.3,426.7 562.5,426.9 563.7,427 565,427 566.2,426.7 567.4,426.7 568.7,427.1 569.9,427 571.1,426.9 572.4,427.2 573.6,427.1 574.8,427.3 576.1,427.3 577.3,427 578.5,427.2 579.7,427.4 581,427.5 582.2,427.5 583.4,427.5 584.7,427.3 585.9,427.4 587.1,427.6 588.4,427.4 589.6,427.5 590.8,427.5 592.1,427.4 593.3,427.7 594.5,427.8 595.8,427.8 597,427.7 598.2,427.7 599.5,427.6 600.7,427.8 601.9,427.7 603.2,427.8 604.4,427.8 605.6,427.6 606.9,427.7 608.1,427.8 609.3,428 610.6,427.8 611.8,427.7 613,427.7 614.3,427.7 615.5,427.8 616.7,427.9 618,427.9 619.2,427.9 620.4,428 621.7,428 622.9,428 624.1,428.1 625.4,428.2 626.6,428 627.8,427.9 629.1,428.2 630.3,428.3 631.5,428.2 632.8,428.3 634,428.3 635.2,428.2 636.5,428.3 637.7,428.3 638.9,428.4 640.2,428.4 641.4,428.4 642.6,428.5 643.9,428.4 645.1,428.5 646.3,428.5 647.6,428.6 648.8,428.6 650,428.5 651.3,428.5 652.5,428.6 653.7,428.4 655,428.3 656.2,428.5 657.4,428.7 658.7,428.6 659.9,428.5 661.1,428.7 662.4,428.7 663.6,428.6"/><polyline points="492.2,393.6 493.4,379.3 494.7,374.4 495.9,374.8 497.1,380.5 498.4,387.4 499.6,393.3 500.8,398.6 502.1,402 503.3,399.1 504.5,395.6 505.8,393.6 507,396.3 508.2,399.5 509.5,402.4 510.7,404.1 511.9,404.1 513.2,401.5 514.4,400.6 515.6,400.7 516.9,400.5 518.1,399.1 519.3,402.8 520.6,406.9 521.8,410.7 523,413.5 524.3,416.6 525.5,418.1 526.7,418.9 528,419.4 529.2,420.7 530.4,421.7 531.7,421.8 532.9,421.3 534.1,420.8 535.4,420.7 536.6,421.1 537.8,421.9 539.1,421.9 540.3,421.7 541.5,421.6 542.8,421.9 544,422.2 545.2,422.8 546.5,423.1 547.7,423.5 548.9,423.7 550.2,424.1 551.4,424.4 552.6,424.4 553.9,424.5 555.1,425 556.3,425.3 557.6,425.6 558.8,425.9 560,425.8 561.3,425.7 562.5,425.5 563.7,425.8 565,425.8 566.2,426.1 567.4,426.1 568.7,426.2 569.9,426.3 571.1,426.1 572.4,426.3 573.6,426.2 574.8,426.5 576.1,426.1 577.3,426 578.5,426.1 579.7,426.4 581,426.5 582.2,426.6 583.4,426.6 584.7,427 585.9,427.1 587.1,426.9 588.4,427.3 589.6,427.2 590.8,427.2 592.1,427 593.3,427.1 594.5,426.6 595.8,427 597,426.9 598.2,427.2 599.5,427.2 600.7,427.2 601.9,427.2 603.2,427.1 604.4,427.3 605.6,427.2 606.9,427.4 608.1,427.3 609.3,427.4 610.6,427.6 611.8,427.4 613,427.5 614.3,427.4 615.5,427.5 616.7,427.6 618,427.5 619.2,427.6 620.4,427.4 621.7,427.5 622.9,427.5 624.1,427.8 625.4,427.8 626.6,427.8 627.8,427.9 629.1,427.7 630.3,427.8 631.5,427.8 632.8,428 634,428 635.2,428.1 636.5,428.1 637.7,428.1 638.9,428 640.2,427.9 641.4,427.8 642.6,427.9 643.9,428.1 645.1,428 646.3,428.2 647.6,428.1 648.8,428.1 650,428.1 651.3,428.2 652.5,428.3 653.7,428.3 655,428.4 656.2,428.4 657.4,428.5 658.7,428.2 659.9,428.4 661.1,428.4 662.4,428.4 663.6,428.4"/><polyline points="492.2,402.4 493.4,392.6 494.7,387.7 495.9,387.7 497.1,389.4 498.4,394 499.6,398.1 500.8,402.8 502.1,405 503.3,405 504.5,403.7 505.8,404.6 507,405 508.2,407.5 509.5,408.1 510.7,407.4 511.9,407.7 513.2,410.6 514.4,412.3 515.6,411.5 516.9,410.5 518.1,411 519.3,413.3 520.6,414.9 521.8,416.6 523,418.7 524.3,420 525.5,420.6 526.7,421.3 528,421.9 529.2,422.4 530.4,423 531.7,423.6 532.9,423.4 534.1,423.4 535.4,423.6 536.6,424 537.8,423.3 539.1,422.8 540.3,422.6 541.5,423.3 542.8,423.3 544,423.5 545.2,423.9 546.5,424.6 547.7,424.8 548.9,425 550.2,425.3 551.4,425.7 552.6,425.8 553.9,425.9 555.1,426.1 556.3,426.6 557.6,426.3 558.8,426.2 560,426.3 561.3,426.7 562.5,426.6 563.7,426.8 565,426.7 566.2,426.4 567.4,426.6 568.7,426.7 569.9,426.9 571.1,427 572.4,427 573.6,426.9 574.8,426.9 576.1,426.9 577.3,427.2 578.5,427.3 579.7,427.3 581,427.3 582.2,427.4 583.4,427.5 584.7,427.5 585.9,427.4 587.1,427.3 588.4,427.4 589.6,427.6 590.8,427.6 592.1,427.5 593.3,427.5 594.5,427.3 595.8,427.6 597,427.7 598.2,427.8 599.5,428 600.7,427.8 601.9,427.7 603.2,427.7 604.4,427.8 605.6,427.6 606.9,427.7 608.1,427.6 609.3,427.7 610.6,427.6 611.8,427.7 613,427.9 614.3,428.1 615.5,428 616.7,428 618,427.8 619.2,427.9 620.4,427.9 621.7,427.8 622.9,427.9 624.1,428.1 625.4,427.8 626.6,427.8 627.8,428 629.1,428 630.3,428.1 631.5,428 632.8,428.1 634,428.2 635.2,428 636.5,428.2 637.7,428.3 638.9,428.2 640.2,428.2 641.4,428.4 642.6,428.4 643.9,428.2 645.1,428.4 646.3,428.2 647.6,428.5 648.8,428.5 650,428.1 651.3,428.6 652.5,428.4 653.7,428.4 655,428.6 656.2,428.6 657.4,428.5 658.7,428.5 659.9,428.6 661.1,428.6 662.4,428.7 663.6,428.7"/><polyline points="492.2,407.8 493.4,399.3 494.7,396.8 495.9,398.1 497.1,399.7 498.4,401.1 499.6,403.4 500.8,406.1 502.1,408.2 503.3,407.2 504.5,407.3 505.8,408.8 507,409.3 508.2,408.5 509.5,409.2 510.7,411 511.9,411.2 513.2,411.7 514.4,412 515.6,412.9 516.9,412.1 518.1,411.3 519.3,411.3 520.6,413.3 521.8,415.4 523,418 524.3,419.7 525.5,420.9 526.7,422 528,422.7 529.2,423 530.4,422.5 531.7,423.1 532.9,423.3 534.1,423.4 535.4,423.1 536.6,423.5 537.8,423.7 539.1,423.8 540.3,423.2 541.5,422.9 542.8,423.3 544,423.5 545.2,424 546.5,423.9 547.7,424.2 548.9,424.9 550.2,425.1 551.4,425.4 552.6,425.3 553.9,425.8 555.1,425.9 556.3,426.4 557.6,426.9 558.8,426.7 560,426.8 561.3,426.6 562.5,426.3 563.7,426.3 565,426.1 566.2,426.6 567.4,426.9 568.7,427.1 569.9,426.9 571.1,426.6 572.4,426.9 573.6,426.8 574.8,426.8 576.1,427.2 577.3,427.2 578.5,427.3 579.7,427.2 581,427.1 582.2,427.2 583.4,427.4 584.7,427.4 585.9,427.5 587.1,427.8 588.4,427.4 589.6,427.5 590.8,427.4 592.1,427.5 593.3,427.7 594.5,427.7 595.8,427.8 597,427.6 598.2,427.6 599.5,427.6 600.7,427.7 601.9,427.7 603.2,427.7 604.4,427.6 605.6,427.7 606.9,427.8 608.1,427.8 609.3,427.8 610.6,427.7 611.8,427.9 613,427.9 614.3,427.9 615.5,427.7 616.7,428 618,428 619.2,427.9 620.4,428 621.7,427.8 622.9,428 624.1,427.9 625.4,428.1 626.6,428.1 627.8,428.2 629.1,428.2 630.3,427.9 631.5,428 632.8,428.1 634,428.1 635.2,428.2 636.5,428.2 637.7,428.1 638.9,428.2 640.2,428.2 641.4,428.2 642.6,428.4 643.9,428.3 645.1,428.3 646.3,428.4 647.6,428.5 648.8,428.4 650,428.3 651.3,428.5 652.5,428.5 653.7,428.6 655,428.5 656.2,428.5 657.4,428.6 658.7,428.6 659.9,428.6 661.1,428.7 662.4,428.6 663.6,428.5"/><polyline points="492.2,401.3 493.4,390.7 494.7,385.5 495.9,384 497.1,387.5 498.4,392.9 499.6,398.5 500.8,404 502.1,406.5 503.3,405.8 504.5,407.8 505.8,412 507,416 508.2,416.2 509.5,414.7 510.7,412.7 511.9,412.2 513.2,411.8 514.4,410.3 515.6,409.1 516.9,408.8 518.1,409.6 519.3,412.3 520.6,414.3 521.8,415.5 523,416.4 524.3,417.6 525.5,418.3 526.7,419.5 528,420.7 529.2,421.8 530.4,421.8 531.7,421.6 532.9,421.5 534.1,421.3 535.4,421.5 536.6,421.8 537.8,422.1 539.1,421.9 540.3,421.7 541.5,422.1 542.8,422.3 544,422.7 545.2,422.9 546.5,423.4 547.7,423.8 548.9,424.3 550.2,424.5 551.4,424.7 552.6,424.9 553.9,425.1 555.1,425.4 556.3,425.5 557.6,425.8 558.8,425.8 560,425.8 561.3,425.8 562.5,425.9 563.7,426.1 565,426 566.2,425.9 567.4,426.1 568.7,426.4 569.9,426.4 571.1,426.3 572.4,426.5 573.6,426.7 574.8,426.7 576.1,426.4 577.3,426.6 578.5,426.7 579.7,426.9 581,426.6 582.2,426.6 583.4,426.7 584.7,426.8 585.9,426.9 587.1,427.2 588.4,427.2 589.6,427 590.8,427.1 592.1,427.3 593.3,427.2 594.5,427.1 595.8,427.2 597,427.1 598.2,427.3 599.5,427.4 600.7,427.3 601.9,427.4 603.2,427.2 604.4,427.6 605.6,427.6 606.9,427.5 608.1,427.5 609.3,427.5 610.6,427.5 611.8,427.6 613,427.6 614.3,427.5 615.5,427.4 616.7,427.5 618,427.4 619.2,427.4 620.4,427.6 621.7,427.7 622.9,427.7 624.1,427.7 625.4,427.7 626.6,427.8 627.8,427.8 629.1,427.8 630.3,427.7 631.5,427.9 632.8,427.8 634,428 635.2,428.1 636.5,428.1 637.7,428 638.9,427.9 640.2,428.1 641.4,428 642.6,428.2 643.9,428.1 645.1,428.3 646.3,428.1 647.6,428.2 648.8,428.3 650,428.3 651.3,428.3 652.5,428.4 653.7,428.2 655,428.3 656.2,428.5 657.4,428.3 658.7,428.4 659.9,428.4 661.1,428.5 662.4,428.5 663.6,428.3"/><polyline points="492.2,393.4 493.4,381.4 494.7,376.3 495.9,378.4 497.1,383 498.4,388.6 499.6,392.9 500.8,399.1 502.1,404.3 503.3,404.3 504.5,401.5 505.8,399.1 507,399.5 508.2,401.9 509.5,403.9 510.7,407.1 511.9,409.3 513.2,410.7 514.4,409.9 515.6,409.4 516.9,408.6 518.1,407.8 519.3,407.1 520.6,406.5 521.8,406.3 523,407.5 524.3,409 525.5,411.9 526.7,414.7 528,416.7 529.2,418.5 530.4,420.2 531.7,421.4 532.9,422.5 534.1,422.8 535.4,422.8 536.6,423.1 537.8,423.7 539.1,423.7 540.3,423.7 541.5,423.3 542.8,422.7 544,422.7 545.2,423.1 546.5,423.8 547.7,424.1 548.9,424.6 550.2,424.9 551.4,425.3 552.6,425.3 553.9,425.5 555.1,425.7 556.3,425.7 557.6,425.8 558.8,425.9 560,426.4 561.3,426.6 562.5,426.7 563.7,426.5 565,426.3 566.2,426.3 567.4,426.4 568.7,426.3 569.9,426.8 571.1,426.7 572.4,426.7 573.6,426.5 574.8,426.6 576.1,426.7 577.3,426.9 578.5,426.9 579.7,427.1 581,427.1 582.2,427.1 583.4,427 584.7,427.2 585.9,427.3 587.1,427.3 588.4,427.3 589.6,427.2 590.8,427.3 592.1,427.2 593.3,427.2 594.5,427.5 595.8,427.6 597,427.5 598.2,427.5 599.5,427.7 600.7,427.5 601.9,427.5 603.2,427.5 604.4,427.5 605.6,427.5 606.9,427.6 608.1,427.6 609.3,427.4 610.6,427.5 611.8,427.8 613,427.8 614.3,427.5 615.5,427.8 616.7,427.8 618,427.9 619.2,427.9 620.4,427.9 621.7,427.9 622.9,427.8 624.1,427.9 625.4,427.8 626.6,427.9 627.8,428 629.1,428.1 630.3,428.1 631.5,428.2 632.8,428 634,428 635.2,428.1 636.5,428.1 637.7,428.1 638.9,428.1 640.2,428.3 641.4,428.2 642.6,428 643.9,428.2 645.1,428.1 646.3,428.3 647.6,428.3 648.8,428.3 650,428.3 651.3,428.3 652.5,428.4 653.7,428.3 655,428.2 656.2,428.3 657.4,428.3 658.7,428.6 659.9,428.4 661.1,428.6 662.4,428.6 663.6,428.7"/><polyline points="492.2,399.1 493.4,388.3 494.7,384.4 495.9,384.1 497.1,387.9 498.4,390.9 499.6,395.3 500.8,399.9 502.1,402.8 503.3,400.6 504.5,396.3 505.8,393.6 507,392.8 508.2,395.7 509.5,398.8 510.7,402.8 511.9,405.3 513.2,406.9 514.4,408.4 515.6,410.3 516.9,409.6 518.1,407.9 519.3,409.4 520.6,412.9 521.8,414.4 523,415.5 524.3,417.6 525.5,419.4 526.7,420.8 528,420.7 529.2,421.7 530.4,421.9 531.7,421.9 532.9,421.7 534.1,421.6 535.4,421.8 536.6,421.5 537.8,422.1 539.1,422.4 540.3,422.2 541.5,422.2 542.8,422.2 544,422.2 545.2,422.3 546.5,422.9 547.7,423.6 548.9,424.1 550.2,424.5 551.4,424.7 552.6,425.1 553.9,425.3 555.1,425.1 556.3,425.5 557.6,425.9 558.8,426.1 560,425.8 561.3,425.8 562.5,425.8 563.7,425.8 565,426 566.2,426.1 567.4,426.3 568.7,426.2 569.9,426.6 571.1,426.9 572.4,426.7 573.6,426.7 574.8,426.4 576.1,426.4 577.3,426.5 578.5,426.8 579.7,426.9 581,426.7 582.2,427.1 583.4,427 584.7,426.8 585.9,427 587.1,426.9 588.4,426.9 589.6,427.1 590.8,427.2 592.1,427.3 593.3,427.2 594.5,427 595.8,427.1 597,427.3 598.2,427.3 599.5,427.4 600.7,427.4 601.9,427.3 603.2,427.3 604.4,427.2 605.6,427.4 606.9,427.3 608.1,427.6 609.3,427.6 610.6,427.5 611.8,427.5 613,427.7 614.3,427.5 615.5,427.7 616.7,427.4 618,427.5 619.2,427.8 620.4,427.7 621.7,427.9 622.9,427.9 624.1,427.4 625.4,427.7 626.6,427.9 627.8,427.8 629.1,427.6 630.3,427.7 631.5,427.6 632.8,428 634,428.1 635.2,428.1 636.5,428.2 637.7,427.9 638.9,428.1 640.2,428.1 641.4,428.2 642.6,428.1 643.9,427.9 645.1,428.2 646.3,428.3 647.6,428.3 648.8,428.3 650,428.3 651.3,428.4 652.5,428.2 653.7,428.3 655,428.3 656.2,428.3 657.4,428.4 658.7,428.5 659.9,428.4 661.1,428.3 662.4,428.5 663.6,428.5"/><polyline points="492.2,372.7 493.4,351.2 494.7,344.7 495.9,348.4 497.1,359.4 498.4,369.2 499.6,376.8 500.8,387.2 502.1,394.9 503.3,398.4 504.5,399.2 505.8,396.5 507,395.4 508.2,398.3 509.5,402.4 510.7,403.7 511.9,401.6 513.2,399.4 514.4,397.6 515.6,396.5 516.9,397.4 518.1,398.1 519.3,401.9 520.6,406.7 521.8,411.9 523,414.3 524.3,415.1 525.5,416.2 526.7,418 528,418.6 529.2,419.1 530.4,419.7 531.7,420.2 532.9,420.1 534.1,420.5 535.4,420.6 536.6,420.3 537.8,419.6 539.1,419.6 540.3,420.2 541.5,420.9 542.8,420.9 544,420.9 545.2,421.2 546.5,421.2 547.7,421.8 548.9,422.5 550.2,423 551.4,423.3 552.6,423.8 553.9,423.7 555.1,424.6 556.3,424.8 557.6,425.2 558.8,425.2 560,425.4 561.3,425.5 562.5,425.4 563.7,425.4 565,425.3 566.2,425.2 567.4,425.4 568.7,425.5 569.9,425.6 571.1,425.9 572.4,426 573.6,425.8 574.8,425.7 576.1,425.8 577.3,425.8 578.5,426 579.7,426.2 581,426.3 582.2,426.2 583.4,426.3 584.7,426.5 585.9,426.4 587.1,426.5 588.4,426.7 589.6,426.7 590.8,426.9 592.1,426.9 593.3,426.7 594.5,426.7 595.8,426.8 597,426.8 598.2,426.6 599.5,426.7 600.7,427 601.9,427 603.2,426.9 604.4,427.2 605.6,427.2 606.9,427.1 608.1,427.1 609.3,427 610.6,427.2 611.8,427.4 613,427.4 614.3,427.3 615.5,427.3 616.7,427.2 618,427.1 619.2,427 620.4,427.1 621.7,427.2 622.9,427.5 624.1,427.4 625.4,427.6 626.6,427.6 627.8,427.6 629.1,427.5 630.3,427.5 631.5,427.5 632.8,427.5 634,427.6 635.2,427.7 636.5,427.6 637.7,427.8 638.9,428 640.2,427.9 641.4,427.9 642.6,428 643.9,427.8 645.1,427.8 646.3,428 647.6,428.1 648.8,428 650,428 651.3,428 652.5,427.9 653.7,428.2 655,428.2 656.2,428 657.4,428.2 658.7,428.1 659.9,428.1 661.1,428.2 662.4,428.3 663.6,428.4"/><polyline points="492.2,394.2 493.4,383.5 494.7,377.6 495.9,374 497.1,375.4 498.4,383.8 499.6,392.4 500.8,399 502.1,402.2 503.3,401.7 504.5,402.4 505.8,404.5 507,407 508.2,407.7 509.5,407.5 510.7,406.3 511.9,403.5 513.2,398.8 514.4,396.1 515.6,396.3 516.9,396.9 518.1,397 519.3,401 520.6,404.9 521.8,409.6 523,411.9 524.3,414.6 525.5,415.3 526.7,417.5 528,418.6 529.2,419.1 530.4,419.6 531.7,420.3 532.9,420.6 534.1,420.1 535.4,419.7 536.6,419.5 537.8,420.3 539.1,420.4 540.3,420.6 541.5,420.9 542.8,421.2 544,420.9 545.2,421.2 546.5,422 547.7,422.7 548.9,423.1 550.2,423.5 551.4,423.8 552.6,424.2 553.9,424.4 555.1,424.7 556.3,425.2 557.6,425.3 558.8,425.2 560,425 561.3,425 562.5,425.1 563.7,425.2 565,425.3 566.2,425.6 567.4,425.4 568.7,425.6 569.9,425.7 571.1,425.6 572.4,425.6 573.6,425.6 574.8,426.1 576.1,426.1 577.3,426.3 578.5,426.4 579.7,426.4 581,426.2 582.2,426.5 583.4,426.4 584.7,426.6 585.9,426.6 587.1,426.8 588.4,426.7 589.6,426.8 590.8,426.8 592.1,426.6 593.3,426.6 594.5,427 595.8,426.8 597,427.1 598.2,426.9 599.5,426.7 600.7,427 601.9,427.1 603.2,427.2 604.4,427.2 605.6,427 606.9,426.9 608.1,427.2 609.3,427.3 610.6,427.2 611.8,427.2 613,427.3 614.3,427.3 615.5,427 616.7,427.2 618,427.4 619.2,427.4 620.4,427.3 621.7,427.3 622.9,427.6 624.1,427.7 625.4,427.8 626.6,427.6 627.8,427.5 629.1,427.6 630.3,427.6 631.5,427.3 632.8,427.8 634,427.7 635.2,427.9 636.5,427.8 637.7,427.8 638.9,427.9 640.2,427.9 641.4,428 642.6,427.8 643.9,427.5 645.1,427.9 646.3,428.1 647.6,428 648.8,428.1 650,428 651.3,428 652.5,428.1 653.7,428.3 655,428.3 656.2,428.3 657.4,428.3 658.7,428.3 659.9,428.4 661.1,428.4 662.4,428.4 663.6,428.4"/><polyline points="492.2,396.7 493.4,386 494.7,381 495.9,381.1 497.1,382.6 498.4,386.1 499.6,392.1 500.8,398 502.1,402.6 503.3,404.4 504.5,406.1 505.8,407.8 507,409 508.2,410.5 509.5,410.8 510.7,411.9 511.9,411.8 513.2,411.6 514.4,410.3 515.6,410.4 516.9,410.1 518.1,409.6 519.3,410.2 520.6,411.9 521.8,413.9 523,416.4 524.3,418.2 525.5,420.1 526.7,421.1 528,421.1 529.2,421.1 530.4,422.4 531.7,422.8 532.9,422.7 534.1,422 535.4,422.2 536.6,422.8 537.8,423.1 539.1,423.8 540.3,423.2 541.5,422.8 542.8,422.5 544,422.7 545.2,422.9 546.5,423.4 547.7,424.4 548.9,424.7 550.2,425.2 551.4,425.3 552.6,425.3 553.9,425.2 555.1,425.4 556.3,425.9 557.6,426.3 558.8,426.1 560,426.1 561.3,426 562.5,426.4 563.7,426.6 565,426.4 566.2,426.5 567.4,426.4 568.7,426.6 569.9,426.6 571.1,426.6 572.4,426.8 573.6,426.9 574.8,427 576.1,427.2 577.3,427.2 578.5,426.9 579.7,426.8 581,426.6 582.2,427 583.4,427 584.7,426.9 585.9,426.8 587.1,427.1 588.4,427.3 589.6,427.2 590.8,427.3 592.1,427.3 593.3,427.3 594.5,427.3 595.8,427.2 597,427.3 598.2,427.5 599.5,427.5 600.7,427.6 601.9,427.5 603.2,427.4 604.4,427.6 605.6,427.7 606.9,427.4 608.1,427.6 609.3,427.8 610.6,427.7 611.8,427.4 613,427.8 614.3,427.8 615.5,427.7 616.7,427.7 618,427.6 619.2,427.8 620.4,427.9 621.7,428 622.9,427.8 624.1,427.9 625.4,427.7 626.6,427.9 627.8,427.7 629.1,428 630.3,428.1 631.5,427.9 632.8,427.8 634,427.9 635.2,428 636.5,428 637.7,428 638.9,428.3 640.2,428.1 641.4,428.1 642.6,428.2 643.9,428.2 645.1,428.2 646.3,428.3 647.6,428.3 648.8,428.2 650,428.2 651.3,428.4 652.5,428.3 653.7,428.3 655,428.3 656.2,428.5 657.4,428.5 658.7,428.6 659.9,428.5 661.1,428.5 662.4,428.6 663.6,428.5"/><polyline points="492.2,401.9 493.4,391.7 494.7,387.4 495.9,385.5 497.1,389.6 498.4,395.1 499.6,401.1 500.8,406.3 502.1,411.3 503.3,412.8 504.5,413.3 505.8,413.4 507,413.9 508.2,414.1 509.5,413.3 510.7,412.7 511.9,411.8 513.2,410.6 514.4,409 515.6,407.9 516.9,408.1 518.1,409.8 519.3,412.9 520.6,415.2 521.8,416.4 523,418 524.3,419.9 525.5,421.7 526.7,423 528,423.4 529.2,423 530.4,423.2 531.7,423.6 532.9,423.8 534.1,423.7 535.4,423.6 536.6,423.5 537.8,423.9 539.1,424 540.3,424.2 541.5,424 542.8,424 544,424.2 545.2,424.7 546.5,424.9 547.7,425.1 548.9,425.2 550.2,425.6 551.4,425.8 552.6,425.7 553.9,426.1 555.1,426.4 556.3,426.6 557.6,426.5 558.8,426.4 560,426.7 561.3,426.8 562.5,426.6 563.7,427.2 565,427.1 566.2,427 567.4,426.8 568.7,426.8 569.9,427 571.1,427.1 572.4,427.2 573.6,427.3 574.8,427.2 576.1,427.1 577.3,427.3 578.5,427.3 579.7,427.3 581,427.4 582.2,427.2 583.4,427.4 584.7,427.6 585.9,427.7 587.1,427.5 588.4,427.4 589.6,427.5 590.8,427.7 592.1,427.8 593.3,427.7 594.5,427.7 595.8,427.7 597,427.6 598.2,427.8 599.5,427.8 600.7,428 601.9,427.9 603.2,428 604.4,427.8 605.6,427.8 606.9,427.9 608.1,428 609.3,427.9 610.6,427.9 611.8,427.7 613,428 614.3,428.1 615.5,428 616.7,427.9 618,428.1 619.2,428.1 620.4,428.2 621.7,428.3 622.9,428 624.1,428.1 625.4,428.2 626.6,428.4 627.8,428.3 629.1,428.3 630.3,428.2 631.5,428.2 632.8,428.4 634,428.3 635.2,428.4 636.5,428.3 637.7,428.3 638.9,428.4 640.2,428.5 641.4,428.4 642.6,428.4 643.9,428.2 645.1,428.1 646.3,428.4 647.6,428.5 648.8,428.5 650,428.6 651.3,428.3 652.5,428.5 653.7,428.5 655,428.6 656.2,428.6 657.4,428.7 658.7,428.7 659.9,428.7 661.1,428.7 662.4,428.7 663.6,428.7"/><polyline points="492.2,400.7 493.4,392.2 494.7,387.5 495.9,385 497.1,387.5 498.4,393.5 499.6,397.9 500.8,401.6 502.1,405.3 503.3,406.5 504.5,407.2 505.8,407.8 507,409.4 508.2,412.2 509.5,412.5 510.7,411.7 511.9,410.3 513.2,410.8 514.4,409.6 515.6,407.7 516.9,406.5 518.1,407.2 519.3,408.3 520.6,407.3 521.8,407 523,408.9 524.3,412.1 525.5,416.5 526.7,418.9 528,420.3 529.2,420.6 530.4,421.2 531.7,421.7 532.9,422.4 534.1,422.9 535.4,422.7 536.6,422 537.8,422.4 539.1,422.9 540.3,422.4 541.5,422.5 542.8,423.1 544,423.6 545.2,423.7 546.5,424.1 547.7,424.1 548.9,424.3 550.2,424.5 551.4,425 552.6,425.5 553.9,425.5 555.1,425.1 556.3,425.8 557.6,426.3 558.8,426.5 560,426.3 561.3,426.1 562.5,426.4 563.7,426.3 565,426.4 566.2,426.5 567.4,426.5 568.7,426.7 569.9,426.3 571.1,426.6 572.4,426.5 573.6,426.6 574.8,426.8 576.1,426.9 577.3,427 578.5,426.8 579.7,426.8 581,426.8 582.2,427 583.4,427.2 584.7,427.1 585.9,427.4 587.1,427.3 588.4,427.3 589.6,427.3 590.8,427.2 592.1,427.3 593.3,427.2 594.5,427.5 595.8,427.4 597,427.2 598.2,427.4 599.5,427.5 600.7,427.3 601.9,427.4 603.2,427.4 604.4,427.6 605.6,427.6 606.9,427.6 608.1,427.7 609.3,427.4 610.6,427.5 611.8,427.6 613,427.7 614.3,427.7 615.5,427.7 616.7,427.8 618,427.8 619.2,428 620.4,427.9 621.7,427.5 622.9,427.7 624.1,427.5 625.4,427.8 626.6,427.7 627.8,427.8 629.1,427.9 630.3,427.8 631.5,428.1 632.8,428 634,428 635.2,428 636.5,428.1 637.7,428.1 638.9,428.1 640.2,428 641.4,428.2 642.6,428 643.9,428.2 645.1,428.2 646.3,428.3 647.6,428.3 648.8,428.2 650,428.1 651.3,428.4 652.5,428.3 653.7,428.4 655,428.3 656.2,428.4 657.4,428.4 658.7,428.5 659.9,428.4 661.1,428.5 662.4,428.5 663.6,428.7"/><polyline points="492.2,396.4 493.4,385.1 494.7,380.3 495.9,381.5 497.1,385.3 498.4,392.1 499.6,397.8 500.8,401.8 502.1,405.2 503.3,406.7 504.5,408.9 505.8,410.8 507,413.1 508.2,415.2 509.5,414.4 510.7,412.7 511.9,411.3 513.2,410.9 514.4,410.7 515.6,410.7 516.9,411 518.1,411.2 519.3,412.6 520.6,414.6 521.8,415.9 523,416.8 524.3,417.7 525.5,418.8 526.7,419.9 528,420.1 529.2,420.7 530.4,421.6 531.7,422 532.9,422.1 534.1,421.5 535.4,422.1 536.6,422 537.8,421.7 539.1,421.3 540.3,421.8 541.5,422.3 542.8,422.3 544,422.1 545.2,422.9 546.5,423.1 547.7,423.5 548.9,424.3 550.2,424.9 551.4,424.9 552.6,424.9 553.9,425.6 555.1,425.7 556.3,425.8 557.6,425.9 558.8,426 560,425.9 561.3,425.7 562.5,426 563.7,425.9 565,426.1 566.2,426.1 567.4,425.9 568.7,425.9 569.9,426.3 571.1,426.3 572.4,426.5 573.6,426.4 574.8,426.7 576.1,426.9 577.3,426.7 578.5,426.7 579.7,426.5 581,426.9 582.2,427.1 583.4,427.2 584.7,427.2 585.9,427.2 587.1,427.3 588.4,427.3 589.6,427.2 590.8,427.1 592.1,427 593.3,426.9 594.5,427.4 595.8,427.3 597,427.3 598.2,427.2 599.5,427.4 600.7,427.4 601.9,427.4 603.2,427.4 604.4,427.7 605.6,427.7 606.9,427.5 608.1,427.6 609.3,427.6 610.6,427.5 611.8,427.5 613,427.1 614.3,427.5 615.5,427.6 616.7,427.8 618,427.6 619.2,427.4 620.4,427.6 621.7,427.9 622.9,427.8 624.1,427.7 625.4,427.8 626.6,427.9 627.8,427.9 629.1,427.9 630.3,427.8 631.5,428 632.8,428.1 634,428.2 635.2,427.9 636.5,427.9 637.7,428.1 638.9,428.1 640.2,428.1 641.4,428.2 642.6,428 643.9,428.1 645.1,428.1 646.3,428.2 647.6,428.4 648.8,428.2 650,428.1 651.3,428.3 652.5,428.2 653.7,428.4 655,428.5 656.2,428.5 657.4,428.4 658.7,428.5 659.9,428.5 661.1,428.4 662.4,428.6 663.6,428.4"/><polyline points="492.2,404 493.4,395 494.7,392 495.9,393.3 497.1,395.4 498.4,399.3 499.6,402.4 500.8,406.9 502.1,409.3 503.3,410 504.5,411.5 505.8,413.5 507,416.1 508.2,417.7 509.5,418.5 510.7,417.6 511.9,416 513.2,414.6 514.4,414.7 515.6,413.9 516.9,413.2 518.1,412.1 519.3,414 520.6,415.7 521.8,417.5 523,419 524.3,420.3 525.5,421.6 526.7,422.7 528,423.5 529.2,423.4 530.4,423.2 531.7,423.4 532.9,423.2 534.1,423.8 535.4,423.6 536.6,423.5 537.8,423.7 539.1,423.8 540.3,423.6 541.5,423.8 542.8,423.6 544,423.8 545.2,424.1 546.5,424.4 547.7,424.9 548.9,425.1 550.2,425.6 551.4,425.9 552.6,426 553.9,425.8 555.1,426 556.3,426.3 557.6,426.5 558.8,426.8 560,426.6 561.3,426.7 562.5,426.6 563.7,426.6 565,426.8 566.2,426.7 567.4,426.7 568.7,426.8 569.9,426.5 571.1,426.9 572.4,427 573.6,427.1 574.8,426.9 576.1,427.1 577.3,427.2 578.5,427.4 579.7,427.3 581,427.3 582.2,427.2 583.4,427.4 584.7,427.4 585.9,427.3 587.1,427.5 588.4,427.3 589.6,427.4 590.8,427.6 592.1,427.5 593.3,427.6 594.5,427.7 595.8,427.7 597,427.8 598.2,427.6 599.5,427.6 600.7,427.6 601.9,427.8 603.2,427.7 604.4,427.8 605.6,427.7 606.9,427.9 608.1,427.9 609.3,427.8 610.6,427.9 611.8,427.9 613,427.8 614.3,427.7 615.5,428 616.7,428 618,428 619.2,427.8 620.4,427.9 621.7,427.9 622.9,428.1 624.1,428 625.4,428 626.6,428 627.8,428.1 629.1,428.2 630.3,428.1 631.5,428 632.8,428.2 634,428.3 635.2,428.2 636.5,428.3 637.7,428.3 638.9,428.2 640.2,428.2 641.4,428.1 642.6,428.4 643.9,428.4 645.1,428.2 646.3,428.3 647.6,428.2 648.8,428.4 650,428.4 651.3,428.5 652.5,428.5 653.7,428.4 655,428.6 656.2,428.5 657.4,428.7 658.7,428.7 659.9,428.8 661.1,428.7 662.4,428.4 663.6,428.7"/><polyline points="492.2,404.4 493.4,396.4 494.7,391.6 495.9,388.7 497.1,390 498.4,396.8 499.6,402.4 500.8,405.5 502.1,406.6 503.3,404.5 504.5,403.3 505.8,403.8 507,407.2 508.2,408.5 509.5,407.4 510.7,406.6 511.9,408.5 513.2,409.4 514.4,407.7 515.6,406.7 516.9,406.6 518.1,407 519.3,409.9 520.6,412.7 521.8,413.6 523,413.9 524.3,415.3 525.5,418.3 526.7,419.9 528,420.7 529.2,420.9 530.4,421.6 531.7,421.8 532.9,421.6 534.1,422.1 535.4,422.3 536.6,422.1 537.8,421.7 539.1,421.8 540.3,422.1 541.5,422.2 542.8,422.1 544,422.5 545.2,423 546.5,423.8 547.7,423.7 548.9,423.8 550.2,423.9 551.4,424.4 552.6,424.6 553.9,424.9 555.1,425.6 556.3,425.9 557.6,426 558.8,426 560,426 561.3,425.8 562.5,425.8 563.7,426 565,426.1 566.2,426.3 567.4,426.5 568.7,426.4 569.9,426.4 571.1,426.4 572.4,426.7 573.6,426.7 574.8,426.4 576.1,426.5 577.3,426.5 578.5,426.5 579.7,426.7 581,426.7 582.2,427 583.4,427.1 584.7,427.2 585.9,427.3 587.1,427.2 588.4,427.1 589.6,427.1 590.8,427.1 592.1,427.3 593.3,427.4 594.5,427.1 595.8,427.3 597,427.5 598.2,427.6 599.5,427.6 600.7,427.3 601.9,427.6 603.2,427.2 604.4,427 605.6,427.2 606.9,427.3 608.1,427.4 609.3,427.4 610.6,427.7 611.8,427.4 613,427.6 614.3,427.4 615.5,427.6 616.7,427.5 618,427.6 619.2,427.6 620.4,427.9 621.7,428 622.9,428 624.1,427.8 625.4,427.6 626.6,427.6 627.8,427.9 629.1,428 630.3,428 631.5,427.9 632.8,427.9 634,427.9 635.2,428 636.5,428.1 637.7,428 638.9,428 640.2,427.9 641.4,428.1 642.6,428.1 643.9,428.2 645.1,428.3 646.3,428.2 647.6,428.3 648.8,428.2 650,428.2 651.3,428.4 652.5,428.5 653.7,428.1 655,428.3 656.2,428.3 657.4,428.2 658.7,428.4 659.9,428.3 661.1,428.4 662.4,428.6 663.6,428.5"/><polyline points="492.2,378.7 493.4,356.2 494.7,349.6 495.9,348.9 497.1,362.5 498.4,374.6 499.6,384.3 500.8,393 502.1,398.5 503.3,400.1 504.5,400.2 505.8,402.7 507,406.9 508.2,409.6 509.5,409.4 510.7,408.6 511.9,408.8 513.2,407.9 514.4,406.5 515.6,404 516.9,403.6 518.1,404.1 519.3,407.7 520.6,410.2 521.8,412.3 523,414.4 524.3,415 525.5,416.2 526.7,417.7 528,418.4 529.2,418.7 530.4,419.7 531.7,420.8 532.9,420.8 534.1,421.7 535.4,421.1 536.6,420.6 537.8,420.4 539.1,420.7 540.3,420.6 541.5,420.7 542.8,420.3 544,420.7 545.2,421.2 546.5,421.7 547.7,422.4 548.9,423 550.2,423 551.4,423.2 552.6,423.4 553.9,423.7 555.1,423.6 556.3,424.1 557.6,425 558.8,425.4 560,425.4 561.3,425.3 562.5,425.2 563.7,425.4 565,425.6 566.2,426.1 567.4,425.8 568.7,425.8 569.9,425.7 571.1,426.2 572.4,426 573.6,426.3 574.8,426 576.1,426.1 577.3,425.7 578.5,425.8 579.7,426.3 581,426.3 582.2,426.6 583.4,426.8 584.7,426.7 585.9,426.6 587.1,426.8 588.4,426.7 589.6,426.6 590.8,426.7 592.1,426.9 593.3,426.6 594.5,426.7 595.8,426.7 597,426.5 598.2,426.8 599.5,426.9 600.7,426.9 601.9,427.1 603.2,427.1 604.4,427.1 605.6,427.1 606.9,427.1 608.1,427 609.3,427.2 610.6,427.2 611.8,427.1 613,427.1 614.3,427.3 615.5,427.3 616.7,427.3 618,427.4 619.2,427.5 620.4,427.6 621.7,427.1 622.9,427.2 624.1,427.1 625.4,427.4 626.6,427.4 627.8,427.5 629.1,427.4 630.3,427.7 631.5,427.7 632.8,427.6 634,427.6 635.2,427.9 636.5,427.9 637.7,427.6 638.9,427.8 640.2,427.8 641.4,427.9 642.6,428 643.9,427.8 645.1,427.8 646.3,428 647.6,427.9 648.8,428 650,427.8 651.3,428.1 652.5,428.2 653.7,428.2 655,428.2 656.2,428.2 657.4,427.9 658.7,428.3 659.9,428.3 661.1,428.3 662.4,428.2 663.6,428.2"/><polyline points="492.2,406.3 493.4,396.7 494.7,389.3 495.9,387.5 497.1,392.7 498.4,399.3 499.6,401.6 500.8,403.4 502.1,405.6 503.3,405.1 504.5,403.7 505.8,401.3 507,398.3 508.2,396.3 509.5,394.8 510.7,392.2 511.9,391 513.2,392.8 514.4,396 515.6,400.9 516.9,404.4 518.1,406 519.3,409.9 520.6,413.4 521.8,416.6 523,418.2 524.3,419.5 525.5,419.7 526.7,420.8 528,421.2 529.2,421.8 530.4,422 531.7,422.2 532.9,422.3 534.1,422.8 535.4,422.8 536.6,422.7 537.8,422.9 539.1,422.8 540.3,423 541.5,423.2 542.8,423 544,423 545.2,423.7 546.5,424 547.7,424.4 548.9,425.1 550.2,425.6 551.4,425.9 552.6,426.1 553.9,425.9 555.1,425.8 556.3,425.9 557.6,426.2 558.8,426.2 560,426.4 561.3,426.6 562.5,426.5 563.7,426.6 565,426.6 566.2,426.5 567.4,426.6 568.7,426.4 569.9,426.6 571.1,426.8 572.4,427 573.6,426.9 574.8,426.9 576.1,427 577.3,427.1 578.5,427 579.7,427.1 581,427 582.2,427.3 583.4,427.3 584.7,427.1 585.9,427.2 587.1,427.2 588.4,427.1 589.6,427.2 590.8,427.3 592.1,427.5 593.3,427.5 594.5,427.5 595.8,427.5 597,427.4 598.2,427.5 599.5,427.5 600.7,427.7 601.9,427.8 603.2,427.7 604.4,427.4 605.6,427.5 606.9,427.7 608.1,427.7 609.3,427.6 610.6,427.6 611.8,427.6 613,427.7 614.3,427.8 615.5,427.8 616.7,427.6 618,427.9 619.2,428 620.4,427.9 621.7,427.9 622.9,427.9 624.1,428 625.4,427.8 626.6,427.9 627.8,427.9 629.1,428 630.3,428 631.5,428.1 632.8,427.8 634,428.1 635.2,428 636.5,428.2 637.7,428.1 638.9,428.2 640.2,428.2 641.4,427.9 642.6,428.4 643.9,428 645.1,428.4 646.3,428.2 647.6,428.2 648.8,428.2 650,428.3 651.3,428.3 652.5,428.4 653.7,428.4 655,428.4 656.2,428.2 657.4,428.6 658.7,428.6 659.9,428.4 661.1,428.6 662.4,428.6 663.6,428.7"/><polyline points="492.2,391.3 493.4,378.2 494.7,375.5 495.9,376.3 497.1,381.9 498.4,387.7 499.6,395.2 500.8,400.8 502.1,405.2 503.3,405.4 504.5,404.4 505.8,402.4 507,401.3 508.2,400.9 509.5,398.1 510.7,397.8 511.9,399 513.2,401.9 514.4,404.8 515.6,407 516.9,408.5 518.1,409.4 519.3,412.3 520.6,413.8 521.8,416.1 523,417.2 524.3,418.3 525.5,419.7 526.7,421.1 528,421.9 529.2,422.3 530.4,422.4 531.7,422.1 532.9,422.2 534.1,422.2 535.4,422.3 536.6,422.7 537.8,423.2 539.1,423.2 540.3,423 541.5,422.8 542.8,423.2 544,423 545.2,423.4 546.5,423.5 547.7,424 548.9,424.8 550.2,425.3 551.4,425.7 552.6,425.9 553.9,425.9 555.1,425.7 556.3,425.8 557.6,426 558.8,426.1 560,426.4 561.3,426.4 562.5,426.4 563.7,426.6 565,426.4 566.2,426.7 567.4,426.6 568.7,426.6 569.9,426.6 571.1,426.8 572.4,426.6 573.6,426.8 574.8,427 576.1,427 577.3,426.9 578.5,426.6 579.7,426.7 581,427.2 582.2,427.3 583.4,427.3 584.7,427.2 585.9,427.3 587.1,427.1 588.4,427.2 589.6,427.1 590.8,427.3 592.1,427.4 593.3,427.4 594.5,427.5 595.8,427.5 597,427.3 598.2,427.5 599.5,427.3 600.7,427.5 601.9,427.7 603.2,427.5 604.4,427.2 605.6,427.6 606.9,427.7 608.1,427.8 609.3,427.4 610.6,427.6 611.8,427.8 613,427.8 614.3,427.9 615.5,427.8 616.7,427.9 618,427.9 619.2,427.7 620.4,427.9 621.7,428 622.9,427.9 624.1,427.9 625.4,427.9 626.6,427.9 627.8,427.8 629.1,428.1 630.3,428.1 631.5,428.2 632.8,428.2 634,428.1 635.2,428 636.5,428.1 637.7,428.1 638.9,428.1 640.2,428.2 641.4,428.1 642.6,428.4 643.9,428.1 645.1,428.4 646.3,428.2 647.6,428.3 648.8,428.4 650,428.2 651.3,428.4 652.5,428.5 653.7,428.3 655,428.2 656.2,428.5 657.4,428.4 658.7,428.5 659.9,428.5 661.1,428.4 662.4,428.6 663.6,428.6"/><polyline points="492.2,387.3 493.4,373 494.7,370.2 495.9,369.4 497.1,374.4 498.4,380 499.6,387.1 500.8,394.4 502.1,400.1 503.3,403 504.5,407.6 505.8,413.3 507,416.3 508.2,416.7 509.5,412.4 510.7,405.6 511.9,398.2 513.2,393.3 514.4,390.2 515.6,386 516.9,384.3 518.1,385.6 519.3,394.9 520.6,401.1 521.8,404.3 523,408.7 524.3,412.8 525.5,416.6 526.7,417.9 528,418.6 529.2,418.4 530.4,419 531.7,419.7 532.9,420.2 534.1,420.6 535.4,420.5 536.6,421 537.8,421.2 539.1,422.1 540.3,421.3 541.5,420.6 542.8,420.4 544,421 545.2,421.3 546.5,421.8 547.7,422.4 548.9,423.1 550.2,423.7 551.4,424.4 552.6,424.6 553.9,424.1 555.1,424.3 556.3,424.9 557.6,425.1 558.8,425.2 560,425 561.3,424.8 562.5,424.8 563.7,425.2 565,425.2 566.2,425.4 567.4,425.5 568.7,425.8 569.9,425.8 571.1,425.6 572.4,425.5 573.6,425.6 574.8,425.7 576.1,425.9 577.3,425.8 578.5,426 579.7,426.2 581,426 582.2,426.3 583.4,426.2 584.7,426.5 585.9,426.5 587.1,426.5 588.4,426.4 589.6,426.3 590.8,426.6 592.1,426.7 593.3,426.5 594.5,426.4 595.8,426.3 597,426.5 598.2,426.8 599.5,426.6 600.7,426.6 601.9,426.7 603.2,426.8 604.4,426.9 605.6,426.9 606.9,427 608.1,427.1 609.3,427.1 610.6,427 611.8,426.8 613,426.9 614.3,427.1 615.5,427.1 616.7,427 618,426.9 619.2,427 620.4,427.2 621.7,427.2 622.9,427.2 624.1,427.4 625.4,427.5 626.6,427.5 627.8,427.4 629.1,427.5 630.3,427.5 631.5,427.7 632.8,427.5 634,427.7 635.2,427.7 636.5,427.4 637.7,427.7 638.9,427.7 640.2,427.9 641.4,427.8 642.6,428 643.9,427.8 645.1,427.9 646.3,428 647.6,428.3 648.8,428.2 650,427.9 651.3,428 652.5,428.1 653.7,428.2 655,428 656.2,428.2 657.4,428.3 658.7,428.3 659.9,428.1 661.1,428.5 662.4,428.3 663.6,428.2"/><polyline points="492.2,408.2 493.4,400.2 494.7,397.6 495.9,398.3 497.1,400.1 498.4,404.2 499.6,407.7 500.8,411 502.1,412.8 503.3,412.9 504.5,413 505.8,413.8 507,415.4 508.2,416.4 509.5,416.1 510.7,415.4 511.9,415.1 513.2,414.4 514.4,414.3 515.6,414.2 516.9,414.2 518.1,413.3 519.3,415.3 520.6,415.9 521.8,417.1 523,417.6 524.3,419.8 525.5,421.6 526.7,422.3 528,422.5 529.2,423.1 530.4,423.4 531.7,423.5 532.9,423.5 534.1,423.5 535.4,423.9 536.6,424.3 537.8,424.3 539.1,423.9 540.3,424.3 541.5,424.3 542.8,424.5 544,424.6 545.2,424.6 546.5,424.8 547.7,425.2 548.9,425.5 550.2,425.7 551.4,425.7 552.6,426.1 553.9,426.5 555.1,426.8 556.3,427 557.6,426.9 558.8,427 560,426.7 561.3,426.9 562.5,427.2 563.7,427.3 565,426.9 566.2,426.7 567.4,427 568.7,426.6 569.9,427.1 571.1,426.8 572.4,427 573.6,427.3 574.8,427.2 576.1,427.2 577.3,427.1 578.5,427.3 579.7,427.7 581,427.6 582.2,427.4 583.4,427.4 584.7,427.3 585.9,427.3 587.1,427.6 588.4,427.5 589.6,427.8 590.8,427.8 592.1,427.9 593.3,427.8 594.5,427.9 595.8,428 597,428 598.2,427.9 599.5,428 600.7,427.9 601.9,428 603.2,428.1 604.4,428.1 605.6,428 606.9,427.9 608.1,428 609.3,427.9 610.6,428 611.8,428.1 613,428 614.3,428 615.5,428 616.7,428 618,428.2 619.2,428.1 620.4,428.2 621.7,428.3 622.9,428 624.1,428.1 625.4,428.1 626.6,428.2 627.8,428.3 629.1,428.4 630.3,428.3 631.5,428.2 632.8,428.3 634,428.4 635.2,428.4 636.5,428.4 637.7,428.4 638.9,428.2 640.2,428.5 641.4,428.2 642.6,428.4 643.9,428.3 645.1,428.5 646.3,428.4 647.6,428.6 648.8,428.5 650,428.6 651.3,428.6 652.5,428.6 653.7,428.4 655,428.7 656.2,428.7 657.4,428.6 658.7,428.3 659.9,428.7 661.1,428.7 662.4,428.6 663.6,428.8"/><polyline points="492.2,391.6 493.4,377.1 494.7,368.8 495.9,365.4 497.1,375.7 498.4,384.5 499.6,390.7 500.8,395.8 502.1,397.9 503.3,395.2 504.5,392.4 505.8,390.8 507,391.7 508.2,396.5 509.5,398.8 510.7,400.2 511.9,399.6 513.2,400.5 514.4,398.9 515.6,396 516.9,394.6 518.1,396.1 519.3,401.1 520.6,405.8 521.8,409.2 523,412.5 524.3,414.4 525.5,416 526.7,417.3 528,417.8 529.2,418.5 530.4,419.3 531.7,420.2 532.9,420.5 534.1,420 535.4,420 536.6,419.9 537.8,420.2 539.1,420.2 540.3,420.3 541.5,420 542.8,420.2 544,420.6 545.2,421.3 546.5,421.7 547.7,421.9 548.9,423.1 550.2,423.6 551.4,423.9 552.6,424.3 553.9,424.7 555.1,424.7 556.3,424.8 557.6,424.7 558.8,424.9 560,425 561.3,424.9 562.5,425 563.7,425.3 565,425.5 566.2,425.3 567.4,425.5 568.7,425.8 569.9,425.8 571.1,425.8 572.4,425.7 573.6,425.9 574.8,426 576.1,426.2 577.3,425.9 578.5,425.9 579.7,425.7 581,426.1 582.2,426.5 583.4,426.5 584.7,426.3 585.9,426.5 587.1,426.5 588.4,426.8 589.6,426.8 590.8,426.8 592.1,426.6 593.3,426.6 594.5,426.5 595.8,426.6 597,426.7 598.2,427 599.5,427 600.7,427 601.9,427 603.2,426.8 604.4,426.5 605.6,426.8 606.9,426.8 608.1,427.2 609.3,426.7 610.6,427 611.8,427 613,426.9 614.3,426.9 615.5,426.8 616.7,427.2 618,427.4 619.2,427.5 620.4,427.3 621.7,427.3 622.9,427.4 624.1,427.6 625.4,427.4 626.6,427.4 627.8,427.4 629.1,427.4 630.3,427.5 631.5,427.4 632.8,427.5 634,427.8 635.2,427.7 636.5,427.8 637.7,427.9 638.9,427.6 640.2,427.9 641.4,427.9 642.6,427.9 643.9,427.7 645.1,427.9 646.3,427.9 647.6,428 648.8,428 650,428 651.3,428.2 652.5,428.1 653.7,427.9 655,428 656.2,428.2 657.4,428.1 658.7,428.2 659.9,428.1 661.1,428.3 662.4,428.3 663.6,428.3"/><polyline points="492.2,395 493.4,383.2 494.7,376.2 495.9,375.2 497.1,379.9 498.4,387.4 499.6,393.1 500.8,396.3 502.1,398.2 503.3,396.3 504.5,397.5 505.8,398.9 507,402.2 508.2,404.2 509.5,407.3 510.7,407 511.9,407.2 513.2,406.7 514.4,407.4 515.6,406.9 516.9,405.9 518.1,406.4 519.3,407 520.6,405.7 521.8,403.4 523,402.7 524.3,404.2 525.5,408.1 526.7,411.2 528,412.9 529.2,415.6 530.4,419 531.7,420.2 532.9,420.1 534.1,420.2 535.4,420.1 536.6,420.4 537.8,421.1 539.1,421.3 540.3,421.4 541.5,421.1 542.8,421.3 544,421.3 545.2,422.2 546.5,423 547.7,423.3 548.9,423.3 550.2,423.8 551.4,424.1 552.6,424.3 553.9,424.6 555.1,424.8 556.3,425.1 557.6,425.4 558.8,425.3 560,425.3 561.3,425.4 562.5,425.6 563.7,425.6 565,425.4 566.2,425.6 567.4,425.7 568.7,425.9 569.9,426.2 571.1,426.2 572.4,426.1 573.6,425.8 574.8,426.1 576.1,426.4 577.3,426.5 578.5,426.3 579.7,426.1 581,426.1 582.2,426.4 583.4,426.6 584.7,426.8 585.9,426.7 587.1,426.8 588.4,427 589.6,427 590.8,426.7 592.1,426.8 593.3,426.8 594.5,426.9 595.8,427 597,426.9 598.2,427 599.5,427 600.7,426.9 601.9,427.2 603.2,427.2 604.4,427.1 605.6,427.3 606.9,427.2 608.1,426.8 609.3,427 610.6,427.3 611.8,427.2 613,427.3 614.3,427.1 615.5,427.5 616.7,427.4 618,427.5 619.2,427.5 620.4,427.7 621.7,427.7 622.9,427.6 624.1,427.5 625.4,427.6 626.6,427.6 627.8,427.6 629.1,427.6 630.3,427.7 631.5,427.6 632.8,427.6 634,427.9 635.2,427.9 636.5,427.9 637.7,427.8 638.9,427.8 640.2,428 641.4,427.9 642.6,428 643.9,428 645.1,428.1 646.3,428.1 647.6,428.2 648.8,427.9 650,428.3 651.3,428.3 652.5,428.1 653.7,428.2 655,428.2 656.2,428 657.4,428.3 658.7,428.3 659.9,428.1 661.1,428.4 662.4,428.5 663.6,428.4"/><polyline points="492.2,393.8 493.4,381.9 494.7,379.3 495.9,376.2 497.1,379.8 498.4,386.9 499.6,394.7 500.8,398 502.1,401.3 503.3,402.9 504.5,405.3 505.8,406.1 507,407 508.2,407.5 509.5,408.3 510.7,409.3 511.9,411.6 513.2,411.3 514.4,410.5 515.6,408.5 516.9,408.7 518.1,410.2 519.3,411.8 520.6,413.1 521.8,414 523,416.4 524.3,417.2 525.5,418.5 526.7,419.7 528,420.3 529.2,420 530.4,420.2 531.7,420.9 532.9,421.6 534.1,422.3 535.4,422.7 536.6,422.8 537.8,422.1 539.1,422.2 540.3,422.1 541.5,422.2 542.8,422.2 544,423 545.2,423.6 546.5,423.7 547.7,423.6 548.9,424.1 550.2,424.8 551.4,425.3 552.6,425.4 553.9,425.3 555.1,425.3 556.3,425.5 557.6,425.8 558.8,425.9 560,425.9 561.3,426.1 562.5,426 563.7,425.6 565,425.3 566.2,425.9 567.4,426.2 568.7,426.5 569.9,426 571.1,426 572.4,426.1 573.6,426.3 574.8,426.3 576.1,426.4 577.3,426.5 578.5,426.6 579.7,426.7 581,426.7 582.2,426.8 583.4,426.9 584.7,427 585.9,427 587.1,426.8 588.4,426.9 589.6,426.9 590.8,427 592.1,427.1 593.3,427.3 594.5,427.1 595.8,427.1 597,427.1 598.2,427.2 599.5,427.2 600.7,427.3 601.9,427.2 603.2,427.5 604.4,427.4 605.6,427.5 606.9,427.5 608.1,427.5 609.3,427.3 610.6,427.4 611.8,427.6 613,427.7 614.3,427.6 615.5,427.6 616.7,427.4 618,427.7 619.2,427.8 620.4,427.8 621.7,427.8 622.9,427.6 624.1,427.6 625.4,427.6 626.6,427.3 627.8,427.6 629.1,427.6 630.3,427.6 631.5,427.6 632.8,427.7 634,427.9 635.2,427.9 636.5,427.7 637.7,427.8 638.9,428 640.2,428 641.4,428.1 642.6,428.1 643.9,428 645.1,428.1 646.3,428 647.6,428.2 648.8,428.3 650,428.2 651.3,428.3 652.5,428.4 653.7,428.2 655,428.4 656.2,428.4 657.4,428.5 658.7,428.2 659.9,428.2 661.1,428.5 662.4,428.4 663.6,428.6"/><polyline points="492.2,397.9 493.4,383.6 494.7,377.5 495.9,379.1 497.1,382.6 498.4,387.7 499.6,395.8 500.8,402.7 502.1,406.8 503.3,408.7 504.5,411.6 505.8,415.8 507,418.5 508.2,419.9 509.5,419.1 510.7,416.4 511.9,414 513.2,412.5 514.4,411.5 515.6,410.1 516.9,408.5 518.1,408 519.3,411.5 520.6,413.1 521.8,412.4 523,411.7 524.3,413.2 525.5,416 526.7,418 528,418.9 529.2,419.9 530.4,421.5 531.7,422.4 532.9,422.5 534.1,422.7 535.4,422.7 536.6,422.6 537.8,422.3 539.1,423 540.3,423.2 541.5,423.3 542.8,423 544,423.4 545.2,423.1 546.5,423.4 547.7,424 548.9,424.7 550.2,425.4 551.4,425.5 552.6,425.8 553.9,425.6 555.1,425.9 556.3,426.3 557.6,426.3 558.8,426.5 560,426.5 561.3,426.4 562.5,426.5 563.7,426.5 565,426.6 566.2,426.5 567.4,426.3 568.7,426.5 569.9,426.8 571.1,426.8 572.4,426.6 573.6,427 574.8,427.1 576.1,426.9 577.3,426.9 578.5,427 579.7,427.2 581,427.1 582.2,427.1 583.4,427.1 584.7,427.2 585.9,427.2 587.1,427.3 588.4,427.4 589.6,427.4 590.8,427.3 592.1,427.4 593.3,427.4 594.5,427.1 595.8,427.5 597,427.7 598.2,427.6 599.5,427.3 600.7,427.5 601.9,427.5 603.2,427.6 604.4,427.6 605.6,427.7 606.9,427.6 608.1,427.6 609.3,427.8 610.6,427.7 611.8,427.8 613,427.7 614.3,427.8 615.5,427.8 616.7,427.8 618,427.7 619.2,427.8 620.4,427.6 621.7,427.9 622.9,427.6 624.1,427.9 625.4,428 626.6,428 627.8,428.1 629.1,428 630.3,428.1 631.5,428.1 632.8,428 634,428 635.2,427.9 636.5,428.1 637.7,428 638.9,428.2 640.2,428.3 641.4,428.2 642.6,428.2 643.9,428 645.1,428.2 646.3,428.3 647.6,428.5 648.8,428.2 650,428.4 651.3,428.5 652.5,428.5 653.7,428.5 655,428.5 656.2,428.5 657.4,428.6 658.7,428.3 659.9,428.4 661.1,428.5 662.4,428.6 663.6,428.6"/><polyline points="492.2,409.7 493.4,402 494.7,394.9 495.9,393.1 497.1,394.4 498.4,398.7 499.6,399.3 500.8,402.2 502.1,404.7 503.3,405.3 504.5,403.2 505.8,403.3 507,404.6 508.2,405.3 509.5,405.8 510.7,406.9 511.9,408.5 513.2,407.4 514.4,407 515.6,406.4 516.9,407.1 518.1,407.3 519.3,410.9 520.6,413.7 521.8,414.5 523,416 524.3,417.3 525.5,418.9 526.7,420 528,420.4 529.2,421.1 530.4,421.8 531.7,422 532.9,421.7 534.1,421.5 535.4,421.7 536.6,421.8 537.8,421.7 539.1,422.1 540.3,422.2 541.5,422 542.8,422.2 544,422.5 545.2,423.3 546.5,424 547.7,423.7 548.9,423.7 550.2,424.4 551.4,424.6 552.6,424.6 553.9,424.9 555.1,425.6 556.3,425.7 557.6,425.6 558.8,425.7 560,425.8 561.3,425.5 562.5,425.5 563.7,425.5 565,425.4 566.2,426 567.4,426.1 568.7,426.2 569.9,426 571.1,426.1 572.4,426.1 573.6,426.5 574.8,426.6 576.1,426.6 577.3,426.4 578.5,426.5 579.7,426.6 581,426.9 582.2,426.9 583.4,426.8 584.7,426.8 585.9,426.8 587.1,426.9 588.4,427 589.6,427.1 590.8,427.3 592.1,427.2 593.3,427.2 594.5,427 595.8,427.2 597,427.3 598.2,427.6 599.5,427.5 600.7,427.4 601.9,427.3 603.2,427.3 604.4,427.4 605.6,427.5 606.9,427.4 608.1,427.6 609.3,427.4 610.6,427.5 611.8,427.6 613,427.8 614.3,427.5 615.5,427.6 616.7,427.6 618,427.6 619.2,427.7 620.4,427.5 621.7,427.6 622.9,427.6 624.1,427.8 625.4,427.8 626.6,427.7 627.8,427.9 629.1,427.9 630.3,427.8 631.5,427.8 632.8,427.8 634,427.9 635.2,428 636.5,428.2 637.7,427.9 638.9,428 640.2,428 641.4,428.1 642.6,428.1 643.9,428 645.1,428 646.3,428 647.6,428.3 648.8,428.2 650,428 651.3,428.3 652.5,428.1 653.7,428.2 655,428.4 656.2,428.4 657.4,428.4 658.7,428.4 659.9,428.2 661.1,428.4 662.4,428.3 663.6,428.5"/><polyline points="492.2,379.5 493.4,356.6 494.7,345.8 495.9,354.4 497.1,365.2 498.4,372.1 499.6,379.7 500.8,388.2 502.1,395.9 503.3,397.2 504.5,397.7 505.8,398.7 507,403.1 508.2,408 509.5,410.1 510.7,409.5 511.9,408.4 513.2,408.5 514.4,409.1 515.6,408.9 516.9,407 518.1,405.3 519.3,407.9 520.6,412.2 521.8,413.7 523,413.4 524.3,414.6 525.5,416.8 526.7,418 528,418.6 529.2,419.7 530.4,420.8 531.7,420.3 532.9,420.5 534.1,421.6 535.4,422.8 536.6,421.8 537.8,421.1 539.1,420.7 540.3,421.2 541.5,421.3 542.8,420.8 544,421 545.2,421.7 546.5,422.2 547.7,422.3 548.9,422.8 550.2,423.1 551.4,423.7 552.6,424.1 553.9,424.4 555.1,424.5 556.3,424.5 557.6,424.9 558.8,425 560,425.2 561.3,425.4 562.5,425.3 563.7,425.3 565,425.8 566.2,425.5 567.4,426 568.7,425.9 569.9,425.8 571.1,426 572.4,426 573.6,425.9 574.8,426.1 576.1,426.4 577.3,426.4 578.5,426.5 579.7,426.2 581,426.4 582.2,426.4 583.4,426.6 584.7,426.7 585.9,426.8 587.1,426.3 588.4,426.3 589.6,426.7 590.8,426.9 592.1,426.9 593.3,426.7 594.5,426.6 595.8,426.8 597,426.5 598.2,427 599.5,427.2 600.7,427.2 601.9,427.1 603.2,427 604.4,427.1 605.6,427.3 606.9,427.3 608.1,427.3 609.3,427 610.6,427.1 611.8,427.2 613,427.3 614.3,427.3 615.5,427.4 616.7,427.2 618,427.2 619.2,427.3 620.4,427.3 621.7,427.5 622.9,427.3 624.1,427.5 625.4,427.4 626.6,427.4 627.8,427.5 629.1,427.5 630.3,427.5 631.5,427.6 632.8,427.5 634,427.5 635.2,427.7 636.5,427.7 637.7,427.9 638.9,427.8 640.2,427.8 641.4,427.8 642.6,427.9 643.9,427.9 645.1,427.9 646.3,428.1 647.6,428.3 648.8,428.1 650,428 651.3,428 652.5,427.9 653.7,428.2 655,427.9 656.2,428.1 657.4,428.1 658.7,428.2 659.9,428.3 661.1,428.4 662.4,428.4 663.6,428.4"/><polyline points="492.2,386.6 493.4,372.1 494.7,368.6 495.9,370.8 497.1,379 498.4,385.7 499.6,390.5 500.8,394.9 502.1,397.8 503.3,395.7 504.5,396.2 505.8,396.2 507,399.6 508.2,402.3 509.5,405.5 510.7,405.7 511.9,405 513.2,404.2 514.4,404.3 515.6,403.6 516.9,402.3 518.1,398.9 519.3,401.1 520.6,402.5 521.8,405.4 523,407.7 524.3,411.5 525.5,413.9 526.7,415.6 528,417 529.2,418.5 530.4,419.3 531.7,419.9 532.9,420.9 534.1,420.9 535.4,420.6 536.6,420.7 537.8,421.4 539.1,421.5 540.3,421.6 541.5,420.8 542.8,420.9 544,421.4 545.2,422.1 546.5,422.5 547.7,422.7 548.9,423.4 550.2,423.7 551.4,423.9 552.6,424.1 553.9,424.6 555.1,424.9 556.3,425.1 557.6,425.2 558.8,425.6 560,425.6 561.3,425.7 562.5,425.8 563.7,425.9 565,425.8 566.2,425.9 567.4,425.8 568.7,426 569.9,426 571.1,426.2 572.4,426.1 573.6,426 574.8,426.1 576.1,426.3 577.3,426.3 578.5,426.2 579.7,426.5 581,426.6 582.2,426.5 583.4,426.7 584.7,426.8 585.9,426.9 587.1,427 588.4,426.9 589.6,426.8 590.8,426.7 592.1,426.6 593.3,426.6 594.5,426.8 595.8,426.9 597,426.9 598.2,427.1 599.5,427.2 600.7,427.2 601.9,427.1 603.2,427.1 604.4,427 605.6,427.1 606.9,427.2 608.1,427.3 609.3,427.2 610.6,427.3 611.8,427.2 613,427.3 614.3,427.5 615.5,427.5 616.7,427.4 618,427.4 619.2,427.5 620.4,427.6 621.7,427.6 622.9,427.6 624.1,427.8 625.4,427.9 626.6,427.8 627.8,427.6 629.1,427.5 630.3,427.5 631.5,427.7 632.8,427.8 634,427.8 635.2,427.8 636.5,427.8 637.7,428 638.9,428 640.2,427.8 641.4,427.7 642.6,428.1 643.9,428 645.1,428 646.3,428 647.6,427.9 648.8,428 650,428.2 651.3,428.3 652.5,428.4 653.7,428.3 655,428.2 656.2,428.4 657.4,428.2 658.7,428.4 659.9,428.3 661.1,428.2 662.4,428.4 663.6,428.3"/></g>
<polyline points="492.2,397.3 493.8,382.8 495.3,381.9 496.9,384.9 498.5,391.9 500.1,398.3 501.6,404.4 503.2,404.6 504.8,404.8 506.4,406.5 507.9,408.7 509.5,410 511.1,410.5 512.6,411 514.2,411.4 515.8,411.1 517.4,410.8 518.9,412 520.5,414.4 522.1,416.1 523.6,417.7 525.2,419.2 526.8,420.4 528.4,420.9 529.9,421.4 531.5,421.9 533.1,422 534.7,422.1 536.2,422.2 537.8,422.3 539.4,422.4 540.9,422.4 542.5,422.5 544.1,422.7 545.7,423.2 547.2,423.7 548.8,424.2 550.4,424.7 552,425 553.5,425.2 555.1,425.4 556.7,425.6 558.2,425.8 559.8,425.9 561.4,425.9 563,426 564.5,426.1 566.1,426.1 567.7,426.2 569.3,426.3 570.8,426.3 572.4,426.4 574,426.5 575.5,426.5 577.1,426.6 578.7,426.7 580.3,426.7 581.8,426.8 583.4,426.9 585,426.9 586.5,427 588.1,427 589.7,427 591.3,427 592.8,427.1 594.4,427.1 596,427.1 597.6,427.2 599.1,427.2 600.7,427.2 602.3,427.2 603.8,427.3 605.4,427.3 607,427.3 608.6,427.4 610.1,427.4 611.7,427.4 613.3,427.4 614.9,427.5 616.4,427.5 618,427.5 619.6,427.6 621.1,427.6 622.7,427.6 624.3,427.6 625.9,427.7 627.4,427.7 629,427.7 630.6,427.8 632.2,427.8 633.7,427.8 635.3,427.8 636.9,427.9 638.4,427.9 640,427.9 641.6,428 643.2,428 644.7,428 646.3,428 647.9,428.1 649.4,428.1 651,428.1 652.6,428.2 654.2,428.2 655.7,428.2 657.3,428.2 658.9,428.3 660.5,428.3 662,428.3 663.6,428.4" fill="none" stroke="#1c2630" stroke-width="1" stroke-linejoin="round"/>
<rect x="492.2" y="339.5" width="171.4" height="89.8" fill="none" stroke="#9a9a9a" stroke-width="0.8"/>
<line x1="492.2" y1="416.5" x2="494" y2="416.5" stroke="#9a9a9a" stroke-width="0.6"/>
<line x1="661.8" y1="416.5" x2="663.6" y2="416.5" stroke="#9a9a9a" stroke-width="0.6"/>
<line x1="492.2" y1="403.6" x2="494" y2="403.6" stroke="#9a9a9a" stroke-width="0.6"/>
<line x1="661.8" y1="403.6" x2="663.6" y2="403.6" stroke="#9a9a9a" stroke-width="0.6"/>
<line x1="492.2" y1="390.8" x2="494" y2="390.8" stroke="#9a9a9a" stroke-width="0.6"/>
<line x1="661.8" y1="390.8" x2="663.6" y2="390.8" stroke="#9a9a9a" stroke-width="0.6"/>
<line x1="492.2" y1="378" x2="494" y2="378" stroke="#9a9a9a" stroke-width="0.6"/>
<line x1="661.8" y1="378" x2="663.6" y2="378" stroke="#9a9a9a" stroke-width="0.6"/>
<line x1="492.2" y1="365.2" x2="494" y2="365.2" stroke="#9a9a9a" stroke-width="0.6"/>
<line x1="661.8" y1="365.2" x2="663.6" y2="365.2" stroke="#9a9a9a" stroke-width="0.6"/>
<line x1="492.2" y1="352.3" x2="494" y2="352.3" stroke="#9a9a9a" stroke-width="0.6"/>
<line x1="661.8" y1="352.3" x2="663.6" y2="352.3" stroke="#9a9a9a" stroke-width="0.6"/>
<line x1="492.8" y1="429.3" x2="492.8" y2="427.5" stroke="#9a9a9a" stroke-width="0.6"/>
<line x1="492.8" y1="339.5" x2="492.8" y2="341.3" stroke="#9a9a9a" stroke-width="0.6"/>
<text transform="translate(493.5 437.4)" font-size="7.31" text-anchor="middle" fill="#3c3c3c" textLength="3.5" lengthAdjust="spacingAndGlyphs">0</text>
<line x1="515.6" y1="429.3" x2="515.6" y2="427.5" stroke="#9a9a9a" stroke-width="0.6"/>
<line x1="515.6" y1="339.5" x2="515.6" y2="341.3" stroke="#9a9a9a" stroke-width="0.6"/>
<text transform="translate(514.5 437.4)" font-size="7.31" text-anchor="middle" fill="#3c3c3c" textLength="7" lengthAdjust="spacingAndGlyphs">13</text>
<line x1="554.2" y1="429.3" x2="554.2" y2="427.5" stroke="#9a9a9a" stroke-width="0.6"/>
<line x1="554.2" y1="339.5" x2="554.2" y2="341.3" stroke="#9a9a9a" stroke-width="0.6"/>
<text transform="translate(553.7 437.4)" font-size="7.31" text-anchor="middle" fill="#3c3c3c" textLength="7" lengthAdjust="spacingAndGlyphs">35</text>
<line x1="598.1" y1="429.3" x2="598.1" y2="427.5" stroke="#9a9a9a" stroke-width="0.6"/>
<line x1="598.1" y1="339.5" x2="598.1" y2="341.3" stroke="#9a9a9a" stroke-width="0.6"/>
<text transform="translate(598.7 437.4)" font-size="7.31" text-anchor="middle" fill="#3c3c3c" textLength="7" lengthAdjust="spacingAndGlyphs">60</text>
<line x1="661.2" y1="429.3" x2="661.2" y2="427.5" stroke="#9a9a9a" stroke-width="0.6"/>
<line x1="661.2" y1="339.5" x2="661.2" y2="341.3" stroke="#9a9a9a" stroke-width="0.6"/>
<text transform="translate(660.9 437.4)" font-size="7.31" text-anchor="middle" fill="#3c3c3c" textLength="7" lengthAdjust="spacingAndGlyphs">96</text>
<text transform="translate(490.2 345.1)" font-size="7.31" text-anchor="end" fill="#3c3c3c" textLength="3.4" lengthAdjust="spacingAndGlyphs">7</text>
<text transform="translate(488.6 431.2)" font-size="7.31" text-anchor="end" fill="#3c3c3c" textLength="3.4" lengthAdjust="spacingAndGlyphs">0</text>
<text transform="translate(577.5 335.8)" font-size="10.6" text-anchor="middle" fill="#3c3c3c" textLength="68.7" lengthAdjust="spacingAndGlyphs">I feel stuck: FFT</text>
<text transform="translate(577.2 443.6)" font-size="9.2" text-anchor="middle" fill="#3c3c3c" textLength="58.9" lengthAdjust="spacingAndGlyphs">Frequency [Hz]</text>
<text transform="translate(485.1 384.6) rotate(-90)" font-size="9.2" text-anchor="middle" fill="#3c3c3c" textLength="65.8" lengthAdjust="spacingAndGlyphs">Amplitude [µVp]</text>
<rect x="583.4" y="344.3" width="73.2" height="12.4" fill="#fff" stroke="#6a6a6a" stroke-width="0.7"/>
<line x1="586.6" y1="350.5" x2="611" y2="350.5" stroke="#6e6e6e" stroke-width="1.5"/>
<text transform="translate(613.2 353.8)" font-size="9.5" fill="#2a2a2a" textLength="41.4" lengthAdjust="spacingAndGlyphs">Median FFT</text>
</g>
<g id="panel-d">
<text transform="translate(0.8 336.4) scale(0.9 1)" font-size="20" fill="#111" stroke="#111" stroke-width="0.45">d</text>
<g fill="#5fa3da" stroke="#3b4a5c" stroke-width="0.5"><rect x="82.2" y="366.4" width="3.9" height="62.4"/><rect x="86.1" y="403.8" width="3.9" height="25"/><rect x="90" y="403.8" width="3.9" height="25"/><rect x="97.9" y="416.3" width="3.9" height="12.5"/><rect x="105.7" y="403.8" width="3.9" height="25"/><rect x="113.6" y="403.8" width="3.9" height="25"/><rect x="117.5" y="391.3" width="3.9" height="37.5"/><rect x="121.4" y="378.9" width="3.9" height="49.9"/><rect x="129.2" y="403.8" width="3.9" height="25"/><rect x="133.2" y="378.9" width="3.9" height="49.9"/><rect x="137.1" y="416.3" width="3.9" height="12.5"/><rect x="141" y="403.8" width="3.9" height="25"/><rect x="144.9" y="416.3" width="3.9" height="12.5"/><rect x="148.8" y="391.3" width="3.9" height="37.5"/><rect x="152.8" y="416.3" width="3.9" height="12.5"/><rect x="156.7" y="403.8" width="3.9" height="25"/><rect x="160.6" y="416.3" width="3.9" height="12.5"/><rect x="164.5" y="403.8" width="3.9" height="25"/><rect x="168.4" y="403.8" width="3.9" height="25"/><rect x="172.4" y="403.8" width="3.9" height="25"/><rect x="180.2" y="403.8" width="3.9" height="25"/><rect x="188" y="416.3" width="3.9" height="12.5"/><rect x="192" y="378.9" width="3.9" height="49.9"/><rect x="195.9" y="416.3" width="3.9" height="12.5"/><rect x="199.8" y="416.3" width="3.9" height="12.5"/></g>
<rect x="27.5" y="341.4" width="196" height="87.4" fill="none" stroke="#a8a8a8" stroke-width="0.8"/>
<path d="M31.5 428.8v-1.6M31.5 341.4v1.6M39.3 428.8v-1.6M39.3 341.4v1.6M47.1 428.8v-1.6M47.1 341.4v1.6M54.9 428.8v-1.6M54.9 341.4v1.6M62.8 428.8v-1.6M62.8 341.4v1.6M70.6 428.8v-1.6M70.6 341.4v1.6M78.4 428.8v-1.6M78.4 341.4v1.6M86.2 428.8v-1.6M86.2 341.4v1.6M94 428.8v-1.6M94 341.4v1.6M101.8 428.8v-1.6M101.8 341.4v1.6M109.6 428.8v-1.6M109.6 341.4v1.6M117.4 428.8v-1.6M117.4 341.4v1.6M125.2 428.8v-1.6M125.2 341.4v1.6M133.1 428.8v-1.6M133.1 341.4v1.6M140.9 428.8v-1.6M140.9 341.4v1.6M148.7 428.8v-1.6M148.7 341.4v1.6M156.5 428.8v-1.6M156.5 341.4v1.6M164.3 428.8v-1.6M164.3 341.4v1.6M172.1 428.8v-1.6M172.1 341.4v1.6M179.9 428.8v-1.6M179.9 341.4v1.6M187.8 428.8v-1.6M187.8 341.4v1.6M195.6 428.8v-1.6M195.6 341.4v1.6M203.4 428.8v-1.6M203.4 341.4v1.6M211.2 428.8v-1.6M211.2 341.4v1.6M219 428.8v-1.6M219 341.4v1.6M27.5 416.3h1.6M223.5 416.3h-1.6M27.5 403.8h1.6M223.5 403.8h-1.6M27.5 391.3h1.6M223.5 391.3h-1.6M27.5 378.9h1.6M223.5 378.9h-1.6M27.5 366.4h1.6M223.5 366.4h-1.6M27.5 353.9h1.6M223.5 353.9h-1.6" stroke="#a0a0a0" stroke-width="0.6" fill="none"/>
<text transform="translate(31.5 439.2)" font-size="7.54" text-anchor="middle" fill="#3c3c3c" textLength="3.6" lengthAdjust="spacingAndGlyphs">0</text>
<text transform="translate(61.3 439.2)" font-size="7.54" text-anchor="middle" fill="#3c3c3c" textLength="3.6" lengthAdjust="spacingAndGlyphs">4</text>
<text transform="translate(92.7 439.2)" font-size="7.54" text-anchor="middle" fill="#3c3c3c" textLength="3.6" lengthAdjust="spacingAndGlyphs">8</text>
<text transform="translate(124.7 439.2)" font-size="7.54" text-anchor="middle" fill="#3c3c3c" textLength="7.3" lengthAdjust="spacingAndGlyphs">12</text>
<text transform="translate(156.6 439.2)" font-size="7.54" text-anchor="middle" fill="#3c3c3c" textLength="7.3" lengthAdjust="spacingAndGlyphs">16</text>
<text transform="translate(188.2 439.2)" font-size="7.54" text-anchor="middle" fill="#3c3c3c" textLength="7.3" lengthAdjust="spacingAndGlyphs">20</text>
<text transform="translate(219 439.2)" font-size="7.54" text-anchor="middle" fill="#3c3c3c" textLength="7.3" lengthAdjust="spacingAndGlyphs">24</text>
<text transform="translate(25.8 345.8)" font-size="7.54" text-anchor="end" fill="#3c3c3c" textLength="3.6" lengthAdjust="spacingAndGlyphs">7</text>
<text transform="translate(25.8 429.7)" font-size="7.54" text-anchor="end" fill="#3c3c3c" textLength="3.6" lengthAdjust="spacingAndGlyphs">0</text>
<text transform="translate(127 339.2)" font-size="10.6" text-anchor="middle" fill="#3c3c3c" textLength="129.3" lengthAdjust="spacingAndGlyphs">I feel stuck: daily distribution</text>
<text transform="translate(125.6 446.3)" font-size="9.2" text-anchor="middle" fill="#3c3c3c" textLength="62" lengthAdjust="spacingAndGlyphs">Hour of the day</text>
<text transform="translate(9.6 386.6) rotate(-90)" font-size="9.2" text-anchor="middle" fill="#3c3c3c" textLength="42.1" lengthAdjust="spacingAndGlyphs">Number of</text>
<text transform="translate(21.9 386.6) rotate(-90)" font-size="9.2" text-anchor="middle" fill="#3c3c3c" textLength="35.1" lengthAdjust="spacingAndGlyphs">episodes</text>
<g fill="#5fa3da" stroke="#3b4a5c" stroke-width="0.5"><rect x="82" y="479.1" width="3.9" height="78.3"/><rect x="85.9" y="527.3" width="3.9" height="30.1"/><rect x="89.9" y="551.4" width="3.9" height="6"/><rect x="93.8" y="533.3" width="3.9" height="24.1"/><rect x="97.7" y="527.3" width="3.9" height="30.1"/><rect x="101.7" y="533.3" width="3.9" height="24.1"/><rect x="105.6" y="533.3" width="3.9" height="24.1"/><rect x="109.5" y="551.4" width="3.9" height="6"/><rect x="113.5" y="545.3" width="3.9" height="12.1"/><rect x="117.4" y="545.3" width="3.9" height="12.1"/><rect x="121.3" y="527.3" width="3.9" height="30.1"/><rect x="125.3" y="521.2" width="3.9" height="36.2"/><rect x="129.2" y="527.3" width="3.9" height="30.1"/><rect x="133.2" y="521.2" width="3.9" height="36.2"/><rect x="137.1" y="545.3" width="3.9" height="12.1"/><rect x="141" y="539.3" width="3.9" height="18.1"/><rect x="145" y="545.3" width="3.9" height="12.1"/><rect x="148.9" y="533.3" width="3.9" height="24.1"/><rect x="152.8" y="545.3" width="3.9" height="12.1"/><rect x="156.8" y="545.3" width="3.9" height="12.1"/><rect x="160.7" y="527.3" width="3.9" height="30.1"/><rect x="164.6" y="539.3" width="3.9" height="18.1"/><rect x="168.6" y="539.3" width="3.9" height="18.1"/><rect x="172.5" y="539.3" width="3.9" height="18.1"/><rect x="176.4" y="545.3" width="3.9" height="12.1"/><rect x="180.4" y="539.3" width="3.9" height="18.1"/><rect x="184.3" y="545.3" width="3.9" height="12.1"/><rect x="188.2" y="545.3" width="3.9" height="12.1"/><rect x="192.2" y="509.2" width="3.9" height="48.2"/><rect x="196.1" y="479.1" width="3.9" height="78.3"/><rect x="200.1" y="533.3" width="3.9" height="24.1"/><rect x="204" y="545.3" width="3.9" height="12.1"/><rect x="207.9" y="539.3" width="3.9" height="18.1"/><rect x="211.9" y="539.3" width="3.9" height="18.1"/></g>
<rect x="26.6" y="467" width="196.9" height="90.4" fill="none" stroke="#a8a8a8" stroke-width="0.8"/>
<path d="M28.9 557.4v-1.6M28.9 467v1.6M36.8 557.4v-1.6M36.8 467v1.6M44.6 557.4v-1.6M44.6 467v1.6M52.5 557.4v-1.6M52.5 467v1.6M60.4 557.4v-1.6M60.4 467v1.6M68.3 557.4v-1.6M68.3 467v1.6M76.2 557.4v-1.6M76.2 467v1.6M84 557.4v-1.6M84 467v1.6M91.9 557.4v-1.6M91.9 467v1.6M99.8 557.4v-1.6M99.8 467v1.6M107.7 557.4v-1.6M107.7 467v1.6M115.5 557.4v-1.6M115.5 467v1.6M123.4 557.4v-1.6M123.4 467v1.6M131.3 557.4v-1.6M131.3 467v1.6M139.2 557.4v-1.6M139.2 467v1.6M147 557.4v-1.6M147 467v1.6M154.9 557.4v-1.6M154.9 467v1.6M162.8 557.4v-1.6M162.8 467v1.6M170.7 557.4v-1.6M170.7 467v1.6M178.5 557.4v-1.6M178.5 467v1.6M186.4 557.4v-1.6M186.4 467v1.6M194.3 557.4v-1.6M194.3 467v1.6M202.2 557.4v-1.6M202.2 467v1.6M210 557.4v-1.6M210 467v1.6M217.9 557.4v-1.6M217.9 467v1.6M26.6 527.3h1.6M223.5 527.3h-1.6M26.6 497.1h1.6M223.5 497.1h-1.6" stroke="#a0a0a0" stroke-width="0.6" fill="none"/>
<text transform="translate(28.9 565.2)" font-size="7.54" text-anchor="middle" fill="#3c3c3c" textLength="3.6" lengthAdjust="spacingAndGlyphs">0</text>
<text transform="translate(59.1 565.2)" font-size="7.54" text-anchor="middle" fill="#3c3c3c" textLength="3.6" lengthAdjust="spacingAndGlyphs">4</text>
<text transform="translate(90.5 565.2)" font-size="7.54" text-anchor="middle" fill="#3c3c3c" textLength="3.6" lengthAdjust="spacingAndGlyphs">8</text>
<text transform="translate(122.6 565.2)" font-size="7.54" text-anchor="middle" fill="#3c3c3c" textLength="7.3" lengthAdjust="spacingAndGlyphs">12</text>
<text transform="translate(154.5 565.2)" font-size="7.54" text-anchor="middle" fill="#3c3c3c" textLength="7.3" lengthAdjust="spacingAndGlyphs">16</text>
<text transform="translate(185.7 565.2)" font-size="7.54" text-anchor="middle" fill="#3c3c3c" textLength="7.3" lengthAdjust="spacingAndGlyphs">20</text>
<text transform="translate(217.9 565.2)" font-size="7.54" text-anchor="middle" fill="#3c3c3c" textLength="7.3" lengthAdjust="spacingAndGlyphs">24</text>
<text transform="translate(24.9 471.4)" font-size="7.54" text-anchor="end" fill="#3c3c3c" textLength="7.3" lengthAdjust="spacingAndGlyphs">15</text>
<text transform="translate(24.9 557.2)" font-size="7.54" text-anchor="end" fill="#3c3c3c" textLength="3.6" lengthAdjust="spacingAndGlyphs">0</text>
<text transform="translate(125.3 463.8)" font-size="10.6" text-anchor="middle" fill="#3c3c3c" textLength="131.4" lengthAdjust="spacingAndGlyphs">Medication: daily distribution</text>
<text transform="translate(126.5 571.9)" font-size="9.2" text-anchor="middle" fill="#3c3c3c" textLength="62" lengthAdjust="spacingAndGlyphs">Hour of the day</text>
<text transform="translate(9.6 512.5) rotate(-90)" font-size="9.2" text-anchor="middle" fill="#3c3c3c" textLength="42.1" lengthAdjust="spacingAndGlyphs">Number of</text>
<text transform="translate(21.9 512.5) rotate(-90)" font-size="9.2" text-anchor="middle" fill="#3c3c3c" textLength="35.1" lengthAdjust="spacingAndGlyphs">episodes</text>
</g>
<g id="panel-e">
<text transform="translate(1.2 585) scale(0.9 1)" font-size="20" fill="#111" stroke="#111" stroke-width="0.45">e</text>
<g fill="#5fa3da" stroke="#3b4a5c" stroke-width="0.5"><rect x="30.8" y="679.2" width="6" height="2.5"/><rect x="36.8" y="676.6" width="6" height="5.1"/><rect x="42.7" y="671.6" width="6" height="10.1"/><rect x="54.6" y="679.2" width="6" height="2.5"/><rect x="72.5" y="671.6" width="6" height="10.1"/><rect x="90.4" y="679.2" width="6" height="2.5"/><rect x="120.2" y="653.8" width="6" height="27.9"/><rect x="126.2" y="598" width="6" height="83.7"/><rect x="138.1" y="679.2" width="6" height="2.5"/><rect x="150" y="676.6" width="6" height="5.1"/><rect x="185.8" y="679.2" width="6" height="2.5"/><rect x="191.7" y="676.6" width="6" height="5.1"/><rect x="197.7" y="679.2" width="6" height="2.5"/><rect x="203.6" y="674.1" width="6" height="7.6"/><rect x="209.6" y="676.6" width="6" height="5.1"/><rect x="215.6" y="671.6" width="6" height="10.1"/></g>
<rect x="28.4" y="592.9" width="196.9" height="88.8" fill="none" stroke="#a8a8a8" stroke-width="0.8"/>
<path d="M30.8 681.7v-1.6M30.8 592.9v1.6M54.8 681.7v-1.6M54.8 592.9v1.6M78.8 681.7v-1.6M78.8 592.9v1.6M102.8 681.7v-1.6M102.8 592.9v1.6M126.8 681.7v-1.6M126.8 592.9v1.6M150.8 681.7v-1.6M150.8 592.9v1.6M174.8 681.7v-1.6M174.8 592.9v1.6M198.8 681.7v-1.6M198.8 592.9v1.6M222.8 681.7v-1.6M222.8 592.9v1.6M28.4 669h1.6M225.3 669h-1.6M28.4 656.3h1.6M225.3 656.3h-1.6M28.4 643.6h1.6M225.3 643.6h-1.6M28.4 631h1.6M225.3 631h-1.6M28.4 618.3h1.6M225.3 618.3h-1.6M28.4 605.6h1.6M225.3 605.6h-1.6" stroke="#a0a0a0" stroke-width="0.6" fill="none"/>
<text transform="translate(30.8 690.2)" font-size="7.54" text-anchor="middle" fill="#3c3c3c" textLength="5.8" lengthAdjust="spacingAndGlyphs">-4</text>
<text transform="translate(52.6 690.2)" font-size="7.54" text-anchor="middle" fill="#3c3c3c" textLength="5.8" lengthAdjust="spacingAndGlyphs">-3</text>
<text transform="translate(77.8 690.2)" font-size="7.54" text-anchor="middle" fill="#3c3c3c" textLength="5.8" lengthAdjust="spacingAndGlyphs">-2</text>
<text transform="translate(102.3 690.2)" font-size="7.54" text-anchor="middle" fill="#3c3c3c" textLength="5.8" lengthAdjust="spacingAndGlyphs">-1</text>
<text transform="translate(126.8 690.2)" font-size="7.54" text-anchor="middle" fill="#3c3c3c" textLength="3.6" lengthAdjust="spacingAndGlyphs">0</text>
<text transform="translate(151.4 690.2)" font-size="7.54" text-anchor="middle" fill="#3c3c3c" textLength="3.6" lengthAdjust="spacingAndGlyphs">1</text>
<text transform="translate(174.1 690.2)" font-size="7.54" text-anchor="middle" fill="#3c3c3c" textLength="3.6" lengthAdjust="spacingAndGlyphs">2</text>
<text transform="translate(199 690.2)" font-size="7.54" text-anchor="middle" fill="#3c3c3c" textLength="3.6" lengthAdjust="spacingAndGlyphs">3</text>
<text transform="translate(222.8 690.2)" font-size="7.54" text-anchor="middle" fill="#3c3c3c" textLength="3.6" lengthAdjust="spacingAndGlyphs">4</text>
<text transform="translate(26.7 599.5)" font-size="7.54" text-anchor="end" fill="#3c3c3c" textLength="7.3" lengthAdjust="spacingAndGlyphs">35</text>
<text transform="translate(26.7 681.7)" font-size="7.54" text-anchor="end" fill="#3c3c3c" textLength="3.6" lengthAdjust="spacingAndGlyphs">0</text>
<text transform="translate(124.6 588.5)" font-size="10.6" text-anchor="middle" fill="#3c3c3c" textLength="147.5" lengthAdjust="spacingAndGlyphs">I feel stuck: triggered medication</text>
<text transform="translate(122.7 698.5)" font-size="9.2" text-anchor="middle" fill="#3c3c3c" textLength="23.2" lengthAdjust="spacingAndGlyphs">Hours</text>
<text transform="translate(9.6 637.8) rotate(-90)" font-size="9.2" text-anchor="middle" fill="#3c3c3c" textLength="42.1" lengthAdjust="spacingAndGlyphs">Number of</text>
<text transform="translate(21.9 637.8) rotate(-90)" font-size="9.2" text-anchor="middle" fill="#3c3c3c" textLength="35.1" lengthAdjust="spacingAndGlyphs">episodes</text>
</g>
<g id="panel-f">
<text transform="translate(238.6 469.8) scale(0.9 1)" font-size="20" fill="#111" stroke="#111" stroke-width="0.45">f</text>
<g fill="none" stroke="#4a8fd0" stroke-width="0.8" stroke-opacity="0.085"><polyline points="273.7,543.9 293,541.7 312.2,545.8 331.5,542.6 350.7,541.9 370,538.5 389.2,537.8 408.5,530.9 427.7,538.3 447,526.5 466.2,521.3 485.5,533.5 504.8,533.5 524,535.2 543.3,545.6 562.5,543.4 581.8,545.7 601,546.1 620.3,547.4 639.5,547.7 658.8,546.7"/><polyline points="273.7,552.1 293,553.2 312.2,553.8 331.5,553.4 350.7,551.4 370,549.6 389.2,550.4 408.5,550.8 427.7,551.2 447,549.9 466.2,547 485.5,547.6 504.8,546.6 524,547.1 543.3,543.8 562.5,550.7 581.8,553.4 601,552.9 620.3,551.3 639.5,551.6 658.8,550.5"/><polyline points="273.7,549.4 293,547.2 312.2,545.7 331.5,548.5 350.7,548 370,549.4 389.2,548.6 408.5,550.1 427.7,548.9 447,549.6 466.2,548.8 485.5,549.9 504.8,551.2 524,550.5 543.3,550.9 562.5,550.4 581.8,550.8 601,549.1 620.3,550.6 639.5,548.5 658.8,544.9"/><polyline points="273.7,527 293,521.1 312.2,531.8 331.5,538.8 350.7,535.4 370,514.8 389.2,505.9 408.5,493.2 427.7,499 447,510.1 466.2,504.4 485.5,520.5 504.8,522.4 524,517.5 543.3,518.7 562.5,513.8 581.8,520.5 601,514 620.3,510.9 639.5,529.2 658.8,534.3"/><polyline points="273.7,538.7 293,536.3 312.2,535 331.5,530.9 350.7,524.5 370,531.1 389.2,539.9 408.5,532.7 427.7,531.8 447,529.6 466.2,530.6 485.5,538 504.8,544 524,538 543.3,531.2 562.5,525.9 581.8,527.5 601,528 620.3,533.2 639.5,533.4 658.8,536.4"/><polyline points="273.7,545.3 293,549.2 312.2,545.5 331.5,541.4 350.7,545.3 370,542.3 389.2,540 408.5,540.3 427.7,540.4 447,544.2 466.2,533 485.5,514.4 504.8,506.6 524,523.4 543.3,527.6 562.5,529.4 581.8,537.7 601,539.6 620.3,537 639.5,539.9 658.8,546.4"/><polyline points="273.7,541.2 293,542 312.2,534.3 331.5,535.2 350.7,539.8 370,539.4 389.2,523 408.5,533.9 427.7,517.6 447,504.9 466.2,517.2 485.5,527.1 504.8,519.4 524,525.3 543.3,534.3 562.5,522.8 581.8,527.4 601,529.1 620.3,532.2 639.5,536.2 658.8,536.5"/><polyline points="273.7,542.1 293,535.3 312.2,527.7 331.5,517.3 350.7,516.1 370,527.5 389.2,520.1 408.5,534.9 427.7,537 447,532.7 466.2,541.2 485.5,531.1 504.8,538.8 524,544.9 543.3,545.9 562.5,546.5 581.8,544.6 601,543.5 620.3,537 639.5,537.9 658.8,536.7"/><polyline points="273.7,525.8 293,540.8 312.2,532.5 331.5,539.5 350.7,543.3 370,544.6 389.2,538.8 408.5,543.3 427.7,541.5 447,535.3 466.2,518.6 485.5,526.5 504.8,529.7 524,537.8 543.3,524.6 562.5,530.2 581.8,532.9 601,533.3 620.3,539.4 639.5,538.8 658.8,543.8"/><polyline points="273.7,543.4 293,538 312.2,544.4 331.5,537.7 350.7,529.7 370,537.8 389.2,534.1 408.5,535.2 427.7,529.1 447,530.7 466.2,538.2 485.5,535.6 504.8,539.1 524,539.8 543.3,536.2 562.5,531.3 581.8,531.2 601,542.2 620.3,539.2 639.5,541.6 658.8,536.8"/><polyline points="273.7,512.7 293,516.6 312.2,516.1 331.5,533.2 350.7,526.4 370,523.9 389.2,530.9 408.5,522.8 427.7,515.7 447,509.6 466.2,512.6 485.5,505.4 504.8,501.4 524,509.5 543.3,516.3 562.5,523.9 581.8,529.3 601,523.1 620.3,528.3 639.5,536.9 658.8,532.6"/><polyline points="273.7,542.8 293,541 312.2,545.4 331.5,543.7 350.7,543.8 370,540.4 389.2,549.1 408.5,544.2 427.7,539 447,542.5 466.2,536.5 485.5,538.9 504.8,539.6 524,537 543.3,531.8 562.5,535.1 581.8,534.1 601,534.8 620.3,541.1 639.5,533.3 658.8,531.9"/><polyline points="273.7,531.7 293,534.8 312.2,526.2 331.5,526.6 350.7,521.6 370,512.8 389.2,503.5 408.5,475.2 427.7,485.2 447,498.4 466.2,514.9 485.5,524.5 504.8,520.1 524,519.9 543.3,530.6 562.5,534.7 581.8,536.2 601,522.7 620.3,531.9 639.5,528.6 658.8,538.8"/><polyline points="273.7,519.5 293,507.6 312.2,530.5 331.5,528.2 350.7,534.5 370,531.2 389.2,529.2 408.5,516.6 427.7,510.6 447,507.6 466.2,515.8 485.5,511.9 504.8,524 524,530 543.3,533.5 562.5,527.3 581.8,501 601,509.7 620.3,485.2 639.5,513.2 658.8,522.6"/><polyline points="273.7,535.1 293,523.2 312.2,528.4 331.5,521 350.7,522.8 370,542.3 389.2,543.5 408.5,542 427.7,537.4 447,530.6 466.2,531.7 485.5,521 504.8,532.9 524,534.1 543.3,528.5 562.5,537.6 581.8,528.8 601,522.8 620.3,527.9 639.5,529.9 658.8,531.9"/><polyline points="273.7,527.3 293,536.3 312.2,541.7 331.5,534.9 350.7,544.9 370,546.3 389.2,543.9 408.5,538.7 427.7,522.4 447,517.7 466.2,471.2 485.5,477 504.8,480.4 524,481 543.3,501.1 562.5,496.8 581.8,498.8 601,505.3 620.3,519.4 639.5,525.4 658.8,518.1"/><polyline points="273.7,526.4 293,527.7 312.2,530.6 331.5,528.2 350.7,524 370,513.9 389.2,514.3 408.5,524.1 427.7,530 447,524 466.2,536.5 485.5,538.8 504.8,532.4 524,536.3 543.3,540.3 562.5,532.8 581.8,545.9 601,544.2 620.3,544.2 639.5,544.3 658.8,538.6"/><polyline points="273.7,531 293,527.8 312.2,529.7 331.5,529.2 350.7,538.6 370,538.2 389.2,530.3 408.5,527.7 427.7,515.8 447,529.6 466.2,531.2 485.5,536.1 504.8,526.8 524,530 543.3,532.2 562.5,538.7 581.8,539 601,541.4 620.3,541.2 639.5,523.3 658.8,533.4"/><polyline points="273.7,547 293,549.2 312.2,550.3 331.5,548.6 350.7,542.9 370,542.7 389.2,545 408.5,550.6 427.7,553.9 447,552.3 466.2,550.6 485.5,546.6 504.8,545.3 524,546.8 543.3,542.8 562.5,536.6 581.8,543 601,540.5 620.3,537.1 639.5,543.6 658.8,542.5"/><polyline points="273.7,511.2 293,534.4 312.2,534.2 331.5,521.6 350.7,518.1 370,528.9 389.2,530.4 408.5,534.4 427.7,527.1 447,533.7 466.2,519.9 485.5,512.2 504.8,495.2 524,492 543.3,490.5 562.5,490.6 581.8,496 601,527.7 620.3,523.1 639.5,530.7 658.8,542.9"/><polyline points="273.7,536.8 293,536.4 312.2,535.3 331.5,535.8 350.7,527.2 370,537.7 389.2,531.8 408.5,538 427.7,533.6 447,528.8 466.2,534.1 485.5,514.5 504.8,537.2 524,544.8 543.3,545.7 562.5,547.3 581.8,541.9 601,543.9 620.3,537 639.5,540.3 658.8,536.4"/><polyline points="273.7,533.8 293,533.5 312.2,518.8 331.5,498.4 350.7,518.5 370,520.5 389.2,513.6 408.5,513.5 427.7,492.2 447,471.2 466.2,517.6 485.5,529.1 504.8,522.2 524,524.8 543.3,535.2 562.5,538.1 581.8,538 601,528 620.3,537.6 639.5,537.1 658.8,528.3"/><polyline points="273.7,540.8 293,547.2 312.2,550 331.5,550.1 350.7,546 370,541.3 389.2,533.2 408.5,527.1 427.7,522.5 447,524.7 466.2,534.2 485.5,527.7 504.8,535.1 524,545.2 543.3,543 562.5,542.5 581.8,528.8 601,535 620.3,535.1 639.5,542.6 658.8,539.4"/><polyline points="273.7,548.4 293,550.6 312.2,548.3 331.5,548.9 350.7,547.2 370,548.9 389.2,549.4 408.5,548.2 427.7,543.8 447,542.6 466.2,549.6 485.5,546.8 504.8,547.1 524,545.4 543.3,541.9 562.5,540.2 581.8,545 601,546.6 620.3,545 639.5,541.8 658.8,545.9"/><polyline points="273.7,543.9 293,547.2 312.2,538.6 331.5,537.7 350.7,534.8 370,535.6 389.2,541.4 408.5,549.5 427.7,543.5 447,542.1 466.2,548.5 485.5,537.4 504.8,537.5 524,533 543.3,540.1 562.5,548.3 581.8,549.8 601,547.4 620.3,551.6 639.5,551.6 658.8,548.3"/><polyline points="273.7,524.9 293,532.2 312.2,525.6 331.5,523.7 350.7,532.1 370,531.5 389.2,528.7 408.5,532.8 427.7,536.9 447,539.4 466.2,542.2 485.5,541.6 504.8,541.6 524,539.1 543.3,537 562.5,539.1 581.8,547.3 601,544 620.3,546.1 639.5,537.4 658.8,539.8"/><polyline points="273.7,537.3 293,535.6 312.2,532.1 331.5,535.5 350.7,537.7 370,538.7 389.2,531.7 408.5,537.1 427.7,526.5 447,527.9 466.2,522.6 485.5,533 504.8,533.4 524,542.8 543.3,543.9 562.5,542.9 581.8,545 601,543.7 620.3,541.3 639.5,539.1 658.8,546.2"/><polyline points="273.7,546.9 293,548.5 312.2,540.5 331.5,537.1 350.7,533.1 370,527.5 389.2,537.1 408.5,538.3 427.7,545 447,542.2 466.2,547.6 485.5,548.1 504.8,544.8 524,542.7 543.3,546.4 562.5,548.2 581.8,542.8 601,541.1 620.3,543.6 639.5,542.9 658.8,542.5"/><polyline points="273.7,545.3 293,544.5 312.2,544.4 331.5,540.6 350.7,536.9 370,541.1 389.2,532.8 408.5,539 427.7,533.7 447,538.3 466.2,542 485.5,546.7 504.8,546.6 524,537.6 543.3,539.8 562.5,539.7 581.8,542.9 601,541.7 620.3,540.2 639.5,539.7 658.8,534.4"/><polyline points="273.7,536.1 293,532.8 312.2,538.5 331.5,530.4 350.7,527.6 370,535.2 389.2,538.7 408.5,538.5 427.7,530.4 447,527.2 466.2,519.7 485.5,494.5 504.8,485.4 524,507.1 543.3,525.7 562.5,517.7 581.8,530.5 601,537.4 620.3,538.1 639.5,536.4 658.8,538.1"/><polyline points="273.7,551 293,551.6 312.2,550.9 331.5,551 350.7,551.9 370,547.1 389.2,546.1 408.5,546.1 427.7,546.8 447,547 466.2,550.2 485.5,552.4 504.8,552.3 524,554.2 543.3,553.4 562.5,553.7 581.8,552.8 601,552.7 620.3,553.6 639.5,554.1 658.8,554.1"/><polyline points="273.7,514.8 293,516.5 312.2,526.5 331.5,511.5 350.7,512.4 370,521.6 389.2,531.2 408.5,522 427.7,493 447,496.6 466.2,514.2 485.5,524.9 504.8,529.8 524,542.1 543.3,534 562.5,535.8 581.8,542.7 601,549 620.3,544.1 639.5,539.5 658.8,526.7"/><polyline points="273.7,543.1 293,542.6 312.2,545.1 331.5,544.6 350.7,548.8 370,548.1 389.2,547.1 408.5,548.7 427.7,550.5 447,552.2 466.2,550 485.5,545.2 504.8,545.2 524,551.2 543.3,550.1 562.5,551.9 581.8,550 601,543.8 620.3,542.7 639.5,550.2 658.8,546.2"/><polyline points="273.7,507.1 293,500.5 312.2,525.5 331.5,507.2 350.7,523.1 370,535.7 389.2,525.7 408.5,511.8 427.7,484 447,471.2 466.2,471.2 485.5,477.2 504.8,474.7 524,484.8 543.3,489.5 562.5,523.9 581.8,523.4 601,525.2 620.3,518.1 639.5,525.4 658.8,513.6"/><polyline points="273.7,550.5 293,548.8 312.2,550.8 331.5,553.5 350.7,552.7 370,551.1 389.2,549.9 408.5,545.7 427.7,544.1 447,536.9 466.2,542.2 485.5,536.3 504.8,542.1 524,542.6 543.3,549.7 562.5,550.9 581.8,547.7 601,547.7 620.3,547.8 639.5,550.5 658.8,548.2"/><polyline points="273.7,510.5 293,520.9 312.2,528.9 331.5,531.5 350.7,526.3 370,522.4 389.2,533.5 408.5,525.6 427.7,530.2 447,505 466.2,527.5 485.5,516.7 504.8,529.8 524,526.1 543.3,514.9 562.5,513.2 581.8,527.9 601,537.3 620.3,523.2 639.5,530.2 658.8,522.1"/><polyline points="273.7,551 293,551 312.2,551.1 331.5,552.3 350.7,551.4 370,550 389.2,547.1 408.5,543.9 427.7,540.7 447,543.2 466.2,545.1 485.5,546.1 504.8,547.1 524,544.7 543.3,544 562.5,546.8 581.8,550 601,552.9 620.3,552.6 639.5,552 658.8,553.8"/><polyline points="273.7,539.7 293,545.2 312.2,546 331.5,548.5 350.7,543.6 370,540.8 389.2,520.9 408.5,529.2 427.7,515.1 447,519.8 466.2,523.6 485.5,518.6 504.8,538.9 524,544.3 543.3,536.5 562.5,531.5 581.8,519.1 601,521.4 620.3,531.3 639.5,527.8 658.8,534.5"/><polyline points="273.7,541.3 293,529.6 312.2,529 331.5,532.7 350.7,533.1 370,538.5 389.2,540.2 408.5,538.5 427.7,535.6 447,545 466.2,537.4 485.5,546.4 504.8,548.1 524,550.2 543.3,548.6 562.5,551 581.8,547 601,543.6 620.3,539.4 639.5,536.2 658.8,539.8"/><polyline points="273.7,549.2 293,547.7 312.2,550.4 331.5,550.2 350.7,550.4 370,547.3 389.2,545.1 408.5,546 427.7,542.1 447,532.1 466.2,529.3 485.5,535.2 504.8,539.2 524,545.8 543.3,548 562.5,547.3 581.8,546.4 601,550 620.3,551.6 639.5,552.5 658.8,553"/><polyline points="273.7,541.2 293,544.3 312.2,549.4 331.5,548.5 350.7,546.4 370,546.8 389.2,549.2 408.5,537.5 427.7,541 447,537.7 466.2,546.5 485.5,547.5 504.8,546.2 524,546 543.3,545.1 562.5,544.7 581.8,546.7 601,548.3 620.3,547.7 639.5,548.4 658.8,548.7"/><polyline points="273.7,535.8 293,530.8 312.2,534.6 331.5,537.9 350.7,534 370,534 389.2,542.5 408.5,538.3 427.7,543.9 447,542.8 466.2,539.9 485.5,536.4 504.8,542.1 524,543.6 543.3,540.1 562.5,528.8 581.8,516.4 601,517.8 620.3,509.2 639.5,526.6 658.8,533.1"/><polyline points="273.7,540.9 293,533 312.2,538.5 331.5,538.1 350.7,542.4 370,541.6 389.2,532.8 408.5,538.6 427.7,538.7 447,535.4 466.2,529.5 485.5,514.8 504.8,520.9 524,516.4 543.3,535.1 562.5,538.3 581.8,546.9 601,539.8 620.3,541.3 639.5,536.7 658.8,541.4"/><polyline points="273.7,549.8 293,550 312.2,552.3 331.5,551.3 350.7,549.4 370,552 389.2,552.9 408.5,552.9 427.7,552.5 447,547.3 466.2,544.5 485.5,548.8 504.8,539.6 524,539.7 543.3,547.1 562.5,551.1 581.8,549.7 601,552.2 620.3,551.1 639.5,548.6 658.8,550.3"/><polyline points="273.7,548.7 293,546.8 312.2,545.6 331.5,543.3 350.7,544.6 370,547 389.2,545.5 408.5,541.5 427.7,542.4 447,543.3 466.2,546.7 485.5,541.8 504.8,540.7 524,542.5 543.3,543.7 562.5,543.8 581.8,544.7 601,542 620.3,543 639.5,541.4 658.8,543.1"/><polyline points="273.7,525.9 293,511.4 312.2,521.7 331.5,529.1 350.7,540 370,536.5 389.2,537.9 408.5,524.5 427.7,531.4 447,519.1 466.2,530.2 485.5,530 504.8,519 524,527.2 543.3,525.4 562.5,520.8 581.8,533.9 601,512.4 620.3,530 639.5,532 658.8,529.9"/><polyline points="273.7,530 293,538.5 312.2,537.6 331.5,545 350.7,540.7 370,541 389.2,535.4 408.5,541.2 427.7,541.9 447,534.5 466.2,526.3 485.5,529.4 504.8,533.3 524,536.7 543.3,539 562.5,540.4 581.8,519.6 601,516.2 620.3,533.8 639.5,535.8 658.8,540"/><polyline points="273.7,531.9 293,526.2 312.2,518.6 331.5,517.9 350.7,525.5 370,526.2 389.2,507.3 408.5,521.9 427.7,496.8 447,471.2 466.2,471.2 485.5,471.2 504.8,471.2 524,489.3 543.3,523 562.5,527.2 581.8,506.2 601,506.7 620.3,512.1 639.5,487.9 658.8,496.6"/><polyline points="273.7,547.1 293,542.8 312.2,544.6 331.5,541.5 350.7,542.8 370,529.4 389.2,528.2 408.5,522.1 427.7,523.3 447,518.5 466.2,520.4 485.5,528.1 504.8,536.8 524,541.2 543.3,542.9 562.5,540.3 581.8,538.6 601,532.6 620.3,537.5 639.5,538.7 658.8,547.6"/><polyline points="273.7,544.6 293,544.2 312.2,545.9 331.5,544.2 350.7,545.7 370,545 389.2,546.1 408.5,543.9 427.7,544.7 447,544.1 466.2,546 485.5,548.9 504.8,544.3 524,547.1 543.3,543.5 562.5,545.3 581.8,545.5 601,545.2 620.3,547.7 639.5,550.8 658.8,547.8"/><polyline points="273.7,551.4 293,552 312.2,549.7 331.5,548.7 350.7,549.1 370,546.3 389.2,545.7 408.5,548.1 427.7,550.6 447,547.5 466.2,551.1 485.5,548.3 504.8,552.1 524,552.6 543.3,550.3 562.5,548.6 581.8,546.2 601,550.7 620.3,551.1 639.5,551 658.8,551.5"/><polyline points="273.7,543.8 293,546 312.2,546.3 331.5,545.5 350.7,544 370,543.3 389.2,546.6 408.5,543.3 427.7,538 447,525.2 466.2,531.6 485.5,526.7 504.8,534.7 524,528.4 543.3,533.4 562.5,534.9 581.8,537.4 601,537.1 620.3,536.7 639.5,543.5 658.8,539.5"/><polyline points="273.7,536 293,539.2 312.2,542.9 331.5,534.5 350.7,527.4 370,520.1 389.2,516.4 408.5,518.3 427.7,521.6 447,536.1 466.2,541.1 485.5,544.3 504.8,539.4 524,525.6 543.3,526.2 562.5,533.7 581.8,527.4 601,533.2 620.3,537.5 639.5,539.3 658.8,534.3"/><polyline points="273.7,541 293,535.9 312.2,540.5 331.5,543.7 350.7,544.3 370,546.1 389.2,545.8 408.5,534.1 427.7,538.3 447,536.6 466.2,542.8 485.5,544.4 504.8,544.4 524,543 543.3,541.8 562.5,541.6 581.8,543.7 601,535.3 620.3,531.9 639.5,537.2 658.8,538.9"/><polyline points="273.7,537.8 293,535 312.2,531.3 331.5,535.4 350.7,535 370,539.3 389.2,531.3 408.5,534.8 427.7,531 447,529.2 466.2,537.2 485.5,545.4 504.8,546.9 524,548.7 543.3,548.9 562.5,547.7 581.8,546.6 601,547.1 620.3,539 639.5,544.7 658.8,540.1"/><polyline points="273.7,547.4 293,543 312.2,543 331.5,542.3 350.7,543.2 370,541.4 389.2,544 408.5,538.4 427.7,533.5 447,538.1 466.2,545.5 485.5,541.3 504.8,542.4 524,546.9 543.3,542.2 562.5,543 581.8,548.6 601,545.5 620.3,548.9 639.5,551.9 658.8,551.9"/><polyline points="273.7,548.9 293,549 312.2,549.2 331.5,550.1 350.7,549.7 370,551.3 389.2,551.2 408.5,548.1 427.7,548.7 447,547.9 466.2,548.8 485.5,543.9 504.8,542.4 524,544.5 543.3,544.7 562.5,546 581.8,546.9 601,538.4 620.3,549.6 639.5,550.3 658.8,550.4"/><polyline points="273.7,550.9 293,549.8 312.2,552.8 331.5,551.2 350.7,545.5 370,548.9 389.2,552.2 408.5,549.8 427.7,549.4 447,541.9 466.2,545.1 485.5,548 504.8,545.3 524,542.7 543.3,541.3 562.5,533.4 581.8,537.1 601,541.7 620.3,546.3 639.5,547.7 658.8,549.3"/><polyline points="273.7,542.4 293,542.5 312.2,542.7 331.5,549.1 350.7,546.3 370,552.1 389.2,551.6 408.5,549.7 427.7,549.1 447,545.7 466.2,540.8 485.5,537.1 504.8,540.6 524,535.7 543.3,542.2 562.5,546.1 581.8,548.4 601,549.9 620.3,550.2 639.5,551.9 658.8,553.2"/><polyline points="273.7,539.1 293,536.2 312.2,541.4 331.5,532.4 350.7,527.4 370,537 389.2,530 408.5,541.3 427.7,531.3 447,535.4 466.2,526.1 485.5,534.3 504.8,527.1 524,527.7 543.3,526 562.5,527.3 581.8,525.8 601,523.2 620.3,520.1 639.5,540.1 658.8,540.8"/><polyline points="273.7,545.2 293,535.6 312.2,535.1 331.5,544.1 350.7,545.3 370,540.5 389.2,544.7 408.5,542.1 427.7,543.1 447,540 466.2,540.8 485.5,541.3 504.8,543.2 524,546.4 543.3,541.4 562.5,540.7 581.8,541.2 601,533.8 620.3,535.6 639.5,538.4 658.8,539"/><polyline points="273.7,549.2 293,550.3 312.2,546.3 331.5,544.8 350.7,548.4 370,548.2 389.2,549 408.5,547.7 427.7,543.3 447,546 466.2,547.9 485.5,550 504.8,545.4 524,545.7 543.3,545.2 562.5,545.3 581.8,548.8 601,543.2 620.3,547.7 639.5,551.8 658.8,549.3"/><polyline points="273.7,520.4 293,522.6 312.2,518.6 331.5,514.4 350.7,524.3 370,531.3 389.2,537.7 408.5,536.3 427.7,536.8 447,539.1 466.2,539.5 485.5,516.4 504.8,514.6 524,532.4 543.3,518.6 562.5,536.5 581.8,536.1 601,540.6 620.3,543.2 639.5,542.8 658.8,537.9"/><polyline points="273.7,553.2 293,553.6 312.2,552.4 331.5,550.8 350.7,552.7 370,553.1 389.2,553.3 408.5,551.2 427.7,551.2 447,551.9 466.2,552.3 485.5,552.8 504.8,552.3 524,549 543.3,552.7 562.5,553.2 581.8,552.3 601,554.4 620.3,553.3 639.5,552.3 658.8,552"/><polyline points="273.7,509.3 293,515.6 312.2,501.7 331.5,524.6 350.7,529.5 370,538.7 389.2,534.3 408.5,527.3 427.7,524.4 447,521.6 466.2,510.4 485.5,519.7 504.8,523.1 524,533.4 543.3,526.3 562.5,527.8 581.8,508.3 601,518.8 620.3,513.2 639.5,510.7 658.8,526.4"/><polyline points="273.7,530.2 293,525.7 312.2,531.7 331.5,520.7 350.7,522.4 370,519 389.2,537.7 408.5,544.5 427.7,547.2 447,544.1 466.2,541.4 485.5,536.8 504.8,536.7 524,544.7 543.3,545 562.5,536.8 581.8,530.2 601,541.2 620.3,541.6 639.5,546 658.8,542.6"/><polyline points="273.7,546.3 293,545.4 312.2,543.5 331.5,531.5 350.7,529.6 370,528.9 389.2,527.3 408.5,524.3 427.7,530.3 447,535.8 466.2,536.7 485.5,536.9 504.8,539.6 524,534.7 543.3,534.8 562.5,529.7 581.8,535.7 601,546 620.3,545.2 639.5,538.8 658.8,536.5"/><polyline points="273.7,541.6 293,543.9 312.2,546.6 331.5,546.5 350.7,547.8 370,548.2 389.2,543.9 408.5,542 427.7,542 447,546.4 466.2,547.8 485.5,548.5 504.8,546.7 524,550.5 543.3,549 562.5,544.3 581.8,544 601,548.5 620.3,544.8 639.5,545 658.8,542.8"/><polyline points="273.7,522.4 293,533.2 312.2,514.3 331.5,528.6 350.7,522.9 370,532.6 389.2,520.9 408.5,498 427.7,492.4 447,513.1 466.2,521.2 485.5,508.5 504.8,498.8 524,505.2 543.3,514.3 562.5,503 581.8,508.2 601,513.9 620.3,511.3 639.5,515.4 658.8,508.5"/><polyline points="273.7,532.6 293,533.3 312.2,536.7 331.5,541.9 350.7,542.2 370,532.6 389.2,539.9 408.5,538.7 427.7,539.3 447,543.2 466.2,545.9 485.5,541.1 504.8,545.1 524,534.6 543.3,536.7 562.5,534.8 581.8,531.8 601,541.4 620.3,534.5 639.5,533.9 658.8,535"/><polyline points="273.7,533.2 293,541.4 312.2,541.4 331.5,537.8 350.7,541.8 370,536.7 389.2,538 408.5,533.1 427.7,532 447,537.9 466.2,538 485.5,540.6 504.8,543.8 524,546 543.3,550.2 562.5,549 581.8,547.6 601,548.7 620.3,550.5 639.5,546.8 658.8,544.1"/><polyline points="273.7,534.6 293,533.5 312.2,533.6 331.5,526.1 350.7,533.9 370,537.6 389.2,525.1 408.5,532 427.7,527.5 447,523.4 466.2,534.3 485.5,536.8 504.8,539.9 524,540.7 543.3,543.4 562.5,536.3 581.8,536.8 601,529.1 620.3,522.4 639.5,537 658.8,529.8"/><polyline points="273.7,540.1 293,531 312.2,524.4 331.5,528.5 350.7,534 370,532.6 389.2,529.8 408.5,528 427.7,528.2 447,521.8 466.2,526.9 485.5,526.2 504.8,527.8 524,521.3 543.3,530.9 562.5,536.1 581.8,540.2 601,534.6 620.3,532.1 639.5,534.5 658.8,521.2"/><polyline points="273.7,528 293,532.3 312.2,538.6 331.5,540.8 350.7,533.9 370,540.6 389.2,538.9 408.5,539.7 427.7,535.5 447,536.9 466.2,537 485.5,542.1 504.8,539.4 524,542.3 543.3,540.5 562.5,546 581.8,547.4 601,546 620.3,546 639.5,544.3 658.8,544.3"/><polyline points="273.7,528.3 293,526.5 312.2,520.4 331.5,515.1 350.7,519.5 370,528.4 389.2,529.9 408.5,528.5 427.7,533.4 447,534.6 466.2,526.2 485.5,523 504.8,533.5 524,540.3 543.3,542.3 562.5,547 581.8,541.3 601,538.4 620.3,543.3 639.5,543 658.8,544.3"/><polyline points="273.7,548.6 293,544.1 312.2,539.2 331.5,534.9 350.7,538.3 370,543.4 389.2,546.9 408.5,544 427.7,546.6 447,546.4 466.2,546.8 485.5,544 504.8,547.6 524,545.5 543.3,548.3 562.5,549.6 581.8,551.4 601,550.4 620.3,550.3 639.5,549.7 658.8,550.1"/><polyline points="273.7,508.4 293,498.5 312.2,506.6 331.5,511.3 350.7,497.5 370,471.2 389.2,482.5 408.5,480.2 427.7,495.1 447,488.3 466.2,491.6 485.5,507.8 504.8,527.4 524,537.3 543.3,524.5 562.5,523.4 581.8,522.8 601,516.4 620.3,518.4 639.5,489.8 658.8,498.3"/><polyline points="273.7,538.2 293,535.4 312.2,534.9 331.5,538.5 350.7,530 370,527.2 389.2,522.4 408.5,534 427.7,535.6 447,542.6 466.2,537.5 485.5,530.8 504.8,537.1 524,521.7 543.3,535.8 562.5,535.7 581.8,545.7 601,549.6 620.3,546.5 639.5,544.4 658.8,533"/><polyline points="273.7,532.9 293,526.2 312.2,511.5 331.5,514.7 350.7,499 370,488.6 389.2,493.1 408.5,512.8 427.7,518.3 447,530.8 466.2,518 485.5,499.6 504.8,504.5 524,507.1 543.3,531.9 562.5,521.3 581.8,533.2 601,534.9 620.3,514.9 639.5,512.6 658.8,524"/><polyline points="273.7,537.5 293,536.5 312.2,536.2 331.5,533.7 350.7,529.9 370,540.3 389.2,545.7 408.5,536.4 427.7,538.3 447,545.3 466.2,544.4 485.5,543.2 504.8,543.4 524,537 543.3,542.9 562.5,542.3 581.8,546.5 601,535.4 620.3,542 639.5,546.9 658.8,542.5"/><polyline points="273.7,548.2 293,546.3 312.2,548.2 331.5,546.9 350.7,544.5 370,543.1 389.2,545.7 408.5,545.7 427.7,546.7 447,547.3 466.2,547.2 485.5,548.5 504.8,549 524,549.5 543.3,549.9 562.5,548.6 581.8,551 601,551.9 620.3,552 639.5,552.5 658.8,550.9"/><polyline points="273.7,537.5 293,536.1 312.2,533.1 331.5,530.2 350.7,535.2 370,536.3 389.2,544.2 408.5,543 427.7,528.3 447,534.9 466.2,529.4 485.5,528.6 504.8,538.9 524,546.8 543.3,548.1 562.5,542.6 581.8,537.9 601,535.8 620.3,539.8 639.5,537.2 658.8,543.5"/><polyline points="273.7,546.2 293,528.1 312.2,501.9 331.5,524.1 350.7,526.3 370,529.2 389.2,527.5 408.5,501.8 427.7,522.6 447,524.9 466.2,513.6 485.5,526.4 504.8,515.3 524,523.2 543.3,529.3 562.5,527.7 581.8,532.6 601,526.9 620.3,514.2 639.5,539.3 658.8,532.7"/><polyline points="273.7,551 293,550.2 312.2,549.6 331.5,551.4 350.7,552 370,551.9 389.2,553.3 408.5,551.6 427.7,551 447,549.1 466.2,552.9 485.5,554.7 504.8,554.4 524,554 543.3,552.9 562.5,553.1 581.8,553.5 601,553.9 620.3,552.1 639.5,551.6 658.8,548.1"/><polyline points="273.7,532 293,535.8 312.2,534.5 331.5,541.4 350.7,542.4 370,538.9 389.2,541.1 408.5,546.7 427.7,545.2 447,546 466.2,541.6 485.5,545.2 504.8,546.6 524,544.9 543.3,545.2 562.5,541.7 581.8,540.4 601,540.9 620.3,537.3 639.5,536 658.8,539.7"/><polyline points="273.7,541.2 293,541.8 312.2,540.2 331.5,543.2 350.7,540.9 370,539.9 389.2,540 408.5,538.6 427.7,539 447,534.8 466.2,524.3 485.5,535.1 504.8,538.6 524,545.6 543.3,546 562.5,545.2 581.8,543.1 601,546.9 620.3,547.7 639.5,546.3 658.8,531.2"/><polyline points="273.7,536.9 293,539.9 312.2,548.3 331.5,548.4 350.7,548.6 370,547.5 389.2,546.5 408.5,533.8 427.7,526.2 447,529 466.2,541.5 485.5,531.1 504.8,537.7 524,542.9 543.3,543.3 562.5,543.5 581.8,536.3 601,537.3 620.3,535.9 639.5,533.9 658.8,525.6"/><polyline points="273.7,539.4 293,545.7 312.2,547.8 331.5,552.4 350.7,548.5 370,548.7 389.2,548.2 408.5,543.4 427.7,542.9 447,540 466.2,542.4 485.5,543.3 504.8,543.2 524,536.1 543.3,545.2 562.5,547.4 581.8,545.3 601,542.5 620.3,543.9 639.5,543.8 658.8,543.9"/><polyline points="273.7,550 293,546.8 312.2,544.8 331.5,548.1 350.7,547.4 370,550.2 389.2,548.4 408.5,546.9 427.7,546.5 447,545.3 466.2,546.6 485.5,543.9 504.8,542.9 524,543.3 543.3,541.8 562.5,540.3 581.8,543.3 601,543.4 620.3,545.7 639.5,550.7 658.8,547.9"/><polyline points="273.7,544.6 293,544.5 312.2,545 331.5,549.1 350.7,546.5 370,544.6 389.2,545.2 408.5,538.2 427.7,539.3 447,543.7 466.2,544.6 485.5,544.4 504.8,544.7 524,544.4 543.3,547.5 562.5,548.9 581.8,551.3 601,549.9 620.3,544 639.5,539.4 658.8,545.7"/><polyline points="273.7,524.1 293,529.2 312.2,537.9 331.5,522.5 350.7,513.2 370,527 389.2,516.3 408.5,525.6 427.7,521.7 447,505.6 466.2,520.3 485.5,529.6 504.8,536.4 524,535.6 543.3,529 562.5,522.5 581.8,506.9 601,487.3 620.3,492.8 639.5,523.4 658.8,532.8"/><polyline points="273.7,542 293,543.8 312.2,541.3 331.5,546.3 350.7,545.5 370,542.4 389.2,534 408.5,524 427.7,531.5 447,539 466.2,538.1 485.5,536.4 504.8,544.3 524,548.3 543.3,548.7 562.5,547.5 581.8,545.2 601,544.8 620.3,544 639.5,539.3 658.8,541.2"/><polyline points="273.7,551.1 293,548.9 312.2,547.9 331.5,550.4 350.7,547.9 370,549 389.2,543.8 408.5,544 427.7,540.1 447,541.5 466.2,543.2 485.5,547.6 504.8,550 524,547.9 543.3,550.7 562.5,547.3 581.8,551.6 601,551.4 620.3,551.9 639.5,548.2 658.8,549.9"/><polyline points="273.7,546.5 293,547.3 312.2,547.4 331.5,550.7 350.7,550.4 370,550 389.2,550.2 408.5,543.6 427.7,530.3 447,535 466.2,540.5 485.5,539.2 504.8,538.5 524,545.3 543.3,544.3 562.5,547 581.8,548.2 601,548.3 620.3,545.6 639.5,545.6 658.8,544.9"/><polyline points="273.7,550.8 293,551 312.2,551.8 331.5,552.8 350.7,553.8 370,552.7 389.2,550.2 408.5,549.8 427.7,549.9 447,548.6 466.2,553.6 485.5,552.7 504.8,552.8 524,551.5 543.3,549.5 562.5,550.5 581.8,552.4 601,551 620.3,550.9 639.5,549.8 658.8,548.4"/><polyline points="273.7,546.1 293,545.8 312.2,540.7 331.5,541.7 350.7,537.3 370,534.7 389.2,536.2 408.5,546.7 427.7,548.2 447,544.2 466.2,540.1 485.5,544.3 504.8,549.3 524,541.1 543.3,543.6 562.5,549.6 581.8,547.6 601,542.2 620.3,549.5 639.5,548.5 658.8,549"/><polyline points="273.7,542.4 293,545 312.2,546.9 331.5,540.6 350.7,532.6 370,539 389.2,529.1 408.5,532.8 427.7,530.2 447,532.1 466.2,533 485.5,521.4 504.8,524.6 524,534.5 543.3,522.9 562.5,506.8 581.8,516.3 601,503.5 620.3,488.2 639.5,515 658.8,534.8"/><polyline points="273.7,546.5 293,541 312.2,545.5 331.5,548.2 350.7,543.9 370,546 389.2,544.9 408.5,535.9 427.7,545 447,548.4 466.2,548.7 485.5,548.2 504.8,548.4 524,547.7 543.3,550.8 562.5,551.3 581.8,552.6 601,552.1 620.3,550.6 639.5,549.2 658.8,548.8"/><polyline points="273.7,552.7 293,551.4 312.2,553 331.5,546.7 350.7,548.9 370,546.2 389.2,547.3 408.5,546.9 427.7,546.6 447,539.9 466.2,542.4 485.5,541.7 504.8,541.6 524,542.8 543.3,542.6 562.5,547.5 581.8,551.6 601,551.6 620.3,552.3 639.5,554.1 658.8,551.6"/><polyline points="273.7,520.2 293,527.4 312.2,518.2 331.5,511.3 350.7,496.4 370,500.2 389.2,506.4 408.5,531.6 427.7,521.3 447,518.8 466.2,516.9 485.5,510.3 504.8,492.1 524,513.8 543.3,518.9 562.5,522.8 581.8,535.9 601,524.4 620.3,526.3 639.5,537.5 658.8,532"/><polyline points="273.7,545.2 293,547.9 312.2,546.2 331.5,541.9 350.7,545.1 370,543.4 389.2,542.9 408.5,539.5 427.7,532.6 447,527.7 466.2,519.1 485.5,505.2 504.8,525.1 524,520.6 543.3,531 562.5,535.3 581.8,539.7 601,537.2 620.3,544.7 639.5,547.6 658.8,548.1"/><polyline points="273.7,546.2 293,548.8 312.2,551.3 331.5,550.4 350.7,547.2 370,550.6 389.2,548 408.5,550.1 427.7,546.9 447,544.6 466.2,548.9 485.5,543.8 504.8,548.9 524,552.4 543.3,553 562.5,552.3 581.8,552.9 601,553.7 620.3,551.9 639.5,550.8 658.8,551.7"/><polyline points="273.7,553 293,553.6 312.2,553.4 331.5,552.7 350.7,551 370,551.5 389.2,550 408.5,550.2 427.7,544.7 447,549.1 466.2,549.6 485.5,548.2 504.8,546.2 524,546.7 543.3,547.4 562.5,543.2 581.8,545.7 601,546.8 620.3,549.5 639.5,547.5 658.8,548.2"/><polyline points="273.7,551.4 293,550.7 312.2,550 331.5,547.5 350.7,549.7 370,553.5 389.2,552.2 408.5,551.6 427.7,551.1 447,549 466.2,551.2 485.5,551 504.8,551.2 524,550.5 543.3,547.4 562.5,550.7 581.8,550 601,550 620.3,549.8 639.5,546.4 658.8,542.7"/><polyline points="273.7,529.1 293,536.9 312.2,532.5 331.5,531.1 350.7,523.8 370,524.8 389.2,529.8 408.5,532.1 427.7,530.8 447,523.2 466.2,528.5 485.5,528.6 504.8,526.9 524,508.7 543.3,515 562.5,511.8 581.8,522.5 601,530.6 620.3,525.8 639.5,534.8 658.8,539.2"/><polyline points="273.7,546.2 293,548.2 312.2,547.9 331.5,548.3 350.7,548.8 370,545.7 389.2,546 408.5,546.8 427.7,546.3 447,545.3 466.2,536.9 485.5,542.2 504.8,543.4 524,540.6 543.3,546.9 562.5,546.5 581.8,545.1 601,542.3 620.3,542.9 639.5,543.9 658.8,543.8"/><polyline points="273.7,550.8 293,550.6 312.2,551.7 331.5,549.2 350.7,551.1 370,551.7 389.2,551.6 408.5,546.5 427.7,545 447,539.2 466.2,540.4 485.5,542.5 504.8,546.2 524,546.7 543.3,544.3 562.5,543.3 581.8,546.3 601,547.8 620.3,545.9 639.5,547.5 658.8,548"/><polyline points="273.7,538.3 293,538.3 312.2,540 331.5,538.3 350.7,545.6 370,546.1 389.2,547.1 408.5,546.1 427.7,534.1 447,532.4 466.2,543.8 485.5,543.9 504.8,539.8 524,532.2 543.3,533.6 562.5,535.2 581.8,542.3 601,546.7 620.3,546.7 639.5,546 658.8,540.1"/><polyline points="273.7,542.2 293,541.7 312.2,542 331.5,537.8 350.7,539.4 370,543.4 389.2,543.3 408.5,540.2 427.7,529.2 447,518 466.2,521.1 485.5,532.8 504.8,540.2 524,530.7 543.3,532.1 562.5,527.8 581.8,529.6 601,532.2 620.3,526.7 639.5,529.1 658.8,525.2"/><polyline points="273.7,540.8 293,540.2 312.2,540.2 331.5,544.2 350.7,540.7 370,544 389.2,544.4 408.5,543.8 427.7,545.9 447,541.1 466.2,546.2 485.5,541.2 504.8,546 524,547.1 543.3,545 562.5,546.4 581.8,536.1 601,536.3 620.3,532.6 639.5,532.9 658.8,527.5"/><polyline points="273.7,534 293,523.9 312.2,521.4 331.5,536.2 350.7,541.6 370,533.2 389.2,520.7 408.5,509 427.7,488.7 447,485.7 466.2,481.6 485.5,488.1 504.8,511.5 524,531.5 543.3,532 562.5,534.6 581.8,539.2 601,541.3 620.3,541.8 639.5,540.5 658.8,540"/><polyline points="273.7,541 293,535 312.2,539 331.5,538.4 350.7,542 370,539.8 389.2,519.2 408.5,525.4 427.7,532.9 447,532.3 466.2,529.9 485.5,523.9 504.8,536.4 524,542.2 543.3,541.4 562.5,544.7 581.8,525.7 601,544.5 620.3,545.4 639.5,546.3 658.8,548.1"/><polyline points="273.7,534.2 293,528.4 312.2,530.2 331.5,534 350.7,540.1 370,533.7 389.2,540.3 408.5,531.7 427.7,536.1 447,516.1 466.2,521 485.5,526.6 504.8,533 524,536.4 543.3,533.4 562.5,539.3 581.8,542.6 601,546.5 620.3,543.4 639.5,546.4 658.8,548.1"/><polyline points="273.7,552.6 293,552.7 312.2,552.3 331.5,550.4 350.7,549.9 370,550.1 389.2,548.2 408.5,551.3 427.7,552.5 447,551.6 466.2,545.8 485.5,548.6 504.8,549.8 524,551.4 543.3,553 562.5,554.4 581.8,553.3 601,552.6 620.3,553 639.5,552.6 658.8,551.6"/><polyline points="273.7,548.4 293,549.3 312.2,545.6 331.5,548.4 350.7,548.7 370,546.4 389.2,544.9 408.5,542.3 427.7,539.3 447,536.1 466.2,538.2 485.5,540 504.8,533.2 524,538.9 543.3,539 562.5,544.7 581.8,542.3 601,539 620.3,540.7 639.5,541.2 658.8,545"/><polyline points="273.7,533.6 293,538.5 312.2,526.9 331.5,524.4 350.7,528.3 370,536.1 389.2,523 408.5,521.3 427.7,518.5 447,505.9 466.2,516.9 485.5,534.2 504.8,528 524,541.2 543.3,545.3 562.5,545.4 581.8,541 601,542.3 620.3,533.2 639.5,540.5 658.8,532.8"/><polyline points="273.7,549.6 293,549.6 312.2,550.3 331.5,544.8 350.7,545.7 370,547.4 389.2,544.2 408.5,545.7 427.7,549 447,546.4 466.2,546.8 485.5,541.6 504.8,533.8 524,536 543.3,540.4 562.5,537.4 581.8,538.8 601,546.8 620.3,547 639.5,548.8 658.8,548"/><polyline points="273.7,494.2 293,498.8 312.2,511.2 331.5,496.9 350.7,505.4 370,517.3 389.2,530.6 408.5,509 427.7,518.9 447,493.1 466.2,471.2 485.5,482.4 504.8,507.5 524,485.6 543.3,507 562.5,504.5 581.8,534.5 601,538.2 620.3,530.2 639.5,513.6 658.8,520.4"/><polyline points="273.7,527.2 293,515.7 312.2,528.7 331.5,525.3 350.7,504.3 370,526.5 389.2,518 408.5,512.5 427.7,520.3 447,531.3 466.2,537.4 485.5,540.4 504.8,540.9 524,539.7 543.3,536.1 562.5,525.9 581.8,525.4 601,528.5 620.3,539.4 639.5,537.7 658.8,543"/><polyline points="273.7,548.7 293,549.5 312.2,549.7 331.5,549.9 350.7,548.9 370,549.3 389.2,543.1 408.5,544.5 427.7,535.5 447,542.3 466.2,540.5 485.5,546.6 504.8,543.2 524,542.5 543.3,539.4 562.5,530.5 581.8,525.2 601,528.3 620.3,529.1 639.5,534.9 658.8,532.2"/><polyline points="273.7,519 293,528.5 312.2,520.7 331.5,527.9 350.7,531 370,534 389.2,529.4 408.5,537.1 427.7,532.5 447,516 466.2,522.6 485.5,523.2 504.8,523.9 524,525.5 543.3,530 562.5,539.6 581.8,540.3 601,543.7 620.3,537.6 639.5,536.3 658.8,541"/><polyline points="273.7,552.6 293,547.9 312.2,551.2 331.5,553.1 350.7,552.7 370,552.4 389.2,553.5 408.5,548.9 427.7,543.3 447,543.4 466.2,549.1 485.5,550.8 504.8,543.3 524,543.4 543.3,544.2 562.5,549.1 581.8,547.5 601,544.8 620.3,547.4 639.5,550.1 658.8,549"/><polyline points="273.7,544.3 293,541.3 312.2,540.7 331.5,538.7 350.7,545.4 370,541.3 389.2,531.5 408.5,516 427.7,524.2 447,528.1 466.2,536.6 485.5,533.9 504.8,531.2 524,531.4 543.3,539 562.5,543.8 581.8,534.3 601,535.4 620.3,532 639.5,538.8 658.8,546.1"/><polyline points="273.7,532.2 293,539.1 312.2,538.4 331.5,532.5 350.7,533.4 370,534.4 389.2,540.6 408.5,542.3 427.7,538 447,534.6 466.2,534.9 485.5,536.6 504.8,536.2 524,542.9 543.3,534.1 562.5,523.8 581.8,531.8 601,537.6 620.3,539.7 639.5,537 658.8,541.9"/><polyline points="273.7,541 293,536.1 312.2,538.2 331.5,543 350.7,531.8 370,527.7 389.2,531.4 408.5,530.2 427.7,541 447,543.4 466.2,543 485.5,542.2 504.8,541.9 524,540.5 543.3,543.2 562.5,550.4 581.8,549.1 601,546.6 620.3,548.1 639.5,547.2 658.8,541.8"/><polyline points="273.7,539.8 293,536.8 312.2,543.3 331.5,536.2 350.7,544.4 370,546.4 389.2,547.4 408.5,543.2 427.7,533.1 447,527.2 466.2,526.3 485.5,527.6 504.8,533.7 524,539.6 543.3,542.2 562.5,537.5 581.8,526.9 601,531.6 620.3,530.3 639.5,537.2 658.8,539.4"/><polyline points="273.7,532.1 293,529.7 312.2,527.4 331.5,537.5 350.7,543.2 370,544.9 389.2,540.2 408.5,533.9 427.7,526.8 447,516.5 466.2,506.1 485.5,516.5 504.8,526.6 524,517.6 543.3,501.8 562.5,503.7 581.8,528.3 601,534.9 620.3,540.8 639.5,540.8 658.8,546.3"/><polyline points="273.7,532 293,523.8 312.2,527.2 331.5,528.3 350.7,528.3 370,532.6 389.2,539.4 408.5,534.4 427.7,533.1 447,542 466.2,542.1 485.5,542.2 504.8,538.3 524,537.8 543.3,533.3 562.5,531.6 581.8,534.9 601,542.7 620.3,536.4 639.5,540.6 658.8,536.9"/><polyline points="273.7,535.8 293,538.8 312.2,542.5 331.5,542 350.7,538.9 370,545.1 389.2,546.8 408.5,534.3 427.7,537.9 447,530.2 466.2,533.3 485.5,543.4 504.8,546.2 524,544.6 543.3,547.9 562.5,545.5 581.8,544.2 601,547 620.3,547.8 639.5,549 658.8,547.9"/><polyline points="273.7,532.1 293,528.6 312.2,536.5 331.5,541.9 350.7,530.3 370,534.6 389.2,533.2 408.5,522.6 427.7,529.9 447,525.4 466.2,524.7 485.5,532 504.8,531.9 524,543.6 543.3,545.1 562.5,533.9 581.8,540.6 601,539.2 620.3,537.4 639.5,527.7 658.8,532.6"/></g>
<line x1="466.5" y1="466" x2="466.5" y2="557.1" stroke="#8e8e8e" stroke-width="0.8"/>
<polyline points="273.7,537.7 280.2,537.3 286.8,537 293.3,536.6 299.8,536.2 306.3,535.9 312.9,535.6 319.4,535.3 325.9,535 332.4,534.7 339,534.3 345.5,534.2 352,534.1 358.6,533.9 365.1,533.8 371.6,533.7 378.1,533.5 384.7,533.3 391.2,533.1 397.7,532.8 404.2,532.6 410.8,532.3 417.3,532.1 423.8,531.9 430.4,531.7 436.9,531.5 443.4,531.3 449.9,531.3 456.5,531.6 463,532.3 469.5,533 476,533.9 482.6,534.7 489.1,535.5 495.6,536 502.1,536.6 508.7,537.1 515.2,537.6 521.7,538.1 528.3,538.3 534.8,538.5 541.3,538.7 547.8,538.9 554.4,539.1 560.9,539.3 567.4,539.4 573.9,539.4 580.5,539.5 587,539.5 593.5,539.6 600.1,539.6 606.6,539.6 613.1,539.6 619.6,539.6 626.2,539.6 632.7,539.6 639.2,539.6 645.7,539.7 652.3,539.9 658.8,540" fill="none" stroke="#3d4854" stroke-width="1" stroke-linejoin="round"/>
<line x1="273.7" y1="466" x2="273.7" y2="557.1" stroke="#b0b0b0" stroke-width="0.9"/>
<line x1="273.7" y1="557.1" x2="658.8" y2="557.1" stroke="#b0b0b0" stroke-width="0.9"/>
<line x1="273.7" y1="466" x2="658.8" y2="466" stroke="#e4e4e4" stroke-width="0.6"/>
<line x1="658.8" y1="466" x2="658.8" y2="557.1" stroke="#e4e4e4" stroke-width="0.6"/>
<line x1="273.7" y1="544.1" x2="277.1" y2="544.1" stroke="#a0a0a0" stroke-width="0.7"/>
<line x1="273.7" y1="531.1" x2="277.1" y2="531.1" stroke="#a0a0a0" stroke-width="0.7"/>
<line x1="273.7" y1="518.1" x2="277.1" y2="518.1" stroke="#a0a0a0" stroke-width="0.7"/>
<line x1="273.7" y1="505" x2="277.1" y2="505" stroke="#a0a0a0" stroke-width="0.7"/>
<line x1="273.7" y1="492" x2="277.1" y2="492" stroke="#a0a0a0" stroke-width="0.7"/>
<line x1="273.7" y1="479" x2="277.1" y2="479" stroke="#a0a0a0" stroke-width="0.7"/>
<line x1="273.7" y1="466" x2="277.1" y2="466" stroke="#a0a0a0" stroke-width="0.7"/>
<line x1="273.7" y1="557.1" x2="273.7" y2="554.1" stroke="#a0a0a0" stroke-width="0.7"/>
<text transform="translate(274.1 566)" font-size="7.77" text-anchor="middle" fill="#3c3c3c" textLength="13.3" lengthAdjust="spacingAndGlyphs">-100</text>
<line x1="312.2" y1="557.1" x2="312.2" y2="554.1" stroke="#a0a0a0" stroke-width="0.7"/>
<text transform="translate(312.2 566.8)" font-size="7.77" text-anchor="middle" fill="#3c3c3c" textLength="7.4" lengthAdjust="spacingAndGlyphs">80</text>
<line x1="350.7" y1="557.1" x2="350.7" y2="554.1" stroke="#a0a0a0" stroke-width="0.7"/>
<text transform="translate(350.7 566.8)" font-size="7.77" text-anchor="middle" fill="#3c3c3c" textLength="7.4" lengthAdjust="spacingAndGlyphs">60</text>
<line x1="389.2" y1="557.1" x2="389.2" y2="554.1" stroke="#a0a0a0" stroke-width="0.7"/>
<text transform="translate(389.2 566.8)" font-size="7.77" text-anchor="middle" fill="#3c3c3c" textLength="7.4" lengthAdjust="spacingAndGlyphs">40</text>
<line x1="427.7" y1="557.1" x2="427.7" y2="554.1" stroke="#a0a0a0" stroke-width="0.7"/>
<text transform="translate(427.7 566.8)" font-size="7.77" text-anchor="middle" fill="#3c3c3c" textLength="7.4" lengthAdjust="spacingAndGlyphs">20</text>
<line x1="466.2" y1="557.1" x2="466.2" y2="554.1" stroke="#a0a0a0" stroke-width="0.7"/>
<text transform="translate(466.2 566.8)" font-size="7.77" text-anchor="middle" fill="#3c3c3c" textLength="3.7" lengthAdjust="spacingAndGlyphs">0</text>
<line x1="504.8" y1="557.1" x2="504.8" y2="554.1" stroke="#a0a0a0" stroke-width="0.7"/>
<text transform="translate(504.8 566.8)" font-size="7.77" text-anchor="middle" fill="#3c3c3c" textLength="7.4" lengthAdjust="spacingAndGlyphs">20</text>
<line x1="543.3" y1="557.1" x2="543.3" y2="554.1" stroke="#a0a0a0" stroke-width="0.7"/>
<text transform="translate(543.3 566.8)" font-size="7.77" text-anchor="middle" fill="#3c3c3c" textLength="7.4" lengthAdjust="spacingAndGlyphs">40</text>
<line x1="581.8" y1="557.1" x2="581.8" y2="554.1" stroke="#a0a0a0" stroke-width="0.7"/>
<text transform="translate(581.8 566.8)" font-size="7.77" text-anchor="middle" fill="#3c3c3c" textLength="7.4" lengthAdjust="spacingAndGlyphs">60</text>
<line x1="620.3" y1="557.1" x2="620.3" y2="554.1" stroke="#a0a0a0" stroke-width="0.7"/>
<text transform="translate(620.3 566.8)" font-size="7.77" text-anchor="middle" fill="#3c3c3c" textLength="7.4" lengthAdjust="spacingAndGlyphs">80</text>
<line x1="658.8" y1="557.1" x2="658.8" y2="554.1" stroke="#a0a0a0" stroke-width="0.7"/>
<text transform="translate(654.2 566.8)" font-size="7.77" text-anchor="middle" fill="#3c3c3c" textLength="11.1" lengthAdjust="spacingAndGlyphs">100</text>
<text transform="translate(272.3 468.6)" font-size="7.77" text-anchor="end" fill="#3c3c3c" textLength="14.4" lengthAdjust="spacingAndGlyphs">3500</text>
<text transform="translate(269.7 557.9)" font-size="7.77" text-anchor="end" fill="#3c3c3c" textLength="3.7" lengthAdjust="spacingAndGlyphs">0</text>
<text transform="translate(465.9 466.3)" font-size="10.6" text-anchor="middle" fill="#3c3c3c" textLength="164.9" lengthAdjust="spacingAndGlyphs">Medication: event-triggered average</text>
<text transform="translate(466.2 574.6)" font-size="9.2" text-anchor="middle" fill="#3c3c3c" textLength="42.7" lengthAdjust="spacingAndGlyphs">Time [min]</text>
<text transform="translate(263.6 509.6) rotate(-90)" font-size="9.2" text-anchor="middle" fill="#3c3c3c" textLength="41.3" lengthAdjust="spacingAndGlyphs">LFP power</text>
<rect x="585.2" y="469.5" width="71.5" height="14.2" fill="#fff" stroke="#5a5a5a" stroke-width="0.7"/>
<line x1="588" y1="476.6" x2="608.5" y2="476.6" stroke="#3d4450" stroke-width="1.1"/>
<text transform="translate(611 480.5)" font-size="10.8" font-weight="bold" fill="#262626" textLength="42.4" lengthAdjust="spacingAndGlyphs">Mean Power</text>
<g fill="none" stroke="#4a8fd0" stroke-width="0.8" stroke-opacity="0.1"><polyline points="274,656.4 293.2,656.9 312.5,652 331.7,658.2 351,667.5 370.2,654.3 389.4,649.7 408.7,663.8 427.9,665.8 447.2,665.3 466.4,660.2 485.6,648.6 504.9,648.8 524.1,655.5 543.4,653 562.6,656.2 581.8,655.3 601.1,660.4 620.3,666 639.6,656.2 658.8,658.7"/><polyline points="274,672 293.2,672.7 312.5,670.1 331.7,665.4 351,664.5 370.2,668.4 389.4,652.2 408.7,651 427.9,648.6 447.2,658.9 466.4,663.2 485.6,662.3 504.9,671.8 524.1,673.9 543.4,672.2 562.6,661.9 581.8,662.9 601.1,669.8 620.3,673.6 639.6,670 658.8,672.7"/><polyline points="274,633.7 293.2,639.8 312.5,647.9 331.7,629.7 351,610.5 370.2,629.3 389.4,646.6 408.7,643.1 427.9,618.2 447.2,611.8 466.4,635.7 485.6,631.3 504.9,622.9 524.1,629.7 543.4,631.3 562.6,634.3 581.8,642.1 601.1,648.3 620.3,657.4 639.6,661.5 658.8,666.6"/><polyline points="274,658.2 293.2,656.6 312.5,658 331.7,663.7 351,662.2 370.2,663.5 389.4,663.4 408.7,670.8 427.9,669.7 447.2,664.9 466.4,665 485.6,667.9 504.9,672.5 524.1,672.7 543.4,665.3 562.6,667.7 581.8,661.3 601.1,664.4 620.3,657.9 639.6,662.6 658.8,660.5"/><polyline points="274,660.4 293.2,662.7 312.5,666.7 331.7,665.9 351,666.1 370.2,665.7 389.4,660.2 408.7,664.7 427.9,666.1 447.2,666.1 466.4,665.1 485.6,667.4 504.9,663.6 524.1,668.3 543.4,657.2 562.6,658.3 581.8,650.5 601.1,661.3 620.3,663 639.6,661.7 658.8,648.5"/><polyline points="274,636.5 293.2,618.3 312.5,637.3 331.7,656.5 351,665.8 370.2,660.2 389.4,657.4 408.7,650.6 427.9,647.3 447.2,638.8 466.4,614.8 485.6,628 504.9,630.9 524.1,641.6 543.4,658.5 562.6,658 581.8,641.8 601.1,651.2 620.3,621.9 639.6,621.6 658.8,623.1"/><polyline points="274,666.3 293.2,658.6 312.5,664.5 331.7,665.2 351,669.8 370.2,667.8 389.4,644.9 408.7,637 427.9,652.8 447.2,665.2 466.4,661 485.6,657.3 504.9,663.3 524.1,655.9 543.4,656.3 562.6,654.2 581.8,652 601.1,647 620.3,656.5 639.6,663.1 658.8,654.9"/><polyline points="274,675.4 293.2,675.7 312.5,674.2 331.7,661.6 351,654.5 370.2,663.4 389.4,670.6 408.7,670.3 427.9,672.8 447.2,671.1 466.4,669.9 485.6,668 504.9,669.5 524.1,674.5 543.4,674.5 562.6,673.9 581.8,673 601.1,669.1 620.3,673.2 639.6,673.5 658.8,674.7"/><polyline points="274,652.3 293.2,633.9 312.5,662.1 331.7,649.9 351,653.9 370.2,662.3 389.4,658.9 408.7,655.8 427.9,645.1 447.2,631.6 466.4,646.8 485.6,649.6 504.9,649.5 524.1,651.1 543.4,656.3 562.6,645.7 581.8,647 601.1,660.3 620.3,657.9 639.6,659.6 658.8,661"/><polyline points="274,667.8 293.2,663.5 312.5,656.7 331.7,661 351,659.5 370.2,648.7 389.4,655 408.7,657.3 427.9,659.5 447.2,648.9 466.4,654.1 485.6,645.6 504.9,653.6 524.1,654.2 543.4,653.8 562.6,659.3 581.8,664.9 601.1,657.7 620.3,660.7 639.6,656.9 658.8,652.7"/><polyline points="274,656 293.2,657.1 312.5,658.3 331.7,659.8 351,655.8 370.2,632.2 389.4,637.7 408.7,650.3 427.9,650 447.2,620.9 466.4,627.5 485.6,601.3 504.9,632.4 524.1,647.7 543.4,658.3 562.6,662.8 581.8,660.7 601.1,657.7 620.3,666.3 639.6,668 658.8,668.2"/><polyline points="274,648.5 293.2,645.4 312.5,639.3 331.7,651.2 351,648.4 370.2,661.7 389.4,658.8 408.7,653.2 427.9,642.4 447.2,644.1 466.4,646.4 485.6,656.4 504.9,668.3 524.1,668.5 543.4,672.7 562.6,671 581.8,669.1 601.1,671.5 620.3,674 639.6,671.3 658.8,670.4"/><polyline points="274,660.8 293.2,655.1 312.5,663.1 331.7,663.3 351,647.8 370.2,658.5 389.4,660.8 408.7,649.6 427.9,645.6 447.2,653.9 466.4,652.3 485.6,659.1 504.9,654 524.1,657.9 543.4,659.3 562.6,659.1 581.8,669.5 601.1,668.4 620.3,665 639.6,663.8 658.8,665.8"/><polyline points="274,643.5 293.2,652.1 312.5,641.9 331.7,641.9 351,649.5 370.2,662.2 389.4,654.6 408.7,659.8 427.9,652.8 447.2,638.5 466.4,631.7 485.6,650.1 504.9,657.9 524.1,651.7 543.4,641.8 562.6,645.2 581.8,648.7 601.1,628.2 620.3,609.3 639.6,620.4 658.8,635.9"/><polyline points="274,672 293.2,671.9 312.5,668.4 331.7,668.2 351,674.9 370.2,669 389.4,667.7 408.7,674.6 427.9,676.8 447.2,674 466.4,676.2 485.6,673.7 504.9,676.1 524.1,678.2 543.4,674.4 562.6,669.3 581.8,671.8 601.1,666.6 620.3,667.7 639.6,667.8 658.8,670.4"/><polyline points="274,646 293.2,617 312.5,599.5 331.7,599.5 351,619.9 370.2,610.5 389.4,605.1 408.7,619.8 427.9,637.7 447.2,644.3 466.4,655.4 485.6,658 504.9,652.8 524.1,637.3 543.4,637.7 562.6,645 581.8,648.6 601.1,648.2 620.3,631.9 639.6,633 658.8,653.7"/><polyline points="274,675.8 293.2,675.2 312.5,676.7 331.7,676.4 351,673.2 370.2,675.3 389.4,672.1 408.7,669.2 427.9,667.3 447.2,671.7 466.4,668.3 485.6,668.9 504.9,668.3 524.1,670.6 543.4,667.7 562.6,674.1 581.8,673.3 601.1,671.5 620.3,661.1 639.6,672 658.8,675.5"/><polyline points="274,665.7 293.2,660.7 312.5,662.3 331.7,661.5 351,667.9 370.2,664.1 389.4,662 408.7,649.5 427.9,643.4 447.2,629.6 466.4,635.7 485.6,651.7 504.9,649.8 524.1,664.1 543.4,669.9 562.6,670.7 581.8,665.6 601.1,659.1 620.3,668.8 639.6,668.8 658.8,661.8"/><polyline points="274,677.6 293.2,674.7 312.5,676.3 331.7,677.1 351,672.3 370.2,671.2 389.4,675 408.7,672.5 427.9,668.6 447.2,671.1 466.4,671.3 485.6,669.8 504.9,670.8 524.1,667.2 543.4,664.9 562.6,664.8 581.8,661.4 601.1,668 620.3,672.9 639.6,676.4 658.8,677"/><polyline points="274,662.1 293.2,653.3 312.5,652 331.7,651.7 351,653.6 370.2,652.6 389.4,658.8 408.7,662.6 427.9,667.3 447.2,666.7 466.4,663.5 485.6,664.3 504.9,663.7 524.1,652.2 543.4,653.7 562.6,653.4 581.8,657.3 601.1,656.1 620.3,664.8 639.6,662 658.8,659"/><polyline points="274,671.9 293.2,668 312.5,667.1 331.7,673.6 351,675.5 370.2,677 389.4,675.2 408.7,672.1 427.9,672.6 447.2,676.1 466.4,675 485.6,678.1 504.9,675.7 524.1,677.2 543.4,678.2 562.6,678.9 581.8,678.1 601.1,677.3 620.3,676.1 639.6,676.1 658.8,676"/><polyline points="274,659.9 293.2,653.9 312.5,646.1 331.7,649.4 351,654.4 370.2,661.9 389.4,661 408.7,642.5 427.9,648.4 447.2,656.6 466.4,655 485.6,651.1 504.9,647.7 524.1,656.4 543.4,652 562.6,655.6 581.8,657.3 601.1,657.1 620.3,661.3 639.6,662.1 658.8,654.6"/><polyline points="274,667 293.2,666.5 312.5,666 331.7,671 351,673.9 370.2,673 389.4,673 408.7,675.5 427.9,673.4 447.2,670.1 466.4,662.5 485.6,664.7 504.9,666.9 524.1,670.6 543.4,669.5 562.6,670.5 581.8,661.1 601.1,666.9 620.3,661.1 639.6,664.4 658.8,670.2"/><polyline points="274,662.7 293.2,658 312.5,658.7 331.7,662 351,665.1 370.2,664.2 389.4,661.3 408.7,664.1 427.9,665.5 447.2,661 466.4,664.8 485.6,664.2 504.9,665.1 524.1,667.8 543.4,659.8 562.6,654 581.8,656.5 601.1,665.1 620.3,662.9 639.6,663.4 658.8,663.4"/><polyline points="274,672.9 293.2,669.9 312.5,670.2 331.7,668.7 351,670.1 370.2,671.8 389.4,673 408.7,669.8 427.9,663 447.2,654.2 466.4,655.9 485.6,657.6 504.9,669.1 524.1,674.6 543.4,674.3 562.6,670.5 581.8,664.8 601.1,666.9 620.3,671.7 639.6,671.8 658.8,671.3"/><polyline points="274,671.8 293.2,672.4 312.5,671.5 331.7,662.7 351,661.5 370.2,660 389.4,663.9 408.7,658.5 427.9,667.1 447.2,658.6 466.4,660.3 485.6,666.4 504.9,669.5 524.1,670 543.4,675.7 562.6,675 581.8,673.9 601.1,676 620.3,674.1 639.6,670 658.8,674.5"/><polyline points="274,659.8 293.2,664.2 312.5,663.5 331.7,666.9 351,665.6 370.2,662.1 389.4,664.5 408.7,659.1 427.9,624.6 447.2,611.4 466.4,631.1 485.6,640.3 504.9,659.6 524.1,662.8 543.4,666.1 562.6,669.6 581.8,674.5 601.1,667.6 620.3,665 639.6,670 658.8,666"/><polyline points="274,674.2 293.2,678.4 312.5,676.5 331.7,677.9 351,676.7 370.2,678.9 389.4,677.8 408.7,674.8 427.9,671.1 447.2,671.4 466.4,671.8 485.6,674.8 504.9,676.1 524.1,676.1 543.4,678.2 562.6,677.2 581.8,677.4 601.1,676.4 620.3,674.8 639.6,675.5 658.8,677.3"/><polyline points="274,666.5 293.2,668.3 312.5,673.2 331.7,671.2 351,674.5 370.2,673.9 389.4,670.6 408.7,668 427.9,666.5 447.2,657.1 466.4,660.9 485.6,662.4 504.9,659.4 524.1,670.4 543.4,671.6 562.6,668.4 581.8,666.9 601.1,670 620.3,668.1 639.6,666.3 658.8,667.2"/><polyline points="274,673.5 293.2,673.5 312.5,673.7 331.7,677 351,670.2 370.2,676.6 389.4,675.2 408.7,674.4 427.9,667.2 447.2,670 466.4,671 485.6,670.8 504.9,669.1 524.1,666.3 543.4,666.1 562.6,674.8 581.8,675.7 601.1,673.4 620.3,671.4 639.6,668.1 658.8,671.5"/><polyline points="274,667.7 293.2,660.3 312.5,661.1 331.7,652.6 351,654.2 370.2,651.5 389.4,662.9 408.7,666.7 427.9,656.4 447.2,659.8 466.4,647.5 485.6,641.2 504.9,659.6 524.1,662.2 543.4,662.2 562.6,665.1 581.8,672.9 601.1,670.3 620.3,669.8 639.6,673.2 658.8,672.6"/><polyline points="274,631.1 293.2,644.6 312.5,645 331.7,659.7 351,650.4 370.2,648.1 389.4,629.8 408.7,630 427.9,603 447.2,599.5 466.4,618.2 485.6,628.3 504.9,630.6 524.1,635.3 543.4,646.3 562.6,646.6 581.8,646.1 601.1,634.7 620.3,638.5 639.6,636.3 658.8,618.4"/><polyline points="274,668.7 293.2,668.4 312.5,672 331.7,669.6 351,670.8 370.2,674.8 389.4,671.4 408.7,672.9 427.9,669.5 447.2,668 466.4,666.1 485.6,673.2 504.9,674.1 524.1,673.9 543.4,663.9 562.6,661.6 581.8,662.1 601.1,656.6 620.3,661.4 639.6,664.3 658.8,668.9"/><polyline points="274,676.5 293.2,674.8 312.5,673.5 331.7,674.3 351,676 370.2,672.8 389.4,671.3 408.7,675.3 427.9,674.7 447.2,672.9 466.4,674.8 485.6,678.4 504.9,678.5 524.1,677.7 543.4,676.7 562.6,677.8 581.8,677.2 601.1,677.3 620.3,676.4 639.6,678.4 658.8,679"/><polyline points="274,660 293.2,653.9 312.5,651.6 331.7,657.9 351,642.8 370.2,652.9 389.4,659.2 408.7,655.1 427.9,645.1 447.2,641.7 466.4,651.2 485.6,661.1 504.9,656.8 524.1,655.6 543.4,661.9 562.6,663.8 581.8,653.4 601.1,646.5 620.3,665.5 639.6,666.4 658.8,656.4"/><polyline points="274,676.1 293.2,674.3 312.5,677 331.7,675.9 351,678.1 370.2,676.4 389.4,676.9 408.7,676.1 427.9,675.9 447.2,676.6 466.4,679.8 485.6,678.2 504.9,676.7 524.1,676 543.4,674.7 562.6,676.9 581.8,676.2 601.1,678.8 620.3,680 639.6,679.4 658.8,680.6"/><polyline points="274,674.9 293.2,675.6 312.5,673.7 331.7,670.7 351,674.1 370.2,674.9 389.4,672 408.7,674.3 427.9,670.7 447.2,672.7 466.4,672.8 485.6,670.2 504.9,668.1 524.1,672.7 543.4,666.2 562.6,669.3 581.8,672 601.1,669.1 620.3,668.9 639.6,660.2 658.8,666.7"/><polyline points="274,676.4 293.2,676.9 312.5,676.5 331.7,676 351,674.4 370.2,676.1 389.4,677.6 408.7,670.6 427.9,662.7 447.2,669.8 466.4,671.7 485.6,674.5 504.9,670.9 524.1,670 543.4,677.4 562.6,677.5 581.8,678.4 601.1,677.9 620.3,678.7 639.6,678.3 658.8,679.2"/><polyline points="274,668.3 293.2,672.9 312.5,670.4 331.7,667.8 351,667.2 370.2,668.6 389.4,671.9 408.7,672.1 427.9,673.6 447.2,668.8 466.4,666.7 485.6,664.4 504.9,661.6 524.1,669.4 543.4,671.7 562.6,672.9 581.8,674.3 601.1,675.5 620.3,676.6 639.6,676.1 658.8,668.7"/><polyline points="274,659.8 293.2,667.3 312.5,665.2 331.7,666.2 351,665.4 370.2,667.7 389.4,655.4 408.7,665.9 427.9,666.1 447.2,667.9 466.4,668.4 485.6,660.6 504.9,651.6 524.1,653.6 543.4,664.7 562.6,660.5 581.8,662.9 601.1,671.8 620.3,668.6 639.6,669.2 658.8,668.8"/><polyline points="274,657.5 293.2,655.7 312.5,653.2 331.7,652.3 351,653.8 370.2,639.8 389.4,650.9 408.7,651.7 427.9,628.5 447.2,633.2 466.4,625.8 485.6,601.8 504.9,632.7 524.1,655.6 543.4,670.2 562.6,667.7 581.8,665 601.1,665.5 620.3,659 639.6,645.9 658.8,644.1"/><polyline points="274,673.4 293.2,673.8 312.5,671.3 331.7,675.7 351,677.6 370.2,679.8 389.4,679.6 408.7,677.5 427.9,674.4 447.2,674.6 466.4,676.9 485.6,676 504.9,677.8 524.1,678.6 543.4,673.6 562.6,676.5 581.8,676.5 601.1,676.9 620.3,675.5 639.6,677.4 658.8,677.8"/><polyline points="274,671.5 293.2,674.4 312.5,677.3 331.7,679.2 351,677.6 370.2,678.4 389.4,678.3 408.7,675.2 427.9,673.2 447.2,675.4 466.4,672.9 485.6,672.9 504.9,674.9 524.1,669.1 543.4,672.2 562.6,673.6 581.8,672.8 601.1,672.5 620.3,672.3 639.6,673.4 658.8,674.1"/><polyline points="274,673.4 293.2,670.4 312.5,667.8 331.7,669.6 351,671.9 370.2,665.3 389.4,672 408.7,669.9 427.9,667.8 447.2,672.7 466.4,675 485.6,669.2 504.9,667.5 524.1,670.1 543.4,671 562.6,670 581.8,674.3 601.1,670.6 620.3,675.9 639.6,674.6 658.8,675.4"/><polyline points="274,655.4 293.2,648 312.5,641.1 331.7,631.8 351,636.3 370.2,653.1 389.4,650.1 408.7,664.3 427.9,646.2 447.2,641.4 466.4,643.4 485.6,664.9 504.9,658.2 524.1,661.7 543.4,663.1 562.6,668.1 581.8,675.8 601.1,674.8 620.3,671.4 639.6,671.7 658.8,666.6"/><polyline points="274,668.8 293.2,671.5 312.5,672.8 331.7,674 351,673.7 370.2,668.4 389.4,669 408.7,670.8 427.9,668.4 447.2,672.6 466.4,674.1 485.6,669.8 504.9,663.6 524.1,657.3 543.4,666.4 562.6,666.9 581.8,667.2 601.1,662.5 620.3,660.9 639.6,666.2 658.8,672.5"/><polyline points="274,674 293.2,672.7 312.5,664.9 331.7,662.8 351,668.4 370.2,671.8 389.4,676.9 408.7,674.5 427.9,666 447.2,669.1 466.4,670.1 485.6,673.4 504.9,675 524.1,672.7 543.4,669.1 562.6,673.1 581.8,672.8 601.1,677.8 620.3,678.1 639.6,677.5 658.8,673.9"/><polyline points="274,635.6 293.2,638.5 312.5,640.4 331.7,641 351,655.7 370.2,652.2 389.4,643.9 408.7,620.9 427.9,609.2 447.2,619.8 466.4,600.9 485.6,639.8 504.9,643.4 524.1,634.5 543.4,635.7 562.6,635.6 581.8,647.8 601.1,658.2 620.3,654 639.6,639.1 658.8,644.1"/></g>
<line x1="466.5" y1="594.5" x2="466.5" y2="682.8" stroke="#8e8e8e" stroke-width="0.8"/>
<polyline points="274,665.6 280.5,665 287,664.4 293.6,663.7 300.1,663.1 306.6,662.4 313.1,661.7 319.7,662 326.2,662.2 332.7,662.3 339.2,662.1 345.7,661.9 352.3,661.7 358.8,661.4 365.3,661.3 371.8,661.2 378.4,661 384.9,660.9 391.4,660.8 397.9,661 404.4,661.1 411,661.2 417.5,661.3 424,661 430.5,660.5 437.1,659.9 443.6,659.4 450.1,658.9 456.6,658.8 463.1,659.8 469.7,660.5 476.2,661 482.7,661.6 489.2,662.1 495.7,662.6 502.3,663.1 508.8,663.6 515.3,664.1 521.8,664.5 528.4,664.6 534.9,664.7 541.4,664.8 547.9,665 554.4,665.4 561,665.9 567.5,666.3 574,666.4 580.5,666.3 587.1,666.2 593.6,666 600.1,665.9 606.6,665.8 613.1,665.6 619.7,665.4 626.2,665.2 632.7,664.9 639.2,664.7 645.8,664.4 652.3,664.1 658.8,663.8" fill="none" stroke="#3d4854" stroke-width="1" stroke-linejoin="round"/>
<line x1="274" y1="594.5" x2="274" y2="682.8" stroke="#c2c2c2" stroke-width="1.6"/>
<line x1="274" y1="682.8" x2="658.8" y2="682.8" stroke="#b0b0b0" stroke-width="0.9"/>
<line x1="274" y1="594.5" x2="658.8" y2="594.5" stroke="#e4e4e4" stroke-width="0.6"/>
<line x1="658.8" y1="594.5" x2="658.8" y2="682.8" stroke="#e4e4e4" stroke-width="0.6"/>
<line x1="274" y1="668.1" x2="277.4" y2="668.1" stroke="#a0a0a0" stroke-width="0.7"/>
<line x1="274" y1="653.4" x2="277.4" y2="653.4" stroke="#a0a0a0" stroke-width="0.7"/>
<line x1="274" y1="638.6" x2="277.4" y2="638.6" stroke="#a0a0a0" stroke-width="0.7"/>
<line x1="274" y1="623.9" x2="277.4" y2="623.9" stroke="#a0a0a0" stroke-width="0.7"/>
<line x1="274" y1="609.2" x2="277.4" y2="609.2" stroke="#a0a0a0" stroke-width="0.7"/>
<line x1="274" y1="594.5" x2="277.4" y2="594.5" stroke="#a0a0a0" stroke-width="0.7"/>
<line x1="274" y1="682.8" x2="274" y2="679.8" stroke="#a0a0a0" stroke-width="0.7"/>
<text transform="translate(271.2 694.5)" font-size="7.77" text-anchor="middle" fill="#3c3c3c" textLength="13.3" lengthAdjust="spacingAndGlyphs">-100</text>
<line x1="312.5" y1="682.8" x2="312.5" y2="679.8" stroke="#a0a0a0" stroke-width="0.7"/>
<text transform="translate(312.5 693.2)" font-size="7.77" text-anchor="middle" fill="#3c3c3c" textLength="7.4" lengthAdjust="spacingAndGlyphs">80</text>
<line x1="351" y1="682.8" x2="351" y2="679.8" stroke="#a0a0a0" stroke-width="0.7"/>
<text transform="translate(351 693.2)" font-size="7.77" text-anchor="middle" fill="#3c3c3c" textLength="7.4" lengthAdjust="spacingAndGlyphs">60</text>
<line x1="389.4" y1="682.8" x2="389.4" y2="679.8" stroke="#a0a0a0" stroke-width="0.7"/>
<text transform="translate(389.4 693.2)" font-size="7.77" text-anchor="middle" fill="#3c3c3c" textLength="7.4" lengthAdjust="spacingAndGlyphs">40</text>
<line x1="427.9" y1="682.8" x2="427.9" y2="679.8" stroke="#a0a0a0" stroke-width="0.7"/>
<text transform="translate(427.9 693.2)" font-size="7.77" text-anchor="middle" fill="#3c3c3c" textLength="7.4" lengthAdjust="spacingAndGlyphs">20</text>
<line x1="466.4" y1="682.8" x2="466.4" y2="679.8" stroke="#a0a0a0" stroke-width="0.7"/>
<text transform="translate(466.4 693.2)" font-size="7.77" text-anchor="middle" fill="#3c3c3c" textLength="3.7" lengthAdjust="spacingAndGlyphs">0</text>
<line x1="504.9" y1="682.8" x2="504.9" y2="679.8" stroke="#a0a0a0" stroke-width="0.7"/>
<text transform="translate(504.9 693.2)" font-size="7.77" text-anchor="middle" fill="#3c3c3c" textLength="7.4" lengthAdjust="spacingAndGlyphs">20</text>
<line x1="543.4" y1="682.8" x2="543.4" y2="679.8" stroke="#a0a0a0" stroke-width="0.7"/>
<text transform="translate(543.4 693.2)" font-size="7.77" text-anchor="middle" fill="#3c3c3c" textLength="7.4" lengthAdjust="spacingAndGlyphs">40</text>
<line x1="581.8" y1="682.8" x2="581.8" y2="679.8" stroke="#a0a0a0" stroke-width="0.7"/>
<text transform="translate(581.8 693.2)" font-size="7.77" text-anchor="middle" fill="#3c3c3c" textLength="7.4" lengthAdjust="spacingAndGlyphs">60</text>
<line x1="620.3" y1="682.8" x2="620.3" y2="679.8" stroke="#a0a0a0" stroke-width="0.7"/>
<text transform="translate(620.3 693.2)" font-size="7.77" text-anchor="middle" fill="#3c3c3c" textLength="7.4" lengthAdjust="spacingAndGlyphs">80</text>
<line x1="658.8" y1="682.8" x2="658.8" y2="679.8" stroke="#a0a0a0" stroke-width="0.7"/>
<text transform="translate(654.2 693.2)" font-size="7.77" text-anchor="middle" fill="#3c3c3c" textLength="11.1" lengthAdjust="spacingAndGlyphs">100</text>
<text transform="translate(270.5 597.1)" font-size="7.77" text-anchor="end" fill="#3c3c3c" textLength="14.4" lengthAdjust="spacingAndGlyphs">3500</text>
<text transform="translate(270 683.6)" font-size="7.77" text-anchor="end" fill="#3c3c3c" textLength="3.7" lengthAdjust="spacingAndGlyphs">0</text>
<text transform="translate(463.4 594)" font-size="10.6" text-anchor="middle" fill="#3c3c3c" textLength="161.2" lengthAdjust="spacingAndGlyphs">I feel stuck: event-triggered average</text>
<text transform="translate(466.4 702.9)" font-size="9.2" text-anchor="middle" fill="#3c3c3c" textLength="42.7" lengthAdjust="spacingAndGlyphs">Time [min]</text>
<text transform="translate(261.6 636.6) rotate(-90)" font-size="9.2" text-anchor="middle" fill="#3c3c3c" textLength="41.3" lengthAdjust="spacingAndGlyphs">LFP power</text>
<rect x="581.9" y="597.2" width="71.5" height="14.1" fill="#fff" stroke="#5a5a5a" stroke-width="0.7"/>
<line x1="584.7" y1="604.2" x2="605.2" y2="604.2" stroke="#3d4450" stroke-width="1.1"/>
<text transform="translate(607.7 608.1)" font-size="10.8" font-weight="bold" fill="#262626" textLength="42.4" lengthAdjust="spacingAndGlyphs">Mean Power</text>
</g>
</svg>
</body></html>
